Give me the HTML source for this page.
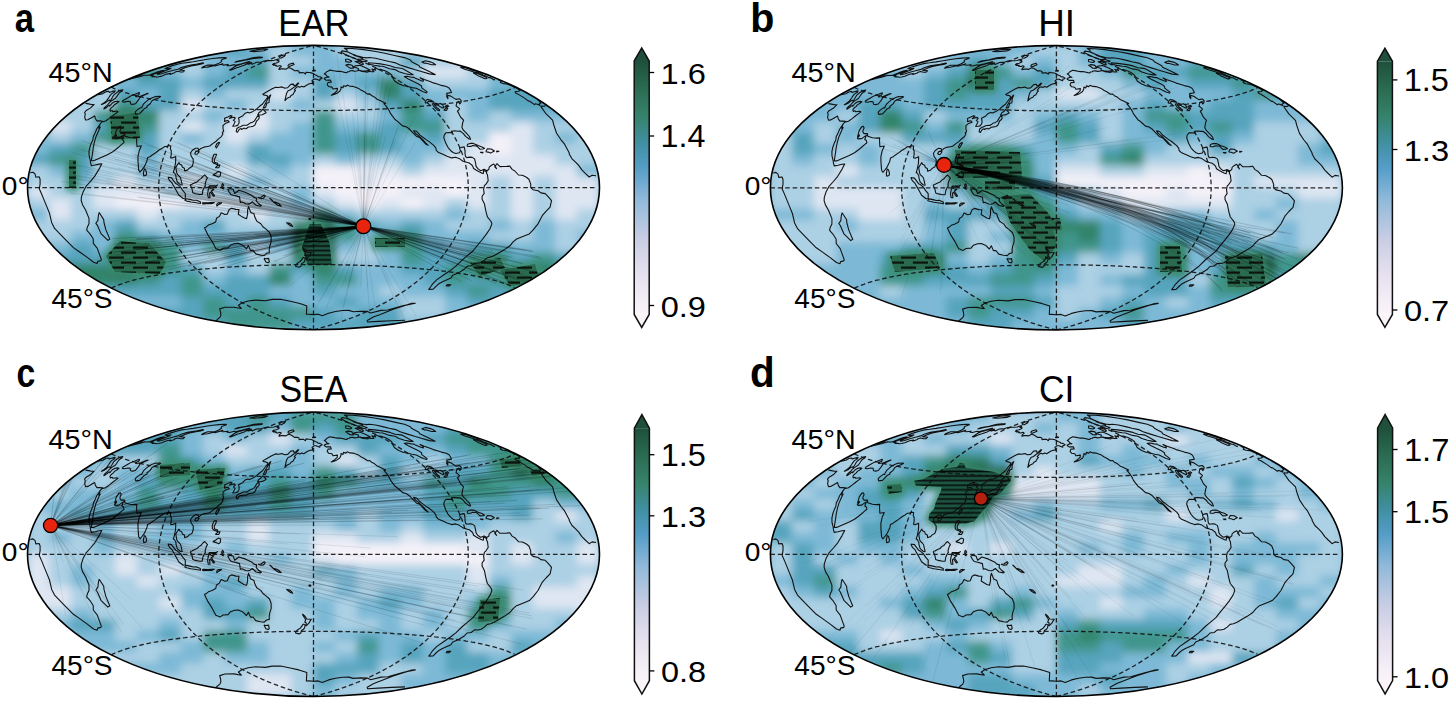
<!DOCTYPE html><html><head><meta charset="utf-8"><style>html,body{margin:0;padding:0;background:#fff;width:1450px;height:701px;overflow:hidden}svg{display:block}text{font-family:"Liberation Sans",sans-serif}</style></head><body>
<svg width="1450" height="701" viewBox="0 0 1450 701">
<defs><filter id="bl" x="-5%" y="-5%" width="110%" height="110%"><feGaussianBlur stdDeviation="4"/></filter><linearGradient id="cbg" x1="0" y1="0" x2="0" y2="1"><stop offset="0.000" stop-color="#1e503c"/><stop offset="0.110" stop-color="#2b6c52"/><stop offset="0.220" stop-color="#36836c"/><stop offset="0.320" stop-color="#408fa0"/><stop offset="0.420" stop-color="#549dc8"/><stop offset="0.550" stop-color="#92bada"/><stop offset="0.700" stop-color="#c8cde4"/><stop offset="0.850" stop-color="#e8e2f0"/><stop offset="1.000" stop-color="#faf4f9"/></linearGradient><clipPath id="clipa"><ellipse cx="313.5" cy="187.6" rx="286.0" ry="142.2"/></clipPath><clipPath id="clipb"><ellipse cx="1056.4" cy="187.8" rx="286.0" ry="142.2"/></clipPath><clipPath id="clipc"><ellipse cx="313.5" cy="554.3" rx="286.0" ry="142.2"/></clipPath><clipPath id="clipd"><ellipse cx="1056.4" cy="554.3" rx="286.0" ry="142.2"/></clipPath><pattern id="stp" width="24" height="10" patternUnits="userSpaceOnUse"><rect width="24" height="10" fill="#2a6a50"/><rect x="1" y="1.5" width="15" height="2.2" fill="#08140f"/><rect x="13" y="6.5" width="15" height="2.2" fill="#08140f"/><rect x="-11" y="6.5" width="15" height="2.2" fill="#08140f"/></pattern><pattern id="stp2" width="8" height="4.6" patternUnits="userSpaceOnUse"><rect width="8" height="4.6" fill="#1f5541"/><rect y="1.4" width="8" height="1.7" fill="#06100c"/></pattern><filter id="bl3" x="-20%" y="-20%" width="140%" height="140%"><feGaussianBlur stdDeviation="3"/></filter><filter id="bl1" x="-10%" y="-10%" width="120%" height="120%"><feGaussianBlur stdDeviation="0.7"/></filter></defs>
<g clip-path="url(#clipa)">
<rect x="27.5" y="45.4" width="572.0" height="284.4" fill="#7db9d6"/>
<g filter="url(#bl)"><rect x="27" y="44.9" width="23" height="11.9" fill="#7db9d6"/><rect x="49" y="44.9" width="23" height="11.9" fill="#7db9d6"/><rect x="71" y="44.9" width="23" height="11.9" fill="#7db9d6"/><rect x="93" y="44.9" width="23" height="11.9" fill="#7db9d6"/><rect x="115" y="44.9" width="23" height="11.9" fill="#7db9d6"/><rect x="137" y="44.9" width="23" height="11.9" fill="#7db9d6"/><rect x="159" y="44.9" width="23" height="11.9" fill="#7db9d6"/><rect x="181" y="44.9" width="23" height="11.9" fill="#7db9d6"/><rect x="203" y="44.9" width="23" height="11.9" fill="#7db9d6"/><rect x="225" y="44.9" width="23" height="11.9" fill="#56a4be"/><rect x="247" y="44.9" width="23" height="11.9" fill="#7db9d6"/><rect x="269" y="44.9" width="23" height="11.9" fill="#acd0e4"/><rect x="291" y="44.9" width="23" height="11.9" fill="#7db9d6"/><rect x="313" y="44.9" width="23" height="11.9" fill="#7db9d6"/><rect x="335" y="44.9" width="23" height="11.9" fill="#acd0e4"/><rect x="357" y="44.9" width="23" height="11.9" fill="#acd0e4"/><rect x="379" y="44.9" width="23" height="11.9" fill="#acd0e4"/><rect x="401" y="44.9" width="23" height="11.9" fill="#acd0e4"/><rect x="423" y="44.9" width="23" height="11.9" fill="#acd0e4"/><rect x="445" y="44.9" width="23" height="11.9" fill="#acd0e4"/><rect x="467" y="44.9" width="23" height="11.9" fill="#acd0e4"/><rect x="489" y="44.9" width="23" height="11.9" fill="#acd0e4"/><rect x="511" y="44.9" width="23" height="11.9" fill="#acd0e4"/><rect x="533" y="44.9" width="23" height="11.9" fill="#acd0e4"/><rect x="555" y="44.9" width="23" height="11.9" fill="#acd0e4"/><rect x="577" y="44.9" width="23" height="11.9" fill="#acd0e4"/><rect x="27" y="55.8" width="23" height="11.9" fill="#7db9d6"/><rect x="49" y="55.8" width="23" height="11.9" fill="#7db9d6"/><rect x="71" y="55.8" width="23" height="11.9" fill="#7db9d6"/><rect x="93" y="55.8" width="23" height="11.9" fill="#7db9d6"/><rect x="115" y="55.8" width="23" height="11.9" fill="#7db9d6"/><rect x="137" y="55.8" width="23" height="11.9" fill="#7db9d6"/><rect x="159" y="55.8" width="23" height="11.9" fill="#56a4be"/><rect x="181" y="55.8" width="23" height="11.9" fill="#acd0e4"/><rect x="203" y="55.8" width="23" height="11.9" fill="#7db9d6"/><rect x="225" y="55.8" width="23" height="11.9" fill="#7db9d6"/><rect x="247" y="55.8" width="23" height="11.9" fill="#56a4be"/><rect x="269" y="55.8" width="23" height="11.9" fill="#acd0e4"/><rect x="291" y="55.8" width="23" height="11.9" fill="#acd0e4"/><rect x="313" y="55.8" width="23" height="11.9" fill="#7db9d6"/><rect x="335" y="55.8" width="23" height="11.9" fill="#7db9d6"/><rect x="357" y="55.8" width="23" height="11.9" fill="#acd0e4"/><rect x="379" y="55.8" width="23" height="11.9" fill="#acd0e4"/><rect x="401" y="55.8" width="23" height="11.9" fill="#56a4be"/><rect x="423" y="55.8" width="23" height="11.9" fill="#acd0e4"/><rect x="445" y="55.8" width="23" height="11.9" fill="#acd0e4"/><rect x="467" y="55.8" width="23" height="11.9" fill="#acd0e4"/><rect x="489" y="55.8" width="23" height="11.9" fill="#acd0e4"/><rect x="511" y="55.8" width="23" height="11.9" fill="#acd0e4"/><rect x="533" y="55.8" width="23" height="11.9" fill="#acd0e4"/><rect x="555" y="55.8" width="23" height="11.9" fill="#acd0e4"/><rect x="577" y="55.8" width="23" height="11.9" fill="#acd0e4"/><rect x="27" y="66.8" width="23" height="11.9" fill="#56a4be"/><rect x="49" y="66.8" width="23" height="11.9" fill="#56a4be"/><rect x="71" y="66.8" width="23" height="11.9" fill="#56a4be"/><rect x="93" y="66.8" width="23" height="11.9" fill="#56a4be"/><rect x="115" y="66.8" width="23" height="11.9" fill="#56a4be"/><rect x="137" y="66.8" width="23" height="11.9" fill="#40968c"/><rect x="159" y="66.8" width="23" height="11.9" fill="#7db9d6"/><rect x="181" y="66.8" width="23" height="11.9" fill="#acd0e4"/><rect x="203" y="66.8" width="23" height="11.9" fill="#7db9d6"/><rect x="225" y="66.8" width="23" height="11.9" fill="#56a4be"/><rect x="247" y="66.8" width="23" height="11.9" fill="#40968c"/><rect x="269" y="66.8" width="23" height="11.9" fill="#acd0e4"/><rect x="291" y="66.8" width="23" height="11.9" fill="#7db9d6"/><rect x="313" y="66.8" width="23" height="11.9" fill="#7db9d6"/><rect x="335" y="66.8" width="23" height="11.9" fill="#7db9d6"/><rect x="357" y="66.8" width="23" height="11.9" fill="#7db9d6"/><rect x="379" y="66.8" width="23" height="11.9" fill="#7db9d6"/><rect x="401" y="66.8" width="23" height="11.9" fill="#acd0e4"/><rect x="423" y="66.8" width="23" height="11.9" fill="#dee6f2"/><rect x="445" y="66.8" width="23" height="11.9" fill="#dee6f2"/><rect x="467" y="66.8" width="23" height="11.9" fill="#acd0e4"/><rect x="489" y="66.8" width="23" height="11.9" fill="#56a4be"/><rect x="511" y="66.8" width="23" height="11.9" fill="#7db9d6"/><rect x="533" y="66.8" width="23" height="11.9" fill="#7db9d6"/><rect x="555" y="66.8" width="23" height="11.9" fill="#7db9d6"/><rect x="577" y="66.8" width="23" height="11.9" fill="#7db9d6"/><rect x="27" y="77.7" width="23" height="11.9" fill="#7db9d6"/><rect x="49" y="77.7" width="23" height="11.9" fill="#7db9d6"/><rect x="71" y="77.7" width="23" height="11.9" fill="#7db9d6"/><rect x="93" y="77.7" width="23" height="11.9" fill="#7db9d6"/><rect x="115" y="77.7" width="23" height="11.9" fill="#7db9d6"/><rect x="137" y="77.7" width="23" height="11.9" fill="#56a4be"/><rect x="159" y="77.7" width="23" height="11.9" fill="#56a4be"/><rect x="181" y="77.7" width="23" height="11.9" fill="#7db9d6"/><rect x="203" y="77.7" width="23" height="11.9" fill="#56a4be"/><rect x="225" y="77.7" width="23" height="11.9" fill="#56a4be"/><rect x="247" y="77.7" width="23" height="11.9" fill="#56a4be"/><rect x="269" y="77.7" width="23" height="11.9" fill="#acd0e4"/><rect x="291" y="77.7" width="23" height="11.9" fill="#acd0e4"/><rect x="313" y="77.7" width="23" height="11.9" fill="#56a4be"/><rect x="335" y="77.7" width="23" height="11.9" fill="#7db9d6"/><rect x="357" y="77.7" width="23" height="11.9" fill="#56a4be"/><rect x="379" y="77.7" width="23" height="11.9" fill="#32846a"/><rect x="401" y="77.7" width="23" height="11.9" fill="#56a4be"/><rect x="423" y="77.7" width="23" height="11.9" fill="#acd0e4"/><rect x="445" y="77.7" width="23" height="11.9" fill="#acd0e4"/><rect x="467" y="77.7" width="23" height="11.9" fill="#acd0e4"/><rect x="489" y="77.7" width="23" height="11.9" fill="#7db9d6"/><rect x="511" y="77.7" width="23" height="11.9" fill="#56a4be"/><rect x="533" y="77.7" width="23" height="11.9" fill="#56a4be"/><rect x="555" y="77.7" width="23" height="11.9" fill="#56a4be"/><rect x="577" y="77.7" width="23" height="11.9" fill="#56a4be"/><rect x="27" y="88.7" width="23" height="11.9" fill="#7db9d6"/><rect x="49" y="88.7" width="23" height="11.9" fill="#7db9d6"/><rect x="71" y="88.7" width="23" height="11.9" fill="#7db9d6"/><rect x="93" y="88.7" width="23" height="11.9" fill="#acd0e4"/><rect x="115" y="88.7" width="23" height="11.9" fill="#56a4be"/><rect x="137" y="88.7" width="23" height="11.9" fill="#7db9d6"/><rect x="159" y="88.7" width="23" height="11.9" fill="#56a4be"/><rect x="181" y="88.7" width="23" height="11.9" fill="#acd0e4"/><rect x="203" y="88.7" width="23" height="11.9" fill="#7db9d6"/><rect x="225" y="88.7" width="23" height="11.9" fill="#acd0e4"/><rect x="247" y="88.7" width="23" height="11.9" fill="#acd0e4"/><rect x="269" y="88.7" width="23" height="11.9" fill="#dee6f2"/><rect x="291" y="88.7" width="23" height="11.9" fill="#acd0e4"/><rect x="313" y="88.7" width="23" height="11.9" fill="#56a4be"/><rect x="335" y="88.7" width="23" height="11.9" fill="#acd0e4"/><rect x="357" y="88.7" width="23" height="11.9" fill="#7db9d6"/><rect x="379" y="88.7" width="23" height="11.9" fill="#32846a"/><rect x="401" y="88.7" width="23" height="11.9" fill="#56a4be"/><rect x="423" y="88.7" width="23" height="11.9" fill="#7db9d6"/><rect x="445" y="88.7" width="23" height="11.9" fill="#7db9d6"/><rect x="467" y="88.7" width="23" height="11.9" fill="#7db9d6"/><rect x="489" y="88.7" width="23" height="11.9" fill="#56a4be"/><rect x="511" y="88.7" width="23" height="11.9" fill="#56a4be"/><rect x="533" y="88.7" width="23" height="11.9" fill="#56a4be"/><rect x="555" y="88.7" width="23" height="11.9" fill="#56a4be"/><rect x="577" y="88.7" width="23" height="11.9" fill="#56a4be"/><rect x="27" y="99.6" width="23" height="11.9" fill="#7db9d6"/><rect x="49" y="99.6" width="23" height="11.9" fill="#7db9d6"/><rect x="71" y="99.6" width="23" height="11.9" fill="#acd0e4"/><rect x="93" y="99.6" width="23" height="11.9" fill="#acd0e4"/><rect x="115" y="99.6" width="23" height="11.9" fill="#40968c"/><rect x="137" y="99.6" width="23" height="11.9" fill="#56a4be"/><rect x="159" y="99.6" width="23" height="11.9" fill="#56a4be"/><rect x="181" y="99.6" width="23" height="11.9" fill="#dee6f2"/><rect x="203" y="99.6" width="23" height="11.9" fill="#acd0e4"/><rect x="225" y="99.6" width="23" height="11.9" fill="#7db9d6"/><rect x="247" y="99.6" width="23" height="11.9" fill="#acd0e4"/><rect x="269" y="99.6" width="23" height="11.9" fill="#acd0e4"/><rect x="291" y="99.6" width="23" height="11.9" fill="#7db9d6"/><rect x="313" y="99.6" width="23" height="11.9" fill="#acd0e4"/><rect x="335" y="99.6" width="23" height="11.9" fill="#dee6f2"/><rect x="357" y="99.6" width="23" height="11.9" fill="#acd0e4"/><rect x="379" y="99.6" width="23" height="11.9" fill="#56a4be"/><rect x="401" y="99.6" width="23" height="11.9" fill="#32846a"/><rect x="423" y="99.6" width="23" height="11.9" fill="#7db9d6"/><rect x="445" y="99.6" width="23" height="11.9" fill="#acd0e4"/><rect x="467" y="99.6" width="23" height="11.9" fill="#7db9d6"/><rect x="489" y="99.6" width="23" height="11.9" fill="#56a4be"/><rect x="511" y="99.6" width="23" height="11.9" fill="#56a4be"/><rect x="533" y="99.6" width="23" height="11.9" fill="#56a4be"/><rect x="555" y="99.6" width="23" height="11.9" fill="#7db9d6"/><rect x="577" y="99.6" width="23" height="11.9" fill="#7db9d6"/><rect x="27" y="110.5" width="23" height="11.9" fill="#acd0e4"/><rect x="49" y="110.5" width="23" height="11.9" fill="#acd0e4"/><rect x="71" y="110.5" width="23" height="11.9" fill="#acd0e4"/><rect x="93" y="110.5" width="23" height="11.9" fill="#40968c"/><rect x="115" y="110.5" width="23" height="11.9" fill="#26644b"/><rect x="137" y="110.5" width="23" height="11.9" fill="#32846a"/><rect x="159" y="110.5" width="23" height="11.9" fill="#acd0e4"/><rect x="181" y="110.5" width="23" height="11.9" fill="#acd0e4"/><rect x="203" y="110.5" width="23" height="11.9" fill="#7db9d6"/><rect x="225" y="110.5" width="23" height="11.9" fill="#acd0e4"/><rect x="247" y="110.5" width="23" height="11.9" fill="#dee6f2"/><rect x="269" y="110.5" width="23" height="11.9" fill="#acd0e4"/><rect x="291" y="110.5" width="23" height="11.9" fill="#acd0e4"/><rect x="313" y="110.5" width="23" height="11.9" fill="#40968c"/><rect x="335" y="110.5" width="23" height="11.9" fill="#acd0e4"/><rect x="357" y="110.5" width="23" height="11.9" fill="#acd0e4"/><rect x="379" y="110.5" width="23" height="11.9" fill="#7db9d6"/><rect x="401" y="110.5" width="23" height="11.9" fill="#40968c"/><rect x="423" y="110.5" width="23" height="11.9" fill="#56a4be"/><rect x="445" y="110.5" width="23" height="11.9" fill="#acd0e4"/><rect x="467" y="110.5" width="23" height="11.9" fill="#7db9d6"/><rect x="489" y="110.5" width="23" height="11.9" fill="#acd0e4"/><rect x="511" y="110.5" width="23" height="11.9" fill="#7db9d6"/><rect x="533" y="110.5" width="23" height="11.9" fill="#7db9d6"/><rect x="555" y="110.5" width="23" height="11.9" fill="#7db9d6"/><rect x="577" y="110.5" width="23" height="11.9" fill="#7db9d6"/><rect x="27" y="121.5" width="23" height="11.9" fill="#7db9d6"/><rect x="49" y="121.5" width="23" height="11.9" fill="#dee6f2"/><rect x="71" y="121.5" width="23" height="11.9" fill="#acd0e4"/><rect x="93" y="121.5" width="23" height="11.9" fill="#56a4be"/><rect x="115" y="121.5" width="23" height="11.9" fill="#26644b"/><rect x="137" y="121.5" width="23" height="11.9" fill="#40968c"/><rect x="159" y="121.5" width="23" height="11.9" fill="#acd0e4"/><rect x="181" y="121.5" width="23" height="11.9" fill="#dee6f2"/><rect x="203" y="121.5" width="23" height="11.9" fill="#acd0e4"/><rect x="225" y="121.5" width="23" height="11.9" fill="#dee6f2"/><rect x="247" y="121.5" width="23" height="11.9" fill="#dee6f2"/><rect x="269" y="121.5" width="23" height="11.9" fill="#acd0e4"/><rect x="291" y="121.5" width="23" height="11.9" fill="#7db9d6"/><rect x="313" y="121.5" width="23" height="11.9" fill="#40968c"/><rect x="335" y="121.5" width="23" height="11.9" fill="#7db9d6"/><rect x="357" y="121.5" width="23" height="11.9" fill="#7db9d6"/><rect x="379" y="121.5" width="23" height="11.9" fill="#56a4be"/><rect x="401" y="121.5" width="23" height="11.9" fill="#40968c"/><rect x="423" y="121.5" width="23" height="11.9" fill="#40968c"/><rect x="445" y="121.5" width="23" height="11.9" fill="#acd0e4"/><rect x="467" y="121.5" width="23" height="11.9" fill="#acd0e4"/><rect x="489" y="121.5" width="23" height="11.9" fill="#acd0e4"/><rect x="511" y="121.5" width="23" height="11.9" fill="#dee6f2"/><rect x="533" y="121.5" width="23" height="11.9" fill="#acd0e4"/><rect x="555" y="121.5" width="23" height="11.9" fill="#acd0e4"/><rect x="577" y="121.5" width="23" height="11.9" fill="#7db9d6"/><rect x="27" y="132.4" width="23" height="11.9" fill="#7db9d6"/><rect x="49" y="132.4" width="23" height="11.9" fill="#acd0e4"/><rect x="71" y="132.4" width="23" height="11.9" fill="#7db9d6"/><rect x="93" y="132.4" width="23" height="11.9" fill="#40968c"/><rect x="115" y="132.4" width="23" height="11.9" fill="#40968c"/><rect x="137" y="132.4" width="23" height="11.9" fill="#56a4be"/><rect x="159" y="132.4" width="23" height="11.9" fill="#acd0e4"/><rect x="181" y="132.4" width="23" height="11.9" fill="#7db9d6"/><rect x="203" y="132.4" width="23" height="11.9" fill="#acd0e4"/><rect x="225" y="132.4" width="23" height="11.9" fill="#dee6f2"/><rect x="247" y="132.4" width="23" height="11.9" fill="#acd0e4"/><rect x="269" y="132.4" width="23" height="11.9" fill="#7db9d6"/><rect x="291" y="132.4" width="23" height="11.9" fill="#7db9d6"/><rect x="313" y="132.4" width="23" height="11.9" fill="#40968c"/><rect x="335" y="132.4" width="23" height="11.9" fill="#56a4be"/><rect x="357" y="132.4" width="23" height="11.9" fill="#40968c"/><rect x="379" y="132.4" width="23" height="11.9" fill="#56a4be"/><rect x="401" y="132.4" width="23" height="11.9" fill="#7db9d6"/><rect x="423" y="132.4" width="23" height="11.9" fill="#56a4be"/><rect x="445" y="132.4" width="23" height="11.9" fill="#acd0e4"/><rect x="467" y="132.4" width="23" height="11.9" fill="#acd0e4"/><rect x="489" y="132.4" width="23" height="11.9" fill="#f4f1f8"/><rect x="511" y="132.4" width="23" height="11.9" fill="#dee6f2"/><rect x="533" y="132.4" width="23" height="11.9" fill="#acd0e4"/><rect x="555" y="132.4" width="23" height="11.9" fill="#7db9d6"/><rect x="577" y="132.4" width="23" height="11.9" fill="#acd0e4"/><rect x="27" y="143.3" width="23" height="11.9" fill="#7db9d6"/><rect x="49" y="143.3" width="23" height="11.9" fill="#56a4be"/><rect x="71" y="143.3" width="23" height="11.9" fill="#40968c"/><rect x="93" y="143.3" width="23" height="11.9" fill="#acd0e4"/><rect x="115" y="143.3" width="23" height="11.9" fill="#acd0e4"/><rect x="137" y="143.3" width="23" height="11.9" fill="#56a4be"/><rect x="159" y="143.3" width="23" height="11.9" fill="#acd0e4"/><rect x="181" y="143.3" width="23" height="11.9" fill="#acd0e4"/><rect x="203" y="143.3" width="23" height="11.9" fill="#acd0e4"/><rect x="225" y="143.3" width="23" height="11.9" fill="#acd0e4"/><rect x="247" y="143.3" width="23" height="11.9" fill="#56a4be"/><rect x="269" y="143.3" width="23" height="11.9" fill="#7db9d6"/><rect x="291" y="143.3" width="23" height="11.9" fill="#7db9d6"/><rect x="313" y="143.3" width="23" height="11.9" fill="#40968c"/><rect x="335" y="143.3" width="23" height="11.9" fill="#56a4be"/><rect x="357" y="143.3" width="23" height="11.9" fill="#40968c"/><rect x="379" y="143.3" width="23" height="11.9" fill="#56a4be"/><rect x="401" y="143.3" width="23" height="11.9" fill="#7db9d6"/><rect x="423" y="143.3" width="23" height="11.9" fill="#7db9d6"/><rect x="445" y="143.3" width="23" height="11.9" fill="#acd0e4"/><rect x="467" y="143.3" width="23" height="11.9" fill="#dee6f2"/><rect x="489" y="143.3" width="23" height="11.9" fill="#f4f1f8"/><rect x="511" y="143.3" width="23" height="11.9" fill="#dee6f2"/><rect x="533" y="143.3" width="23" height="11.9" fill="#acd0e4"/><rect x="555" y="143.3" width="23" height="11.9" fill="#acd0e4"/><rect x="577" y="143.3" width="23" height="11.9" fill="#acd0e4"/><rect x="27" y="154.3" width="23" height="11.9" fill="#56a4be"/><rect x="49" y="154.3" width="23" height="11.9" fill="#40968c"/><rect x="71" y="154.3" width="23" height="11.9" fill="#56a4be"/><rect x="93" y="154.3" width="23" height="11.9" fill="#acd0e4"/><rect x="115" y="154.3" width="23" height="11.9" fill="#acd0e4"/><rect x="137" y="154.3" width="23" height="11.9" fill="#7db9d6"/><rect x="159" y="154.3" width="23" height="11.9" fill="#acd0e4"/><rect x="181" y="154.3" width="23" height="11.9" fill="#acd0e4"/><rect x="203" y="154.3" width="23" height="11.9" fill="#acd0e4"/><rect x="225" y="154.3" width="23" height="11.9" fill="#acd0e4"/><rect x="247" y="154.3" width="23" height="11.9" fill="#56a4be"/><rect x="269" y="154.3" width="23" height="11.9" fill="#56a4be"/><rect x="291" y="154.3" width="23" height="11.9" fill="#7db9d6"/><rect x="313" y="154.3" width="23" height="11.9" fill="#acd0e4"/><rect x="335" y="154.3" width="23" height="11.9" fill="#7db9d6"/><rect x="357" y="154.3" width="23" height="11.9" fill="#acd0e4"/><rect x="379" y="154.3" width="23" height="11.9" fill="#acd0e4"/><rect x="401" y="154.3" width="23" height="11.9" fill="#7db9d6"/><rect x="423" y="154.3" width="23" height="11.9" fill="#acd0e4"/><rect x="445" y="154.3" width="23" height="11.9" fill="#dee6f2"/><rect x="467" y="154.3" width="23" height="11.9" fill="#dee6f2"/><rect x="489" y="154.3" width="23" height="11.9" fill="#dee6f2"/><rect x="511" y="154.3" width="23" height="11.9" fill="#dee6f2"/><rect x="533" y="154.3" width="23" height="11.9" fill="#dee6f2"/><rect x="555" y="154.3" width="23" height="11.9" fill="#acd0e4"/><rect x="577" y="154.3" width="23" height="11.9" fill="#acd0e4"/><rect x="27" y="165.2" width="23" height="11.9" fill="#acd0e4"/><rect x="49" y="165.2" width="23" height="11.9" fill="#7db9d6"/><rect x="71" y="165.2" width="23" height="11.9" fill="#56a4be"/><rect x="93" y="165.2" width="23" height="11.9" fill="#acd0e4"/><rect x="115" y="165.2" width="23" height="11.9" fill="#acd0e4"/><rect x="137" y="165.2" width="23" height="11.9" fill="#7db9d6"/><rect x="159" y="165.2" width="23" height="11.9" fill="#acd0e4"/><rect x="181" y="165.2" width="23" height="11.9" fill="#acd0e4"/><rect x="203" y="165.2" width="23" height="11.9" fill="#acd0e4"/><rect x="225" y="165.2" width="23" height="11.9" fill="#dee6f2"/><rect x="247" y="165.2" width="23" height="11.9" fill="#acd0e4"/><rect x="269" y="165.2" width="23" height="11.9" fill="#7db9d6"/><rect x="291" y="165.2" width="23" height="11.9" fill="#acd0e4"/><rect x="313" y="165.2" width="23" height="11.9" fill="#f4f1f8"/><rect x="335" y="165.2" width="23" height="11.9" fill="#f4f1f8"/><rect x="357" y="165.2" width="23" height="11.9" fill="#dee6f2"/><rect x="379" y="165.2" width="23" height="11.9" fill="#dee6f2"/><rect x="401" y="165.2" width="23" height="11.9" fill="#acd0e4"/><rect x="423" y="165.2" width="23" height="11.9" fill="#dee6f2"/><rect x="445" y="165.2" width="23" height="11.9" fill="#dee6f2"/><rect x="467" y="165.2" width="23" height="11.9" fill="#dee6f2"/><rect x="489" y="165.2" width="23" height="11.9" fill="#dee6f2"/><rect x="511" y="165.2" width="23" height="11.9" fill="#dee6f2"/><rect x="533" y="165.2" width="23" height="11.9" fill="#dee6f2"/><rect x="555" y="165.2" width="23" height="11.9" fill="#dee6f2"/><rect x="577" y="165.2" width="23" height="11.9" fill="#7db9d6"/><rect x="27" y="176.2" width="23" height="11.9" fill="#acd0e4"/><rect x="49" y="176.2" width="23" height="11.9" fill="#acd0e4"/><rect x="71" y="176.2" width="23" height="11.9" fill="#7db9d6"/><rect x="93" y="176.2" width="23" height="11.9" fill="#acd0e4"/><rect x="115" y="176.2" width="23" height="11.9" fill="#dee6f2"/><rect x="137" y="176.2" width="23" height="11.9" fill="#acd0e4"/><rect x="159" y="176.2" width="23" height="11.9" fill="#acd0e4"/><rect x="181" y="176.2" width="23" height="11.9" fill="#dee6f2"/><rect x="203" y="176.2" width="23" height="11.9" fill="#acd0e4"/><rect x="225" y="176.2" width="23" height="11.9" fill="#acd0e4"/><rect x="247" y="176.2" width="23" height="11.9" fill="#7db9d6"/><rect x="269" y="176.2" width="23" height="11.9" fill="#acd0e4"/><rect x="291" y="176.2" width="23" height="11.9" fill="#acd0e4"/><rect x="313" y="176.2" width="23" height="11.9" fill="#f4f1f8"/><rect x="335" y="176.2" width="23" height="11.9" fill="#f4f1f8"/><rect x="357" y="176.2" width="23" height="11.9" fill="#dee6f2"/><rect x="379" y="176.2" width="23" height="11.9" fill="#f4f1f8"/><rect x="401" y="176.2" width="23" height="11.9" fill="#f4f1f8"/><rect x="423" y="176.2" width="23" height="11.9" fill="#f4f1f8"/><rect x="445" y="176.2" width="23" height="11.9" fill="#f4f1f8"/><rect x="467" y="176.2" width="23" height="11.9" fill="#dee6f2"/><rect x="489" y="176.2" width="23" height="11.9" fill="#acd0e4"/><rect x="511" y="176.2" width="23" height="11.9" fill="#dee6f2"/><rect x="533" y="176.2" width="23" height="11.9" fill="#acd0e4"/><rect x="555" y="176.2" width="23" height="11.9" fill="#dee6f2"/><rect x="577" y="176.2" width="23" height="11.9" fill="#dee6f2"/><rect x="27" y="187.1" width="23" height="11.9" fill="#dee6f2"/><rect x="49" y="187.1" width="23" height="11.9" fill="#acd0e4"/><rect x="71" y="187.1" width="23" height="11.9" fill="#acd0e4"/><rect x="93" y="187.1" width="23" height="11.9" fill="#dee6f2"/><rect x="115" y="187.1" width="23" height="11.9" fill="#dee6f2"/><rect x="137" y="187.1" width="23" height="11.9" fill="#dee6f2"/><rect x="159" y="187.1" width="23" height="11.9" fill="#acd0e4"/><rect x="181" y="187.1" width="23" height="11.9" fill="#acd0e4"/><rect x="203" y="187.1" width="23" height="11.9" fill="#acd0e4"/><rect x="225" y="187.1" width="23" height="11.9" fill="#7db9d6"/><rect x="247" y="187.1" width="23" height="11.9" fill="#acd0e4"/><rect x="269" y="187.1" width="23" height="11.9" fill="#acd0e4"/><rect x="291" y="187.1" width="23" height="11.9" fill="#7db9d6"/><rect x="313" y="187.1" width="23" height="11.9" fill="#dee6f2"/><rect x="335" y="187.1" width="23" height="11.9" fill="#f4f1f8"/><rect x="357" y="187.1" width="23" height="11.9" fill="#f4f1f8"/><rect x="379" y="187.1" width="23" height="11.9" fill="#f4f1f8"/><rect x="401" y="187.1" width="23" height="11.9" fill="#dee6f2"/><rect x="423" y="187.1" width="23" height="11.9" fill="#dee6f2"/><rect x="445" y="187.1" width="23" height="11.9" fill="#f4f1f8"/><rect x="467" y="187.1" width="23" height="11.9" fill="#dee6f2"/><rect x="489" y="187.1" width="23" height="11.9" fill="#acd0e4"/><rect x="511" y="187.1" width="23" height="11.9" fill="#dee6f2"/><rect x="533" y="187.1" width="23" height="11.9" fill="#acd0e4"/><rect x="555" y="187.1" width="23" height="11.9" fill="#dee6f2"/><rect x="577" y="187.1" width="23" height="11.9" fill="#dee6f2"/><rect x="27" y="198" width="23" height="11.9" fill="#acd0e4"/><rect x="49" y="198" width="23" height="11.9" fill="#dee6f2"/><rect x="71" y="198" width="23" height="11.9" fill="#acd0e4"/><rect x="93" y="198" width="23" height="11.9" fill="#dee6f2"/><rect x="115" y="198" width="23" height="11.9" fill="#f4f1f8"/><rect x="137" y="198" width="23" height="11.9" fill="#f4f1f8"/><rect x="159" y="198" width="23" height="11.9" fill="#f4f1f8"/><rect x="181" y="198" width="23" height="11.9" fill="#dee6f2"/><rect x="203" y="198" width="23" height="11.9" fill="#dee6f2"/><rect x="225" y="198" width="23" height="11.9" fill="#dee6f2"/><rect x="247" y="198" width="23" height="11.9" fill="#acd0e4"/><rect x="269" y="198" width="23" height="11.9" fill="#acd0e4"/><rect x="291" y="198" width="23" height="11.9" fill="#7db9d6"/><rect x="313" y="198" width="23" height="11.9" fill="#acd0e4"/><rect x="335" y="198" width="23" height="11.9" fill="#dee6f2"/><rect x="357" y="198" width="23" height="11.9" fill="#f4f1f8"/><rect x="379" y="198" width="23" height="11.9" fill="#dee6f2"/><rect x="401" y="198" width="23" height="11.9" fill="#f4f1f8"/><rect x="423" y="198" width="23" height="11.9" fill="#dee6f2"/><rect x="445" y="198" width="23" height="11.9" fill="#acd0e4"/><rect x="467" y="198" width="23" height="11.9" fill="#dee6f2"/><rect x="489" y="198" width="23" height="11.9" fill="#acd0e4"/><rect x="511" y="198" width="23" height="11.9" fill="#dee6f2"/><rect x="533" y="198" width="23" height="11.9" fill="#acd0e4"/><rect x="555" y="198" width="23" height="11.9" fill="#dee6f2"/><rect x="577" y="198" width="23" height="11.9" fill="#dee6f2"/><rect x="27" y="209" width="23" height="11.9" fill="#7db9d6"/><rect x="49" y="209" width="23" height="11.9" fill="#dee6f2"/><rect x="71" y="209" width="23" height="11.9" fill="#acd0e4"/><rect x="93" y="209" width="23" height="11.9" fill="#acd0e4"/><rect x="115" y="209" width="23" height="11.9" fill="#acd0e4"/><rect x="137" y="209" width="23" height="11.9" fill="#dee6f2"/><rect x="159" y="209" width="23" height="11.9" fill="#acd0e4"/><rect x="181" y="209" width="23" height="11.9" fill="#acd0e4"/><rect x="203" y="209" width="23" height="11.9" fill="#acd0e4"/><rect x="225" y="209" width="23" height="11.9" fill="#acd0e4"/><rect x="247" y="209" width="23" height="11.9" fill="#dee6f2"/><rect x="269" y="209" width="23" height="11.9" fill="#acd0e4"/><rect x="291" y="209" width="23" height="11.9" fill="#acd0e4"/><rect x="313" y="209" width="23" height="11.9" fill="#40968c"/><rect x="335" y="209" width="23" height="11.9" fill="#7db9d6"/><rect x="357" y="209" width="23" height="11.9" fill="#acd0e4"/><rect x="379" y="209" width="23" height="11.9" fill="#acd0e4"/><rect x="401" y="209" width="23" height="11.9" fill="#acd0e4"/><rect x="423" y="209" width="23" height="11.9" fill="#acd0e4"/><rect x="445" y="209" width="23" height="11.9" fill="#7db9d6"/><rect x="467" y="209" width="23" height="11.9" fill="#acd0e4"/><rect x="489" y="209" width="23" height="11.9" fill="#acd0e4"/><rect x="511" y="209" width="23" height="11.9" fill="#dee6f2"/><rect x="533" y="209" width="23" height="11.9" fill="#acd0e4"/><rect x="555" y="209" width="23" height="11.9" fill="#dee6f2"/><rect x="577" y="209" width="23" height="11.9" fill="#acd0e4"/><rect x="27" y="219.9" width="23" height="11.9" fill="#acd0e4"/><rect x="49" y="219.9" width="23" height="11.9" fill="#acd0e4"/><rect x="71" y="219.9" width="23" height="11.9" fill="#acd0e4"/><rect x="93" y="219.9" width="23" height="11.9" fill="#7db9d6"/><rect x="115" y="219.9" width="23" height="11.9" fill="#56a4be"/><rect x="137" y="219.9" width="23" height="11.9" fill="#acd0e4"/><rect x="159" y="219.9" width="23" height="11.9" fill="#acd0e4"/><rect x="181" y="219.9" width="23" height="11.9" fill="#7db9d6"/><rect x="203" y="219.9" width="23" height="11.9" fill="#56a4be"/><rect x="225" y="219.9" width="23" height="11.9" fill="#acd0e4"/><rect x="247" y="219.9" width="23" height="11.9" fill="#acd0e4"/><rect x="269" y="219.9" width="23" height="11.9" fill="#acd0e4"/><rect x="291" y="219.9" width="23" height="11.9" fill="#32846a"/><rect x="313" y="219.9" width="23" height="11.9" fill="#26644b"/><rect x="335" y="219.9" width="23" height="11.9" fill="#40968c"/><rect x="357" y="219.9" width="23" height="11.9" fill="#56a4be"/><rect x="379" y="219.9" width="23" height="11.9" fill="#7db9d6"/><rect x="401" y="219.9" width="23" height="11.9" fill="#56a4be"/><rect x="423" y="219.9" width="23" height="11.9" fill="#7db9d6"/><rect x="445" y="219.9" width="23" height="11.9" fill="#acd0e4"/><rect x="467" y="219.9" width="23" height="11.9" fill="#acd0e4"/><rect x="489" y="219.9" width="23" height="11.9" fill="#7db9d6"/><rect x="511" y="219.9" width="23" height="11.9" fill="#acd0e4"/><rect x="533" y="219.9" width="23" height="11.9" fill="#7db9d6"/><rect x="555" y="219.9" width="23" height="11.9" fill="#acd0e4"/><rect x="577" y="219.9" width="23" height="11.9" fill="#acd0e4"/><rect x="27" y="230.9" width="23" height="11.9" fill="#acd0e4"/><rect x="49" y="230.9" width="23" height="11.9" fill="#acd0e4"/><rect x="71" y="230.9" width="23" height="11.9" fill="#7db9d6"/><rect x="93" y="230.9" width="23" height="11.9" fill="#7db9d6"/><rect x="115" y="230.9" width="23" height="11.9" fill="#40968c"/><rect x="137" y="230.9" width="23" height="11.9" fill="#56a4be"/><rect x="159" y="230.9" width="23" height="11.9" fill="#7db9d6"/><rect x="181" y="230.9" width="23" height="11.9" fill="#7db9d6"/><rect x="203" y="230.9" width="23" height="11.9" fill="#7db9d6"/><rect x="225" y="230.9" width="23" height="11.9" fill="#7db9d6"/><rect x="247" y="230.9" width="23" height="11.9" fill="#7db9d6"/><rect x="269" y="230.9" width="23" height="11.9" fill="#56a4be"/><rect x="291" y="230.9" width="23" height="11.9" fill="#26644b"/><rect x="313" y="230.9" width="23" height="11.9" fill="#184230"/><rect x="335" y="230.9" width="23" height="11.9" fill="#40968c"/><rect x="357" y="230.9" width="23" height="11.9" fill="#7db9d6"/><rect x="379" y="230.9" width="23" height="11.9" fill="#40968c"/><rect x="401" y="230.9" width="23" height="11.9" fill="#40968c"/><rect x="423" y="230.9" width="23" height="11.9" fill="#7db9d6"/><rect x="445" y="230.9" width="23" height="11.9" fill="#7db9d6"/><rect x="467" y="230.9" width="23" height="11.9" fill="#7db9d6"/><rect x="489" y="230.9" width="23" height="11.9" fill="#acd0e4"/><rect x="511" y="230.9" width="23" height="11.9" fill="#acd0e4"/><rect x="533" y="230.9" width="23" height="11.9" fill="#7db9d6"/><rect x="555" y="230.9" width="23" height="11.9" fill="#acd0e4"/><rect x="577" y="230.9" width="23" height="11.9" fill="#7db9d6"/><rect x="27" y="241.8" width="23" height="11.9" fill="#7db9d6"/><rect x="49" y="241.8" width="23" height="11.9" fill="#7db9d6"/><rect x="71" y="241.8" width="23" height="11.9" fill="#56a4be"/><rect x="93" y="241.8" width="23" height="11.9" fill="#7db9d6"/><rect x="115" y="241.8" width="23" height="11.9" fill="#26644b"/><rect x="137" y="241.8" width="23" height="11.9" fill="#26644b"/><rect x="159" y="241.8" width="23" height="11.9" fill="#40968c"/><rect x="181" y="241.8" width="23" height="11.9" fill="#7db9d6"/><rect x="203" y="241.8" width="23" height="11.9" fill="#40968c"/><rect x="225" y="241.8" width="23" height="11.9" fill="#56a4be"/><rect x="247" y="241.8" width="23" height="11.9" fill="#acd0e4"/><rect x="269" y="241.8" width="23" height="11.9" fill="#7db9d6"/><rect x="291" y="241.8" width="23" height="11.9" fill="#26644b"/><rect x="313" y="241.8" width="23" height="11.9" fill="#184230"/><rect x="335" y="241.8" width="23" height="11.9" fill="#7db9d6"/><rect x="357" y="241.8" width="23" height="11.9" fill="#acd0e4"/><rect x="379" y="241.8" width="23" height="11.9" fill="#7db9d6"/><rect x="401" y="241.8" width="23" height="11.9" fill="#40968c"/><rect x="423" y="241.8" width="23" height="11.9" fill="#56a4be"/><rect x="445" y="241.8" width="23" height="11.9" fill="#7db9d6"/><rect x="467" y="241.8" width="23" height="11.9" fill="#56a4be"/><rect x="489" y="241.8" width="23" height="11.9" fill="#56a4be"/><rect x="511" y="241.8" width="23" height="11.9" fill="#7db9d6"/><rect x="533" y="241.8" width="23" height="11.9" fill="#7db9d6"/><rect x="555" y="241.8" width="23" height="11.9" fill="#acd0e4"/><rect x="577" y="241.8" width="23" height="11.9" fill="#acd0e4"/><rect x="27" y="252.7" width="23" height="11.9" fill="#56a4be"/><rect x="49" y="252.7" width="23" height="11.9" fill="#56a4be"/><rect x="71" y="252.7" width="23" height="11.9" fill="#56a4be"/><rect x="93" y="252.7" width="23" height="11.9" fill="#56a4be"/><rect x="115" y="252.7" width="23" height="11.9" fill="#32846a"/><rect x="137" y="252.7" width="23" height="11.9" fill="#26644b"/><rect x="159" y="252.7" width="23" height="11.9" fill="#40968c"/><rect x="181" y="252.7" width="23" height="11.9" fill="#acd0e4"/><rect x="203" y="252.7" width="23" height="11.9" fill="#acd0e4"/><rect x="225" y="252.7" width="23" height="11.9" fill="#56a4be"/><rect x="247" y="252.7" width="23" height="11.9" fill="#acd0e4"/><rect x="269" y="252.7" width="23" height="11.9" fill="#acd0e4"/><rect x="291" y="252.7" width="23" height="11.9" fill="#32846a"/><rect x="313" y="252.7" width="23" height="11.9" fill="#26644b"/><rect x="335" y="252.7" width="23" height="11.9" fill="#acd0e4"/><rect x="357" y="252.7" width="23" height="11.9" fill="#acd0e4"/><rect x="379" y="252.7" width="23" height="11.9" fill="#7db9d6"/><rect x="401" y="252.7" width="23" height="11.9" fill="#40968c"/><rect x="423" y="252.7" width="23" height="11.9" fill="#56a4be"/><rect x="445" y="252.7" width="23" height="11.9" fill="#56a4be"/><rect x="467" y="252.7" width="23" height="11.9" fill="#40968c"/><rect x="489" y="252.7" width="23" height="11.9" fill="#40968c"/><rect x="511" y="252.7" width="23" height="11.9" fill="#56a4be"/><rect x="533" y="252.7" width="23" height="11.9" fill="#40968c"/><rect x="555" y="252.7" width="23" height="11.9" fill="#56a4be"/><rect x="577" y="252.7" width="23" height="11.9" fill="#7db9d6"/><rect x="27" y="263.7" width="23" height="11.9" fill="#32846a"/><rect x="49" y="263.7" width="23" height="11.9" fill="#32846a"/><rect x="71" y="263.7" width="23" height="11.9" fill="#32846a"/><rect x="93" y="263.7" width="23" height="11.9" fill="#32846a"/><rect x="115" y="263.7" width="23" height="11.9" fill="#26644b"/><rect x="137" y="263.7" width="23" height="11.9" fill="#26644b"/><rect x="159" y="263.7" width="23" height="11.9" fill="#40968c"/><rect x="181" y="263.7" width="23" height="11.9" fill="#56a4be"/><rect x="203" y="263.7" width="23" height="11.9" fill="#acd0e4"/><rect x="225" y="263.7" width="23" height="11.9" fill="#7db9d6"/><rect x="247" y="263.7" width="23" height="11.9" fill="#acd0e4"/><rect x="269" y="263.7" width="23" height="11.9" fill="#40968c"/><rect x="291" y="263.7" width="23" height="11.9" fill="#56a4be"/><rect x="313" y="263.7" width="23" height="11.9" fill="#32846a"/><rect x="335" y="263.7" width="23" height="11.9" fill="#56a4be"/><rect x="357" y="263.7" width="23" height="11.9" fill="#7db9d6"/><rect x="379" y="263.7" width="23" height="11.9" fill="#7db9d6"/><rect x="401" y="263.7" width="23" height="11.9" fill="#56a4be"/><rect x="423" y="263.7" width="23" height="11.9" fill="#56a4be"/><rect x="445" y="263.7" width="23" height="11.9" fill="#40968c"/><rect x="467" y="263.7" width="23" height="11.9" fill="#40968c"/><rect x="489" y="263.7" width="23" height="11.9" fill="#56a4be"/><rect x="511" y="263.7" width="23" height="11.9" fill="#40968c"/><rect x="533" y="263.7" width="23" height="11.9" fill="#32846a"/><rect x="555" y="263.7" width="23" height="11.9" fill="#40968c"/><rect x="577" y="263.7" width="23" height="11.9" fill="#40968c"/><rect x="27" y="274.6" width="23" height="11.9" fill="#32846a"/><rect x="49" y="274.6" width="23" height="11.9" fill="#32846a"/><rect x="71" y="274.6" width="23" height="11.9" fill="#32846a"/><rect x="93" y="274.6" width="23" height="11.9" fill="#32846a"/><rect x="115" y="274.6" width="23" height="11.9" fill="#32846a"/><rect x="137" y="274.6" width="23" height="11.9" fill="#40968c"/><rect x="159" y="274.6" width="23" height="11.9" fill="#56a4be"/><rect x="181" y="274.6" width="23" height="11.9" fill="#40968c"/><rect x="203" y="274.6" width="23" height="11.9" fill="#7db9d6"/><rect x="225" y="274.6" width="23" height="11.9" fill="#56a4be"/><rect x="247" y="274.6" width="23" height="11.9" fill="#56a4be"/><rect x="269" y="274.6" width="23" height="11.9" fill="#32846a"/><rect x="291" y="274.6" width="23" height="11.9" fill="#7db9d6"/><rect x="313" y="274.6" width="23" height="11.9" fill="#40968c"/><rect x="335" y="274.6" width="23" height="11.9" fill="#40968c"/><rect x="357" y="274.6" width="23" height="11.9" fill="#7db9d6"/><rect x="379" y="274.6" width="23" height="11.9" fill="#7db9d6"/><rect x="401" y="274.6" width="23" height="11.9" fill="#7db9d6"/><rect x="423" y="274.6" width="23" height="11.9" fill="#56a4be"/><rect x="445" y="274.6" width="23" height="11.9" fill="#40968c"/><rect x="467" y="274.6" width="23" height="11.9" fill="#56a4be"/><rect x="489" y="274.6" width="23" height="11.9" fill="#40968c"/><rect x="511" y="274.6" width="23" height="11.9" fill="#32846a"/><rect x="533" y="274.6" width="23" height="11.9" fill="#40968c"/><rect x="555" y="274.6" width="23" height="11.9" fill="#40968c"/><rect x="577" y="274.6" width="23" height="11.9" fill="#40968c"/><rect x="27" y="285.5" width="23" height="11.9" fill="#56a4be"/><rect x="49" y="285.5" width="23" height="11.9" fill="#56a4be"/><rect x="71" y="285.5" width="23" height="11.9" fill="#56a4be"/><rect x="93" y="285.5" width="23" height="11.9" fill="#56a4be"/><rect x="115" y="285.5" width="23" height="11.9" fill="#56a4be"/><rect x="137" y="285.5" width="23" height="11.9" fill="#56a4be"/><rect x="159" y="285.5" width="23" height="11.9" fill="#56a4be"/><rect x="181" y="285.5" width="23" height="11.9" fill="#40968c"/><rect x="203" y="285.5" width="23" height="11.9" fill="#56a4be"/><rect x="225" y="285.5" width="23" height="11.9" fill="#56a4be"/><rect x="247" y="285.5" width="23" height="11.9" fill="#56a4be"/><rect x="269" y="285.5" width="23" height="11.9" fill="#7db9d6"/><rect x="291" y="285.5" width="23" height="11.9" fill="#7db9d6"/><rect x="313" y="285.5" width="23" height="11.9" fill="#56a4be"/><rect x="335" y="285.5" width="23" height="11.9" fill="#7db9d6"/><rect x="357" y="285.5" width="23" height="11.9" fill="#7db9d6"/><rect x="379" y="285.5" width="23" height="11.9" fill="#acd0e4"/><rect x="401" y="285.5" width="23" height="11.9" fill="#7db9d6"/><rect x="423" y="285.5" width="23" height="11.9" fill="#7db9d6"/><rect x="445" y="285.5" width="23" height="11.9" fill="#56a4be"/><rect x="467" y="285.5" width="23" height="11.9" fill="#40968c"/><rect x="489" y="285.5" width="23" height="11.9" fill="#56a4be"/><rect x="511" y="285.5" width="23" height="11.9" fill="#56a4be"/><rect x="533" y="285.5" width="23" height="11.9" fill="#56a4be"/><rect x="555" y="285.5" width="23" height="11.9" fill="#56a4be"/><rect x="577" y="285.5" width="23" height="11.9" fill="#56a4be"/><rect x="27" y="296.5" width="23" height="11.9" fill="#7db9d6"/><rect x="49" y="296.5" width="23" height="11.9" fill="#7db9d6"/><rect x="71" y="296.5" width="23" height="11.9" fill="#7db9d6"/><rect x="93" y="296.5" width="23" height="11.9" fill="#7db9d6"/><rect x="115" y="296.5" width="23" height="11.9" fill="#7db9d6"/><rect x="137" y="296.5" width="23" height="11.9" fill="#7db9d6"/><rect x="159" y="296.5" width="23" height="11.9" fill="#7db9d6"/><rect x="181" y="296.5" width="23" height="11.9" fill="#56a4be"/><rect x="203" y="296.5" width="23" height="11.9" fill="#40968c"/><rect x="225" y="296.5" width="23" height="11.9" fill="#56a4be"/><rect x="247" y="296.5" width="23" height="11.9" fill="#40968c"/><rect x="269" y="296.5" width="23" height="11.9" fill="#56a4be"/><rect x="291" y="296.5" width="23" height="11.9" fill="#7db9d6"/><rect x="313" y="296.5" width="23" height="11.9" fill="#7db9d6"/><rect x="335" y="296.5" width="23" height="11.9" fill="#56a4be"/><rect x="357" y="296.5" width="23" height="11.9" fill="#7db9d6"/><rect x="379" y="296.5" width="23" height="11.9" fill="#7db9d6"/><rect x="401" y="296.5" width="23" height="11.9" fill="#acd0e4"/><rect x="423" y="296.5" width="23" height="11.9" fill="#acd0e4"/><rect x="445" y="296.5" width="23" height="11.9" fill="#7db9d6"/><rect x="467" y="296.5" width="23" height="11.9" fill="#56a4be"/><rect x="489" y="296.5" width="23" height="11.9" fill="#56a4be"/><rect x="511" y="296.5" width="23" height="11.9" fill="#56a4be"/><rect x="533" y="296.5" width="23" height="11.9" fill="#56a4be"/><rect x="555" y="296.5" width="23" height="11.9" fill="#56a4be"/><rect x="577" y="296.5" width="23" height="11.9" fill="#56a4be"/><rect x="27" y="307.4" width="23" height="11.9" fill="#56a4be"/><rect x="49" y="307.4" width="23" height="11.9" fill="#56a4be"/><rect x="71" y="307.4" width="23" height="11.9" fill="#56a4be"/><rect x="93" y="307.4" width="23" height="11.9" fill="#56a4be"/><rect x="115" y="307.4" width="23" height="11.9" fill="#56a4be"/><rect x="137" y="307.4" width="23" height="11.9" fill="#56a4be"/><rect x="159" y="307.4" width="23" height="11.9" fill="#56a4be"/><rect x="181" y="307.4" width="23" height="11.9" fill="#56a4be"/><rect x="203" y="307.4" width="23" height="11.9" fill="#40968c"/><rect x="225" y="307.4" width="23" height="11.9" fill="#40968c"/><rect x="247" y="307.4" width="23" height="11.9" fill="#40968c"/><rect x="269" y="307.4" width="23" height="11.9" fill="#40968c"/><rect x="291" y="307.4" width="23" height="11.9" fill="#40968c"/><rect x="313" y="307.4" width="23" height="11.9" fill="#56a4be"/><rect x="335" y="307.4" width="23" height="11.9" fill="#7db9d6"/><rect x="357" y="307.4" width="23" height="11.9" fill="#56a4be"/><rect x="379" y="307.4" width="23" height="11.9" fill="#56a4be"/><rect x="401" y="307.4" width="23" height="11.9" fill="#acd0e4"/><rect x="423" y="307.4" width="23" height="11.9" fill="#acd0e4"/><rect x="445" y="307.4" width="23" height="11.9" fill="#7db9d6"/><rect x="467" y="307.4" width="23" height="11.9" fill="#7db9d6"/><rect x="489" y="307.4" width="23" height="11.9" fill="#7db9d6"/><rect x="511" y="307.4" width="23" height="11.9" fill="#7db9d6"/><rect x="533" y="307.4" width="23" height="11.9" fill="#7db9d6"/><rect x="555" y="307.4" width="23" height="11.9" fill="#7db9d6"/><rect x="577" y="307.4" width="23" height="11.9" fill="#7db9d6"/><rect x="27" y="318.4" width="23" height="11.9" fill="#56a4be"/><rect x="49" y="318.4" width="23" height="11.9" fill="#56a4be"/><rect x="71" y="318.4" width="23" height="11.9" fill="#56a4be"/><rect x="93" y="318.4" width="23" height="11.9" fill="#56a4be"/><rect x="115" y="318.4" width="23" height="11.9" fill="#56a4be"/><rect x="137" y="318.4" width="23" height="11.9" fill="#56a4be"/><rect x="159" y="318.4" width="23" height="11.9" fill="#56a4be"/><rect x="181" y="318.4" width="23" height="11.9" fill="#56a4be"/><rect x="203" y="318.4" width="23" height="11.9" fill="#56a4be"/><rect x="225" y="318.4" width="23" height="11.9" fill="#40968c"/><rect x="247" y="318.4" width="23" height="11.9" fill="#40968c"/><rect x="269" y="318.4" width="23" height="11.9" fill="#40968c"/><rect x="291" y="318.4" width="23" height="11.9" fill="#56a4be"/><rect x="313" y="318.4" width="23" height="11.9" fill="#56a4be"/><rect x="335" y="318.4" width="23" height="11.9" fill="#56a4be"/><rect x="357" y="318.4" width="23" height="11.9" fill="#56a4be"/><rect x="379" y="318.4" width="23" height="11.9" fill="#56a4be"/><rect x="401" y="318.4" width="23" height="11.9" fill="#7db9d6"/><rect x="423" y="318.4" width="23" height="11.9" fill="#7db9d6"/><rect x="445" y="318.4" width="23" height="11.9" fill="#7db9d6"/><rect x="467" y="318.4" width="23" height="11.9" fill="#7db9d6"/><rect x="489" y="318.4" width="23" height="11.9" fill="#7db9d6"/><rect x="511" y="318.4" width="23" height="11.9" fill="#7db9d6"/><rect x="533" y="318.4" width="23" height="11.9" fill="#7db9d6"/><rect x="555" y="318.4" width="23" height="11.9" fill="#7db9d6"/><rect x="577" y="318.4" width="23" height="11.9" fill="#7db9d6"/></g>
<g filter="url(#bl3)" opacity="0.9"><path d="M309.7,224.0 L320.8,224.0 L329.6,242.7 L331.8,264.8 L307.5,264.8 L302.0,247.0 Z" fill="#3d8e72" stroke="#3d8e72" stroke-width="7" stroke-linejoin="round"/><path d="M120.0,241.0 L150.0,244.0 L166.0,262.0 L160.0,274.0 L115.0,272.0 L106.0,256.0 Z" fill="#3d8e72" stroke="#3d8e72" stroke-width="7" stroke-linejoin="round"/><path d="M110.0,116.0 L138.0,113.0 L140.0,138.0 L112.0,140.0 Z" fill="#3d8e72" stroke="#3d8e72" stroke-width="7" stroke-linejoin="round"/><path d="M69.0,160.0 L76.0,160.0 L76.0,188.0 L69.0,188.0 Z" fill="#3d8e72" stroke="#3d8e72" stroke-width="7" stroke-linejoin="round"/><path d="M375.0,238.0 L405.0,238.0 L405.0,247.0 L375.0,247.0 Z" fill="#3d8e72" stroke="#3d8e72" stroke-width="7" stroke-linejoin="round"/><path d="M470.0,263.0 L500.0,258.0 L505.0,268.0 L480.0,276.0 Z" fill="#3d8e72" stroke="#3d8e72" stroke-width="7" stroke-linejoin="round"/><path d="M500.0,270.0 L535.0,264.0 L540.0,282.0 L510.0,286.0 Z" fill="#3d8e72" stroke="#3d8e72" stroke-width="7" stroke-linejoin="round"/></g><g filter="url(#bl1)"><path d="M309.7,224.0 L320.8,224.0 L329.6,242.7 L331.8,264.8 L307.5,264.8 L302.0,247.0 Z" fill="url(#stp2)"/><path d="M120.0,241.0 L150.0,244.0 L166.0,262.0 L160.0,274.0 L115.0,272.0 L106.0,256.0 Z" fill="url(#stp)"/><path d="M110.0,116.0 L138.0,113.0 L140.0,138.0 L112.0,140.0 Z" fill="url(#stp)"/><path d="M69.0,160.0 L76.0,160.0 L76.0,188.0 L69.0,188.0 Z" fill="url(#stp)"/><path d="M375.0,238.0 L405.0,238.0 L405.0,247.0 L375.0,247.0 Z" fill="url(#stp)"/><path d="M470.0,263.0 L500.0,258.0 L505.0,268.0 L480.0,276.0 Z" fill="url(#stp)"/><path d="M500.0,270.0 L535.0,264.0 L540.0,282.0 L510.0,286.0 Z" fill="url(#stp)"/></g>
<path d="M111.3,288.2 L111.3,288.2 L112.5,287.5 L113.8,286.9 L115.2,286.3 L116.6,285.8 L118,285.2 L119.4,284.6 L120.9,284.1 L122.4,283.5 L124,283 L125.5,282.5 L127.2,282 L128.8,281.5 L130.5,281 L132.2,280.5 L133.9,280 L135.7,279.6 L137.4,279.1 L139.3,278.7 L141.1,278.3 L143,277.8 L144.9,277.4 L146.8,277 L148.7,276.6 L150.7,276.2 L152.7,275.8 L154.7,275.5 L156.7,275.1 L158.8,274.7 L160.9,274.4 L163,274 L165.1,273.7 L167.2,273.4 L169.4,273 L171.6,272.7 L173.8,272.4 L176,272.1 L178.2,271.8 L180.5,271.5 L182.8,271.2 L185,271 L187.4,270.7 L189.7,270.4 L192,270.2 L194.4,269.9 L196.7,269.7 L199.1,269.5 L201.5,269.2 L203.9,269 L206.4,268.8 L208.8,268.6 L211.3,268.4 L213.7,268.2 L216.2,268 L218.7,267.8 L221.2,267.6 L223.7,267.4 L226.2,267.3 L228.8,267.1 L231.3,266.9 L233.9,266.8 L236.4,266.6 L239,266.5 L241.6,266.4 L244.2,266.2 L246.8,266.1 L249.4,266 L252,265.9 L254.6,265.7 L257.3,265.6 L259.9,265.5 L262.5,265.4 L265.2,265.4 L267.8,265.3 L270.5,265.2 L273.2,265.1 L275.8,265 L278.5,265 L281.2,264.9 L283.9,264.9 L286.5,264.8 L289.2,264.8 L291.9,264.7 L294.6,264.7 L297.3,264.6 L300,264.6 L302.7,264.6 L305.4,264.6 L308.1,264.6 L310.8,264.6 L313.5,264.6 L316.2,264.6 L318.9,264.6 L321.6,264.6 L324.3,264.6 L327,264.6 L329.7,264.6 L332.4,264.7 L335.1,264.7 L337.8,264.8 L340.5,264.8 L343.1,264.9 L345.8,264.9 L348.5,265 L351.2,265 L353.8,265.1 L356.5,265.2 L359.2,265.3 L361.8,265.4 L364.5,265.4 L367.1,265.5 L369.7,265.6 L372.4,265.7 L375,265.9 L377.6,266 L380.2,266.1 L382.8,266.2 L385.4,266.4 L388,266.5 L390.6,266.6 L393.1,266.8 L395.7,266.9 L398.2,267.1 L400.8,267.3 L403.3,267.4 L405.8,267.6 L408.3,267.8 L410.8,268 L413.3,268.2 L415.7,268.4 L418.2,268.6 L420.6,268.8 L423.1,269 L425.5,269.2 L427.9,269.5 L430.3,269.7 L432.6,269.9 L435,270.2 L437.3,270.4 L439.6,270.7 L442,271 L444.2,271.2 L446.5,271.5 L448.8,271.8 L451,272.1 L453.2,272.4 L455.4,272.7 L457.6,273 L459.8,273.4 L461.9,273.7 L464,274 L466.1,274.4 L468.2,274.7 L470.3,275.1 L472.3,275.5 L474.3,275.8 L476.3,276.2 L478.3,276.6 L480.2,277 L482.1,277.4 L484,277.8 L485.9,278.3 L487.7,278.7 L489.6,279.1 L491.3,279.6 L493.1,280 L494.8,280.5 L496.5,281 L498.2,281.5 L499.8,282 L501.5,282.5 L503,283 L504.6,283.5 L506.1,284.1 L507.6,284.6 L509,285.2 L510.4,285.8 L511.8,286.3 L513.2,286.9 L514.5,287.5 M27.5,187.6 L27.5,187.6 L30,187.6 L32.5,187.6 L35.1,187.6 L37.7,187.6 L40.2,187.6 L42.9,187.6 L45.5,187.6 L48.1,187.6 L50.8,187.6 L53.5,187.6 L56.2,187.6 L59,187.6 L61.7,187.6 L64.5,187.6 L67.3,187.6 L70.1,187.6 L72.9,187.6 L75.8,187.6 L78.6,187.6 L81.5,187.6 L84.4,187.6 L87.3,187.6 L90.3,187.6 L93.2,187.6 L96.2,187.6 L99.2,187.6 L102.2,187.6 L105.2,187.6 L108.2,187.6 L111.3,187.6 L114.3,187.6 L117.4,187.6 L120.5,187.6 L123.6,187.6 L126.7,187.6 L129.9,187.6 L133,187.6 L136.2,187.6 L139.4,187.6 L142.6,187.6 L145.8,187.6 L149,187.6 L152.2,187.6 L155.5,187.6 L158.7,187.6 L162,187.6 L165.3,187.6 L168.6,187.6 L171.9,187.6 L175.2,187.6 L178.5,187.6 L181.8,187.6 L185.2,187.6 L188.5,187.6 L191.9,187.6 L195.2,187.6 L198.6,187.6 L202,187.6 L205.4,187.6 L208.8,187.6 L212.2,187.6 L215.7,187.6 L219.1,187.6 L222.5,187.6 L226,187.6 L229.4,187.6 L232.9,187.6 L236.3,187.6 L239.8,187.6 L243.3,187.6 L246.7,187.6 L250.2,187.6 L253.7,187.6 L257.2,187.6 L260.7,187.6 L264.2,187.6 L267.7,187.6 L271.2,187.6 L274.7,187.6 L278.3,187.6 L281.8,187.6 L285.3,187.6 L288.8,187.6 L292.3,187.6 L295.9,187.6 L299.4,187.6 L302.9,187.6 L306.4,187.6 L310,187.6 L313.5,187.6 L317,187.6 L320.6,187.6 L324.1,187.6 L327.6,187.6 L331.1,187.6 L334.7,187.6 L338.2,187.6 L341.7,187.6 L345.2,187.6 L348.8,187.6 L352.3,187.6 L355.8,187.6 L359.3,187.6 L362.8,187.6 L366.3,187.6 L369.8,187.6 L373.3,187.6 L376.8,187.6 L380.3,187.6 L383.7,187.6 L387.2,187.6 L390.7,187.6 L394.1,187.6 L397.6,187.6 L401,187.6 L404.5,187.6 L407.9,187.6 L411.4,187.6 L414.8,187.6 L418.2,187.6 L421.6,187.6 L425,187.6 L428.4,187.6 L431.8,187.6 L435.1,187.6 L438.5,187.6 L441.8,187.6 L445.2,187.6 L448.5,187.6 L451.8,187.6 L455.1,187.6 L458.4,187.6 L461.7,187.6 L465,187.6 L468.3,187.6 L471.5,187.6 L474.8,187.6 L478,187.6 L481.2,187.6 L484.4,187.6 L487.6,187.6 L490.8,187.6 L494,187.6 L497.1,187.6 L500.3,187.6 L503.4,187.6 L506.5,187.6 L509.6,187.6 L512.7,187.6 L515.7,187.6 L518.8,187.6 L521.8,187.6 L524.8,187.6 L527.8,187.6 L530.8,187.6 L533.8,187.6 L536.7,187.6 L539.7,187.6 L542.6,187.6 L545.5,187.6 L548.4,187.6 L551.2,187.6 L554.1,187.6 L556.9,187.6 L559.7,187.6 L562.5,187.6 L565.3,187.6 L568,187.6 L570.8,187.6 L573.5,187.6 L576.2,187.6 L578.9,187.6 L581.5,187.6 L584.1,187.6 L586.8,187.6 L589.3,187.6 L591.9,187.6 L594.5,187.6 L597,187.6 M111.3,87 L111.3,87 L112.5,87.7 L113.8,88.3 L115.2,88.9 L116.6,89.4 L118,90 L119.4,90.6 L120.9,91.1 L122.4,91.7 L124,92.2 L125.5,92.7 L127.2,93.2 L128.8,93.7 L130.5,94.2 L132.2,94.7 L133.9,95.2 L135.7,95.6 L137.4,96.1 L139.3,96.5 L141.1,96.9 L143,97.4 L144.9,97.8 L146.8,98.2 L148.7,98.6 L150.7,99 L152.7,99.4 L154.7,99.7 L156.7,100.1 L158.8,100.5 L160.9,100.8 L163,101.2 L165.1,101.5 L167.2,101.8 L169.4,102.2 L171.6,102.5 L173.8,102.8 L176,103.1 L178.2,103.4 L180.5,103.7 L182.8,104 L185,104.2 L187.4,104.5 L189.7,104.8 L192,105 L194.4,105.3 L196.7,105.5 L199.1,105.7 L201.5,106 L203.9,106.2 L206.4,106.4 L208.8,106.6 L211.3,106.8 L213.7,107 L216.2,107.2 L218.7,107.4 L221.2,107.6 L223.7,107.8 L226.2,107.9 L228.8,108.1 L231.3,108.3 L233.9,108.4 L236.4,108.6 L239,108.7 L241.6,108.8 L244.2,109 L246.8,109.1 L249.4,109.2 L252,109.3 L254.6,109.5 L257.3,109.6 L259.9,109.7 L262.5,109.8 L265.2,109.8 L267.8,109.9 L270.5,110 L273.2,110.1 L275.8,110.2 L278.5,110.2 L281.2,110.3 L283.9,110.3 L286.5,110.4 L289.2,110.4 L291.9,110.5 L294.6,110.5 L297.3,110.6 L300,110.6 L302.7,110.6 L305.4,110.6 L308.1,110.6 L310.8,110.6 L313.5,110.6 L316.2,110.6 L318.9,110.6 L321.6,110.6 L324.3,110.6 L327,110.6 L329.7,110.6 L332.4,110.5 L335.1,110.5 L337.8,110.4 L340.5,110.4 L343.1,110.3 L345.8,110.3 L348.5,110.2 L351.2,110.2 L353.8,110.1 L356.5,110 L359.2,109.9 L361.8,109.8 L364.5,109.8 L367.1,109.7 L369.7,109.6 L372.4,109.5 L375,109.3 L377.6,109.2 L380.2,109.1 L382.8,109 L385.4,108.8 L388,108.7 L390.6,108.6 L393.1,108.4 L395.7,108.3 L398.2,108.1 L400.8,107.9 L403.3,107.8 L405.8,107.6 L408.3,107.4 L410.8,107.2 L413.3,107 L415.7,106.8 L418.2,106.6 L420.6,106.4 L423.1,106.2 L425.5,106 L427.9,105.7 L430.3,105.5 L432.6,105.3 L435,105 L437.3,104.8 L439.6,104.5 L442,104.2 L444.2,104 L446.5,103.7 L448.8,103.4 L451,103.1 L453.2,102.8 L455.4,102.5 L457.6,102.2 L459.8,101.8 L461.9,101.5 L464,101.2 L466.1,100.8 L468.2,100.5 L470.3,100.1 L472.3,99.7 L474.3,99.4 L476.3,99 L478.3,98.6 L480.2,98.2 L482.1,97.8 L484,97.4 L485.9,96.9 L487.7,96.5 L489.6,96.1 L491.3,95.6 L493.1,95.2 L494.8,94.7 L496.5,94.2 L498.2,93.7 L499.8,93.2 L501.5,92.7 L503,92.2 L504.6,91.7 L506.1,91.1 L507.6,90.6 L509,90 L510.4,89.4 L511.8,88.9 L513.2,88.3 L514.5,87.7 M313.5,329.8 L306.5,328 L299.7,326.1 L293.1,324.1 L286.6,322 L280.4,319.8 L274.2,317.5 L268.3,315.1 L262.5,312.6 L256.9,310.1 L251.4,307.5 L246.1,304.8 L241,302.1 L236,299.3 L231.2,296.4 L226.6,293.5 L222.1,290.5 L217.8,287.4 L213.6,284.3 L209.6,281.1 L205.7,277.9 L202,274.7 L198.5,271.4 L195.1,268 L191.8,264.6 L188.7,261.2 L185.8,257.8 L183,254.3 L180.4,250.7 L177.9,247.2 L175.6,243.6 L173.4,240 L171.4,236.3 L169.5,232.7 L167.8,229 L166.2,225.3 L164.8,221.6 L163.5,217.8 L162.4,214.1 L161.4,210.3 L160.6,206.6 L159.9,202.8 L159.4,199 L159,195.2 L158.8,191.4 L158.7,187.6 L158.8,183.8 L159,180 L159.4,176.2 L159.9,172.4 L160.6,168.6 L161.4,164.9 L162.4,161.1 L163.5,157.4 L164.8,153.6 L166.2,149.9 L167.8,146.2 L169.5,142.5 L171.4,138.9 L173.4,135.2 L175.6,131.6 L177.9,128 L180.4,124.5 L183,120.9 L185.8,117.4 L188.7,114 L191.8,110.6 L195.1,107.2 L198.5,103.8 L202,100.5 L205.7,97.3 L209.6,94.1 L213.6,90.9 L217.8,87.8 L222.1,84.7 L226.6,81.7 L231.2,78.8 L236,75.9 L241,73.1 L246.1,70.4 L251.4,67.7 L256.9,65.1 L262.5,62.6 L268.3,60.1 L274.2,57.7 L280.4,55.4 L286.6,53.2 L293.1,51.1 L299.7,49.1 L306.5,47.2 L313.5,45.4 M313.5,329.8 L313.5,327.3 L313.5,324.8 L313.5,322.2 L313.5,319.5 L313.5,316.9 L313.5,314.2 L313.5,311.4 L313.5,308.6 L313.5,305.8 L313.5,302.9 L313.5,300.1 L313.5,297.1 L313.5,294.2 L313.5,291.2 L313.5,288.2 L313.5,285.1 L313.5,282 L313.5,278.9 L313.5,275.8 L313.5,272.6 L313.5,269.4 L313.5,266.2 L313.5,262.9 L313.5,259.7 L313.5,256.4 L313.5,253.1 L313.5,249.7 L313.5,246.4 L313.5,243 L313.5,239.6 L313.5,236.3 L313.5,232.8 L313.5,229.4 L313.5,226 L313.5,222.5 L313.5,219.1 L313.5,215.6 L313.5,212.1 L313.5,208.6 L313.5,205.1 L313.5,201.6 L313.5,198.1 L313.5,194.6 L313.5,191.1 L313.5,187.6 L313.5,184.1 L313.5,180.6 L313.5,177.1 L313.5,173.6 L313.5,170.1 L313.5,166.6 L313.5,163.1 L313.5,159.6 L313.5,156.1 L313.5,152.7 L313.5,149.2 L313.5,145.8 L313.5,142.4 L313.5,138.9 L313.5,135.6 L313.5,132.2 L313.5,128.8 L313.5,125.5 L313.5,122.1 L313.5,118.8 L313.5,115.5 L313.5,112.3 L313.5,109 L313.5,105.8 L313.5,102.6 L313.5,99.4 L313.5,96.3 L313.5,93.2 L313.5,90.1 L313.5,87 L313.5,84 L313.5,81 L313.5,78.1 L313.5,75.1 L313.5,72.3 L313.5,69.4 L313.5,66.6 L313.5,63.8 L313.5,61 L313.5,58.3 L313.5,55.7 L313.5,53 L313.5,50.4 L313.5,47.9 L313.5,45.4 M313.5,329.8 L320.5,328 L327.3,326.1 L333.9,324.1 L340.4,322 L346.6,319.8 L352.8,317.5 L358.7,315.1 L364.5,312.6 L370.1,310.1 L375.6,307.5 L380.9,304.8 L386,302.1 L391,299.3 L395.8,296.4 L400.4,293.5 L404.9,290.5 L409.2,287.4 L413.4,284.3 L417.4,281.1 L421.3,277.9 L425,274.7 L428.5,271.4 L431.9,268 L435.2,264.6 L438.3,261.2 L441.2,257.8 L444,254.3 L446.6,250.7 L449.1,247.2 L451.4,243.6 L453.6,240 L455.6,236.3 L457.5,232.7 L459.2,229 L460.8,225.3 L462.2,221.6 L463.5,217.8 L464.6,214.1 L465.6,210.3 L466.4,206.6 L467.1,202.8 L467.6,199 L468,195.2 L468.2,191.4 L468.3,187.6 L468.2,183.8 L468,180 L467.6,176.2 L467.1,172.4 L466.4,168.6 L465.6,164.9 L464.6,161.1 L463.5,157.4 L462.2,153.6 L460.8,149.9 L459.2,146.2 L457.5,142.5 L455.6,138.9 L453.6,135.2 L451.4,131.6 L449.1,128 L446.6,124.5 L444,120.9 L441.2,117.4 L438.3,114 L435.2,110.6 L431.9,107.2 L428.5,103.8 L425,100.5 L421.3,97.3 L417.4,94.1 L413.4,90.9 L409.2,87.8 L404.9,84.7 L400.4,81.7 L395.8,78.8 L391,75.9 L386,73.1 L380.9,70.4 L375.6,67.7 L370.1,65.1 L364.5,62.6 L358.7,60.1 L352.8,57.7 L346.6,55.4 L340.4,53.2 L333.9,51.1 L327.3,49.1 L320.5,47.2 L313.5,45.4" fill="none" stroke="#111" stroke-opacity="0.9" stroke-width="1.3" stroke-dasharray="4.6,2.8"/>
<path d="M540.6,106.1 L545.9,113.7 L552.6,120.1 L553.8,125 L556.6,133.2 L561,139.8 L564.6,144.2 L569.3,153.1 L569.2,153.9 L572,158.8 L575.6,162.1 L578.7,165.4 L581.9,169.9 L585.3,173.3 L589.2,177 L592.1,175.2 L596,175.8 M30.3,172.8 L33,172.2 L35.1,174 L35.8,177.2 L39.1,176.8 L40.1,179.3 L40.1,184 L39.3,188.8 L41.9,194.7 L43.8,199.4 L46.7,206.4 L49.5,213.3 L51.7,222.7 L54.6,228.4 L64,238.1 L73.4,247.6 L79.3,251.7 L87.3,257.4 L93.6,262.3 L97.1,263.5 L97.7,261.4 L100.9,260.7 L101.3,259.4 L99.3,253.9 L97.3,248.4 L93.3,243.3 L93.2,238.8 L89.8,233.6 L86.7,230.2 L87.3,227.2 L89,223.8 L89,218.4 L85.6,210 L82.5,204.7 L81.2,200.5 L81.4,197.2 L83.1,191.9 L85.9,186.5 L90.5,181.3 L94.8,176.1 L99.2,168.9 L101.8,163.8 L99.1,164.1 L95.1,165 L91.3,165.7 L90.5,162.7 L90.2,160.1 L89.1,155.7 L89,151.4 L89.9,147.1 L91.4,142.9 L92.9,139.7 L93.4,136.4 L95.4,132.2 L96.7,129 L100.1,124 L102.5,121.2 L99.7,120.9 L97,120.9 L95.4,118.7 L94.7,115.9 L87.8,119.7 L85.6,120 L84.7,117.2 L85.3,114 L84.6,112.5 L86.2,110.5 L90.3,108.1 L94,104.5 L91.5,104.5 L88.6,103.9 L85.5,103.4 M545.5,105.3 L544.4,106.3 L540.6,106.1 M99.2,212.5 L103.7,219.6 L104,222.7 L105.9,229.9 L109.8,239.1 L107.9,240.4 L101,233.6 L97.4,225.3 L95.9,223.3 L97.9,220.4 L98.4,215.7 L99.2,212.5 M100.1,124 L98.8,128.2 L100.3,127.3 L99.7,128.3 L97.8,132.5 L96,136.7 L94.4,142.1 L93.3,147.4 L92.6,152.8 L91.9,157 L91.4,160.8 L93.6,160.7 L98.8,158.5 L102.3,157 L106.3,155.3 L111.6,152.6 L115.7,149.5 L118.4,147.3 L121.7,144.4 L124,142.6 L123.5,140.3 L121.9,139.3 L122.9,136.3 L123.8,135 L121.8,136.2 L118.8,138.4 L115.1,138.7 L114.5,138 L116.4,135.7 L116.5,134.7 L114.7,136.2 L115.5,133.5 L116.3,130.4 L118.7,126.7 L120.5,126.2 L121.2,127.8 L119.8,131.2 L121,133.4 L124.6,133.4 L124.8,136.1 L129.6,137.5 L133.8,137.9 L136.8,137.7 L136.6,140.5 L136.8,143.5 L137,146.5 L141.4,145.8 L139.3,150.5 L138,156.4 L138,161.3 L138.3,165.2 L138.7,170.1 L140,172.1 L141.5,170.3 L143.7,167.7 L145.4,164.4 L146.9,161 L147.6,157.7 L150.4,156.5 L152.2,155 L155.7,152.7 L159.1,150 L162.2,148.2 L164.5,146.6 L166.1,146.5 L168.8,145.7 L170.8,145.8 L170.3,148.8 L171.3,151 L171.2,154.8 L170.6,157.6 L172.1,158 L175.7,156.6 L175.7,159.6 L175.5,163.3 L174.9,166.1 L174.4,168.9 L173.3,172.3 L174.5,173 L175.9,175.5 L176.1,177.9 L177.3,182 L180.5,184.8 L182.2,185 L181.2,180.5 L180.6,177.8 L179.4,176.3 L177.6,174.7 L176.7,172.7 L176.3,170.3 L175.8,167.4 L177.6,164.3 L179,162.5 L179.5,164 L181.7,165 L182.4,167.2 L184.4,168.2 L184.7,170.9 L187.4,170.1 L189.3,168.2 L192.1,166.5 L193.3,162.8 L193.2,159.1 L191.2,156.3 L190.5,153 L192.4,150.3 L195.4,148.2 L198.2,148.3 L198.6,150.5 L200.9,148.4 L204.6,146.9 L206.3,146.8 L209.7,146 L213,143.4 L216.2,141.2 L218.2,139.1 L221.4,136.6 L222.9,134 L222.3,132.5 L223.7,131.4 L223,128.7 L223,125.5 L225.7,123.2 L229.2,122 L227.8,120.5 L224.5,121.4 L224.8,119.5 L224.5,118.3 L227.8,116.9 L230.7,115.5 L232.1,116 L229.4,118.5 L230.6,118 L234.4,117.2 L235.3,118.1 L233.4,120.4 L235.1,121.4 L234.1,123.9 L232.8,126.3 L235.4,126 L237.6,125.4 L239.1,122.7 L239,119.8 L238.5,118.1 L240.5,117 L242.9,115.7 L245.2,113.2 L247.8,112.2 L249.5,112.9 L253,111.4 L257,108.7 L259.5,106.3 L262.6,104 L264.9,100.8 L267.5,97.7 L267.5,96.1 L265.7,95.2 L264,95.1 L262.8,94.2 L266.5,92 L271.7,89.1 L275.5,87.2 L278.4,87.5 L281.9,86.9 L284.4,88.1 L287.7,87.7 L290.8,84.4 L293.6,84.1 L293.9,85.6 L295.7,85.3 L297.8,83.1 L298.8,83 L296.9,85.4 L293.4,87.6 L290.6,89.8 L288.1,90.8 L286.5,93.6 L285.4,98.3 L284.9,100.7 L287.2,98.3 L290,97.1 L291,95.6 L293,94.5 L294.2,92.2 L295.5,90.7 L294.3,89.9 L296.6,87.2 L298.3,86.6 L299.7,87.2 L301.9,86.2 L303.8,87 L306.1,85.5 L308.2,84.3 L311.1,83.3 L312.7,83.6 L312.6,82.1 L312,80.7 L313.1,79.8 L313.9,79.1 L316.1,79 L317.9,79.8 L319.8,80.6 L320,78.9 L321.7,78.6 L322.1,78 L320.1,76.7 L318,76.6 L317.6,75.9 L315.1,74.7 L313.5,73.8 L312,73.1 L309.8,72.5 L307.6,72.4 L306.1,72.2 L305.4,74.1 L303.8,72.7 L301.6,72.5 L299.2,72.9 L299,71.3 L297.3,70.5 L294.4,70.7 L293,69.5 L291.1,68.4 L288.5,67.5 L285.9,69.2 L283.8,68.9 L281.3,68.9 L278.9,69.5 L279.5,68 L281.2,66.6 L280.8,65.8 L279.4,65.7 L277.9,66.3 L275.8,65.9 L276.2,65.2 L274.7,64.9 L273.3,65.2 L274.3,64.3 L272.5,64.4 L273.6,63.6 L276.2,63 L277.9,62.4 L279.1,61.5 L278.9,60.7 L277.1,60.7 L279,59.1 L276.9,59.4 L274.2,60.3 L271.3,60.6 L269.3,60.5 L266.8,60.7 L264,61.1 L260.8,62.2 L258.6,62.2 L256.5,62.3 L252.2,64.2 L251.8,63.5 L248.1,64.3 L251.7,62.5 L246.6,63.9 L244.2,65.2 L239,67.1 L237.2,67.5 L230.6,70.3 L229.5,70 L232,68.6 L234.1,67 L236.8,65.6 L240.3,64.4 L246.1,62.8 L249.9,61.7 L249.2,61.5 L241.5,63.7 L235.2,65.2 L234.4,64.6 L229.5,65.8 L227.1,65.6 L228.2,64.5 L223.3,65.1 L221.6,64.5 L222.8,63.7 L214.9,66 L213.9,65.6 L207.3,67.1 L204.8,67.3 L201.7,68 L203,66.8 L207.8,65.1 L210.8,65 L214.6,65.1 L218.3,63.6 L221.6,61.6 L221.1,60.8 L221.7,59.8 L226.5,58.1 L226.3,57.7 L223.8,57.6 L218.9,57.9 L212.8,58.5 L207.5,59.3 L200.3,60.5 L193.2,61.7 L186.8,62.6 L181.7,63.2 L176.4,64.5 L170.1,66.4 L165,68.4 L166.5,68.9 L171,68.2 L169.8,69 L162.2,72 L157.4,73.9 L157.7,74.5 L161.7,73.8 L167,72 L173.5,70.3 L177.9,69.2 L181.2,67.6 L187.3,65.7 L192.2,64.9 L197.1,64.1 L202.9,62.8 L203.6,63.2 L200.7,64.3 L195.9,65.1 L191,65.9 L185,67.8 L179.6,70.1 L182,70.2 L184.6,70.7 L183.2,71.9 L180.6,72 L177.7,71.3 L175.2,72.1 L173.8,73 L170,74.4 L170.5,73.4 L166.7,74.1 L161.9,76.1 L158.7,76.8 L156.4,77.1 L154.6,76.5 L152.1,76.7 L153,75.5 L150.7,75.7 L152.1,74.7 L160.1,71.9 L164.3,70.2 L161.2,70.7 L157,72 L155.3,72.8 L149.1,75.2 L146.7,75.3 L144.5,75.2 L138.6,77 L135.2,77.7 L131.3,78.8 L127.9,79.5 M497.8,79.5 L501.4,81.2 L500.3,82.5 L503.1,83.6 L506.5,83.9 L511.4,85.7 L516.4,88.1 L520.1,90.4 L518.2,91.3 L515,91.7 L516.1,93.4 L518,94.1 L524.2,97.9 L528.2,100.9 L529.7,101.2 L534.5,104.6 L535.2,103.8 L537.3,104.2 L540.2,105.6 M540.1,105.4 L539.1,103.9 L540.9,103 L537.9,99.8 M98.2,94.6 L102.9,93.6 L106.4,91.6 L108.8,91.3 L109.2,92.4 L112.2,91.4 L115.1,90.7 L114.5,92 L111.5,93.9 L109.9,95.9 L108.7,97.8 L107,100.1 L107,100.6 L104.1,102.8 L101.4,104.4 L101.8,104.5 L105.1,103.1 L107.8,100.9 L109.7,100.1 L110,101 L110.7,100.1 L112.3,97.6 L113.6,95.2 L117,92.3 L120.3,90.3 L122.9,89.8 L121.9,90.9 L118.9,93.3 L117.4,95.6 L115.5,98.3 L111.8,100.7 L109.4,102.7 L107.6,104.8 L104.2,107.8 L103.9,109 L106.9,107.2 L109.3,105.2 L109.7,106.1 L112,103.3 L114.9,101.5 L117.4,101.2 L119,101.6 L116.8,103.3 L114.5,104.7 L113.1,106.4 L111,108.1 L109.9,109.8 L110.4,111.2 L112.2,110.6 L112.8,111.6 L116.9,111 L118,111.7 L116,113.2 L112.8,115.6 L109.2,118.4 L105.6,121 L102.9,121.7 L102.5,121.2 M122.3,100.9 L128.3,97.4 L131.1,95.7 L136.2,93.8 L139.3,92.6 L139.4,93.4 L138.4,95.1 L137,95.2 L135.6,96.8 L137.8,96.6 L140.3,96.3 L146.1,93.9 L148.1,93.4 L143.9,95.2 L140.1,97.2 L138.5,99.9 L135.4,103.8 L132.7,104.4 L130.6,104 L130.2,101.6 L128.1,101.3 L124.3,102.1 L122.4,101.7 L122.3,100.9 M148.4,99.7 L151.7,97.9 L155.5,96.4 L156.7,96.6 L159.2,96.3 L160.7,96.5 L158.7,97.9 L154.7,99.3 L152,100.8 L150.2,103.7 L146.9,106.3 L147.1,107.2 L144.1,108.7 L143.2,110 L139.6,113.7 L135.8,114.2 L135.3,112.9 L135.5,111.6 L137.3,109.9 L140.5,107.7 L141.9,107.7 L142.3,106.2 L143.4,104.2 L145.2,102.4 L148.4,99.7 M494.6,80.2 L494.2,78.9 M134.6,77.3 L141,75 L143.4,73.3 M479.4,72 L474.4,70.7 L470.6,69.6 L466.1,68 L461.5,67 L460.7,67.6 L464.8,69.3 L469.9,70.8 L475.4,72.5 L477.1,72.3 L482.1,74.3 L482.7,75.1 L486.4,76.3 L488.6,77.6 L490.2,77.5 L494.6,80.2 M485.8,77 L479.6,74.6 L475.8,73 L473.4,73 L475.7,74.2 L478.7,76.1 L485.1,78.7 L487,78.5 L485.8,77 M431.7,64.8 L425.6,63 L424.4,63.3 L421.8,62 L424.1,61.4 L425.2,60.7 L430.5,61.9 L432.7,62.8 L435.6,64.8 L431.7,64.8 M144.4,168.7 L145.6,169.7 L146.6,173.1 L146.1,175.3 L143.8,176 L143.4,173.1 L144.4,168.7 M219,142.2 L219.6,142.7 L216.4,148 L215.5,146.5 L217,143.5 L219,142.2 M198,150.9 L199.1,151.6 L197.5,154 L195.8,154.3 L194.8,153.3 L195.9,151.4 L198,150.9 M236.1,131.8 L237.5,132.2 L239.3,129.3 L241.2,128.5 L241.6,129.4 L244.3,128.1 L244.9,128.6 L246.1,128.7 L248.4,127 L250.9,126.7 L253,126.3 L254.9,125.1 L255.8,123 L256.7,120.8 L258.5,119.3 L259.2,118 L259,115.8 L257.2,116.6 L256.1,118.2 L254.5,120.9 L252.5,122.2 L250,123.1 L248.8,124.1 L246.9,125.2 L243.2,125.3 L240.4,126.7 L239.2,127 L236.9,128.5 L236.1,131.8 M257.4,115.4 L259.2,115 L262.3,114.7 L266.1,112.7 L265.2,111.5 L262.8,109.1 L260.9,111.4 L259,112.5 L257.4,115.4 M263.2,108.1 L265.6,107.4 L266.8,103.3 L269,102.6 L269.3,98.6 L270.8,94.9 L269.2,96.2 L267.3,100.1 L264.6,104.9 L263.2,108.1 M214,154.2 L216.6,154.2 L215.7,156.9 L214.2,159.6 L214.6,162.3 L217.7,163.3 L217.4,165 L215.9,164.1 L213.6,163.2 L212.3,161.7 L212.3,158.7 L214,154.2 M212.8,174.9 L215.5,173.5 L218.3,171.4 L220.7,172.3 L220.2,175.9 L218.6,177.1 L216.1,175.9 L212.8,174.9 M215.3,167.7 L218.7,167.8 L220,165.1 L218.3,165.1 L215.3,167.7 M190.2,184.8 L191.9,188.5 L192.8,192.7 L195.4,193.7 L199.7,194.5 L202.2,194.4 L202.9,190.3 L204.6,186.7 L205.4,186 L205.1,184 L206.5,179.4 L207.5,178 L204.7,174.8 L202.9,176.3 L201.1,178.6 L198.9,179.9 L197.1,181.9 L194.2,183 L191.9,184.3 L190.2,184.8 M167.9,177.3 L171.5,177.9 L175.7,183.5 L177.7,184.6 L180.2,186.7 L182.7,190.4 L185.3,193.5 L185.3,198.3 L183.2,198.5 L178.7,195 L175.7,189.5 L173.5,185.7 L172,182.9 L169.6,180.7 L167.9,177.3 M184.5,200.2 L186.5,198.7 L190,199.4 L193.4,200.3 L196.7,200.2 L200.3,201.7 L200.5,203.5 L196.2,202.8 L191.1,202 L186.8,201.1 L184.5,200.2 M208.3,197.6 L210,197.6 L209.6,193 L210.6,192.1 L213.4,196.3 L214.5,195.7 L211.4,191 L213.9,189.2 L210.9,188.5 L208.8,186.7 L209.7,185.8 L216.5,185.8 L217.4,184.9 L215.7,186.7 L209.7,187.1 L208.3,189.4 L207.6,194 L208.3,197.6 M216.6,204.4 L218.2,202.9 L221.6,202.9 L218.4,204.7 L216.8,206 L216.6,204.4 M202.1,203.1 L203.8,202.7 L208,202.9 L211.4,202.6 L214.4,202.6 L211.5,203.7 L206.4,203.8 L203.1,204 L202.1,203.1 M221.7,184.9 L222.6,183.6 L223.7,185.4 L222.5,186.7 L223.4,189 L222.2,188.5 L221.7,184.9 M227.7,189.4 L230.3,188.5 L233.2,189.4 L234.7,193.5 L238.9,190.3 L245.1,192.2 L252.1,195.6 L253.9,197.4 L256.6,198.2 L256.2,200.9 L258.6,203.5 L261.3,205.6 L260.5,206.2 L256.1,205.3 L252.4,201.8 L250,203.6 L248.3,204.1 L245.7,203.8 L242.1,202 L240.4,202.6 L239.5,196.9 L234.8,195.5 L231.3,194.8 L229.5,192.6 L227.7,189.4 M260.9,197.3 L264.3,195 L265.2,196.1 L263.5,198.2 L260.9,198.6 L258.3,197.5 L260.9,197.3 M269.6,198.2 L271.4,199.6 L273.3,201.7 L276.8,202.6 L279.5,204.3 L281.3,206.1 L277.8,205.2 L274.2,202.6 L269.6,198.2 M204.4,227.6 L207.8,234.7 L212.3,241.7 L215.8,248.6 L220.3,250.2 L223.1,248.3 L228.1,247.9 L230.6,245 L234.6,243.6 L238.4,243.3 L243,245.4 L246.5,248.8 L248.4,245.6 L250.5,250.4 L253,250.3 L255.8,253.9 L260.6,255.1 L264.3,255.4 L266.5,253.3 L269.3,252.7 L269.2,249.4 L269.8,246 L271.2,241.7 L271.1,236.6 L269.5,232.3 L265.7,228.9 L262.9,226.8 L260.8,223.7 L256.7,221.1 L254.7,216.8 L254,213.8 L250.8,212.4 L248.5,206.6 L247.6,210.2 L247.6,214.2 L246.6,218.6 L243.9,217.8 L241.1,216.1 L238.3,214.3 L239,209.5 L236,209.4 L231.5,208.2 L229.2,209.5 L227.3,214.1 L224.9,214.5 L221.2,212.8 L219.4,216.4 L216.5,218.3 L215.7,221.9 L212.1,223.8 L208.4,225.1 L205.9,227.2 L204.4,227.6 M263.9,258.4 L266.2,258.8 L268.6,258.4 L269.3,261.9 L268.2,262.8 L265.9,262 L263.9,258.4 M302.4,247.3 L305.2,249.8 L306.8,252.3 L311.3,252.6 L309.9,254.7 L308.9,256.4 L306.4,258.9 L306,258.4 L306.3,256.2 L304.8,255.6 L305.7,253.1 L302.9,248.6 L302.4,247.3 M303.1,257.2 L305.3,258.5 L304.5,261.3 L303.5,262.6 L301.5,263.8 L300.9,266.2 L299,267.2 L295.5,266.3 L296,264.7 L297.8,263 L300.3,261.4 L302.2,258.9 L303.1,257.2 M290,223.4 L291.8,225.2 L292.7,226.5 L291,226 L288.4,224.3 L286.6,222.9 L290,223.4 M309.2,218.2 L310.9,218.7 L310.1,219.6 L308.9,219.1 L309.2,218.2 M323.9,78.6 L326.1,80.2 L330.5,80.1 L331.3,82.3 L328,82.4 L327.2,84.7 L328.6,86.5 L331.9,87.1 L333,89 L337.5,88.4 L337.2,90.6 L334.7,93 L331.3,95.2 L334,94.5 L337,93.2 L339.7,91.3 L340.9,88.9 L341,86.9 L343,87.7 L343.5,85.7 L345.9,86.4 L347.2,85.1 L349.9,86.2 L353.1,86.4 L356.4,87.5 L358.6,88.4 L360.9,90.1 L364.3,91.8 L367.5,94.1 L369.8,93.9 L371.5,95.5 L374.3,96.9 L377.1,99.2 L380.6,100.7 L383.6,102.2 L385.7,103.4 L383.9,103.5 L386.9,107.1 L389.5,111.2 L390.6,113.7 L392.5,116.2 L395,119.5 L397.3,121.1 L399.2,122.8 L402.6,125.9 L406.1,126.8 L408.8,128.5 L412.8,132.7 L416.3,136.2 L420,137.8 L425.6,143.9 L428.2,145.3 L426.2,143.5 L423.4,140.4 L419.3,136.4 L415.3,133.2 L413.6,130.7 L416.7,131.3 L420,135.1 L423.5,137.7 L425.8,139.4 L429.1,141.6 L433.8,145.4 L435.9,148.1 L436.2,150.3 L438.7,152.6 L443.4,154.6 L447.1,156.2 L451.7,157.9 L455.5,157.2 L459,158.4 L463,161.2 L467.4,162.5 L469.1,162.9 L472.1,165.3 L472.9,166.6 L473.6,168.5 L476.4,170.3 L479.1,171.8 L481.7,173.1 L483.3,173.5 L483.6,170.6 L486.2,171.5 L487,170.7 L484.1,169.2 L481.9,170.2 L480.4,170.6 L477.6,168.4 L476,166.1 L475.7,163.6 L474.6,158.9 L472.2,157.4 L469.8,157.1 L466.8,157.6 L465.5,156.3 L465,153.5 L465,150.7 L464.2,146.9 L462,147.2 L459.6,148.1 L460.4,150.9 L459.5,152.8 L455.8,153.5 L453.1,152.5 L450.8,150.7 L448.1,147.6 L445.7,143.1 L443.8,137.6 L444.3,134.8 L446.1,132.7 L449,132.5 L452.3,133 L451.9,131.2 L454.6,130.8 L457.8,131.2 L460,131 L463.4,133.6 L465.6,136.4 L469.1,139 L470.6,139.3 L469.4,136.5 L466.6,133.4 L463.4,130.2 L461.9,127.5 L462.3,125.1 L462.8,122.2 L463.6,120.2 L460.9,117.5 L459.9,115.7 L458.5,112.9 L457.4,111.1 L458.8,110 L459.5,108.7 L457.7,107.1 L456.1,106 L456.4,104.3 L457,102.7 L458.6,101.4 L459.8,103.9 L460.9,102.7 L461.3,100.6 L459.5,98.8 L455.9,99.4 L450.8,96.1 L447.6,95.2 L447.9,98.6 L446.7,96.8 L446.9,95.2 L446.7,93.4 L451.5,92.5 L450.4,90 L449.1,88.1 L446.3,86.5 L441.4,85.4 L437.3,84.1 L433.3,82.9 L430.1,81.5 L424.2,79.6 L420.1,77.8 L423.1,79.8 L423.4,81.2 L420.9,80.6 L415.4,78.3 L414.1,77.4 L411.1,77.2 L407.4,76.3 L404.2,76.5 L408.3,79 L413.4,81.6 L418,83.7 L421.5,86 L421.8,87.9 L427.1,91.9 L426.7,92.9 L423.2,91.7 L416.2,88.3 L411.8,87.6 L407.1,86.3 L403.7,85.8 L398.7,83.8 L394.3,80.8 L393.3,78.8 L391.8,76.7 L392,75.4 L391,74.5 L388.8,72.7 L385.6,71 L380.5,69.3 L379.6,69.7 L375.2,68.1 L374.8,68.7 L375.7,70.3 L371.9,69.1 L374,71.8 L371.5,71.7 L368.1,71.2 L368,72.2 L364.1,71.8 L362,71.4 L358.7,70.2 L356.7,71 L354.6,71.2 L352.4,70.6 L350.3,70.8 L349.3,71.6 L347.5,71.8 L346.9,72.7 L344.7,72.4 L342.3,71.8 L340,71.4 L337.4,71.4 L335,71 L333.3,70.7 L329.8,70.1 L328.4,70.9 L326.6,71.8 L325.9,72.8 L324.3,73.7 L326.2,75 L327.1,76.3 L329,77.1 L326.5,77.2 L325.4,77.8 L323.9,78.6 M356.8,55.8 L350.9,53.4 L346.8,51.4 L347.2,50 L344.3,48.3 L352.2,48.5 L361.9,49.4 L375.8,51.5 L384.8,53.2 L395.6,55.7 L404.4,57.6 L409.9,59.7 L411.9,61.9 L418.9,65.5 L419.7,67.1 L427.7,70.8 L435.2,74.6 L429.3,73.9 L421.3,71.5 L415.3,69.8 L407.5,67.4 L400.2,65 L395.7,62.9 L389.1,61.5 L383.7,60.2 L375.5,58.3 L369.4,57.5 L366.6,57.9 L362.8,57.3 L356.8,55.8 M402.8,68.7 L406.8,71 L413.2,74.7 L410.2,74.7 L404.6,73.5 L398.9,71.7 L395,69.6 L389.6,68.7 L382.7,66.3 L379.3,66.1 L374.2,65.2 L368.4,64 L368.4,62.7 L374.8,63.2 L380.4,63.9 L385.4,64.7 L390,65.7 L395.1,67.5 L400.9,68.2 L402.8,68.7 M370.5,70.2 L367.9,70.5 L365.4,71 L361.3,70.7 L358.1,70.1 L358.4,68.4 L353,66.7 L355.3,65.9 L357.6,65.6 L359.8,65.3 L365.2,67.6 L370.5,70.2 M363.1,58.2 L362.2,59 L357.6,59.4 L352.8,57.7 L347.2,55.3 L341,52.2 L342,50.9 L346.5,51.6 L352.3,54.1 L354.5,55.5 L363.1,58.2 M353.7,68.2 L350,68.1 L345.8,65.1 L348.3,64.4 L352.1,65.2 L353.7,68.2 M367.6,61 L364,61.8 L357.9,60.3 L358.1,59.3 L361.5,59 L367.6,61 M363.7,64.4 L362.1,64.7 L355.2,61.6 L357.5,61.2 L362.5,62.9 L363.7,64.4 M352.1,61.2 L349.9,62.3 L345.8,61.6 L345.5,59.3 L348.3,59.3 L352.1,61.2 M467,146.2 L467.6,144.3 L470.2,143.4 L473.3,143.4 L478.2,145.6 L481.9,146.9 L484.5,148.2 L482.9,149 L479.9,149.2 L476.9,146.1 L472.8,145.5 L470.9,146.4 L467.9,146.5 L467,146.2 M485.7,151.8 L487.4,148.8 L491.2,149 L494.4,151 L492.6,151.9 L490.8,153.1 L488.1,152.1 L485.7,151.8 M480,152.3 L483.1,152.3 L482.6,153 L480,152.3 M496.4,151.1 L499,151.3 L496.9,152 L496.4,151.1 M487,170.7 L488.9,169.3 L489.2,167.1 L491.1,165.5 L493.8,164 L495.1,166 L494.9,167 L496.6,168.7 L495.2,166.2 L496.9,163.7 L500,166.6 L503.8,166.5 L506.8,166.4 L509.8,166.1 L512.1,169.4 L514.8,171 L518.5,175 L522.4,175.3 L526.4,177.3 L528.9,179.3 L530.7,183.9 L530.8,187.6 L533,189.7 L538.1,190.8 L540.9,192.9 L545.2,193.6 L547.2,195.6 L549.7,198.4 L551.5,200.6 L550.1,207.1 L546,211.3 L542.4,215.4 L538,223.8 L533.2,229.9 L529.3,233.9 L525.3,235.6 L521.6,237 L516.6,239 L513.1,241.9 L509.9,245.8 L504.7,249.4 L498.7,252.9 L494.2,255.5 L490.5,257.1 L487.2,257.7 L484.3,260.4 L481.1,262.5 L477.8,263.3 L474.5,263.2 L471.2,265.8 L467.1,266.3 L464.6,269 L458.2,273.1 L452.7,275.3 L450.9,278.1 L442.5,281.8 L438.5,284.1 L436.5,285.8 L433.2,289.2 L428.8,289.4 L430.7,286.8 L432.5,284.1 L436.6,279.9 L443.6,275 L450.8,270.1 L456.1,265.9 L462.4,259.8 L465.5,257.2 L473,251 L477.3,245.5 L481.9,240 L486.2,234.4 L490,228.7 L491.9,223.9 L491.1,221.5 L487.4,216.8 L486.3,212.9 L485.6,209.9 L484.5,204.1 L482.1,199.2 L482.1,196.3 L484.2,193.4 L483.6,189.5 L484.4,185.7 L486,184.1 L488.2,180.8 L487.5,175 L486.4,173 L487,170.7 M447.2,284.6 L450.8,284.7 L448.8,286 L446.3,285.9 L447.2,284.6 M313.5,314.6 L318.2,314.2 L322.2,315.7 L328.6,313.2 L335.5,311.5 L342.5,310.5 L348.9,310.4 L353.2,311.7 L360.8,311.2 L367.3,311.4 L370.7,313 L381,310.4 L387.8,310 L403.6,305.6 L415.3,303.2 L411.8,303.4 L404.2,305.7 L393.2,309.3 L380.3,314.4 L373.8,316.8 L367.2,320.5 L367.5,322 L378.3,321.4 L391.6,320.7 L405,320.2 M215.7,321.2 L217.5,319.3 L219.9,317.4 L220.9,315.1 L220.6,312.3 L219.7,308.9 L225,307.3 L233.9,307.2 L241.4,308.5 L238.4,305.3 L242.3,302.8 L248.2,301 L255.7,300.1 L265.2,300.7 L272.2,299.4 L280.6,299.3 L290.2,301.3 L298.8,303.2 L302.9,304.5 L306.8,305.9 L306.6,310.1 L306.4,314.3 L308.8,314.2 L313.5,314.6 M425,102.9 L427.5,102.8 L428.2,101.1 L432.9,101.9 L434,102.3 L431,100.2 L427.4,99.3 L426.1,100.4 L425,102.9 M437.9,110.3 L439.4,110.7 L439.6,109.8 L436.1,106.8 L434.1,103.6 L432.4,103.8 L433.5,106.1 L437.9,110.3 M434.9,103.1 L438.5,104.1 L440.4,103.5 L442.9,105.1 L443.9,107.8 L442.7,107.9 L439.7,106.4 L434.9,103.1 M443.7,110.3 L445.4,108.6 L447.2,107.8 L447.7,108.3 L446.5,110.4 L443.7,110.3 M445.3,107.1 L448.8,106.3 L447.5,105.1 L445,106.4 L445.3,107.1 M237.1,61.2 L246.1,59.5 L254,57.5 L259.4,57 L262.5,57.2 L261.8,57.7 L253.5,58.5 L242.4,60.6 L234.9,62.2 L237.1,61.2 M257.3,49.6 L249.8,51.3 L254,51.6 L263.9,50.7 L267.7,49.3 L263.6,48.9 L257.3,49.6 M279.3,57 L279.4,57.8 L281.2,58.1 L284.5,56.2 L285.5,54.7 L281.3,55.6 L279.3,57 M287.7,65.7 L289.4,66.5 L294.1,64.6 L293.2,63.1 L289.1,64.3 L287.7,65.7 M312.1,70.8 L314.9,70.1 L315.6,70.8 L313.5,71.1 L312.1,70.8" fill="none" stroke="#111" stroke-width="1.1" stroke-linejoin="round"/>
<path d="M363.4,226.2 L194.4,192.3 M363.4,226.2 L162.5,153.7 M363.4,226.2 L106.3,182.8 M363.4,226.2 L172.9,141.0 M363.4,226.2 L83.3,193.7 M363.4,226.2 L76.5,179.3 M363.4,226.2 L106.2,178.7 M363.4,226.2 L180.7,174.9 M363.4,226.2 L114.8,159.3 M363.4,226.2 L147.0,177.7 M363.4,226.2 L117.3,168.0 M363.4,226.2 L135.1,155.5 M363.4,226.2 L85.2,174.1 M363.4,226.2 L74.0,175.9 M363.4,226.2 L172.3,189.7 M363.4,226.2 L95.3,164.9 M363.4,226.2 L189.3,161.0 M363.4,226.2 L198.8,152.0 M363.4,226.2 L177.7,142.5 M363.4,226.2 L153.5,188.3 M363.4,226.2 L136.7,178.0 M363.4,226.2 L187.9,199.8 M363.4,226.2 L85.1,171.4 M363.4,226.2 L65.6,162.7 M363.4,226.2 L80.3,149.6 M363.4,226.2 L147.5,145.1 M363.4,226.2 L81.6,140.6 M363.4,226.2 L173.9,154.6 M363.4,226.2 L70.1,177.3 M363.4,226.2 L160.5,177.8 M363.4,226.2 L136.6,172.1 M363.4,226.2 L160.7,158.6 M363.4,226.2 L178.0,181.6 M363.4,226.2 L180.1,193.4 M363.4,226.2 L177.5,171.1 M363.4,226.2 L133.1,184.0 M363.4,226.2 L141.1,141.7 M363.4,226.2 L188.4,151.9 M363.4,226.2 L127.8,167.1 M363.4,226.2 L73.1,174.7 M363.4,226.2 L142.6,188.8 M363.4,226.2 L145.7,158.4 M363.4,226.2 L139.1,197.6 M363.4,226.2 L149.1,190.6 M363.4,226.2 L61.6,181.4 M363.4,226.2 L89.6,149.8 M363.4,226.2 L106.4,150.7 M363.4,226.2 L72.0,152.7 M363.4,226.2 L92.3,155.0 M363.4,226.2 L171.8,145.0 M363.4,226.2 L88.0,143.3 M363.4,226.2 L130.9,153.7 M363.4,226.2 L134.3,154.3 M363.4,226.2 L87.5,169.3 M363.4,226.2 L70.0,193.1 M363.4,226.2 L138.8,163.7 M363.4,226.2 L137.0,196.8 M363.4,226.2 L129.2,163.6 M363.4,226.2 L90.4,162.8 M363.4,226.2 L168.3,176.8" stroke="#000" stroke-opacity="0.16" stroke-width="0.6" fill="none"/><path d="M363.4,226.2 L180.3,190.4 M363.4,226.2 L164.7,166.0 M363.4,226.2 L235.4,191.2 M363.4,226.2 L200.5,150.5 M363.4,226.2 L211.7,169.2 M363.4,226.2 L153.2,165.7 M363.4,226.2 L247.0,151.7 M363.4,226.2 L169.6,157.5 M363.4,226.2 L237.8,163.8 M363.4,226.2 L225.3,180.4 M363.4,226.2 L151.3,169.7 M363.4,226.2 L163.1,186.0 M363.4,226.2 L203.8,166.6 M363.4,226.2 L239.4,187.0 M363.4,226.2 L157.5,154.3 M363.4,226.2 L185.5,164.1 M363.4,226.2 L198.5,169.2 M363.4,226.2 L257.0,180.2 M363.4,226.2 L255.8,177.8 M363.4,226.2 L175.7,175.5 M363.4,226.2 L167.6,176.3 M363.4,226.2 L165.7,191.9 M363.4,226.2 L183.4,190.2 M363.4,226.2 L174.2,159.4 M363.4,226.2 L177.1,187.1" stroke="#000" stroke-opacity="0.16" stroke-width="0.6" fill="none"/><path d="M363.4,226.2 L209.0,263.3 M363.4,226.2 L178.1,243.0 M363.4,226.2 L137.1,239.1 M363.4,226.2 L221.5,242.4 M363.4,226.2 L195.3,238.0 M363.4,226.2 L142.7,258.5 M363.4,226.2 L130.3,240.4 M363.4,226.2 L217.3,247.8 M363.4,226.2 L108.8,261.9 M363.4,226.2 L228.7,256.5 M363.4,226.2 L112.3,252.2 M363.4,226.2 L182.3,246.3 M363.4,226.2 L158.9,263.2 M363.4,226.2 L188.2,266.3 M363.4,226.2 L223.9,255.6 M363.4,226.2 L227.7,242.0 M363.4,226.2 L171.1,261.0 M363.4,226.2 L221.3,254.0 M363.4,226.2 L161.3,268.3 M363.4,226.2 L165.4,240.0 M363.4,226.2 L163.1,247.2 M363.4,226.2 L188.0,265.8 M363.4,226.2 L113.7,248.8 M363.4,226.2 L217.8,265.5 M363.4,226.2 L203.6,251.2 M363.4,226.2 L224.4,266.8 M363.4,226.2 L207.9,256.5 M363.4,226.2 L186.2,242.5 M363.4,226.2 L112.3,238.5 M363.4,226.2 L114.6,255.3 M363.4,226.2 L223.3,257.6 M363.4,226.2 L204.1,263.7 M363.4,226.2 L223.2,247.4 M363.4,226.2 L168.6,269.4 M363.4,226.2 L148.3,261.7 M363.4,226.2 L158.3,243.2 M363.4,226.2 L132.8,250.2 M363.4,226.2 L111.5,268.0 M363.4,226.2 L151.3,246.2 M363.4,226.2 L205.6,238.2 M363.4,226.2 L201.0,253.3 M363.4,226.2 L119.0,251.5 M363.4,226.2 L228.3,239.3 M363.4,226.2 L142.7,244.1 M363.4,226.2 L180.2,244.8 M363.4,226.2 L211.5,250.4 M363.4,226.2 L223.9,242.1 M363.4,226.2 L136.0,238.9 M363.4,226.2 L113.4,244.2 M363.4,226.2 L179.7,256.7" stroke="#000" stroke-opacity="0.22" stroke-width="0.7" fill="none"/><path d="M363.4,226.2 L282.2,236.0 M363.4,226.2 L273.9,261.5 M363.4,226.2 L255.9,236.0 M363.4,226.2 L247.1,260.8 M363.4,226.2 L276.4,244.8 M363.4,226.2 L267.2,230.7 M363.4,226.2 L249.6,251.8 M363.4,226.2 L251.4,245.5 M363.4,226.2 L293.8,234.2 M363.4,226.2 L265.7,253.9 M363.4,226.2 L283.4,256.1 M363.4,226.2 L294.2,247.6 M363.4,226.2 L249.7,245.3 M363.4,226.2 L295.3,234.7 M363.4,226.2 L254.1,234.7" stroke="#000" stroke-opacity="0.25" stroke-width="0.7" fill="none"/><path d="M363.4,226.2 L534.7,251.6 M363.4,226.2 L472.9,270.5 M363.4,226.2 L522.0,263.6 M363.4,226.2 L523.6,274.2 M363.4,226.2 L493.2,250.7 M363.4,226.2 L518.7,270.9 M363.4,226.2 L541.5,274.0 M363.4,226.2 L465.3,255.2 M363.4,226.2 L486.2,274.9 M363.4,226.2 L486.3,256.7 M363.4,226.2 L475.9,258.0 M363.4,226.2 L502.3,274.2 M363.4,226.2 L532.1,251.7 M363.4,226.2 L506.9,284.0 M363.4,226.2 L493.6,252.6 M363.4,226.2 L515.6,278.5 M363.4,226.2 L463.4,251.1 M363.4,226.2 L486.1,261.5 M363.4,226.2 L469.8,251.1 M363.4,226.2 L495.8,283.4 M363.4,226.2 L508.1,258.2 M363.4,226.2 L541.5,258.5 M363.4,226.2 L472.0,252.6 M363.4,226.2 L462.0,281.9 M363.4,226.2 L505.3,284.3 M363.4,226.2 L506.0,250.6 M363.4,226.2 L491.5,260.7 M363.4,226.2 L473.5,251.0 M363.4,226.2 L518.6,280.2 M363.4,226.2 L539.4,256.8 M363.4,226.2 L512.4,257.4 M363.4,226.2 L531.7,281.8 M363.4,226.2 L461.0,255.0 M363.4,226.2 L533.9,284.3 M363.4,226.2 L532.1,250.4 M363.4,226.2 L511.0,276.5 M363.4,226.2 L508.5,268.1 M363.4,226.2 L525.8,250.2 M363.4,226.2 L508.4,284.0 M363.4,226.2 L506.7,261.3 M363.4,226.2 L471.5,280.9 M363.4,226.2 L517.0,283.4 M363.4,226.2 L542.0,273.6 M363.4,226.2 L532.6,278.2 M363.4,226.2 L523.2,263.4" stroke="#000" stroke-opacity="0.2" stroke-width="0.7" fill="none"/><path d="M363.4,226.2 L397.7,128.3 M363.4,226.2 L356.6,128.7 M363.4,226.2 L390.3,88.0 M363.4,226.2 L373.4,141.8 M363.4,226.2 L336.7,54.4 M363.4,226.2 L379.9,60.7 M363.4,226.2 L415.5,142.0 M363.4,226.2 L365.7,85.1 M363.4,226.2 L396.1,138.3 M363.4,226.2 L393.8,139.4 M363.4,226.2 L364.2,96.7 M363.4,226.2 L398.7,124.2 M363.4,226.2 L368.3,85.3 M363.4,226.2 L414.7,116.7 M363.4,226.2 L383.2,75.2 M363.4,226.2 L366.5,58.6 M363.4,226.2 L354.5,59.0 M363.4,226.2 L352.5,112.4 M363.4,226.2 L385.8,135.0 M363.4,226.2 L386.5,84.1 M363.4,226.2 L364.8,133.0 M363.4,226.2 L332.0,66.3" stroke="#000" stroke-opacity="0.12" stroke-width="0.6" fill="none"/><path d="M363.4,226.2 L347.9,287.3 M363.4,226.2 L341.7,287.9 M363.4,226.2 L370.3,323.3 M363.4,226.2 L340.9,318.6 M363.4,226.2 L290.2,285.4 M363.4,226.2 L309.0,319.2 M363.4,226.2 L325.9,308.6 M363.4,226.2 L402.5,308.2 M363.4,226.2 L342.8,307.4 M363.4,226.2 L375.6,309.7 M363.4,226.2 L360.6,286.8 M363.4,226.2 L416.2,316.3 M363.4,226.2 L404.3,319.4 M363.4,226.2 L318.6,302.2 M363.4,226.2 L367.7,288.8 M363.4,226.2 L396.4,304.5" stroke="#000" stroke-opacity="0.12" stroke-width="0.6" fill="none"/>
<circle cx="363.4" cy="226.2" r="7.4" fill="#e8240e" stroke="#000" stroke-width="1.3"/>
</g>
<ellipse cx="313.5" cy="187.6" rx="286.0" ry="142.2" fill="none" stroke="#000" stroke-width="1.6"/>
<g clip-path="url(#clipb)">
<rect x="770.4" y="45.6" width="572.0" height="284.4" fill="#7db9d6"/>
<g filter="url(#bl)"><rect x="769.9" y="45.1" width="23" height="11.9" fill="#7db9d6"/><rect x="791.9" y="45.1" width="23" height="11.9" fill="#7db9d6"/><rect x="813.9" y="45.1" width="23" height="11.9" fill="#7db9d6"/><rect x="835.9" y="45.1" width="23" height="11.9" fill="#7db9d6"/><rect x="857.9" y="45.1" width="23" height="11.9" fill="#7db9d6"/><rect x="879.9" y="45.1" width="23" height="11.9" fill="#7db9d6"/><rect x="901.9" y="45.1" width="23" height="11.9" fill="#7db9d6"/><rect x="923.9" y="45.1" width="23" height="11.9" fill="#7db9d6"/><rect x="945.9" y="45.1" width="23" height="11.9" fill="#7db9d6"/><rect x="967.9" y="45.1" width="23" height="11.9" fill="#7db9d6"/><rect x="989.9" y="45.1" width="23" height="11.9" fill="#7db9d6"/><rect x="1011.9" y="45.1" width="23" height="11.9" fill="#7db9d6"/><rect x="1033.9" y="45.1" width="23" height="11.9" fill="#acd0e4"/><rect x="1055.9" y="45.1" width="23" height="11.9" fill="#acd0e4"/><rect x="1077.9" y="45.1" width="23" height="11.9" fill="#7db9d6"/><rect x="1099.9" y="45.1" width="23" height="11.9" fill="#56a4be"/><rect x="1121.9" y="45.1" width="23" height="11.9" fill="#56a4be"/><rect x="1143.9" y="45.1" width="23" height="11.9" fill="#7db9d6"/><rect x="1165.9" y="45.1" width="23" height="11.9" fill="#7db9d6"/><rect x="1187.9" y="45.1" width="23" height="11.9" fill="#7db9d6"/><rect x="1209.9" y="45.1" width="23" height="11.9" fill="#7db9d6"/><rect x="1231.9" y="45.1" width="23" height="11.9" fill="#7db9d6"/><rect x="1253.9" y="45.1" width="23" height="11.9" fill="#7db9d6"/><rect x="1275.9" y="45.1" width="23" height="11.9" fill="#7db9d6"/><rect x="1297.9" y="45.1" width="23" height="11.9" fill="#7db9d6"/><rect x="1319.9" y="45.1" width="23" height="11.9" fill="#7db9d6"/><rect x="769.9" y="56" width="23" height="11.9" fill="#7db9d6"/><rect x="791.9" y="56" width="23" height="11.9" fill="#7db9d6"/><rect x="813.9" y="56" width="23" height="11.9" fill="#7db9d6"/><rect x="835.9" y="56" width="23" height="11.9" fill="#7db9d6"/><rect x="857.9" y="56" width="23" height="11.9" fill="#7db9d6"/><rect x="879.9" y="56" width="23" height="11.9" fill="#7db9d6"/><rect x="901.9" y="56" width="23" height="11.9" fill="#7db9d6"/><rect x="923.9" y="56" width="23" height="11.9" fill="#acd0e4"/><rect x="945.9" y="56" width="23" height="11.9" fill="#7db9d6"/><rect x="967.9" y="56" width="23" height="11.9" fill="#56a4be"/><rect x="989.9" y="56" width="23" height="11.9" fill="#7db9d6"/><rect x="1011.9" y="56" width="23" height="11.9" fill="#acd0e4"/><rect x="1033.9" y="56" width="23" height="11.9" fill="#7db9d6"/><rect x="1055.9" y="56" width="23" height="11.9" fill="#acd0e4"/><rect x="1077.9" y="56" width="23" height="11.9" fill="#7db9d6"/><rect x="1099.9" y="56" width="23" height="11.9" fill="#56a4be"/><rect x="1121.9" y="56" width="23" height="11.9" fill="#56a4be"/><rect x="1143.9" y="56" width="23" height="11.9" fill="#7db9d6"/><rect x="1165.9" y="56" width="23" height="11.9" fill="#7db9d6"/><rect x="1187.9" y="56" width="23" height="11.9" fill="#56a4be"/><rect x="1209.9" y="56" width="23" height="11.9" fill="#56a4be"/><rect x="1231.9" y="56" width="23" height="11.9" fill="#56a4be"/><rect x="1253.9" y="56" width="23" height="11.9" fill="#56a4be"/><rect x="1275.9" y="56" width="23" height="11.9" fill="#56a4be"/><rect x="1297.9" y="56" width="23" height="11.9" fill="#56a4be"/><rect x="1319.9" y="56" width="23" height="11.9" fill="#56a4be"/><rect x="769.9" y="67" width="23" height="11.9" fill="#7db9d6"/><rect x="791.9" y="67" width="23" height="11.9" fill="#7db9d6"/><rect x="813.9" y="67" width="23" height="11.9" fill="#7db9d6"/><rect x="835.9" y="67" width="23" height="11.9" fill="#7db9d6"/><rect x="857.9" y="67" width="23" height="11.9" fill="#7db9d6"/><rect x="879.9" y="67" width="23" height="11.9" fill="#7db9d6"/><rect x="901.9" y="67" width="23" height="11.9" fill="#acd0e4"/><rect x="923.9" y="67" width="23" height="11.9" fill="#7db9d6"/><rect x="945.9" y="67" width="23" height="11.9" fill="#56a4be"/><rect x="967.9" y="67" width="23" height="11.9" fill="#32846a"/><rect x="989.9" y="67" width="23" height="11.9" fill="#40968c"/><rect x="1011.9" y="67" width="23" height="11.9" fill="#7db9d6"/><rect x="1033.9" y="67" width="23" height="11.9" fill="#56a4be"/><rect x="1055.9" y="67" width="23" height="11.9" fill="#acd0e4"/><rect x="1077.9" y="67" width="23" height="11.9" fill="#acd0e4"/><rect x="1099.9" y="67" width="23" height="11.9" fill="#7db9d6"/><rect x="1121.9" y="67" width="23" height="11.9" fill="#40968c"/><rect x="1143.9" y="67" width="23" height="11.9" fill="#56a4be"/><rect x="1165.9" y="67" width="23" height="11.9" fill="#56a4be"/><rect x="1187.9" y="67" width="23" height="11.9" fill="#40968c"/><rect x="1209.9" y="67" width="23" height="11.9" fill="#40968c"/><rect x="1231.9" y="67" width="23" height="11.9" fill="#56a4be"/><rect x="1253.9" y="67" width="23" height="11.9" fill="#56a4be"/><rect x="1275.9" y="67" width="23" height="11.9" fill="#56a4be"/><rect x="1297.9" y="67" width="23" height="11.9" fill="#56a4be"/><rect x="1319.9" y="67" width="23" height="11.9" fill="#56a4be"/><rect x="769.9" y="77.9" width="23" height="11.9" fill="#7db9d6"/><rect x="791.9" y="77.9" width="23" height="11.9" fill="#7db9d6"/><rect x="813.9" y="77.9" width="23" height="11.9" fill="#7db9d6"/><rect x="835.9" y="77.9" width="23" height="11.9" fill="#7db9d6"/><rect x="857.9" y="77.9" width="23" height="11.9" fill="#7db9d6"/><rect x="879.9" y="77.9" width="23" height="11.9" fill="#7db9d6"/><rect x="901.9" y="77.9" width="23" height="11.9" fill="#7db9d6"/><rect x="923.9" y="77.9" width="23" height="11.9" fill="#56a4be"/><rect x="945.9" y="77.9" width="23" height="11.9" fill="#40968c"/><rect x="967.9" y="77.9" width="23" height="11.9" fill="#26644b"/><rect x="989.9" y="77.9" width="23" height="11.9" fill="#56a4be"/><rect x="1011.9" y="77.9" width="23" height="11.9" fill="#40968c"/><rect x="1033.9" y="77.9" width="23" height="11.9" fill="#56a4be"/><rect x="1055.9" y="77.9" width="23" height="11.9" fill="#acd0e4"/><rect x="1077.9" y="77.9" width="23" height="11.9" fill="#acd0e4"/><rect x="1099.9" y="77.9" width="23" height="11.9" fill="#acd0e4"/><rect x="1121.9" y="77.9" width="23" height="11.9" fill="#7db9d6"/><rect x="1143.9" y="77.9" width="23" height="11.9" fill="#56a4be"/><rect x="1165.9" y="77.9" width="23" height="11.9" fill="#7db9d6"/><rect x="1187.9" y="77.9" width="23" height="11.9" fill="#56a4be"/><rect x="1209.9" y="77.9" width="23" height="11.9" fill="#56a4be"/><rect x="1231.9" y="77.9" width="23" height="11.9" fill="#40968c"/><rect x="1253.9" y="77.9" width="23" height="11.9" fill="#7db9d6"/><rect x="1275.9" y="77.9" width="23" height="11.9" fill="#7db9d6"/><rect x="1297.9" y="77.9" width="23" height="11.9" fill="#7db9d6"/><rect x="1319.9" y="77.9" width="23" height="11.9" fill="#7db9d6"/><rect x="769.9" y="88.9" width="23" height="11.9" fill="#7db9d6"/><rect x="791.9" y="88.9" width="23" height="11.9" fill="#7db9d6"/><rect x="813.9" y="88.9" width="23" height="11.9" fill="#7db9d6"/><rect x="835.9" y="88.9" width="23" height="11.9" fill="#7db9d6"/><rect x="857.9" y="88.9" width="23" height="11.9" fill="#7db9d6"/><rect x="879.9" y="88.9" width="23" height="11.9" fill="#7db9d6"/><rect x="901.9" y="88.9" width="23" height="11.9" fill="#7db9d6"/><rect x="923.9" y="88.9" width="23" height="11.9" fill="#56a4be"/><rect x="945.9" y="88.9" width="23" height="11.9" fill="#40968c"/><rect x="967.9" y="88.9" width="23" height="11.9" fill="#56a4be"/><rect x="989.9" y="88.9" width="23" height="11.9" fill="#56a4be"/><rect x="1011.9" y="88.9" width="23" height="11.9" fill="#7db9d6"/><rect x="1033.9" y="88.9" width="23" height="11.9" fill="#acd0e4"/><rect x="1055.9" y="88.9" width="23" height="11.9" fill="#dee6f2"/><rect x="1077.9" y="88.9" width="23" height="11.9" fill="#dee6f2"/><rect x="1099.9" y="88.9" width="23" height="11.9" fill="#acd0e4"/><rect x="1121.9" y="88.9" width="23" height="11.9" fill="#acd0e4"/><rect x="1143.9" y="88.9" width="23" height="11.9" fill="#7db9d6"/><rect x="1165.9" y="88.9" width="23" height="11.9" fill="#7db9d6"/><rect x="1187.9" y="88.9" width="23" height="11.9" fill="#7db9d6"/><rect x="1209.9" y="88.9" width="23" height="11.9" fill="#7db9d6"/><rect x="1231.9" y="88.9" width="23" height="11.9" fill="#56a4be"/><rect x="1253.9" y="88.9" width="23" height="11.9" fill="#40968c"/><rect x="1275.9" y="88.9" width="23" height="11.9" fill="#56a4be"/><rect x="1297.9" y="88.9" width="23" height="11.9" fill="#56a4be"/><rect x="1319.9" y="88.9" width="23" height="11.9" fill="#56a4be"/><rect x="769.9" y="99.8" width="23" height="11.9" fill="#7db9d6"/><rect x="791.9" y="99.8" width="23" height="11.9" fill="#7db9d6"/><rect x="813.9" y="99.8" width="23" height="11.9" fill="#7db9d6"/><rect x="835.9" y="99.8" width="23" height="11.9" fill="#7db9d6"/><rect x="857.9" y="99.8" width="23" height="11.9" fill="#56a4be"/><rect x="879.9" y="99.8" width="23" height="11.9" fill="#56a4be"/><rect x="901.9" y="99.8" width="23" height="11.9" fill="#7db9d6"/><rect x="923.9" y="99.8" width="23" height="11.9" fill="#56a4be"/><rect x="945.9" y="99.8" width="23" height="11.9" fill="#56a4be"/><rect x="967.9" y="99.8" width="23" height="11.9" fill="#56a4be"/><rect x="989.9" y="99.8" width="23" height="11.9" fill="#56a4be"/><rect x="1011.9" y="99.8" width="23" height="11.9" fill="#acd0e4"/><rect x="1033.9" y="99.8" width="23" height="11.9" fill="#acd0e4"/><rect x="1055.9" y="99.8" width="23" height="11.9" fill="#acd0e4"/><rect x="1077.9" y="99.8" width="23" height="11.9" fill="#acd0e4"/><rect x="1099.9" y="99.8" width="23" height="11.9" fill="#acd0e4"/><rect x="1121.9" y="99.8" width="23" height="11.9" fill="#7db9d6"/><rect x="1143.9" y="99.8" width="23" height="11.9" fill="#56a4be"/><rect x="1165.9" y="99.8" width="23" height="11.9" fill="#7db9d6"/><rect x="1187.9" y="99.8" width="23" height="11.9" fill="#7db9d6"/><rect x="1209.9" y="99.8" width="23" height="11.9" fill="#56a4be"/><rect x="1231.9" y="99.8" width="23" height="11.9" fill="#56a4be"/><rect x="1253.9" y="99.8" width="23" height="11.9" fill="#7db9d6"/><rect x="1275.9" y="99.8" width="23" height="11.9" fill="#7db9d6"/><rect x="1297.9" y="99.8" width="23" height="11.9" fill="#7db9d6"/><rect x="1319.9" y="99.8" width="23" height="11.9" fill="#7db9d6"/><rect x="769.9" y="110.7" width="23" height="11.9" fill="#7db9d6"/><rect x="791.9" y="110.7" width="23" height="11.9" fill="#7db9d6"/><rect x="813.9" y="110.7" width="23" height="11.9" fill="#7db9d6"/><rect x="835.9" y="110.7" width="23" height="11.9" fill="#acd0e4"/><rect x="857.9" y="110.7" width="23" height="11.9" fill="#56a4be"/><rect x="879.9" y="110.7" width="23" height="11.9" fill="#32846a"/><rect x="901.9" y="110.7" width="23" height="11.9" fill="#56a4be"/><rect x="923.9" y="110.7" width="23" height="11.9" fill="#acd0e4"/><rect x="945.9" y="110.7" width="23" height="11.9" fill="#7db9d6"/><rect x="967.9" y="110.7" width="23" height="11.9" fill="#7db9d6"/><rect x="989.9" y="110.7" width="23" height="11.9" fill="#7db9d6"/><rect x="1011.9" y="110.7" width="23" height="11.9" fill="#acd0e4"/><rect x="1033.9" y="110.7" width="23" height="11.9" fill="#7db9d6"/><rect x="1055.9" y="110.7" width="23" height="11.9" fill="#56a4be"/><rect x="1077.9" y="110.7" width="23" height="11.9" fill="#7db9d6"/><rect x="1099.9" y="110.7" width="23" height="11.9" fill="#acd0e4"/><rect x="1121.9" y="110.7" width="23" height="11.9" fill="#7db9d6"/><rect x="1143.9" y="110.7" width="23" height="11.9" fill="#40968c"/><rect x="1165.9" y="110.7" width="23" height="11.9" fill="#40968c"/><rect x="1187.9" y="110.7" width="23" height="11.9" fill="#56a4be"/><rect x="1209.9" y="110.7" width="23" height="11.9" fill="#56a4be"/><rect x="1231.9" y="110.7" width="23" height="11.9" fill="#56a4be"/><rect x="1253.9" y="110.7" width="23" height="11.9" fill="#7db9d6"/><rect x="1275.9" y="110.7" width="23" height="11.9" fill="#7db9d6"/><rect x="1297.9" y="110.7" width="23" height="11.9" fill="#7db9d6"/><rect x="1319.9" y="110.7" width="23" height="11.9" fill="#7db9d6"/><rect x="769.9" y="121.7" width="23" height="11.9" fill="#7db9d6"/><rect x="791.9" y="121.7" width="23" height="11.9" fill="#7db9d6"/><rect x="813.9" y="121.7" width="23" height="11.9" fill="#acd0e4"/><rect x="835.9" y="121.7" width="23" height="11.9" fill="#7db9d6"/><rect x="857.9" y="121.7" width="23" height="11.9" fill="#56a4be"/><rect x="879.9" y="121.7" width="23" height="11.9" fill="#32846a"/><rect x="901.9" y="121.7" width="23" height="11.9" fill="#40968c"/><rect x="923.9" y="121.7" width="23" height="11.9" fill="#7db9d6"/><rect x="945.9" y="121.7" width="23" height="11.9" fill="#40968c"/><rect x="967.9" y="121.7" width="23" height="11.9" fill="#acd0e4"/><rect x="989.9" y="121.7" width="23" height="11.9" fill="#acd0e4"/><rect x="1011.9" y="121.7" width="23" height="11.9" fill="#acd0e4"/><rect x="1033.9" y="121.7" width="23" height="11.9" fill="#56a4be"/><rect x="1055.9" y="121.7" width="23" height="11.9" fill="#40968c"/><rect x="1077.9" y="121.7" width="23" height="11.9" fill="#56a4be"/><rect x="1099.9" y="121.7" width="23" height="11.9" fill="#acd0e4"/><rect x="1121.9" y="121.7" width="23" height="11.9" fill="#7db9d6"/><rect x="1143.9" y="121.7" width="23" height="11.9" fill="#56a4be"/><rect x="1165.9" y="121.7" width="23" height="11.9" fill="#40968c"/><rect x="1187.9" y="121.7" width="23" height="11.9" fill="#56a4be"/><rect x="1209.9" y="121.7" width="23" height="11.9" fill="#40968c"/><rect x="1231.9" y="121.7" width="23" height="11.9" fill="#56a4be"/><rect x="1253.9" y="121.7" width="23" height="11.9" fill="#acd0e4"/><rect x="1275.9" y="121.7" width="23" height="11.9" fill="#acd0e4"/><rect x="1297.9" y="121.7" width="23" height="11.9" fill="#acd0e4"/><rect x="1319.9" y="121.7" width="23" height="11.9" fill="#7db9d6"/><rect x="769.9" y="132.6" width="23" height="11.9" fill="#acd0e4"/><rect x="791.9" y="132.6" width="23" height="11.9" fill="#56a4be"/><rect x="813.9" y="132.6" width="23" height="11.9" fill="#acd0e4"/><rect x="835.9" y="132.6" width="23" height="11.9" fill="#7db9d6"/><rect x="857.9" y="132.6" width="23" height="11.9" fill="#acd0e4"/><rect x="879.9" y="132.6" width="23" height="11.9" fill="#acd0e4"/><rect x="901.9" y="132.6" width="23" height="11.9" fill="#56a4be"/><rect x="923.9" y="132.6" width="23" height="11.9" fill="#56a4be"/><rect x="945.9" y="132.6" width="23" height="11.9" fill="#56a4be"/><rect x="967.9" y="132.6" width="23" height="11.9" fill="#acd0e4"/><rect x="989.9" y="132.6" width="23" height="11.9" fill="#acd0e4"/><rect x="1011.9" y="132.6" width="23" height="11.9" fill="#acd0e4"/><rect x="1033.9" y="132.6" width="23" height="11.9" fill="#7db9d6"/><rect x="1055.9" y="132.6" width="23" height="11.9" fill="#40968c"/><rect x="1077.9" y="132.6" width="23" height="11.9" fill="#56a4be"/><rect x="1099.9" y="132.6" width="23" height="11.9" fill="#acd0e4"/><rect x="1121.9" y="132.6" width="23" height="11.9" fill="#7db9d6"/><rect x="1143.9" y="132.6" width="23" height="11.9" fill="#7db9d6"/><rect x="1165.9" y="132.6" width="23" height="11.9" fill="#56a4be"/><rect x="1187.9" y="132.6" width="23" height="11.9" fill="#7db9d6"/><rect x="1209.9" y="132.6" width="23" height="11.9" fill="#56a4be"/><rect x="1231.9" y="132.6" width="23" height="11.9" fill="#7db9d6"/><rect x="1253.9" y="132.6" width="23" height="11.9" fill="#acd0e4"/><rect x="1275.9" y="132.6" width="23" height="11.9" fill="#acd0e4"/><rect x="1297.9" y="132.6" width="23" height="11.9" fill="#acd0e4"/><rect x="1319.9" y="132.6" width="23" height="11.9" fill="#7db9d6"/><rect x="769.9" y="143.5" width="23" height="11.9" fill="#acd0e4"/><rect x="791.9" y="143.5" width="23" height="11.9" fill="#56a4be"/><rect x="813.9" y="143.5" width="23" height="11.9" fill="#7db9d6"/><rect x="835.9" y="143.5" width="23" height="11.9" fill="#acd0e4"/><rect x="857.9" y="143.5" width="23" height="11.9" fill="#7db9d6"/><rect x="879.9" y="143.5" width="23" height="11.9" fill="#acd0e4"/><rect x="901.9" y="143.5" width="23" height="11.9" fill="#acd0e4"/><rect x="923.9" y="143.5" width="23" height="11.9" fill="#acd0e4"/><rect x="945.9" y="143.5" width="23" height="11.9" fill="#7db9d6"/><rect x="967.9" y="143.5" width="23" height="11.9" fill="#40968c"/><rect x="989.9" y="143.5" width="23" height="11.9" fill="#40968c"/><rect x="1011.9" y="143.5" width="23" height="11.9" fill="#56a4be"/><rect x="1033.9" y="143.5" width="23" height="11.9" fill="#7db9d6"/><rect x="1055.9" y="143.5" width="23" height="11.9" fill="#7db9d6"/><rect x="1077.9" y="143.5" width="23" height="11.9" fill="#acd0e4"/><rect x="1099.9" y="143.5" width="23" height="11.9" fill="#56a4be"/><rect x="1121.9" y="143.5" width="23" height="11.9" fill="#40968c"/><rect x="1143.9" y="143.5" width="23" height="11.9" fill="#7db9d6"/><rect x="1165.9" y="143.5" width="23" height="11.9" fill="#acd0e4"/><rect x="1187.9" y="143.5" width="23" height="11.9" fill="#acd0e4"/><rect x="1209.9" y="143.5" width="23" height="11.9" fill="#56a4be"/><rect x="1231.9" y="143.5" width="23" height="11.9" fill="#acd0e4"/><rect x="1253.9" y="143.5" width="23" height="11.9" fill="#acd0e4"/><rect x="1275.9" y="143.5" width="23" height="11.9" fill="#acd0e4"/><rect x="1297.9" y="143.5" width="23" height="11.9" fill="#7db9d6"/><rect x="1319.9" y="143.5" width="23" height="11.9" fill="#56a4be"/><rect x="769.9" y="154.5" width="23" height="11.9" fill="#acd0e4"/><rect x="791.9" y="154.5" width="23" height="11.9" fill="#7db9d6"/><rect x="813.9" y="154.5" width="23" height="11.9" fill="#acd0e4"/><rect x="835.9" y="154.5" width="23" height="11.9" fill="#acd0e4"/><rect x="857.9" y="154.5" width="23" height="11.9" fill="#7db9d6"/><rect x="879.9" y="154.5" width="23" height="11.9" fill="#acd0e4"/><rect x="901.9" y="154.5" width="23" height="11.9" fill="#acd0e4"/><rect x="923.9" y="154.5" width="23" height="11.9" fill="#7db9d6"/><rect x="945.9" y="154.5" width="23" height="11.9" fill="#32846a"/><rect x="967.9" y="154.5" width="23" height="11.9" fill="#26644b"/><rect x="989.9" y="154.5" width="23" height="11.9" fill="#26644b"/><rect x="1011.9" y="154.5" width="23" height="11.9" fill="#40968c"/><rect x="1033.9" y="154.5" width="23" height="11.9" fill="#7db9d6"/><rect x="1055.9" y="154.5" width="23" height="11.9" fill="#acd0e4"/><rect x="1077.9" y="154.5" width="23" height="11.9" fill="#acd0e4"/><rect x="1099.9" y="154.5" width="23" height="11.9" fill="#40968c"/><rect x="1121.9" y="154.5" width="23" height="11.9" fill="#32846a"/><rect x="1143.9" y="154.5" width="23" height="11.9" fill="#acd0e4"/><rect x="1165.9" y="154.5" width="23" height="11.9" fill="#acd0e4"/><rect x="1187.9" y="154.5" width="23" height="11.9" fill="#acd0e4"/><rect x="1209.9" y="154.5" width="23" height="11.9" fill="#acd0e4"/><rect x="1231.9" y="154.5" width="23" height="11.9" fill="#acd0e4"/><rect x="1253.9" y="154.5" width="23" height="11.9" fill="#acd0e4"/><rect x="1275.9" y="154.5" width="23" height="11.9" fill="#acd0e4"/><rect x="1297.9" y="154.5" width="23" height="11.9" fill="#7db9d6"/><rect x="1319.9" y="154.5" width="23" height="11.9" fill="#7db9d6"/><rect x="769.9" y="165.4" width="23" height="11.9" fill="#acd0e4"/><rect x="791.9" y="165.4" width="23" height="11.9" fill="#acd0e4"/><rect x="813.9" y="165.4" width="23" height="11.9" fill="#acd0e4"/><rect x="835.9" y="165.4" width="23" height="11.9" fill="#dee6f2"/><rect x="857.9" y="165.4" width="23" height="11.9" fill="#acd0e4"/><rect x="879.9" y="165.4" width="23" height="11.9" fill="#acd0e4"/><rect x="901.9" y="165.4" width="23" height="11.9" fill="#acd0e4"/><rect x="923.9" y="165.4" width="23" height="11.9" fill="#acd0e4"/><rect x="945.9" y="165.4" width="23" height="11.9" fill="#32846a"/><rect x="967.9" y="165.4" width="23" height="11.9" fill="#26644b"/><rect x="989.9" y="165.4" width="23" height="11.9" fill="#26644b"/><rect x="1011.9" y="165.4" width="23" height="11.9" fill="#32846a"/><rect x="1033.9" y="165.4" width="23" height="11.9" fill="#7db9d6"/><rect x="1055.9" y="165.4" width="23" height="11.9" fill="#dee6f2"/><rect x="1077.9" y="165.4" width="23" height="11.9" fill="#dee6f2"/><rect x="1099.9" y="165.4" width="23" height="11.9" fill="#acd0e4"/><rect x="1121.9" y="165.4" width="23" height="11.9" fill="#acd0e4"/><rect x="1143.9" y="165.4" width="23" height="11.9" fill="#dee6f2"/><rect x="1165.9" y="165.4" width="23" height="11.9" fill="#dee6f2"/><rect x="1187.9" y="165.4" width="23" height="11.9" fill="#f4f1f8"/><rect x="1209.9" y="165.4" width="23" height="11.9" fill="#dee6f2"/><rect x="1231.9" y="165.4" width="23" height="11.9" fill="#acd0e4"/><rect x="1253.9" y="165.4" width="23" height="11.9" fill="#acd0e4"/><rect x="1275.9" y="165.4" width="23" height="11.9" fill="#acd0e4"/><rect x="1297.9" y="165.4" width="23" height="11.9" fill="#acd0e4"/><rect x="1319.9" y="165.4" width="23" height="11.9" fill="#acd0e4"/><rect x="769.9" y="176.4" width="23" height="11.9" fill="#acd0e4"/><rect x="791.9" y="176.4" width="23" height="11.9" fill="#acd0e4"/><rect x="813.9" y="176.4" width="23" height="11.9" fill="#dee6f2"/><rect x="835.9" y="176.4" width="23" height="11.9" fill="#acd0e4"/><rect x="857.9" y="176.4" width="23" height="11.9" fill="#acd0e4"/><rect x="879.9" y="176.4" width="23" height="11.9" fill="#acd0e4"/><rect x="901.9" y="176.4" width="23" height="11.9" fill="#acd0e4"/><rect x="923.9" y="176.4" width="23" height="11.9" fill="#acd0e4"/><rect x="945.9" y="176.4" width="23" height="11.9" fill="#32846a"/><rect x="967.9" y="176.4" width="23" height="11.9" fill="#32846a"/><rect x="989.9" y="176.4" width="23" height="11.9" fill="#40968c"/><rect x="1011.9" y="176.4" width="23" height="11.9" fill="#40968c"/><rect x="1033.9" y="176.4" width="23" height="11.9" fill="#56a4be"/><rect x="1055.9" y="176.4" width="23" height="11.9" fill="#f4f1f8"/><rect x="1077.9" y="176.4" width="23" height="11.9" fill="#f4f1f8"/><rect x="1099.9" y="176.4" width="23" height="11.9" fill="#f4f1f8"/><rect x="1121.9" y="176.4" width="23" height="11.9" fill="#f4f1f8"/><rect x="1143.9" y="176.4" width="23" height="11.9" fill="#f4f1f8"/><rect x="1165.9" y="176.4" width="23" height="11.9" fill="#f4f1f8"/><rect x="1187.9" y="176.4" width="23" height="11.9" fill="#f4f1f8"/><rect x="1209.9" y="176.4" width="23" height="11.9" fill="#f4f1f8"/><rect x="1231.9" y="176.4" width="23" height="11.9" fill="#acd0e4"/><rect x="1253.9" y="176.4" width="23" height="11.9" fill="#dee6f2"/><rect x="1275.9" y="176.4" width="23" height="11.9" fill="#dee6f2"/><rect x="1297.9" y="176.4" width="23" height="11.9" fill="#dee6f2"/><rect x="1319.9" y="176.4" width="23" height="11.9" fill="#dee6f2"/><rect x="769.9" y="187.3" width="23" height="11.9" fill="#acd0e4"/><rect x="791.9" y="187.3" width="23" height="11.9" fill="#acd0e4"/><rect x="813.9" y="187.3" width="23" height="11.9" fill="#dee6f2"/><rect x="835.9" y="187.3" width="23" height="11.9" fill="#dee6f2"/><rect x="857.9" y="187.3" width="23" height="11.9" fill="#dee6f2"/><rect x="879.9" y="187.3" width="23" height="11.9" fill="#dee6f2"/><rect x="901.9" y="187.3" width="23" height="11.9" fill="#acd0e4"/><rect x="923.9" y="187.3" width="23" height="11.9" fill="#acd0e4"/><rect x="945.9" y="187.3" width="23" height="11.9" fill="#7db9d6"/><rect x="967.9" y="187.3" width="23" height="11.9" fill="#32846a"/><rect x="989.9" y="187.3" width="23" height="11.9" fill="#32846a"/><rect x="1011.9" y="187.3" width="23" height="11.9" fill="#40968c"/><rect x="1033.9" y="187.3" width="23" height="11.9" fill="#56a4be"/><rect x="1055.9" y="187.3" width="23" height="11.9" fill="#7db9d6"/><rect x="1077.9" y="187.3" width="23" height="11.9" fill="#acd0e4"/><rect x="1099.9" y="187.3" width="23" height="11.9" fill="#dee6f2"/><rect x="1121.9" y="187.3" width="23" height="11.9" fill="#f4f1f8"/><rect x="1143.9" y="187.3" width="23" height="11.9" fill="#f4f1f8"/><rect x="1165.9" y="187.3" width="23" height="11.9" fill="#dee6f2"/><rect x="1187.9" y="187.3" width="23" height="11.9" fill="#f4f1f8"/><rect x="1209.9" y="187.3" width="23" height="11.9" fill="#f4f1f8"/><rect x="1231.9" y="187.3" width="23" height="11.9" fill="#acd0e4"/><rect x="1253.9" y="187.3" width="23" height="11.9" fill="#acd0e4"/><rect x="1275.9" y="187.3" width="23" height="11.9" fill="#acd0e4"/><rect x="1297.9" y="187.3" width="23" height="11.9" fill="#dee6f2"/><rect x="1319.9" y="187.3" width="23" height="11.9" fill="#dee6f2"/><rect x="769.9" y="198.2" width="23" height="11.9" fill="#acd0e4"/><rect x="791.9" y="198.2" width="23" height="11.9" fill="#acd0e4"/><rect x="813.9" y="198.2" width="23" height="11.9" fill="#dee6f2"/><rect x="835.9" y="198.2" width="23" height="11.9" fill="#dee6f2"/><rect x="857.9" y="198.2" width="23" height="11.9" fill="#dee6f2"/><rect x="879.9" y="198.2" width="23" height="11.9" fill="#dee6f2"/><rect x="901.9" y="198.2" width="23" height="11.9" fill="#acd0e4"/><rect x="923.9" y="198.2" width="23" height="11.9" fill="#7db9d6"/><rect x="945.9" y="198.2" width="23" height="11.9" fill="#acd0e4"/><rect x="967.9" y="198.2" width="23" height="11.9" fill="#7db9d6"/><rect x="989.9" y="198.2" width="23" height="11.9" fill="#40968c"/><rect x="1011.9" y="198.2" width="23" height="11.9" fill="#32846a"/><rect x="1033.9" y="198.2" width="23" height="11.9" fill="#40968c"/><rect x="1055.9" y="198.2" width="23" height="11.9" fill="#7db9d6"/><rect x="1077.9" y="198.2" width="23" height="11.9" fill="#acd0e4"/><rect x="1099.9" y="198.2" width="23" height="11.9" fill="#acd0e4"/><rect x="1121.9" y="198.2" width="23" height="11.9" fill="#dee6f2"/><rect x="1143.9" y="198.2" width="23" height="11.9" fill="#dee6f2"/><rect x="1165.9" y="198.2" width="23" height="11.9" fill="#dee6f2"/><rect x="1187.9" y="198.2" width="23" height="11.9" fill="#dee6f2"/><rect x="1209.9" y="198.2" width="23" height="11.9" fill="#dee6f2"/><rect x="1231.9" y="198.2" width="23" height="11.9" fill="#acd0e4"/><rect x="1253.9" y="198.2" width="23" height="11.9" fill="#acd0e4"/><rect x="1275.9" y="198.2" width="23" height="11.9" fill="#7db9d6"/><rect x="1297.9" y="198.2" width="23" height="11.9" fill="#acd0e4"/><rect x="1319.9" y="198.2" width="23" height="11.9" fill="#acd0e4"/><rect x="769.9" y="209.2" width="23" height="11.9" fill="#7db9d6"/><rect x="791.9" y="209.2" width="23" height="11.9" fill="#7db9d6"/><rect x="813.9" y="209.2" width="23" height="11.9" fill="#acd0e4"/><rect x="835.9" y="209.2" width="23" height="11.9" fill="#acd0e4"/><rect x="857.9" y="209.2" width="23" height="11.9" fill="#dee6f2"/><rect x="879.9" y="209.2" width="23" height="11.9" fill="#dee6f2"/><rect x="901.9" y="209.2" width="23" height="11.9" fill="#acd0e4"/><rect x="923.9" y="209.2" width="23" height="11.9" fill="#56a4be"/><rect x="945.9" y="209.2" width="23" height="11.9" fill="#56a4be"/><rect x="967.9" y="209.2" width="23" height="11.9" fill="#56a4be"/><rect x="989.9" y="209.2" width="23" height="11.9" fill="#56a4be"/><rect x="1011.9" y="209.2" width="23" height="11.9" fill="#32846a"/><rect x="1033.9" y="209.2" width="23" height="11.9" fill="#32846a"/><rect x="1055.9" y="209.2" width="23" height="11.9" fill="#56a4be"/><rect x="1077.9" y="209.2" width="23" height="11.9" fill="#7db9d6"/><rect x="1099.9" y="209.2" width="23" height="11.9" fill="#7db9d6"/><rect x="1121.9" y="209.2" width="23" height="11.9" fill="#acd0e4"/><rect x="1143.9" y="209.2" width="23" height="11.9" fill="#acd0e4"/><rect x="1165.9" y="209.2" width="23" height="11.9" fill="#7db9d6"/><rect x="1187.9" y="209.2" width="23" height="11.9" fill="#7db9d6"/><rect x="1209.9" y="209.2" width="23" height="11.9" fill="#acd0e4"/><rect x="1231.9" y="209.2" width="23" height="11.9" fill="#acd0e4"/><rect x="1253.9" y="209.2" width="23" height="11.9" fill="#7db9d6"/><rect x="1275.9" y="209.2" width="23" height="11.9" fill="#acd0e4"/><rect x="1297.9" y="209.2" width="23" height="11.9" fill="#acd0e4"/><rect x="1319.9" y="209.2" width="23" height="11.9" fill="#acd0e4"/><rect x="769.9" y="220.1" width="23" height="11.9" fill="#acd0e4"/><rect x="791.9" y="220.1" width="23" height="11.9" fill="#acd0e4"/><rect x="813.9" y="220.1" width="23" height="11.9" fill="#acd0e4"/><rect x="835.9" y="220.1" width="23" height="11.9" fill="#7db9d6"/><rect x="857.9" y="220.1" width="23" height="11.9" fill="#acd0e4"/><rect x="879.9" y="220.1" width="23" height="11.9" fill="#acd0e4"/><rect x="901.9" y="220.1" width="23" height="11.9" fill="#acd0e4"/><rect x="923.9" y="220.1" width="23" height="11.9" fill="#7db9d6"/><rect x="945.9" y="220.1" width="23" height="11.9" fill="#56a4be"/><rect x="967.9" y="220.1" width="23" height="11.9" fill="#acd0e4"/><rect x="989.9" y="220.1" width="23" height="11.9" fill="#acd0e4"/><rect x="1011.9" y="220.1" width="23" height="11.9" fill="#32846a"/><rect x="1033.9" y="220.1" width="23" height="11.9" fill="#32846a"/><rect x="1055.9" y="220.1" width="23" height="11.9" fill="#32846a"/><rect x="1077.9" y="220.1" width="23" height="11.9" fill="#32846a"/><rect x="1099.9" y="220.1" width="23" height="11.9" fill="#56a4be"/><rect x="1121.9" y="220.1" width="23" height="11.9" fill="#7db9d6"/><rect x="1143.9" y="220.1" width="23" height="11.9" fill="#7db9d6"/><rect x="1165.9" y="220.1" width="23" height="11.9" fill="#56a4be"/><rect x="1187.9" y="220.1" width="23" height="11.9" fill="#56a4be"/><rect x="1209.9" y="220.1" width="23" height="11.9" fill="#7db9d6"/><rect x="1231.9" y="220.1" width="23" height="11.9" fill="#acd0e4"/><rect x="1253.9" y="220.1" width="23" height="11.9" fill="#acd0e4"/><rect x="1275.9" y="220.1" width="23" height="11.9" fill="#7db9d6"/><rect x="1297.9" y="220.1" width="23" height="11.9" fill="#acd0e4"/><rect x="1319.9" y="220.1" width="23" height="11.9" fill="#acd0e4"/><rect x="769.9" y="231.1" width="23" height="11.9" fill="#acd0e4"/><rect x="791.9" y="231.1" width="23" height="11.9" fill="#acd0e4"/><rect x="813.9" y="231.1" width="23" height="11.9" fill="#acd0e4"/><rect x="835.9" y="231.1" width="23" height="11.9" fill="#acd0e4"/><rect x="857.9" y="231.1" width="23" height="11.9" fill="#acd0e4"/><rect x="879.9" y="231.1" width="23" height="11.9" fill="#acd0e4"/><rect x="901.9" y="231.1" width="23" height="11.9" fill="#acd0e4"/><rect x="923.9" y="231.1" width="23" height="11.9" fill="#7db9d6"/><rect x="945.9" y="231.1" width="23" height="11.9" fill="#56a4be"/><rect x="967.9" y="231.1" width="23" height="11.9" fill="#acd0e4"/><rect x="989.9" y="231.1" width="23" height="11.9" fill="#7db9d6"/><rect x="1011.9" y="231.1" width="23" height="11.9" fill="#40968c"/><rect x="1033.9" y="231.1" width="23" height="11.9" fill="#26644b"/><rect x="1055.9" y="231.1" width="23" height="11.9" fill="#40968c"/><rect x="1077.9" y="231.1" width="23" height="11.9" fill="#32846a"/><rect x="1099.9" y="231.1" width="23" height="11.9" fill="#56a4be"/><rect x="1121.9" y="231.1" width="23" height="11.9" fill="#7db9d6"/><rect x="1143.9" y="231.1" width="23" height="11.9" fill="#56a4be"/><rect x="1165.9" y="231.1" width="23" height="11.9" fill="#56a4be"/><rect x="1187.9" y="231.1" width="23" height="11.9" fill="#56a4be"/><rect x="1209.9" y="231.1" width="23" height="11.9" fill="#56a4be"/><rect x="1231.9" y="231.1" width="23" height="11.9" fill="#7db9d6"/><rect x="1253.9" y="231.1" width="23" height="11.9" fill="#acd0e4"/><rect x="1275.9" y="231.1" width="23" height="11.9" fill="#7db9d6"/><rect x="1297.9" y="231.1" width="23" height="11.9" fill="#acd0e4"/><rect x="1319.9" y="231.1" width="23" height="11.9" fill="#acd0e4"/><rect x="769.9" y="242" width="23" height="11.9" fill="#acd0e4"/><rect x="791.9" y="242" width="23" height="11.9" fill="#acd0e4"/><rect x="813.9" y="242" width="23" height="11.9" fill="#acd0e4"/><rect x="835.9" y="242" width="23" height="11.9" fill="#7db9d6"/><rect x="857.9" y="242" width="23" height="11.9" fill="#7db9d6"/><rect x="879.9" y="242" width="23" height="11.9" fill="#7db9d6"/><rect x="901.9" y="242" width="23" height="11.9" fill="#56a4be"/><rect x="923.9" y="242" width="23" height="11.9" fill="#56a4be"/><rect x="945.9" y="242" width="23" height="11.9" fill="#40968c"/><rect x="967.9" y="242" width="23" height="11.9" fill="#acd0e4"/><rect x="989.9" y="242" width="23" height="11.9" fill="#acd0e4"/><rect x="1011.9" y="242" width="23" height="11.9" fill="#40968c"/><rect x="1033.9" y="242" width="23" height="11.9" fill="#32846a"/><rect x="1055.9" y="242" width="23" height="11.9" fill="#40968c"/><rect x="1077.9" y="242" width="23" height="11.9" fill="#40968c"/><rect x="1099.9" y="242" width="23" height="11.9" fill="#56a4be"/><rect x="1121.9" y="242" width="23" height="11.9" fill="#7db9d6"/><rect x="1143.9" y="242" width="23" height="11.9" fill="#56a4be"/><rect x="1165.9" y="242" width="23" height="11.9" fill="#32846a"/><rect x="1187.9" y="242" width="23" height="11.9" fill="#7db9d6"/><rect x="1209.9" y="242" width="23" height="11.9" fill="#56a4be"/><rect x="1231.9" y="242" width="23" height="11.9" fill="#56a4be"/><rect x="1253.9" y="242" width="23" height="11.9" fill="#56a4be"/><rect x="1275.9" y="242" width="23" height="11.9" fill="#7db9d6"/><rect x="1297.9" y="242" width="23" height="11.9" fill="#acd0e4"/><rect x="1319.9" y="242" width="23" height="11.9" fill="#acd0e4"/><rect x="769.9" y="252.9" width="23" height="11.9" fill="#acd0e4"/><rect x="791.9" y="252.9" width="23" height="11.9" fill="#acd0e4"/><rect x="813.9" y="252.9" width="23" height="11.9" fill="#acd0e4"/><rect x="835.9" y="252.9" width="23" height="11.9" fill="#7db9d6"/><rect x="857.9" y="252.9" width="23" height="11.9" fill="#7db9d6"/><rect x="879.9" y="252.9" width="23" height="11.9" fill="#56a4be"/><rect x="901.9" y="252.9" width="23" height="11.9" fill="#32846a"/><rect x="923.9" y="252.9" width="23" height="11.9" fill="#32846a"/><rect x="945.9" y="252.9" width="23" height="11.9" fill="#7db9d6"/><rect x="967.9" y="252.9" width="23" height="11.9" fill="#acd0e4"/><rect x="989.9" y="252.9" width="23" height="11.9" fill="#7db9d6"/><rect x="1011.9" y="252.9" width="23" height="11.9" fill="#40968c"/><rect x="1033.9" y="252.9" width="23" height="11.9" fill="#32846a"/><rect x="1055.9" y="252.9" width="23" height="11.9" fill="#56a4be"/><rect x="1077.9" y="252.9" width="23" height="11.9" fill="#acd0e4"/><rect x="1099.9" y="252.9" width="23" height="11.9" fill="#7db9d6"/><rect x="1121.9" y="252.9" width="23" height="11.9" fill="#acd0e4"/><rect x="1143.9" y="252.9" width="23" height="11.9" fill="#56a4be"/><rect x="1165.9" y="252.9" width="23" height="11.9" fill="#32846a"/><rect x="1187.9" y="252.9" width="23" height="11.9" fill="#7db9d6"/><rect x="1209.9" y="252.9" width="23" height="11.9" fill="#7db9d6"/><rect x="1231.9" y="252.9" width="23" height="11.9" fill="#32846a"/><rect x="1253.9" y="252.9" width="23" height="11.9" fill="#26644b"/><rect x="1275.9" y="252.9" width="23" height="11.9" fill="#40968c"/><rect x="1297.9" y="252.9" width="23" height="11.9" fill="#32846a"/><rect x="1319.9" y="252.9" width="23" height="11.9" fill="#56a4be"/><rect x="769.9" y="263.9" width="23" height="11.9" fill="#7db9d6"/><rect x="791.9" y="263.9" width="23" height="11.9" fill="#7db9d6"/><rect x="813.9" y="263.9" width="23" height="11.9" fill="#7db9d6"/><rect x="835.9" y="263.9" width="23" height="11.9" fill="#7db9d6"/><rect x="857.9" y="263.9" width="23" height="11.9" fill="#7db9d6"/><rect x="879.9" y="263.9" width="23" height="11.9" fill="#40968c"/><rect x="901.9" y="263.9" width="23" height="11.9" fill="#40968c"/><rect x="923.9" y="263.9" width="23" height="11.9" fill="#40968c"/><rect x="945.9" y="263.9" width="23" height="11.9" fill="#56a4be"/><rect x="967.9" y="263.9" width="23" height="11.9" fill="#7db9d6"/><rect x="989.9" y="263.9" width="23" height="11.9" fill="#56a4be"/><rect x="1011.9" y="263.9" width="23" height="11.9" fill="#40968c"/><rect x="1033.9" y="263.9" width="23" height="11.9" fill="#40968c"/><rect x="1055.9" y="263.9" width="23" height="11.9" fill="#7db9d6"/><rect x="1077.9" y="263.9" width="23" height="11.9" fill="#acd0e4"/><rect x="1099.9" y="263.9" width="23" height="11.9" fill="#acd0e4"/><rect x="1121.9" y="263.9" width="23" height="11.9" fill="#acd0e4"/><rect x="1143.9" y="263.9" width="23" height="11.9" fill="#56a4be"/><rect x="1165.9" y="263.9" width="23" height="11.9" fill="#32846a"/><rect x="1187.9" y="263.9" width="23" height="11.9" fill="#7db9d6"/><rect x="1209.9" y="263.9" width="23" height="11.9" fill="#56a4be"/><rect x="1231.9" y="263.9" width="23" height="11.9" fill="#26644b"/><rect x="1253.9" y="263.9" width="23" height="11.9" fill="#26644b"/><rect x="1275.9" y="263.9" width="23" height="11.9" fill="#40968c"/><rect x="1297.9" y="263.9" width="23" height="11.9" fill="#56a4be"/><rect x="1319.9" y="263.9" width="23" height="11.9" fill="#56a4be"/><rect x="769.9" y="274.8" width="23" height="11.9" fill="#7db9d6"/><rect x="791.9" y="274.8" width="23" height="11.9" fill="#7db9d6"/><rect x="813.9" y="274.8" width="23" height="11.9" fill="#7db9d6"/><rect x="835.9" y="274.8" width="23" height="11.9" fill="#7db9d6"/><rect x="857.9" y="274.8" width="23" height="11.9" fill="#7db9d6"/><rect x="879.9" y="274.8" width="23" height="11.9" fill="#40968c"/><rect x="901.9" y="274.8" width="23" height="11.9" fill="#40968c"/><rect x="923.9" y="274.8" width="23" height="11.9" fill="#56a4be"/><rect x="945.9" y="274.8" width="23" height="11.9" fill="#56a4be"/><rect x="967.9" y="274.8" width="23" height="11.9" fill="#56a4be"/><rect x="989.9" y="274.8" width="23" height="11.9" fill="#40968c"/><rect x="1011.9" y="274.8" width="23" height="11.9" fill="#40968c"/><rect x="1033.9" y="274.8" width="23" height="11.9" fill="#56a4be"/><rect x="1055.9" y="274.8" width="23" height="11.9" fill="#7db9d6"/><rect x="1077.9" y="274.8" width="23" height="11.9" fill="#acd0e4"/><rect x="1099.9" y="274.8" width="23" height="11.9" fill="#7db9d6"/><rect x="1121.9" y="274.8" width="23" height="11.9" fill="#56a4be"/><rect x="1143.9" y="274.8" width="23" height="11.9" fill="#56a4be"/><rect x="1165.9" y="274.8" width="23" height="11.9" fill="#56a4be"/><rect x="1187.9" y="274.8" width="23" height="11.9" fill="#acd0e4"/><rect x="1209.9" y="274.8" width="23" height="11.9" fill="#40968c"/><rect x="1231.9" y="274.8" width="23" height="11.9" fill="#26644b"/><rect x="1253.9" y="274.8" width="23" height="11.9" fill="#32846a"/><rect x="1275.9" y="274.8" width="23" height="11.9" fill="#56a4be"/><rect x="1297.9" y="274.8" width="23" height="11.9" fill="#56a4be"/><rect x="1319.9" y="274.8" width="23" height="11.9" fill="#56a4be"/><rect x="769.9" y="285.7" width="23" height="11.9" fill="#7db9d6"/><rect x="791.9" y="285.7" width="23" height="11.9" fill="#7db9d6"/><rect x="813.9" y="285.7" width="23" height="11.9" fill="#7db9d6"/><rect x="835.9" y="285.7" width="23" height="11.9" fill="#7db9d6"/><rect x="857.9" y="285.7" width="23" height="11.9" fill="#7db9d6"/><rect x="879.9" y="285.7" width="23" height="11.9" fill="#acd0e4"/><rect x="901.9" y="285.7" width="23" height="11.9" fill="#7db9d6"/><rect x="923.9" y="285.7" width="23" height="11.9" fill="#7db9d6"/><rect x="945.9" y="285.7" width="23" height="11.9" fill="#7db9d6"/><rect x="967.9" y="285.7" width="23" height="11.9" fill="#7db9d6"/><rect x="989.9" y="285.7" width="23" height="11.9" fill="#56a4be"/><rect x="1011.9" y="285.7" width="23" height="11.9" fill="#56a4be"/><rect x="1033.9" y="285.7" width="23" height="11.9" fill="#7db9d6"/><rect x="1055.9" y="285.7" width="23" height="11.9" fill="#acd0e4"/><rect x="1077.9" y="285.7" width="23" height="11.9" fill="#acd0e4"/><rect x="1099.9" y="285.7" width="23" height="11.9" fill="#acd0e4"/><rect x="1121.9" y="285.7" width="23" height="11.9" fill="#7db9d6"/><rect x="1143.9" y="285.7" width="23" height="11.9" fill="#56a4be"/><rect x="1165.9" y="285.7" width="23" height="11.9" fill="#56a4be"/><rect x="1187.9" y="285.7" width="23" height="11.9" fill="#7db9d6"/><rect x="1209.9" y="285.7" width="23" height="11.9" fill="#40968c"/><rect x="1231.9" y="285.7" width="23" height="11.9" fill="#40968c"/><rect x="1253.9" y="285.7" width="23" height="11.9" fill="#56a4be"/><rect x="1275.9" y="285.7" width="23" height="11.9" fill="#56a4be"/><rect x="1297.9" y="285.7" width="23" height="11.9" fill="#56a4be"/><rect x="1319.9" y="285.7" width="23" height="11.9" fill="#56a4be"/><rect x="769.9" y="296.7" width="23" height="11.9" fill="#7db9d6"/><rect x="791.9" y="296.7" width="23" height="11.9" fill="#7db9d6"/><rect x="813.9" y="296.7" width="23" height="11.9" fill="#7db9d6"/><rect x="835.9" y="296.7" width="23" height="11.9" fill="#7db9d6"/><rect x="857.9" y="296.7" width="23" height="11.9" fill="#7db9d6"/><rect x="879.9" y="296.7" width="23" height="11.9" fill="#7db9d6"/><rect x="901.9" y="296.7" width="23" height="11.9" fill="#7db9d6"/><rect x="923.9" y="296.7" width="23" height="11.9" fill="#7db9d6"/><rect x="945.9" y="296.7" width="23" height="11.9" fill="#56a4be"/><rect x="967.9" y="296.7" width="23" height="11.9" fill="#40968c"/><rect x="989.9" y="296.7" width="23" height="11.9" fill="#40968c"/><rect x="1011.9" y="296.7" width="23" height="11.9" fill="#40968c"/><rect x="1033.9" y="296.7" width="23" height="11.9" fill="#56a4be"/><rect x="1055.9" y="296.7" width="23" height="11.9" fill="#acd0e4"/><rect x="1077.9" y="296.7" width="23" height="11.9" fill="#acd0e4"/><rect x="1099.9" y="296.7" width="23" height="11.9" fill="#7db9d6"/><rect x="1121.9" y="296.7" width="23" height="11.9" fill="#56a4be"/><rect x="1143.9" y="296.7" width="23" height="11.9" fill="#7db9d6"/><rect x="1165.9" y="296.7" width="23" height="11.9" fill="#acd0e4"/><rect x="1187.9" y="296.7" width="23" height="11.9" fill="#7db9d6"/><rect x="1209.9" y="296.7" width="23" height="11.9" fill="#56a4be"/><rect x="1231.9" y="296.7" width="23" height="11.9" fill="#56a4be"/><rect x="1253.9" y="296.7" width="23" height="11.9" fill="#56a4be"/><rect x="1275.9" y="296.7" width="23" height="11.9" fill="#56a4be"/><rect x="1297.9" y="296.7" width="23" height="11.9" fill="#56a4be"/><rect x="1319.9" y="296.7" width="23" height="11.9" fill="#56a4be"/><rect x="769.9" y="307.6" width="23" height="11.9" fill="#7db9d6"/><rect x="791.9" y="307.6" width="23" height="11.9" fill="#7db9d6"/><rect x="813.9" y="307.6" width="23" height="11.9" fill="#7db9d6"/><rect x="835.9" y="307.6" width="23" height="11.9" fill="#7db9d6"/><rect x="857.9" y="307.6" width="23" height="11.9" fill="#7db9d6"/><rect x="879.9" y="307.6" width="23" height="11.9" fill="#7db9d6"/><rect x="901.9" y="307.6" width="23" height="11.9" fill="#7db9d6"/><rect x="923.9" y="307.6" width="23" height="11.9" fill="#7db9d6"/><rect x="945.9" y="307.6" width="23" height="11.9" fill="#56a4be"/><rect x="967.9" y="307.6" width="23" height="11.9" fill="#40968c"/><rect x="989.9" y="307.6" width="23" height="11.9" fill="#56a4be"/><rect x="1011.9" y="307.6" width="23" height="11.9" fill="#56a4be"/><rect x="1033.9" y="307.6" width="23" height="11.9" fill="#7db9d6"/><rect x="1055.9" y="307.6" width="23" height="11.9" fill="#acd0e4"/><rect x="1077.9" y="307.6" width="23" height="11.9" fill="#7db9d6"/><rect x="1099.9" y="307.6" width="23" height="11.9" fill="#56a4be"/><rect x="1121.9" y="307.6" width="23" height="11.9" fill="#40968c"/><rect x="1143.9" y="307.6" width="23" height="11.9" fill="#7db9d6"/><rect x="1165.9" y="307.6" width="23" height="11.9" fill="#7db9d6"/><rect x="1187.9" y="307.6" width="23" height="11.9" fill="#7db9d6"/><rect x="1209.9" y="307.6" width="23" height="11.9" fill="#7db9d6"/><rect x="1231.9" y="307.6" width="23" height="11.9" fill="#7db9d6"/><rect x="1253.9" y="307.6" width="23" height="11.9" fill="#7db9d6"/><rect x="1275.9" y="307.6" width="23" height="11.9" fill="#7db9d6"/><rect x="1297.9" y="307.6" width="23" height="11.9" fill="#7db9d6"/><rect x="1319.9" y="307.6" width="23" height="11.9" fill="#7db9d6"/><rect x="769.9" y="318.6" width="23" height="11.9" fill="#7db9d6"/><rect x="791.9" y="318.6" width="23" height="11.9" fill="#7db9d6"/><rect x="813.9" y="318.6" width="23" height="11.9" fill="#7db9d6"/><rect x="835.9" y="318.6" width="23" height="11.9" fill="#7db9d6"/><rect x="857.9" y="318.6" width="23" height="11.9" fill="#7db9d6"/><rect x="879.9" y="318.6" width="23" height="11.9" fill="#7db9d6"/><rect x="901.9" y="318.6" width="23" height="11.9" fill="#7db9d6"/><rect x="923.9" y="318.6" width="23" height="11.9" fill="#7db9d6"/><rect x="945.9" y="318.6" width="23" height="11.9" fill="#7db9d6"/><rect x="967.9" y="318.6" width="23" height="11.9" fill="#56a4be"/><rect x="989.9" y="318.6" width="23" height="11.9" fill="#56a4be"/><rect x="1011.9" y="318.6" width="23" height="11.9" fill="#7db9d6"/><rect x="1033.9" y="318.6" width="23" height="11.9" fill="#7db9d6"/><rect x="1055.9" y="318.6" width="23" height="11.9" fill="#7db9d6"/><rect x="1077.9" y="318.6" width="23" height="11.9" fill="#7db9d6"/><rect x="1099.9" y="318.6" width="23" height="11.9" fill="#7db9d6"/><rect x="1121.9" y="318.6" width="23" height="11.9" fill="#56a4be"/><rect x="1143.9" y="318.6" width="23" height="11.9" fill="#7db9d6"/><rect x="1165.9" y="318.6" width="23" height="11.9" fill="#7db9d6"/><rect x="1187.9" y="318.6" width="23" height="11.9" fill="#7db9d6"/><rect x="1209.9" y="318.6" width="23" height="11.9" fill="#7db9d6"/><rect x="1231.9" y="318.6" width="23" height="11.9" fill="#7db9d6"/><rect x="1253.9" y="318.6" width="23" height="11.9" fill="#7db9d6"/><rect x="1275.9" y="318.6" width="23" height="11.9" fill="#7db9d6"/><rect x="1297.9" y="318.6" width="23" height="11.9" fill="#7db9d6"/><rect x="1319.9" y="318.6" width="23" height="11.9" fill="#7db9d6"/></g>
<g filter="url(#bl3)" opacity="0.9"><path d="M955.0,150.0 L1020.0,152.0 L1022.0,177.0 L958.0,178.0 Z" fill="#3d8e72" stroke="#3d8e72" stroke-width="7" stroke-linejoin="round"/><path d="M985.0,181.0 L1015.0,181.0 L1015.0,190.0 L985.0,190.0 Z" fill="#3d8e72" stroke="#3d8e72" stroke-width="7" stroke-linejoin="round"/><path d="M1225.0,256.0 L1262.0,254.0 L1266.0,286.0 L1228.0,287.0 Z" fill="#3d8e72" stroke="#3d8e72" stroke-width="7" stroke-linejoin="round"/><path d="M1160.0,246.0 L1180.0,246.0 L1182.0,272.0 L1160.0,272.0 Z" fill="#3d8e72" stroke="#3d8e72" stroke-width="7" stroke-linejoin="round"/><path d="M975.0,70.0 L994.0,70.0 L994.0,90.0 L975.0,90.0 Z" fill="#3d8e72" stroke="#3d8e72" stroke-width="7" stroke-linejoin="round"/><path d="M1025.0,218.0 L1060.0,218.0 L1062.0,230.0 L1027.0,232.0 Z" fill="#3d8e72" stroke="#3d8e72" stroke-width="7" stroke-linejoin="round"/><path d="M1002.0,196.0 L1030.0,194.0 L1050.0,215.0 L1057.0,245.0 L1045.0,262.0 L1030.0,250.0 L1010.0,222.0 Z" fill="#3d8e72" stroke="#3d8e72" stroke-width="7" stroke-linejoin="round"/><path d="M890.0,256.0 L934.0,253.0 L940.0,268.0 L895.0,272.0 Z" fill="#3d8e72" stroke="#3d8e72" stroke-width="7" stroke-linejoin="round"/></g><g filter="url(#bl1)"><path d="M955.0,150.0 L1020.0,152.0 L1022.0,177.0 L958.0,178.0 Z" fill="url(#stp)"/><path d="M985.0,181.0 L1015.0,181.0 L1015.0,190.0 L985.0,190.0 Z" fill="url(#stp)"/><path d="M1225.0,256.0 L1262.0,254.0 L1266.0,286.0 L1228.0,287.0 Z" fill="url(#stp)"/><path d="M1160.0,246.0 L1180.0,246.0 L1182.0,272.0 L1160.0,272.0 Z" fill="url(#stp)"/><path d="M975.0,70.0 L994.0,70.0 L994.0,90.0 L975.0,90.0 Z" fill="url(#stp)"/><path d="M1025.0,218.0 L1060.0,218.0 L1062.0,230.0 L1027.0,232.0 Z" fill="url(#stp)"/><path d="M1002.0,196.0 L1030.0,194.0 L1050.0,215.0 L1057.0,245.0 L1045.0,262.0 L1030.0,250.0 L1010.0,222.0 Z" fill="url(#stp)"/><path d="M890.0,256.0 L934.0,253.0 L940.0,268.0 L895.0,272.0 Z" fill="url(#stp)"/></g>
<path d="M854.2,288.4 L854.2,288.4 L855.4,287.7 L856.7,287.1 L858.1,286.5 L859.5,286 L860.9,285.4 L862.3,284.8 L863.8,284.3 L865.3,283.7 L866.9,283.2 L868.4,282.7 L870.1,282.2 L871.7,281.7 L873.4,281.2 L875.1,280.7 L876.8,280.2 L878.6,279.8 L880.3,279.3 L882.2,278.9 L884,278.5 L885.9,278 L887.8,277.6 L889.7,277.2 L891.6,276.8 L893.6,276.4 L895.6,276 L897.6,275.7 L899.6,275.3 L901.7,274.9 L903.8,274.6 L905.9,274.2 L908,273.9 L910.1,273.6 L912.3,273.2 L914.5,272.9 L916.7,272.6 L918.9,272.3 L921.1,272 L923.4,271.7 L925.7,271.4 L927.9,271.2 L930.3,270.9 L932.6,270.6 L934.9,270.4 L937.3,270.1 L939.6,269.9 L942,269.7 L944.4,269.4 L946.8,269.2 L949.3,269 L951.7,268.8 L954.2,268.6 L956.6,268.4 L959.1,268.2 L961.6,268 L964.1,267.8 L966.6,267.6 L969.1,267.5 L971.7,267.3 L974.2,267.1 L976.8,267 L979.3,266.8 L981.9,266.7 L984.5,266.6 L987.1,266.4 L989.7,266.3 L992.3,266.2 L994.9,266.1 L997.5,265.9 L1000.2,265.8 L1002.8,265.7 L1005.4,265.6 L1008.1,265.6 L1010.7,265.5 L1013.4,265.4 L1016.1,265.3 L1018.7,265.2 L1021.4,265.2 L1024.1,265.1 L1026.8,265.1 L1029.4,265 L1032.1,265 L1034.8,264.9 L1037.5,264.9 L1040.2,264.8 L1042.9,264.8 L1045.6,264.8 L1048.3,264.8 L1051,264.8 L1053.7,264.8 L1056.4,264.8 L1059.1,264.8 L1061.8,264.8 L1064.5,264.8 L1067.2,264.8 L1069.9,264.8 L1072.6,264.8 L1075.3,264.9 L1078,264.9 L1080.7,265 L1083.4,265 L1086,265.1 L1088.7,265.1 L1091.4,265.2 L1094.1,265.2 L1096.7,265.3 L1099.4,265.4 L1102.1,265.5 L1104.7,265.6 L1107.4,265.6 L1110,265.7 L1112.6,265.8 L1115.3,265.9 L1117.9,266.1 L1120.5,266.2 L1123.1,266.3 L1125.7,266.4 L1128.3,266.6 L1130.9,266.7 L1133.5,266.8 L1136,267 L1138.6,267.1 L1141.1,267.3 L1143.7,267.5 L1146.2,267.6 L1148.7,267.8 L1151.2,268 L1153.7,268.2 L1156.2,268.4 L1158.6,268.6 L1161.1,268.8 L1163.5,269 L1166,269.2 L1168.4,269.4 L1170.8,269.7 L1173.2,269.9 L1175.5,270.1 L1177.9,270.4 L1180.2,270.6 L1182.5,270.9 L1184.9,271.2 L1187.1,271.4 L1189.4,271.7 L1191.7,272 L1193.9,272.3 L1196.1,272.6 L1198.3,272.9 L1200.5,273.2 L1202.7,273.6 L1204.8,273.9 L1206.9,274.2 L1209,274.6 L1211.1,274.9 L1213.2,275.3 L1215.2,275.7 L1217.2,276 L1219.2,276.4 L1221.2,276.8 L1223.1,277.2 L1225,277.6 L1226.9,278 L1228.8,278.5 L1230.6,278.9 L1232.5,279.3 L1234.2,279.8 L1236,280.2 L1237.7,280.7 L1239.4,281.2 L1241.1,281.7 L1242.7,282.2 L1244.4,282.7 L1245.9,283.2 L1247.5,283.7 L1249,284.3 L1250.5,284.8 L1251.9,285.4 L1253.3,286 L1254.7,286.5 L1256.1,287.1 L1257.4,287.7 M770.4,187.8 L770.4,187.8 L772.9,187.8 L775.4,187.8 L778,187.8 L780.6,187.8 L783.1,187.8 L785.8,187.8 L788.4,187.8 L791,187.8 L793.7,187.8 L796.4,187.8 L799.1,187.8 L801.9,187.8 L804.6,187.8 L807.4,187.8 L810.2,187.8 L813,187.8 L815.8,187.8 L818.7,187.8 L821.5,187.8 L824.4,187.8 L827.3,187.8 L830.2,187.8 L833.2,187.8 L836.1,187.8 L839.1,187.8 L842.1,187.8 L845.1,187.8 L848.1,187.8 L851.1,187.8 L854.2,187.8 L857.2,187.8 L860.3,187.8 L863.4,187.8 L866.5,187.8 L869.6,187.8 L872.8,187.8 L875.9,187.8 L879.1,187.8 L882.3,187.8 L885.5,187.8 L888.7,187.8 L891.9,187.8 L895.1,187.8 L898.4,187.8 L901.6,187.8 L904.9,187.8 L908.2,187.8 L911.5,187.8 L914.8,187.8 L918.1,187.8 L921.4,187.8 L924.7,187.8 L928.1,187.8 L931.4,187.8 L934.8,187.8 L938.1,187.8 L941.5,187.8 L944.9,187.8 L948.3,187.8 L951.7,187.8 L955.1,187.8 L958.6,187.8 L962,187.8 L965.4,187.8 L968.9,187.8 L972.3,187.8 L975.8,187.8 L979.2,187.8 L982.7,187.8 L986.2,187.8 L989.6,187.8 L993.1,187.8 L996.6,187.8 L1000.1,187.8 L1003.6,187.8 L1007.1,187.8 L1010.6,187.8 L1014.1,187.8 L1017.6,187.8 L1021.2,187.8 L1024.7,187.8 L1028.2,187.8 L1031.7,187.8 L1035.2,187.8 L1038.8,187.8 L1042.3,187.8 L1045.8,187.8 L1049.3,187.8 L1052.9,187.8 L1056.4,187.8 L1059.9,187.8 L1063.5,187.8 L1067,187.8 L1070.5,187.8 L1074,187.8 L1077.6,187.8 L1081.1,187.8 L1084.6,187.8 L1088.1,187.8 L1091.7,187.8 L1095.2,187.8 L1098.7,187.8 L1102.2,187.8 L1105.7,187.8 L1109.2,187.8 L1112.7,187.8 L1116.2,187.8 L1119.7,187.8 L1123.2,187.8 L1126.6,187.8 L1130.1,187.8 L1133.6,187.8 L1137,187.8 L1140.5,187.8 L1143.9,187.8 L1147.4,187.8 L1150.8,187.8 L1154.3,187.8 L1157.7,187.8 L1161.1,187.8 L1164.5,187.8 L1167.9,187.8 L1171.3,187.8 L1174.7,187.8 L1178,187.8 L1181.4,187.8 L1184.7,187.8 L1188.1,187.8 L1191.4,187.8 L1194.7,187.8 L1198,187.8 L1201.3,187.8 L1204.6,187.8 L1207.9,187.8 L1211.2,187.8 L1214.4,187.8 L1217.7,187.8 L1220.9,187.8 L1224.1,187.8 L1227.3,187.8 L1230.5,187.8 L1233.7,187.8 L1236.9,187.8 L1240,187.8 L1243.2,187.8 L1246.3,187.8 L1249.4,187.8 L1252.5,187.8 L1255.6,187.8 L1258.6,187.8 L1261.7,187.8 L1264.7,187.8 L1267.7,187.8 L1270.7,187.8 L1273.7,187.8 L1276.7,187.8 L1279.6,187.8 L1282.6,187.8 L1285.5,187.8 L1288.4,187.8 L1291.3,187.8 L1294.1,187.8 L1297,187.8 L1299.8,187.8 L1302.6,187.8 L1305.4,187.8 L1308.2,187.8 L1310.9,187.8 L1313.7,187.8 L1316.4,187.8 L1319.1,187.8 L1321.8,187.8 L1324.4,187.8 L1327,187.8 L1329.7,187.8 L1332.2,187.8 L1334.8,187.8 L1337.4,187.8 L1339.9,187.8 M854.2,87.2 L854.2,87.2 L855.4,87.9 L856.7,88.5 L858.1,89.1 L859.5,89.6 L860.9,90.2 L862.3,90.8 L863.8,91.3 L865.3,91.9 L866.9,92.4 L868.4,92.9 L870.1,93.4 L871.7,93.9 L873.4,94.4 L875.1,94.9 L876.8,95.4 L878.6,95.8 L880.3,96.3 L882.2,96.7 L884,97.1 L885.9,97.6 L887.8,98 L889.7,98.4 L891.6,98.8 L893.6,99.2 L895.6,99.6 L897.6,99.9 L899.6,100.3 L901.7,100.7 L903.8,101 L905.9,101.4 L908,101.7 L910.1,102 L912.3,102.4 L914.5,102.7 L916.7,103 L918.9,103.3 L921.1,103.6 L923.4,103.9 L925.7,104.2 L927.9,104.4 L930.3,104.7 L932.6,105 L934.9,105.2 L937.3,105.5 L939.6,105.7 L942,105.9 L944.4,106.2 L946.8,106.4 L949.3,106.6 L951.7,106.8 L954.2,107 L956.6,107.2 L959.1,107.4 L961.6,107.6 L964.1,107.8 L966.6,108 L969.1,108.1 L971.7,108.3 L974.2,108.5 L976.8,108.6 L979.3,108.8 L981.9,108.9 L984.5,109 L987.1,109.2 L989.7,109.3 L992.3,109.4 L994.9,109.5 L997.5,109.7 L1000.2,109.8 L1002.8,109.9 L1005.4,110 L1008.1,110 L1010.7,110.1 L1013.4,110.2 L1016.1,110.3 L1018.7,110.4 L1021.4,110.4 L1024.1,110.5 L1026.8,110.5 L1029.4,110.6 L1032.1,110.6 L1034.8,110.7 L1037.5,110.7 L1040.2,110.8 L1042.9,110.8 L1045.6,110.8 L1048.3,110.8 L1051,110.8 L1053.7,110.8 L1056.4,110.8 L1059.1,110.8 L1061.8,110.8 L1064.5,110.8 L1067.2,110.8 L1069.9,110.8 L1072.6,110.8 L1075.3,110.7 L1078,110.7 L1080.7,110.6 L1083.4,110.6 L1086,110.5 L1088.7,110.5 L1091.4,110.4 L1094.1,110.4 L1096.7,110.3 L1099.4,110.2 L1102.1,110.1 L1104.7,110 L1107.4,110 L1110,109.9 L1112.6,109.8 L1115.3,109.7 L1117.9,109.5 L1120.5,109.4 L1123.1,109.3 L1125.7,109.2 L1128.3,109 L1130.9,108.9 L1133.5,108.8 L1136,108.6 L1138.6,108.5 L1141.1,108.3 L1143.7,108.1 L1146.2,108 L1148.7,107.8 L1151.2,107.6 L1153.7,107.4 L1156.2,107.2 L1158.6,107 L1161.1,106.8 L1163.5,106.6 L1166,106.4 L1168.4,106.2 L1170.8,105.9 L1173.2,105.7 L1175.5,105.5 L1177.9,105.2 L1180.2,105 L1182.5,104.7 L1184.9,104.4 L1187.1,104.2 L1189.4,103.9 L1191.7,103.6 L1193.9,103.3 L1196.1,103 L1198.3,102.7 L1200.5,102.4 L1202.7,102 L1204.8,101.7 L1206.9,101.4 L1209,101 L1211.1,100.7 L1213.2,100.3 L1215.2,99.9 L1217.2,99.6 L1219.2,99.2 L1221.2,98.8 L1223.1,98.4 L1225,98 L1226.9,97.6 L1228.8,97.1 L1230.6,96.7 L1232.5,96.3 L1234.2,95.8 L1236,95.4 L1237.7,94.9 L1239.4,94.4 L1241.1,93.9 L1242.7,93.4 L1244.4,92.9 L1245.9,92.4 L1247.5,91.9 L1249,91.3 L1250.5,90.8 L1251.9,90.2 L1253.3,89.6 L1254.7,89.1 L1256.1,88.5 L1257.4,87.9 M1056.4,330 L1049.4,328.2 L1042.6,326.3 L1036,324.3 L1029.5,322.2 L1023.3,320 L1017.1,317.7 L1011.2,315.3 L1005.4,312.8 L999.8,310.3 L994.3,307.7 L989,305 L983.9,302.3 L978.9,299.5 L974.1,296.6 L969.5,293.7 L965,290.7 L960.7,287.6 L956.5,284.5 L952.5,281.3 L948.6,278.1 L944.9,274.9 L941.4,271.6 L938,268.2 L934.7,264.8 L931.6,261.4 L928.7,258 L925.9,254.5 L923.3,250.9 L920.8,247.4 L918.5,243.8 L916.3,240.2 L914.3,236.5 L912.4,232.9 L910.7,229.2 L909.1,225.5 L907.7,221.8 L906.4,218 L905.3,214.3 L904.3,210.5 L903.5,206.8 L902.8,203 L902.3,199.2 L901.9,195.4 L901.7,191.6 L901.6,187.8 L901.7,184 L901.9,180.2 L902.3,176.4 L902.8,172.6 L903.5,168.8 L904.3,165.1 L905.3,161.3 L906.4,157.6 L907.7,153.8 L909.1,150.1 L910.7,146.4 L912.4,142.7 L914.3,139.1 L916.3,135.4 L918.5,131.8 L920.8,128.2 L923.3,124.7 L925.9,121.1 L928.7,117.6 L931.6,114.2 L934.7,110.8 L938,107.4 L941.4,104 L944.9,100.7 L948.6,97.5 L952.5,94.3 L956.5,91.1 L960.7,88 L965,84.9 L969.5,81.9 L974.1,79 L978.9,76.1 L983.9,73.3 L989,70.6 L994.3,67.9 L999.8,65.3 L1005.4,62.8 L1011.2,60.3 L1017.1,57.9 L1023.3,55.6 L1029.5,53.4 L1036,51.3 L1042.6,49.3 L1049.4,47.4 L1056.4,45.6 M1056.4,330 L1056.4,327.5 L1056.4,325 L1056.4,322.4 L1056.4,319.7 L1056.4,317.1 L1056.4,314.4 L1056.4,311.6 L1056.4,308.8 L1056.4,306 L1056.4,303.1 L1056.4,300.3 L1056.4,297.3 L1056.4,294.4 L1056.4,291.4 L1056.4,288.4 L1056.4,285.3 L1056.4,282.2 L1056.4,279.1 L1056.4,276 L1056.4,272.8 L1056.4,269.6 L1056.4,266.4 L1056.4,263.1 L1056.4,259.9 L1056.4,256.6 L1056.4,253.3 L1056.4,249.9 L1056.4,246.6 L1056.4,243.2 L1056.4,239.8 L1056.4,236.5 L1056.4,233 L1056.4,229.6 L1056.4,226.2 L1056.4,222.7 L1056.4,219.3 L1056.4,215.8 L1056.4,212.3 L1056.4,208.8 L1056.4,205.3 L1056.4,201.8 L1056.4,198.3 L1056.4,194.8 L1056.4,191.3 L1056.4,187.8 L1056.4,184.3 L1056.4,180.8 L1056.4,177.3 L1056.4,173.8 L1056.4,170.3 L1056.4,166.8 L1056.4,163.3 L1056.4,159.8 L1056.4,156.3 L1056.4,152.9 L1056.4,149.4 L1056.4,146 L1056.4,142.6 L1056.4,139.1 L1056.4,135.8 L1056.4,132.4 L1056.4,129 L1056.4,125.7 L1056.4,122.3 L1056.4,119 L1056.4,115.7 L1056.4,112.5 L1056.4,109.2 L1056.4,106 L1056.4,102.8 L1056.4,99.6 L1056.4,96.5 L1056.4,93.4 L1056.4,90.3 L1056.4,87.2 L1056.4,84.2 L1056.4,81.2 L1056.4,78.3 L1056.4,75.3 L1056.4,72.5 L1056.4,69.6 L1056.4,66.8 L1056.4,64 L1056.4,61.2 L1056.4,58.5 L1056.4,55.9 L1056.4,53.2 L1056.4,50.6 L1056.4,48.1 L1056.4,45.6 M1056.4,330 L1063.4,328.2 L1070.2,326.3 L1076.8,324.3 L1083.3,322.2 L1089.5,320 L1095.7,317.7 L1101.6,315.3 L1107.4,312.8 L1113,310.3 L1118.5,307.7 L1123.8,305 L1128.9,302.3 L1133.9,299.5 L1138.7,296.6 L1143.3,293.7 L1147.8,290.7 L1152.1,287.6 L1156.3,284.5 L1160.3,281.3 L1164.2,278.1 L1167.9,274.9 L1171.4,271.6 L1174.8,268.2 L1178.1,264.8 L1181.2,261.4 L1184.1,258 L1186.9,254.5 L1189.5,250.9 L1192,247.4 L1194.3,243.8 L1196.5,240.2 L1198.5,236.5 L1200.4,232.9 L1202.1,229.2 L1203.7,225.5 L1205.1,221.8 L1206.4,218 L1207.5,214.3 L1208.5,210.5 L1209.3,206.8 L1210,203 L1210.5,199.2 L1210.9,195.4 L1211.1,191.6 L1211.2,187.8 L1211.1,184 L1210.9,180.2 L1210.5,176.4 L1210,172.6 L1209.3,168.8 L1208.5,165.1 L1207.5,161.3 L1206.4,157.6 L1205.1,153.8 L1203.7,150.1 L1202.1,146.4 L1200.4,142.7 L1198.5,139.1 L1196.5,135.4 L1194.3,131.8 L1192,128.2 L1189.5,124.7 L1186.9,121.1 L1184.1,117.6 L1181.2,114.2 L1178.1,110.8 L1174.8,107.4 L1171.4,104 L1167.9,100.7 L1164.2,97.5 L1160.3,94.3 L1156.3,91.1 L1152.1,88 L1147.8,84.9 L1143.3,81.9 L1138.7,79 L1133.9,76.1 L1128.9,73.3 L1123.8,70.6 L1118.5,67.9 L1113,65.3 L1107.4,62.8 L1101.6,60.3 L1095.7,57.9 L1089.5,55.6 L1083.3,53.4 L1076.8,51.3 L1070.2,49.3 L1063.4,47.4 L1056.4,45.6" fill="none" stroke="#111" stroke-opacity="0.9" stroke-width="1.3" stroke-dasharray="4.6,2.8"/>
<path d="M1283.5,106.3 L1288.8,113.9 L1295.5,120.3 L1296.7,125.2 L1299.5,133.4 L1303.9,140 L1307.5,144.4 L1312.2,153.3 L1312.1,154.1 L1314.9,159 L1318.5,162.3 L1321.6,165.6 L1324.8,170.1 L1328.2,173.5 L1332.1,177.2 L1335,175.4 L1338.9,176 M773.2,173 L775.9,172.4 L778,174.2 L778.7,177.4 L782,177 L783,179.5 L783,184.2 L782.2,189 L784.8,194.9 L786.7,199.6 L789.6,206.6 L792.4,213.5 L794.6,222.9 L797.5,228.6 L806.9,238.3 L816.3,247.8 L822.2,251.9 L830.2,257.6 L836.5,262.5 L840,263.7 L840.6,261.6 L843.8,260.9 L844.2,259.6 L842.2,254.1 L840.2,248.6 L836.2,243.5 L836.1,239 L832.7,233.8 L829.6,230.4 L830.2,227.4 L831.9,224 L831.9,218.6 L828.5,210.2 L825.4,204.9 L824.1,200.7 L824.3,197.4 L826,192.1 L828.8,186.7 L833.4,181.5 L837.7,176.3 L842.1,169.1 L844.7,164 L842,164.3 L838,165.2 L834.2,165.9 L833.4,162.9 L833.1,160.3 L832,155.9 L831.9,151.6 L832.8,147.3 L834.3,143.1 L835.8,139.9 L836.3,136.6 L838.3,132.4 L839.6,129.2 L843,124.2 L845.4,121.4 L842.6,121.1 L839.9,121.1 L838.3,118.9 L837.6,116.1 L830.7,119.9 L828.5,120.2 L827.6,117.4 L828.2,114.2 L827.5,112.7 L829.1,110.7 L833.2,108.3 L836.9,104.7 L834.4,104.7 L831.5,104.1 L828.4,103.6 M1288.4,105.5 L1287.3,106.5 L1283.5,106.3 M842.1,212.7 L846.6,219.8 L846.9,222.9 L848.8,230.1 L852.7,239.3 L850.8,240.6 L843.9,233.8 L840.3,225.5 L838.8,223.5 L840.8,220.6 L841.3,215.9 L842.1,212.7 M843,124.2 L841.7,128.4 L843.2,127.5 L842.6,128.5 L840.7,132.7 L838.9,136.9 L837.3,142.3 L836.2,147.6 L835.5,153 L834.8,157.2 L834.3,161 L836.5,160.9 L841.7,158.7 L845.2,157.2 L849.2,155.5 L854.5,152.8 L858.6,149.7 L861.3,147.5 L864.6,144.6 L866.9,142.8 L866.4,140.5 L864.8,139.5 L865.8,136.5 L866.7,135.2 L864.7,136.4 L861.7,138.6 L858,138.9 L857.4,138.2 L859.3,135.9 L859.4,134.9 L857.6,136.4 L858.4,133.7 L859.2,130.6 L861.6,126.9 L863.4,126.4 L864.1,128 L862.7,131.4 L863.9,133.6 L867.5,133.6 L867.7,136.3 L872.5,137.7 L876.7,138.1 L879.7,137.9 L879.5,140.7 L879.7,143.7 L879.9,146.7 L884.3,146 L882.2,150.7 L880.9,156.6 L880.9,161.5 L881.2,165.4 L881.6,170.3 L882.9,172.3 L884.4,170.5 L886.6,167.9 L888.3,164.6 L889.8,161.2 L890.5,157.9 L893.3,156.7 L895.1,155.2 L898.6,152.9 L902,150.2 L905.1,148.4 L907.4,146.8 L909,146.7 L911.7,145.9 L913.7,146 L913.2,149 L914.2,151.2 L914.1,155 L913.5,157.8 L915,158.2 L918.6,156.8 L918.6,159.8 L918.4,163.5 L917.8,166.3 L917.3,169.1 L916.2,172.5 L917.4,173.2 L918.8,175.7 L919,178.1 L920.2,182.2 L923.4,185 L925.1,185.2 L924.1,180.7 L923.5,178 L922.3,176.5 L920.5,174.9 L919.6,172.9 L919.2,170.5 L918.7,167.6 L920.5,164.5 L921.9,162.7 L922.4,164.2 L924.6,165.2 L925.3,167.4 L927.3,168.4 L927.6,171.1 L930.3,170.3 L932.2,168.4 L935,166.7 L936.2,163 L936.1,159.3 L934.1,156.5 L933.4,153.2 L935.3,150.5 L938.3,148.4 L941.1,148.5 L941.5,150.7 L943.8,148.6 L947.5,147.1 L949.2,147 L952.6,146.2 L955.9,143.6 L959.1,141.4 L961.1,139.3 L964.3,136.8 L965.8,134.2 L965.2,132.7 L966.6,131.6 L965.9,128.9 L965.9,125.7 L968.6,123.4 L972.1,122.2 L970.7,120.7 L967.4,121.6 L967.7,119.7 L967.4,118.5 L970.7,117.1 L973.6,115.7 L975,116.2 L972.3,118.7 L973.5,118.2 L977.3,117.4 L978.2,118.3 L976.3,120.6 L978,121.6 L977,124.1 L975.7,126.5 L978.3,126.2 L980.5,125.6 L982,122.9 L981.9,120 L981.4,118.3 L983.4,117.2 L985.8,115.9 L988.1,113.4 L990.7,112.4 L992.4,113.1 L995.9,111.6 L999.9,108.9 L1002.4,106.5 L1005.5,104.2 L1007.8,101 L1010.4,97.9 L1010.4,96.3 L1008.6,95.4 L1006.9,95.3 L1005.7,94.4 L1009.4,92.2 L1014.6,89.3 L1018.4,87.4 L1021.3,87.7 L1024.8,87.1 L1027.3,88.3 L1030.6,87.9 L1033.7,84.6 L1036.5,84.3 L1036.8,85.8 L1038.6,85.5 L1040.7,83.3 L1041.7,83.2 L1039.8,85.6 L1036.3,87.8 L1033.5,90 L1031,91 L1029.4,93.8 L1028.3,98.5 L1027.8,100.9 L1030.1,98.5 L1032.9,97.3 L1033.9,95.8 L1035.9,94.7 L1037.1,92.4 L1038.4,90.9 L1037.2,90.1 L1039.5,87.4 L1041.2,86.8 L1042.6,87.4 L1044.8,86.4 L1046.7,87.2 L1049,85.7 L1051.1,84.5 L1054,83.5 L1055.6,83.8 L1055.5,82.3 L1054.9,80.9 L1056,80 L1056.8,79.3 L1059,79.2 L1060.8,80 L1062.7,80.8 L1062.9,79.1 L1064.6,78.8 L1065,78.2 L1063,76.9 L1060.9,76.8 L1060.5,76.1 L1058,74.9 L1056.4,74 L1054.9,73.3 L1052.7,72.7 L1050.5,72.6 L1049,72.4 L1048.3,74.3 L1046.7,72.9 L1044.5,72.7 L1042.1,73.1 L1041.9,71.5 L1040.2,70.7 L1037.3,70.9 L1035.9,69.7 L1034,68.6 L1031.4,67.7 L1028.8,69.4 L1026.7,69.1 L1024.2,69.1 L1021.8,69.7 L1022.4,68.2 L1024.1,66.8 L1023.7,66 L1022.3,65.9 L1020.8,66.5 L1018.7,66.1 L1019.1,65.4 L1017.6,65.1 L1016.2,65.4 L1017.2,64.5 L1015.4,64.6 L1016.5,63.8 L1019.1,63.2 L1020.8,62.6 L1022,61.7 L1021.8,60.9 L1020,60.9 L1021.9,59.3 L1019.8,59.6 L1017.1,60.5 L1014.2,60.8 L1012.2,60.7 L1009.7,60.9 L1006.9,61.3 L1003.7,62.4 L1001.5,62.4 L999.4,62.5 L995.1,64.4 L994.7,63.7 L991,64.5 L994.6,62.7 L989.5,64.1 L987.1,65.4 L981.9,67.3 L980.1,67.7 L973.5,70.5 L972.4,70.2 L974.9,68.8 L977,67.2 L979.7,65.8 L983.2,64.6 L989,63 L992.8,61.9 L992.1,61.7 L984.4,63.9 L978.1,65.4 L977.3,64.8 L972.4,66 L970,65.8 L971.1,64.7 L966.2,65.3 L964.5,64.7 L965.7,63.9 L957.8,66.2 L956.8,65.8 L950.2,67.3 L947.7,67.5 L944.6,68.2 L945.9,67 L950.7,65.3 L953.7,65.2 L957.5,65.3 L961.2,63.8 L964.5,61.8 L964,61 L964.6,60 L969.4,58.3 L969.2,57.9 L966.7,57.8 L961.8,58.1 L955.7,58.7 L950.4,59.5 L943.2,60.7 L936.1,61.9 L929.7,62.8 L924.6,63.4 L919.3,64.7 L913,66.6 L907.9,68.6 L909.4,69.1 L913.9,68.4 L912.7,69.2 L905.1,72.2 L900.3,74.1 L900.6,74.7 L904.6,74 L909.9,72.2 L916.4,70.5 L920.8,69.4 L924.1,67.8 L930.2,65.9 L935.1,65.1 L940,64.3 L945.8,63 L946.5,63.4 L943.6,64.5 L938.8,65.3 L933.9,66.1 L927.9,68 L922.5,70.3 L924.9,70.4 L927.5,70.9 L926.1,72.1 L923.5,72.2 L920.6,71.5 L918.1,72.3 L916.7,73.2 L912.9,74.6 L913.4,73.6 L909.6,74.3 L904.8,76.3 L901.6,77 L899.3,77.3 L897.5,76.7 L895,76.9 L895.9,75.7 L893.6,75.9 L895,74.9 L903,72.1 L907.2,70.4 L904.1,70.9 L899.9,72.2 L898.2,73 L892,75.4 L889.6,75.5 L887.4,75.4 L881.5,77.2 L878.1,77.9 L874.2,79 L870.8,79.7 M1240.7,79.7 L1244.3,81.4 L1243.2,82.7 L1246,83.8 L1249.4,84.1 L1254.3,85.9 L1259.3,88.3 L1263,90.6 L1261.1,91.5 L1257.9,91.9 L1259,93.6 L1260.9,94.3 L1267.1,98.1 L1271.1,101.1 L1272.6,101.4 L1277.4,104.8 L1278.1,104 L1280.2,104.4 L1283.1,105.8 M1283,105.6 L1282,104.1 L1283.8,103.2 L1280.8,100 M841.1,94.8 L845.8,93.8 L849.3,91.8 L851.7,91.5 L852.1,92.6 L855.1,91.6 L858,90.9 L857.4,92.2 L854.4,94.1 L852.8,96.1 L851.6,98 L849.9,100.3 L849.9,100.8 L847,103 L844.3,104.6 L844.7,104.7 L848,103.3 L850.7,101.1 L852.6,100.3 L852.9,101.2 L853.6,100.3 L855.2,97.8 L856.5,95.4 L859.9,92.5 L863.2,90.5 L865.8,90 L864.8,91.1 L861.8,93.5 L860.3,95.8 L858.4,98.5 L854.7,100.9 L852.3,102.9 L850.5,105 L847.1,108 L846.8,109.2 L849.8,107.4 L852.2,105.4 L852.6,106.3 L854.9,103.5 L857.8,101.7 L860.3,101.4 L861.9,101.8 L859.7,103.5 L857.4,104.9 L856,106.6 L853.9,108.3 L852.8,110 L853.3,111.4 L855.1,110.8 L855.7,111.8 L859.8,111.2 L860.9,111.9 L858.9,113.4 L855.7,115.8 L852.1,118.6 L848.5,121.2 L845.8,121.9 L845.4,121.4 M865.2,101.1 L871.2,97.6 L874,95.9 L879.1,94 L882.2,92.8 L882.3,93.6 L881.3,95.3 L879.9,95.4 L878.5,97 L880.7,96.8 L883.2,96.5 L889,94.1 L891,93.6 L886.8,95.4 L883,97.4 L881.4,100.1 L878.3,104 L875.6,104.6 L873.5,104.2 L873.1,101.8 L871,101.5 L867.2,102.3 L865.3,101.9 L865.2,101.1 M891.3,99.9 L894.6,98.1 L898.4,96.6 L899.6,96.8 L902.1,96.5 L903.6,96.7 L901.6,98.1 L897.6,99.5 L894.9,101 L893.1,103.9 L889.8,106.5 L890,107.4 L887,108.9 L886.1,110.2 L882.5,113.9 L878.7,114.4 L878.2,113.1 L878.4,111.8 L880.2,110.1 L883.4,107.9 L884.8,107.9 L885.2,106.4 L886.3,104.4 L888.1,102.6 L891.3,99.9 M1237.5,80.4 L1237.1,79.1 M877.5,77.5 L883.9,75.2 L886.3,73.5 M1222.3,72.2 L1217.3,70.9 L1213.5,69.8 L1209,68.2 L1204.4,67.2 L1203.6,67.8 L1207.7,69.5 L1212.8,71 L1218.3,72.7 L1220,72.5 L1225,74.5 L1225.6,75.3 L1229.3,76.5 L1231.5,77.8 L1233.1,77.7 L1237.5,80.4 M1228.7,77.2 L1222.5,74.8 L1218.7,73.2 L1216.3,73.2 L1218.6,74.4 L1221.6,76.3 L1228,78.9 L1229.9,78.7 L1228.7,77.2 M1174.6,65 L1168.5,63.2 L1167.3,63.5 L1164.7,62.2 L1167,61.6 L1168.1,60.9 L1173.4,62.1 L1175.6,63 L1178.5,65 L1174.6,65 M887.3,168.9 L888.5,169.9 L889.5,173.3 L889,175.5 L886.7,176.2 L886.3,173.3 L887.3,168.9 M961.9,142.4 L962.5,142.9 L959.3,148.2 L958.4,146.7 L959.9,143.7 L961.9,142.4 M940.9,151.1 L942,151.8 L940.4,154.2 L938.7,154.5 L937.7,153.5 L938.8,151.6 L940.9,151.1 M979,132 L980.4,132.4 L982.2,129.5 L984.1,128.7 L984.5,129.6 L987.2,128.3 L987.8,128.8 L989,128.9 L991.3,127.2 L993.8,126.9 L995.9,126.5 L997.8,125.3 L998.7,123.2 L999.6,121 L1001.4,119.5 L1002.1,118.2 L1001.9,116 L1000.1,116.8 L999,118.4 L997.4,121.1 L995.4,122.4 L992.9,123.3 L991.7,124.3 L989.8,125.4 L986.1,125.5 L983.3,126.9 L982.1,127.2 L979.8,128.7 L979,132 M1000.3,115.6 L1002.1,115.2 L1005.2,114.9 L1009,112.9 L1008.1,111.7 L1005.7,109.3 L1003.8,111.6 L1001.9,112.7 L1000.3,115.6 M1006.1,108.3 L1008.5,107.6 L1009.7,103.5 L1011.9,102.8 L1012.2,98.8 L1013.7,95.1 L1012.1,96.4 L1010.2,100.3 L1007.5,105.1 L1006.1,108.3 M956.9,154.4 L959.5,154.4 L958.6,157.1 L957.1,159.8 L957.5,162.5 L960.6,163.5 L960.3,165.2 L958.8,164.3 L956.5,163.4 L955.2,161.9 L955.2,158.9 L956.9,154.4 M955.7,175.1 L958.4,173.7 L961.2,171.6 L963.6,172.5 L963.1,176.1 L961.5,177.3 L959,176.1 L955.7,175.1 M958.2,167.9 L961.6,168 L962.9,165.3 L961.2,165.3 L958.2,167.9 M933.1,185 L934.8,188.7 L935.7,192.9 L938.3,193.9 L942.6,194.7 L945.1,194.6 L945.8,190.5 L947.5,186.9 L948.3,186.2 L948,184.2 L949.4,179.6 L950.4,178.2 L947.6,175 L945.8,176.5 L944,178.8 L941.8,180.1 L940,182.1 L937.1,183.2 L934.8,184.5 L933.1,185 M910.8,177.5 L914.4,178.1 L918.6,183.7 L920.6,184.8 L923.1,186.9 L925.6,190.6 L928.2,193.7 L928.2,198.5 L926.1,198.7 L921.6,195.2 L918.6,189.7 L916.4,185.9 L914.9,183.1 L912.5,180.9 L910.8,177.5 M927.4,200.4 L929.4,198.9 L932.9,199.6 L936.3,200.5 L939.6,200.4 L943.2,201.9 L943.4,203.7 L939.1,203 L934,202.2 L929.7,201.3 L927.4,200.4 M951.2,197.8 L952.9,197.8 L952.5,193.2 L953.5,192.3 L956.3,196.5 L957.4,195.9 L954.3,191.2 L956.8,189.4 L953.8,188.7 L951.7,186.9 L952.6,186 L959.4,186 L960.3,185.1 L958.6,186.9 L952.6,187.3 L951.2,189.6 L950.5,194.2 L951.2,197.8 M959.5,204.6 L961.1,203.1 L964.5,203.1 L961.3,204.9 L959.7,206.2 L959.5,204.6 M945,203.3 L946.7,202.9 L950.9,203.1 L954.3,202.8 L957.3,202.8 L954.4,203.9 L949.3,204 L946,204.2 L945,203.3 M964.6,185.1 L965.5,183.8 L966.6,185.6 L965.4,186.9 L966.3,189.2 L965.1,188.7 L964.6,185.1 M970.6,189.6 L973.2,188.7 L976.1,189.6 L977.6,193.7 L981.8,190.5 L988,192.4 L995,195.8 L996.8,197.6 L999.5,198.4 L999.1,201.1 L1001.5,203.7 L1004.2,205.8 L1003.4,206.4 L999,205.5 L995.3,202 L992.9,203.8 L991.2,204.3 L988.6,204 L985,202.2 L983.3,202.8 L982.4,197.1 L977.7,195.7 L974.2,195 L972.4,192.8 L970.6,189.6 M1003.8,197.5 L1007.2,195.2 L1008.1,196.3 L1006.4,198.4 L1003.8,198.8 L1001.2,197.7 L1003.8,197.5 M1012.5,198.4 L1014.3,199.8 L1016.2,201.9 L1019.7,202.8 L1022.4,204.5 L1024.2,206.3 L1020.7,205.4 L1017.1,202.8 L1012.5,198.4 M947.3,227.8 L950.7,234.9 L955.2,241.9 L958.7,248.8 L963.2,250.4 L966,248.5 L971,248.1 L973.5,245.2 L977.5,243.8 L981.3,243.5 L985.9,245.6 L989.4,249 L991.3,245.8 L993.4,250.6 L995.9,250.5 L998.7,254.1 L1003.5,255.3 L1007.2,255.6 L1009.4,253.5 L1012.2,252.9 L1012.1,249.6 L1012.7,246.2 L1014.1,241.9 L1014,236.8 L1012.4,232.5 L1008.6,229.1 L1005.8,227 L1003.7,223.9 L999.6,221.3 L997.6,217 L996.9,214 L993.7,212.6 L991.4,206.8 L990.5,210.4 L990.5,214.4 L989.5,218.8 L986.8,218 L984,216.3 L981.2,214.5 L981.9,209.7 L978.9,209.6 L974.4,208.4 L972.1,209.7 L970.2,214.3 L967.8,214.7 L964.1,213 L962.3,216.6 L959.4,218.5 L958.6,222.1 L955,224 L951.3,225.3 L948.8,227.4 L947.3,227.8 M1006.8,258.6 L1009.1,259 L1011.5,258.6 L1012.2,262.1 L1011.1,263 L1008.8,262.2 L1006.8,258.6 M1045.3,247.5 L1048.1,250 L1049.7,252.5 L1054.2,252.8 L1052.8,254.9 L1051.8,256.6 L1049.3,259.1 L1048.9,258.6 L1049.2,256.4 L1047.7,255.8 L1048.6,253.3 L1045.8,248.8 L1045.3,247.5 M1046,257.4 L1048.2,258.7 L1047.4,261.5 L1046.4,262.8 L1044.4,264 L1043.8,266.4 L1041.9,267.4 L1038.4,266.5 L1038.9,264.9 L1040.7,263.2 L1043.2,261.6 L1045.1,259.1 L1046,257.4 M1032.9,223.6 L1034.7,225.4 L1035.6,226.7 L1033.9,226.2 L1031.3,224.5 L1029.5,223.1 L1032.9,223.6 M1052.1,218.4 L1053.8,218.9 L1053,219.8 L1051.8,219.3 L1052.1,218.4 M1066.8,78.8 L1069,80.4 L1073.4,80.3 L1074.2,82.5 L1070.9,82.6 L1070.1,84.9 L1071.5,86.7 L1074.8,87.3 L1075.9,89.2 L1080.4,88.6 L1080.1,90.8 L1077.6,93.2 L1074.2,95.4 L1076.9,94.7 L1079.9,93.4 L1082.6,91.5 L1083.8,89.1 L1083.9,87.1 L1085.9,87.9 L1086.4,85.9 L1088.8,86.6 L1090.1,85.3 L1092.8,86.4 L1096,86.6 L1099.3,87.7 L1101.5,88.6 L1103.8,90.3 L1107.2,92 L1110.4,94.3 L1112.7,94.1 L1114.4,95.7 L1117.2,97.1 L1120,99.4 L1123.5,100.9 L1126.5,102.4 L1128.6,103.6 L1126.8,103.7 L1129.8,107.3 L1132.4,111.4 L1133.5,113.9 L1135.4,116.4 L1137.9,119.7 L1140.2,121.3 L1142.1,123 L1145.5,126.1 L1149,127 L1151.7,128.7 L1155.7,132.9 L1159.2,136.4 L1162.9,138 L1168.5,144.1 L1171.1,145.5 L1169.1,143.7 L1166.3,140.6 L1162.2,136.6 L1158.2,133.4 L1156.5,130.9 L1159.6,131.5 L1162.9,135.3 L1166.4,137.9 L1168.7,139.6 L1172,141.8 L1176.7,145.6 L1178.8,148.3 L1179.1,150.5 L1181.6,152.8 L1186.3,154.8 L1190,156.4 L1194.6,158.1 L1198.4,157.4 L1201.9,158.6 L1205.9,161.4 L1210.3,162.7 L1212,163.1 L1215,165.5 L1215.8,166.8 L1216.5,168.7 L1219.3,170.5 L1222,172 L1224.6,173.3 L1226.2,173.7 L1226.5,170.8 L1229.1,171.7 L1229.9,170.9 L1227,169.4 L1224.8,170.4 L1223.3,170.8 L1220.5,168.6 L1218.9,166.3 L1218.6,163.8 L1217.5,159.1 L1215.1,157.6 L1212.7,157.3 L1209.7,157.8 L1208.4,156.5 L1207.9,153.7 L1207.9,150.9 L1207.1,147.1 L1204.9,147.4 L1202.5,148.3 L1203.3,151.1 L1202.4,153 L1198.7,153.7 L1196,152.7 L1193.7,150.9 L1191,147.8 L1188.6,143.3 L1186.7,137.8 L1187.2,135 L1189,132.9 L1191.9,132.7 L1195.2,133.2 L1194.8,131.4 L1197.5,131 L1200.7,131.4 L1202.9,131.2 L1206.3,133.8 L1208.5,136.6 L1212,139.2 L1213.5,139.5 L1212.3,136.7 L1209.5,133.6 L1206.3,130.4 L1204.8,127.7 L1205.2,125.3 L1205.7,122.4 L1206.5,120.4 L1203.8,117.7 L1202.8,115.9 L1201.4,113.1 L1200.3,111.3 L1201.7,110.2 L1202.4,108.9 L1200.6,107.3 L1199,106.2 L1199.3,104.5 L1199.9,102.9 L1201.5,101.6 L1202.7,104.1 L1203.8,102.9 L1204.2,100.8 L1202.4,99 L1198.8,99.6 L1193.7,96.3 L1190.5,95.4 L1190.8,98.8 L1189.6,97 L1189.8,95.4 L1189.6,93.6 L1194.4,92.7 L1193.3,90.2 L1192,88.3 L1189.2,86.7 L1184.3,85.6 L1180.2,84.3 L1176.2,83.1 L1173,81.7 L1167.1,79.8 L1163,78 L1166,80 L1166.3,81.4 L1163.8,80.8 L1158.3,78.5 L1157,77.6 L1154,77.4 L1150.3,76.5 L1147.1,76.7 L1151.2,79.2 L1156.3,81.8 L1160.9,83.9 L1164.4,86.2 L1164.7,88.1 L1170,92.1 L1169.6,93.1 L1166.1,91.9 L1159.1,88.5 L1154.7,87.8 L1150,86.5 L1146.6,86 L1141.6,84 L1137.2,81 L1136.2,79 L1134.7,76.9 L1134.9,75.6 L1133.9,74.7 L1131.7,72.9 L1128.5,71.2 L1123.4,69.5 L1122.5,69.9 L1118.1,68.3 L1117.7,68.9 L1118.6,70.5 L1114.8,69.3 L1116.9,72 L1114.4,71.9 L1111,71.4 L1110.9,72.4 L1107,72 L1104.9,71.6 L1101.6,70.4 L1099.6,71.2 L1097.5,71.4 L1095.3,70.8 L1093.2,71 L1092.2,71.8 L1090.4,72 L1089.8,72.9 L1087.6,72.6 L1085.2,72 L1082.9,71.6 L1080.3,71.6 L1077.9,71.2 L1076.2,70.9 L1072.7,70.3 L1071.3,71.1 L1069.5,72 L1068.8,73 L1067.2,73.9 L1069.1,75.2 L1070,76.5 L1071.9,77.3 L1069.4,77.4 L1068.3,78 L1066.8,78.8 M1099.7,56 L1093.8,53.6 L1089.7,51.6 L1090.1,50.2 L1087.2,48.5 L1095.1,48.7 L1104.8,49.6 L1118.7,51.7 L1127.7,53.4 L1138.5,55.9 L1147.3,57.8 L1152.8,59.9 L1154.8,62.1 L1161.8,65.7 L1162.6,67.3 L1170.6,71 L1178.1,74.8 L1172.2,74.1 L1164.2,71.7 L1158.2,70 L1150.4,67.6 L1143.1,65.2 L1138.6,63.1 L1132,61.7 L1126.6,60.4 L1118.4,58.5 L1112.3,57.7 L1109.5,58.1 L1105.7,57.5 L1099.7,56 M1145.7,68.9 L1149.7,71.2 L1156.1,74.9 L1153.1,74.9 L1147.5,73.7 L1141.8,71.9 L1137.9,69.8 L1132.5,68.9 L1125.6,66.5 L1122.2,66.3 L1117.1,65.4 L1111.3,64.2 L1111.3,62.9 L1117.7,63.4 L1123.3,64.1 L1128.3,64.9 L1132.9,65.9 L1138,67.7 L1143.8,68.4 L1145.7,68.9 M1113.4,70.4 L1110.8,70.7 L1108.3,71.2 L1104.2,70.9 L1101,70.3 L1101.3,68.6 L1095.9,66.9 L1098.2,66.1 L1100.5,65.8 L1102.7,65.5 L1108.1,67.8 L1113.4,70.4 M1106,58.4 L1105.1,59.2 L1100.5,59.6 L1095.7,57.9 L1090.1,55.5 L1083.9,52.4 L1084.9,51.1 L1089.4,51.8 L1095.2,54.3 L1097.4,55.7 L1106,58.4 M1096.6,68.4 L1092.9,68.3 L1088.7,65.3 L1091.2,64.6 L1095,65.4 L1096.6,68.4 M1110.5,61.2 L1106.9,62 L1100.8,60.5 L1101,59.5 L1104.4,59.2 L1110.5,61.2 M1106.6,64.6 L1105,64.9 L1098.1,61.8 L1100.4,61.4 L1105.4,63.1 L1106.6,64.6 M1095,61.4 L1092.8,62.5 L1088.7,61.8 L1088.4,59.5 L1091.2,59.5 L1095,61.4 M1209.9,146.4 L1210.5,144.5 L1213.1,143.6 L1216.2,143.6 L1221.1,145.8 L1224.8,147.1 L1227.4,148.4 L1225.8,149.2 L1222.8,149.4 L1219.8,146.3 L1215.7,145.7 L1213.8,146.6 L1210.8,146.7 L1209.9,146.4 M1228.6,152 L1230.3,149 L1234.1,149.2 L1237.3,151.2 L1235.5,152.1 L1233.7,153.3 L1231,152.3 L1228.6,152 M1222.9,152.5 L1226,152.5 L1225.5,153.2 L1222.9,152.5 M1239.3,151.3 L1241.9,151.5 L1239.8,152.2 L1239.3,151.3 M1229.9,170.9 L1231.8,169.5 L1232.1,167.3 L1234,165.7 L1236.7,164.2 L1238,166.2 L1237.8,167.2 L1239.5,168.9 L1238.1,166.4 L1239.8,163.9 L1242.9,166.8 L1246.7,166.7 L1249.7,166.6 L1252.7,166.3 L1255,169.6 L1257.7,171.2 L1261.4,175.2 L1265.3,175.5 L1269.3,177.5 L1271.8,179.5 L1273.6,184.1 L1273.7,187.8 L1275.9,189.9 L1281,191 L1283.8,193.1 L1288.1,193.8 L1290.1,195.8 L1292.6,198.6 L1294.4,200.8 L1293,207.3 L1288.9,211.5 L1285.3,215.6 L1280.9,224 L1276.1,230.1 L1272.2,234.1 L1268.2,235.8 L1264.5,237.2 L1259.5,239.2 L1256,242.1 L1252.8,246 L1247.6,249.6 L1241.6,253.1 L1237.1,255.7 L1233.4,257.3 L1230.1,257.9 L1227.2,260.6 L1224,262.7 L1220.7,263.5 L1217.4,263.4 L1214.1,266 L1210,266.5 L1207.5,269.2 L1201.1,273.3 L1195.6,275.5 L1193.8,278.3 L1185.4,282 L1181.4,284.3 L1179.4,286 L1176.1,289.4 L1171.7,289.6 L1173.6,287 L1175.4,284.3 L1179.5,280.1 L1186.5,275.2 L1193.7,270.3 L1199,266.1 L1205.3,260 L1208.4,257.4 L1215.9,251.2 L1220.2,245.7 L1224.8,240.2 L1229.1,234.6 L1232.9,228.9 L1234.8,224.1 L1234,221.7 L1230.3,217 L1229.2,213.1 L1228.5,210.1 L1227.4,204.3 L1225,199.4 L1225,196.5 L1227.1,193.6 L1226.5,189.7 L1227.3,185.9 L1228.9,184.3 L1231.1,181 L1230.4,175.2 L1229.3,173.2 L1229.9,170.9 M1190.1,284.8 L1193.7,284.9 L1191.7,286.2 L1189.2,286.1 L1190.1,284.8 M1056.4,314.8 L1061.1,314.4 L1065.1,315.9 L1071.5,313.4 L1078.4,311.7 L1085.4,310.7 L1091.8,310.6 L1096.1,311.9 L1103.7,311.4 L1110.2,311.6 L1113.6,313.2 L1123.9,310.6 L1130.7,310.2 L1146.5,305.8 L1158.2,303.4 L1154.7,303.6 L1147.1,305.9 L1136.1,309.5 L1123.2,314.6 L1116.7,317 L1110.1,320.7 L1110.4,322.2 L1121.2,321.6 L1134.5,320.9 L1147.9,320.4 M958.6,321.4 L960.4,319.5 L962.8,317.6 L963.8,315.3 L963.5,312.5 L962.6,309.1 L967.9,307.5 L976.8,307.4 L984.3,308.7 L981.3,305.5 L985.2,303 L991.1,301.2 L998.6,300.3 L1008.1,300.9 L1015.1,299.6 L1023.5,299.5 L1033.1,301.5 L1041.7,303.4 L1045.8,304.7 L1049.7,306.1 L1049.5,310.3 L1049.3,314.5 L1051.7,314.4 L1056.4,314.8 M1167.9,103.1 L1170.4,103 L1171.1,101.3 L1175.8,102.1 L1176.9,102.5 L1173.9,100.4 L1170.3,99.5 L1169,100.6 L1167.9,103.1 M1180.8,110.5 L1182.3,110.9 L1182.5,110 L1179,107 L1177,103.8 L1175.3,104 L1176.4,106.3 L1180.8,110.5 M1177.8,103.3 L1181.4,104.3 L1183.3,103.7 L1185.8,105.3 L1186.8,108 L1185.6,108.1 L1182.6,106.6 L1177.8,103.3 M1186.6,110.5 L1188.3,108.8 L1190.1,108 L1190.6,108.5 L1189.4,110.6 L1186.6,110.5 M1188.2,107.3 L1191.7,106.5 L1190.4,105.3 L1187.9,106.6 L1188.2,107.3 M980,61.4 L989,59.7 L996.9,57.7 L1002.3,57.2 L1005.4,57.4 L1004.7,57.9 L996.4,58.7 L985.3,60.8 L977.8,62.4 L980,61.4 M1000.2,49.8 L992.7,51.5 L996.9,51.8 L1006.8,50.9 L1010.6,49.5 L1006.5,49.1 L1000.2,49.8 M1022.2,57.2 L1022.3,58 L1024.1,58.3 L1027.4,56.4 L1028.4,54.9 L1024.2,55.8 L1022.2,57.2 M1030.6,65.9 L1032.3,66.7 L1037,64.8 L1036.1,63.3 L1032,64.5 L1030.6,65.9 M1055,71 L1057.8,70.3 L1058.5,71 L1056.4,71.3 L1055,71" fill="none" stroke="#111" stroke-width="1.1" stroke-linejoin="round"/>
<path d="M944.0,164.9 Q1158.7,215.6 1288.4,252.9 M944.0,164.9 Q1145.0,193.6 1234.7,278.1 M944.0,164.9 Q1139.4,207.5 1238.1,277.1 M944.0,164.9 Q1147.9,199.8 1238.4,242.1 M944.0,164.9 Q1162.6,195.4 1248.7,284.9 M944.0,164.9 Q1163.8,211.9 1298.8,268.7 M944.0,164.9 Q1162.9,217.0 1254.9,247.1 M944.0,164.9 Q1159.7,210.4 1264.4,239.0 M944.0,164.9 Q1164.3,209.6 1288.6,290.6 M944.0,164.9 Q1150.1,210.3 1242.3,263.9 M944.0,164.9 Q1150.5,205.5 1264.5,281.6 M944.0,164.9 Q1162.9,208.6 1296.5,279.5 M944.0,164.9 Q1143.7,196.4 1216.8,257.1 M944.0,164.9 Q1149.4,210.9 1217.1,238.6 M944.0,164.9 Q1152.5,189.4 1287.4,290.1 M944.0,164.9 Q1161.0,198.0 1223.2,235.4 M944.0,164.9 Q1152.5,212.8 1273.7,259.1 M944.0,164.9 Q1154.0,199.0 1267.4,236.5 M944.0,164.9 Q1142.3,214.8 1297.8,248.1 M944.0,164.9 Q1158.9,214.7 1244.3,237.0 M944.0,164.9 Q1161.0,198.5 1251.8,242.0 M944.0,164.9 Q1161.4,195.6 1228.3,234.6 M944.0,164.9 Q1156.0,216.9 1216.4,253.8 M944.0,164.9 Q1143.1,213.1 1225.1,269.1 M944.0,164.9 Q1160.1,204.0 1251.3,273.0 M944.0,164.9 Q1140.0,208.4 1249.7,232.6 M944.0,164.9 Q1136.5,209.9 1277.3,266.7 M944.0,164.9 Q1157.5,207.6 1285.7,283.4 M944.0,164.9 Q1140.7,207.0 1238.2,253.7 M944.0,164.9 Q1142.0,196.4 1237.2,280.6 M944.0,164.9 Q1158.3,212.1 1213.1,248.8 M944.0,164.9 Q1155.6,204.7 1292.1,234.1 M944.0,164.9 Q1155.5,197.8 1238.2,288.4 M944.0,164.9 Q1149.1,202.4 1283.9,258.6 M944.0,164.9 Q1159.6,197.5 1250.1,233.5 M944.0,164.9 Q1152.0,191.0 1247.8,242.6 M944.0,164.9 Q1161.4,208.1 1207.8,244.6 M944.0,164.9 Q1148.5,209.6 1273.6,237.5 M944.0,164.9 Q1137.3,199.6 1275.7,259.0 M944.0,164.9 Q1153.4,198.9 1295.1,285.4 M944.0,164.9 Q1148.9,212.9 1262.2,266.5 M944.0,164.9 Q1157.0,208.6 1258.5,237.8 M944.0,164.9 Q1164.3,207.1 1214.7,263.5 M944.0,164.9 Q1147.7,216.6 1269.0,260.7 M944.0,164.9 Q1137.8,203.4 1231.7,259.8 M944.0,164.9 Q1164.3,196.4 1268.0,273.5 M944.0,164.9 Q1145.0,214.6 1224.8,253.5 M944.0,164.9 Q1165.0,200.4 1224.8,260.3 M944.0,164.9 Q1144.7,198.0 1248.6,257.1 M944.0,164.9 Q1137.0,211.6 1284.5,232.9 M944.0,164.9 Q1149.4,202.2 1273.8,257.5 M944.0,164.9 Q1145.7,205.6 1229.4,258.0 M944.0,164.9 Q1136.2,216.7 1237.0,267.3 M944.0,164.9 Q1146.3,192.6 1206.2,260.3 M944.0,164.9 Q1140.6,198.2 1297.5,258.9 M944.0,164.9 Q1165.0,216.0 1223.0,264.7 M944.0,164.9 Q1151.9,210.4 1226.9,274.6 M944.0,164.9 Q1138.6,214.4 1219.9,234.7 M944.0,164.9 Q1148.9,190.7 1210.1,234.5 M944.0,164.9 Q1140.4,210.3 1221.6,289.2 M944.0,164.9 Q1148.3,194.9 1285.2,259.3 M944.0,164.9 Q1152.1,203.9 1236.1,264.0 M944.0,164.9 Q1148.8,199.6 1239.5,285.2 M944.0,164.9 Q1153.1,209.8 1250.2,282.5 M944.0,164.9 Q1156.7,191.7 1283.5,253.3 M944.0,164.9 Q1146.7,193.7 1251.0,259.7 M944.0,164.9 Q1146.8,192.3 1281.2,252.6 M944.0,164.9 Q1140.5,199.9 1287.2,284.0 M944.0,164.9 Q1159.9,206.2 1232.0,243.3 M944.0,164.9 Q1145.0,210.9 1291.4,273.3 M944.0,164.9 Q1150.5,191.2 1215.1,267.3 M944.0,164.9 Q1138.7,191.3 1232.3,263.2 M944.0,164.9 Q1152.6,216.9 1263.5,290.6 M944.0,164.9 Q1139.9,201.8 1251.1,238.2 M944.0,164.9 Q1164.3,205.5 1288.0,280.8 M944.0,164.9 Q1140.0,204.1 1276.7,265.0 M944.0,164.9 Q1159.6,195.2 1231.4,280.7 M944.0,164.9 Q1135.6,194.4 1217.6,249.4 M944.0,164.9 Q1148.0,213.7 1295.9,287.4 M944.0,164.9 Q1152.1,206.2 1223.1,292.0" stroke="#000" stroke-opacity="0.18" stroke-width="0.8" fill="none"/><path d="M944.0,164.9 L1019.5,190.5 M944.0,164.9 L1037.9,237.2 M944.0,164.9 L1049.3,248.2 M944.0,164.9 L1064.8,191.9 M944.0,164.9 L1047.7,196.7 M944.0,164.9 L1059.3,229.8 M944.0,164.9 L1000.5,219.9 M944.0,164.9 L1058.9,256.3 M944.0,164.9 L1064.6,228.5 M944.0,164.9 L1048.0,241.1 M944.0,164.9 L1034.5,247.7 M944.0,164.9 L1011.5,207.3 M944.0,164.9 L1043.2,245.9 M944.0,164.9 L1068.5,194.9 M944.0,164.9 L1069.8,213.0 M944.0,164.9 L1025.7,242.6 M944.0,164.9 L1069.4,205.4 M944.0,164.9 L1027.5,257.5 M944.0,164.9 L1059.3,221.1 M944.0,164.9 L1018.7,250.2 M944.0,164.9 L1014.0,217.6 M944.0,164.9 L1000.9,206.4 M944.0,164.9 L1031.4,227.8 M944.0,164.9 L1053.8,236.3 M944.0,164.9 L1016.0,219.7 M944.0,164.9 L1017.0,200.1 M944.0,164.9 L1011.3,261.8 M944.0,164.9 L1055.9,253.6 M944.0,164.9 L1050.4,209.9 M944.0,164.9 L1052.1,230.4" stroke="#000" stroke-opacity="0.16" stroke-width="0.6" fill="none"/><path d="M944.0,164.9 L1015.2,167.4 M944.0,164.9 L1004.8,153.8 M944.0,164.9 L1020.4,171.2 M944.0,164.9 L999.7,157.8 M944.0,164.9 L1006.4,162.4 M944.0,164.9 L975.5,173.0 M944.0,164.9 L1009.0,174.2 M944.0,164.9 L1029.6,162.0 M944.0,164.9 L1001.9,152.4 M944.0,164.9 L1006.2,174.7 M944.0,164.9 L989.4,150.6 M944.0,164.9 L1009.9,161.7 M944.0,164.9 L973.2,172.5 M944.0,164.9 L988.6,165.2 M944.0,164.9 L1002.0,163.6 M944.0,164.9 L1007.4,158.7 M944.0,164.9 L976.0,164.0 M944.0,164.9 L1016.5,159.8 M944.0,164.9 L973.2,157.8 M944.0,164.9 L984.6,154.3 M944.0,164.9 L992.8,167.3 M944.0,164.9 L1029.6,152.7 M944.0,164.9 L978.5,154.7 M944.0,164.9 L986.3,175.7 M944.0,164.9 L971.4,165.4" stroke="#000" stroke-opacity="0.2" stroke-width="0.6" fill="none"/><path d="M944.0,164.9 L1108.2,127.4 M944.0,164.9 L1129.1,140.0 M944.0,164.9 L1177.5,133.4 M944.0,164.9 L1164.9,68.8 M944.0,164.9 L1057.5,137.8 M944.0,164.9 L1069.8,65.2 M944.0,164.9 L1138.2,107.3 M944.0,164.9 L1067.1,94.4 M944.0,164.9 L1105.6,96.8 M944.0,164.9 L1097.5,70.6 M944.0,164.9 L1144.5,86.6 M944.0,164.9 L1177.6,138.7 M944.0,164.9 L1045.7,121.6 M944.0,164.9 L1158.3,83.6 M944.0,164.9 L1132.4,83.5 M944.0,164.9 L1177.8,86.9 M944.0,164.9 L1143.1,80.5 M944.0,164.9 L1177.8,77.7" stroke="#000" stroke-opacity="0.1" stroke-width="0.5" fill="none"/><path d="M944.0,164.9 L993.9,216.6 M944.0,164.9 L929.1,269.9 M944.0,164.9 L927.7,278.5 M944.0,164.9 L900.9,299.1 M944.0,164.9 L941.9,289.0 M944.0,164.9 L900.7,240.9 M944.0,164.9 L940.3,294.4 M944.0,164.9 L999.2,239.8 M944.0,164.9 L927.5,234.8 M944.0,164.9 L889.2,213.9 M944.0,164.9 L971.4,210.8 M944.0,164.9 L979.1,242.4 M944.0,164.9 L902.7,231.0 M944.0,164.9 L895.1,263.5" stroke="#000" stroke-opacity="0.1" stroke-width="0.5" fill="none"/><path d="M944.0,164.9 L893.1,144.4 M944.0,164.9 L902.6,144.9 M944.0,164.9 L884.5,149.4 M944.0,164.9 L889.7,136.9 M944.0,164.9 L927.4,159.4 M944.0,164.9 L907.2,138.6 M944.0,164.9 L906.3,146.1 M944.0,164.9 L928.3,131.5 M944.0,164.9 L880.3,142.4 M944.0,164.9 L897.1,140.0" stroke="#000" stroke-opacity="0.15" stroke-width="0.6" fill="none"/>
<circle cx="944.0" cy="164.9" r="7.4" fill="#e8240e" stroke="#000" stroke-width="1.3"/>
</g>
<ellipse cx="1056.4" cy="187.8" rx="286.0" ry="142.2" fill="none" stroke="#000" stroke-width="1.6"/>
<g clip-path="url(#clipc)">
<rect x="27.5" y="412.1" width="572.0" height="284.4" fill="#7db9d6"/>
<g filter="url(#bl)"><rect x="27" y="411.6" width="23" height="11.9" fill="#56a4be"/><rect x="49" y="411.6" width="23" height="11.9" fill="#56a4be"/><rect x="71" y="411.6" width="23" height="11.9" fill="#56a4be"/><rect x="93" y="411.6" width="23" height="11.9" fill="#56a4be"/><rect x="115" y="411.6" width="23" height="11.9" fill="#56a4be"/><rect x="137" y="411.6" width="23" height="11.9" fill="#56a4be"/><rect x="159" y="411.6" width="23" height="11.9" fill="#56a4be"/><rect x="181" y="411.6" width="23" height="11.9" fill="#56a4be"/><rect x="203" y="411.6" width="23" height="11.9" fill="#56a4be"/><rect x="225" y="411.6" width="23" height="11.9" fill="#56a4be"/><rect x="247" y="411.6" width="23" height="11.9" fill="#40968c"/><rect x="269" y="411.6" width="23" height="11.9" fill="#56a4be"/><rect x="291" y="411.6" width="23" height="11.9" fill="#40968c"/><rect x="313" y="411.6" width="23" height="11.9" fill="#40968c"/><rect x="335" y="411.6" width="23" height="11.9" fill="#40968c"/><rect x="357" y="411.6" width="23" height="11.9" fill="#7db9d6"/><rect x="379" y="411.6" width="23" height="11.9" fill="#7db9d6"/><rect x="401" y="411.6" width="23" height="11.9" fill="#7db9d6"/><rect x="423" y="411.6" width="23" height="11.9" fill="#7db9d6"/><rect x="445" y="411.6" width="23" height="11.9" fill="#7db9d6"/><rect x="467" y="411.6" width="23" height="11.9" fill="#7db9d6"/><rect x="489" y="411.6" width="23" height="11.9" fill="#7db9d6"/><rect x="511" y="411.6" width="23" height="11.9" fill="#7db9d6"/><rect x="533" y="411.6" width="23" height="11.9" fill="#7db9d6"/><rect x="555" y="411.6" width="23" height="11.9" fill="#7db9d6"/><rect x="577" y="411.6" width="23" height="11.9" fill="#7db9d6"/><rect x="27" y="422.5" width="23" height="11.9" fill="#56a4be"/><rect x="49" y="422.5" width="23" height="11.9" fill="#56a4be"/><rect x="71" y="422.5" width="23" height="11.9" fill="#56a4be"/><rect x="93" y="422.5" width="23" height="11.9" fill="#56a4be"/><rect x="115" y="422.5" width="23" height="11.9" fill="#56a4be"/><rect x="137" y="422.5" width="23" height="11.9" fill="#56a4be"/><rect x="159" y="422.5" width="23" height="11.9" fill="#56a4be"/><rect x="181" y="422.5" width="23" height="11.9" fill="#7db9d6"/><rect x="203" y="422.5" width="23" height="11.9" fill="#7db9d6"/><rect x="225" y="422.5" width="23" height="11.9" fill="#56a4be"/><rect x="247" y="422.5" width="23" height="11.9" fill="#56a4be"/><rect x="269" y="422.5" width="23" height="11.9" fill="#7db9d6"/><rect x="291" y="422.5" width="23" height="11.9" fill="#40968c"/><rect x="313" y="422.5" width="23" height="11.9" fill="#56a4be"/><rect x="335" y="422.5" width="23" height="11.9" fill="#40968c"/><rect x="357" y="422.5" width="23" height="11.9" fill="#7db9d6"/><rect x="379" y="422.5" width="23" height="11.9" fill="#7db9d6"/><rect x="401" y="422.5" width="23" height="11.9" fill="#7db9d6"/><rect x="423" y="422.5" width="23" height="11.9" fill="#7db9d6"/><rect x="445" y="422.5" width="23" height="11.9" fill="#56a4be"/><rect x="467" y="422.5" width="23" height="11.9" fill="#56a4be"/><rect x="489" y="422.5" width="23" height="11.9" fill="#56a4be"/><rect x="511" y="422.5" width="23" height="11.9" fill="#56a4be"/><rect x="533" y="422.5" width="23" height="11.9" fill="#56a4be"/><rect x="555" y="422.5" width="23" height="11.9" fill="#56a4be"/><rect x="577" y="422.5" width="23" height="11.9" fill="#56a4be"/><rect x="27" y="433.5" width="23" height="11.9" fill="#56a4be"/><rect x="49" y="433.5" width="23" height="11.9" fill="#56a4be"/><rect x="71" y="433.5" width="23" height="11.9" fill="#56a4be"/><rect x="93" y="433.5" width="23" height="11.9" fill="#56a4be"/><rect x="115" y="433.5" width="23" height="11.9" fill="#56a4be"/><rect x="137" y="433.5" width="23" height="11.9" fill="#56a4be"/><rect x="159" y="433.5" width="23" height="11.9" fill="#56a4be"/><rect x="181" y="433.5" width="23" height="11.9" fill="#7db9d6"/><rect x="203" y="433.5" width="23" height="11.9" fill="#acd0e4"/><rect x="225" y="433.5" width="23" height="11.9" fill="#7db9d6"/><rect x="247" y="433.5" width="23" height="11.9" fill="#acd0e4"/><rect x="269" y="433.5" width="23" height="11.9" fill="#dee6f2"/><rect x="291" y="433.5" width="23" height="11.9" fill="#acd0e4"/><rect x="313" y="433.5" width="23" height="11.9" fill="#7db9d6"/><rect x="335" y="433.5" width="23" height="11.9" fill="#56a4be"/><rect x="357" y="433.5" width="23" height="11.9" fill="#56a4be"/><rect x="379" y="433.5" width="23" height="11.9" fill="#56a4be"/><rect x="401" y="433.5" width="23" height="11.9" fill="#7db9d6"/><rect x="423" y="433.5" width="23" height="11.9" fill="#56a4be"/><rect x="445" y="433.5" width="23" height="11.9" fill="#40968c"/><rect x="467" y="433.5" width="23" height="11.9" fill="#40968c"/><rect x="489" y="433.5" width="23" height="11.9" fill="#40968c"/><rect x="511" y="433.5" width="23" height="11.9" fill="#40968c"/><rect x="533" y="433.5" width="23" height="11.9" fill="#40968c"/><rect x="555" y="433.5" width="23" height="11.9" fill="#40968c"/><rect x="577" y="433.5" width="23" height="11.9" fill="#40968c"/><rect x="27" y="444.4" width="23" height="11.9" fill="#56a4be"/><rect x="49" y="444.4" width="23" height="11.9" fill="#56a4be"/><rect x="71" y="444.4" width="23" height="11.9" fill="#56a4be"/><rect x="93" y="444.4" width="23" height="11.9" fill="#56a4be"/><rect x="115" y="444.4" width="23" height="11.9" fill="#56a4be"/><rect x="137" y="444.4" width="23" height="11.9" fill="#56a4be"/><rect x="159" y="444.4" width="23" height="11.9" fill="#40968c"/><rect x="181" y="444.4" width="23" height="11.9" fill="#7db9d6"/><rect x="203" y="444.4" width="23" height="11.9" fill="#acd0e4"/><rect x="225" y="444.4" width="23" height="11.9" fill="#dee6f2"/><rect x="247" y="444.4" width="23" height="11.9" fill="#acd0e4"/><rect x="269" y="444.4" width="23" height="11.9" fill="#acd0e4"/><rect x="291" y="444.4" width="23" height="11.9" fill="#7db9d6"/><rect x="313" y="444.4" width="23" height="11.9" fill="#acd0e4"/><rect x="335" y="444.4" width="23" height="11.9" fill="#acd0e4"/><rect x="357" y="444.4" width="23" height="11.9" fill="#56a4be"/><rect x="379" y="444.4" width="23" height="11.9" fill="#7db9d6"/><rect x="401" y="444.4" width="23" height="11.9" fill="#7db9d6"/><rect x="423" y="444.4" width="23" height="11.9" fill="#7db9d6"/><rect x="445" y="444.4" width="23" height="11.9" fill="#56a4be"/><rect x="467" y="444.4" width="23" height="11.9" fill="#40968c"/><rect x="489" y="444.4" width="23" height="11.9" fill="#40968c"/><rect x="511" y="444.4" width="23" height="11.9" fill="#32846a"/><rect x="533" y="444.4" width="23" height="11.9" fill="#32846a"/><rect x="555" y="444.4" width="23" height="11.9" fill="#32846a"/><rect x="577" y="444.4" width="23" height="11.9" fill="#32846a"/><rect x="27" y="455.4" width="23" height="11.9" fill="#7db9d6"/><rect x="49" y="455.4" width="23" height="11.9" fill="#7db9d6"/><rect x="71" y="455.4" width="23" height="11.9" fill="#7db9d6"/><rect x="93" y="455.4" width="23" height="11.9" fill="#7db9d6"/><rect x="115" y="455.4" width="23" height="11.9" fill="#acd0e4"/><rect x="137" y="455.4" width="23" height="11.9" fill="#acd0e4"/><rect x="159" y="455.4" width="23" height="11.9" fill="#40968c"/><rect x="181" y="455.4" width="23" height="11.9" fill="#56a4be"/><rect x="203" y="455.4" width="23" height="11.9" fill="#7db9d6"/><rect x="225" y="455.4" width="23" height="11.9" fill="#acd0e4"/><rect x="247" y="455.4" width="23" height="11.9" fill="#acd0e4"/><rect x="269" y="455.4" width="23" height="11.9" fill="#7db9d6"/><rect x="291" y="455.4" width="23" height="11.9" fill="#7db9d6"/><rect x="313" y="455.4" width="23" height="11.9" fill="#acd0e4"/><rect x="335" y="455.4" width="23" height="11.9" fill="#dee6f2"/><rect x="357" y="455.4" width="23" height="11.9" fill="#acd0e4"/><rect x="379" y="455.4" width="23" height="11.9" fill="#56a4be"/><rect x="401" y="455.4" width="23" height="11.9" fill="#7db9d6"/><rect x="423" y="455.4" width="23" height="11.9" fill="#acd0e4"/><rect x="445" y="455.4" width="23" height="11.9" fill="#7db9d6"/><rect x="467" y="455.4" width="23" height="11.9" fill="#7db9d6"/><rect x="489" y="455.4" width="23" height="11.9" fill="#40968c"/><rect x="511" y="455.4" width="23" height="11.9" fill="#32846a"/><rect x="533" y="455.4" width="23" height="11.9" fill="#40968c"/><rect x="555" y="455.4" width="23" height="11.9" fill="#40968c"/><rect x="577" y="455.4" width="23" height="11.9" fill="#40968c"/><rect x="27" y="466.3" width="23" height="11.9" fill="#7db9d6"/><rect x="49" y="466.3" width="23" height="11.9" fill="#7db9d6"/><rect x="71" y="466.3" width="23" height="11.9" fill="#7db9d6"/><rect x="93" y="466.3" width="23" height="11.9" fill="#acd0e4"/><rect x="115" y="466.3" width="23" height="11.9" fill="#7db9d6"/><rect x="137" y="466.3" width="23" height="11.9" fill="#7db9d6"/><rect x="159" y="466.3" width="23" height="11.9" fill="#40968c"/><rect x="181" y="466.3" width="23" height="11.9" fill="#32846a"/><rect x="203" y="466.3" width="23" height="11.9" fill="#56a4be"/><rect x="225" y="466.3" width="23" height="11.9" fill="#7db9d6"/><rect x="247" y="466.3" width="23" height="11.9" fill="#56a4be"/><rect x="269" y="466.3" width="23" height="11.9" fill="#56a4be"/><rect x="291" y="466.3" width="23" height="11.9" fill="#7db9d6"/><rect x="313" y="466.3" width="23" height="11.9" fill="#40968c"/><rect x="335" y="466.3" width="23" height="11.9" fill="#56a4be"/><rect x="357" y="466.3" width="23" height="11.9" fill="#acd0e4"/><rect x="379" y="466.3" width="23" height="11.9" fill="#56a4be"/><rect x="401" y="466.3" width="23" height="11.9" fill="#acd0e4"/><rect x="423" y="466.3" width="23" height="11.9" fill="#7db9d6"/><rect x="445" y="466.3" width="23" height="11.9" fill="#56a4be"/><rect x="467" y="466.3" width="23" height="11.9" fill="#56a4be"/><rect x="489" y="466.3" width="23" height="11.9" fill="#40968c"/><rect x="511" y="466.3" width="23" height="11.9" fill="#26644b"/><rect x="533" y="466.3" width="23" height="11.9" fill="#32846a"/><rect x="555" y="466.3" width="23" height="11.9" fill="#40968c"/><rect x="577" y="466.3" width="23" height="11.9" fill="#40968c"/><rect x="27" y="477.2" width="23" height="11.9" fill="#7db9d6"/><rect x="49" y="477.2" width="23" height="11.9" fill="#7db9d6"/><rect x="71" y="477.2" width="23" height="11.9" fill="#acd0e4"/><rect x="93" y="477.2" width="23" height="11.9" fill="#acd0e4"/><rect x="115" y="477.2" width="23" height="11.9" fill="#7db9d6"/><rect x="137" y="477.2" width="23" height="11.9" fill="#56a4be"/><rect x="159" y="477.2" width="23" height="11.9" fill="#32846a"/><rect x="181" y="477.2" width="23" height="11.9" fill="#40968c"/><rect x="203" y="477.2" width="23" height="11.9" fill="#26644b"/><rect x="225" y="477.2" width="23" height="11.9" fill="#56a4be"/><rect x="247" y="477.2" width="23" height="11.9" fill="#56a4be"/><rect x="269" y="477.2" width="23" height="11.9" fill="#40968c"/><rect x="291" y="477.2" width="23" height="11.9" fill="#56a4be"/><rect x="313" y="477.2" width="23" height="11.9" fill="#32846a"/><rect x="335" y="477.2" width="23" height="11.9" fill="#40968c"/><rect x="357" y="477.2" width="23" height="11.9" fill="#56a4be"/><rect x="379" y="477.2" width="23" height="11.9" fill="#56a4be"/><rect x="401" y="477.2" width="23" height="11.9" fill="#7db9d6"/><rect x="423" y="477.2" width="23" height="11.9" fill="#40968c"/><rect x="445" y="477.2" width="23" height="11.9" fill="#56a4be"/><rect x="467" y="477.2" width="23" height="11.9" fill="#32846a"/><rect x="489" y="477.2" width="23" height="11.9" fill="#40968c"/><rect x="511" y="477.2" width="23" height="11.9" fill="#40968c"/><rect x="533" y="477.2" width="23" height="11.9" fill="#32846a"/><rect x="555" y="477.2" width="23" height="11.9" fill="#40968c"/><rect x="577" y="477.2" width="23" height="11.9" fill="#56a4be"/><rect x="27" y="488.2" width="23" height="11.9" fill="#acd0e4"/><rect x="49" y="488.2" width="23" height="11.9" fill="#acd0e4"/><rect x="71" y="488.2" width="23" height="11.9" fill="#7db9d6"/><rect x="93" y="488.2" width="23" height="11.9" fill="#7db9d6"/><rect x="115" y="488.2" width="23" height="11.9" fill="#7db9d6"/><rect x="137" y="488.2" width="23" height="11.9" fill="#40968c"/><rect x="159" y="488.2" width="23" height="11.9" fill="#7db9d6"/><rect x="181" y="488.2" width="23" height="11.9" fill="#56a4be"/><rect x="203" y="488.2" width="23" height="11.9" fill="#32846a"/><rect x="225" y="488.2" width="23" height="11.9" fill="#56a4be"/><rect x="247" y="488.2" width="23" height="11.9" fill="#56a4be"/><rect x="269" y="488.2" width="23" height="11.9" fill="#32846a"/><rect x="291" y="488.2" width="23" height="11.9" fill="#56a4be"/><rect x="313" y="488.2" width="23" height="11.9" fill="#40968c"/><rect x="335" y="488.2" width="23" height="11.9" fill="#7db9d6"/><rect x="357" y="488.2" width="23" height="11.9" fill="#7db9d6"/><rect x="379" y="488.2" width="23" height="11.9" fill="#7db9d6"/><rect x="401" y="488.2" width="23" height="11.9" fill="#7db9d6"/><rect x="423" y="488.2" width="23" height="11.9" fill="#56a4be"/><rect x="445" y="488.2" width="23" height="11.9" fill="#40968c"/><rect x="467" y="488.2" width="23" height="11.9" fill="#40968c"/><rect x="489" y="488.2" width="23" height="11.9" fill="#40968c"/><rect x="511" y="488.2" width="23" height="11.9" fill="#56a4be"/><rect x="533" y="488.2" width="23" height="11.9" fill="#56a4be"/><rect x="555" y="488.2" width="23" height="11.9" fill="#40968c"/><rect x="577" y="488.2" width="23" height="11.9" fill="#40968c"/><rect x="27" y="499.1" width="23" height="11.9" fill="#7db9d6"/><rect x="49" y="499.1" width="23" height="11.9" fill="#7db9d6"/><rect x="71" y="499.1" width="23" height="11.9" fill="#7db9d6"/><rect x="93" y="499.1" width="23" height="11.9" fill="#7db9d6"/><rect x="115" y="499.1" width="23" height="11.9" fill="#56a4be"/><rect x="137" y="499.1" width="23" height="11.9" fill="#40968c"/><rect x="159" y="499.1" width="23" height="11.9" fill="#56a4be"/><rect x="181" y="499.1" width="23" height="11.9" fill="#56a4be"/><rect x="203" y="499.1" width="23" height="11.9" fill="#32846a"/><rect x="225" y="499.1" width="23" height="11.9" fill="#56a4be"/><rect x="247" y="499.1" width="23" height="11.9" fill="#56a4be"/><rect x="269" y="499.1" width="23" height="11.9" fill="#40968c"/><rect x="291" y="499.1" width="23" height="11.9" fill="#56a4be"/><rect x="313" y="499.1" width="23" height="11.9" fill="#7db9d6"/><rect x="335" y="499.1" width="23" height="11.9" fill="#7db9d6"/><rect x="357" y="499.1" width="23" height="11.9" fill="#7db9d6"/><rect x="379" y="499.1" width="23" height="11.9" fill="#7db9d6"/><rect x="401" y="499.1" width="23" height="11.9" fill="#7db9d6"/><rect x="423" y="499.1" width="23" height="11.9" fill="#56a4be"/><rect x="445" y="499.1" width="23" height="11.9" fill="#40968c"/><rect x="467" y="499.1" width="23" height="11.9" fill="#56a4be"/><rect x="489" y="499.1" width="23" height="11.9" fill="#56a4be"/><rect x="511" y="499.1" width="23" height="11.9" fill="#56a4be"/><rect x="533" y="499.1" width="23" height="11.9" fill="#acd0e4"/><rect x="555" y="499.1" width="23" height="11.9" fill="#7db9d6"/><rect x="577" y="499.1" width="23" height="11.9" fill="#7db9d6"/><rect x="27" y="510" width="23" height="11.9" fill="#acd0e4"/><rect x="49" y="510" width="23" height="11.9" fill="#7db9d6"/><rect x="71" y="510" width="23" height="11.9" fill="#56a4be"/><rect x="93" y="510" width="23" height="11.9" fill="#56a4be"/><rect x="115" y="510" width="23" height="11.9" fill="#56a4be"/><rect x="137" y="510" width="23" height="11.9" fill="#56a4be"/><rect x="159" y="510" width="23" height="11.9" fill="#56a4be"/><rect x="181" y="510" width="23" height="11.9" fill="#56a4be"/><rect x="203" y="510" width="23" height="11.9" fill="#56a4be"/><rect x="225" y="510" width="23" height="11.9" fill="#56a4be"/><rect x="247" y="510" width="23" height="11.9" fill="#56a4be"/><rect x="269" y="510" width="23" height="11.9" fill="#56a4be"/><rect x="291" y="510" width="23" height="11.9" fill="#56a4be"/><rect x="313" y="510" width="23" height="11.9" fill="#7db9d6"/><rect x="335" y="510" width="23" height="11.9" fill="#7db9d6"/><rect x="357" y="510" width="23" height="11.9" fill="#acd0e4"/><rect x="379" y="510" width="23" height="11.9" fill="#7db9d6"/><rect x="401" y="510" width="23" height="11.9" fill="#7db9d6"/><rect x="423" y="510" width="23" height="11.9" fill="#56a4be"/><rect x="445" y="510" width="23" height="11.9" fill="#56a4be"/><rect x="467" y="510" width="23" height="11.9" fill="#7db9d6"/><rect x="489" y="510" width="23" height="11.9" fill="#7db9d6"/><rect x="511" y="510" width="23" height="11.9" fill="#56a4be"/><rect x="533" y="510" width="23" height="11.9" fill="#acd0e4"/><rect x="555" y="510" width="23" height="11.9" fill="#dee6f2"/><rect x="577" y="510" width="23" height="11.9" fill="#acd0e4"/><rect x="27" y="521" width="23" height="11.9" fill="#acd0e4"/><rect x="49" y="521" width="23" height="11.9" fill="#acd0e4"/><rect x="71" y="521" width="23" height="11.9" fill="#acd0e4"/><rect x="93" y="521" width="23" height="11.9" fill="#7db9d6"/><rect x="115" y="521" width="23" height="11.9" fill="#acd0e4"/><rect x="137" y="521" width="23" height="11.9" fill="#acd0e4"/><rect x="159" y="521" width="23" height="11.9" fill="#7db9d6"/><rect x="181" y="521" width="23" height="11.9" fill="#7db9d6"/><rect x="203" y="521" width="23" height="11.9" fill="#acd0e4"/><rect x="225" y="521" width="23" height="11.9" fill="#acd0e4"/><rect x="247" y="521" width="23" height="11.9" fill="#dee6f2"/><rect x="269" y="521" width="23" height="11.9" fill="#acd0e4"/><rect x="291" y="521" width="23" height="11.9" fill="#acd0e4"/><rect x="313" y="521" width="23" height="11.9" fill="#acd0e4"/><rect x="335" y="521" width="23" height="11.9" fill="#7db9d6"/><rect x="357" y="521" width="23" height="11.9" fill="#acd0e4"/><rect x="379" y="521" width="23" height="11.9" fill="#7db9d6"/><rect x="401" y="521" width="23" height="11.9" fill="#acd0e4"/><rect x="423" y="521" width="23" height="11.9" fill="#7db9d6"/><rect x="445" y="521" width="23" height="11.9" fill="#7db9d6"/><rect x="467" y="521" width="23" height="11.9" fill="#7db9d6"/><rect x="489" y="521" width="23" height="11.9" fill="#acd0e4"/><rect x="511" y="521" width="23" height="11.9" fill="#acd0e4"/><rect x="533" y="521" width="23" height="11.9" fill="#acd0e4"/><rect x="555" y="521" width="23" height="11.9" fill="#acd0e4"/><rect x="577" y="521" width="23" height="11.9" fill="#acd0e4"/><rect x="27" y="531.9" width="23" height="11.9" fill="#acd0e4"/><rect x="49" y="531.9" width="23" height="11.9" fill="#7db9d6"/><rect x="71" y="531.9" width="23" height="11.9" fill="#acd0e4"/><rect x="93" y="531.9" width="23" height="11.9" fill="#7db9d6"/><rect x="115" y="531.9" width="23" height="11.9" fill="#acd0e4"/><rect x="137" y="531.9" width="23" height="11.9" fill="#7db9d6"/><rect x="159" y="531.9" width="23" height="11.9" fill="#7db9d6"/><rect x="181" y="531.9" width="23" height="11.9" fill="#7db9d6"/><rect x="203" y="531.9" width="23" height="11.9" fill="#acd0e4"/><rect x="225" y="531.9" width="23" height="11.9" fill="#acd0e4"/><rect x="247" y="531.9" width="23" height="11.9" fill="#dee6f2"/><rect x="269" y="531.9" width="23" height="11.9" fill="#acd0e4"/><rect x="291" y="531.9" width="23" height="11.9" fill="#acd0e4"/><rect x="313" y="531.9" width="23" height="11.9" fill="#dee6f2"/><rect x="335" y="531.9" width="23" height="11.9" fill="#dee6f2"/><rect x="357" y="531.9" width="23" height="11.9" fill="#acd0e4"/><rect x="379" y="531.9" width="23" height="11.9" fill="#acd0e4"/><rect x="401" y="531.9" width="23" height="11.9" fill="#dee6f2"/><rect x="423" y="531.9" width="23" height="11.9" fill="#acd0e4"/><rect x="445" y="531.9" width="23" height="11.9" fill="#acd0e4"/><rect x="467" y="531.9" width="23" height="11.9" fill="#dee6f2"/><rect x="489" y="531.9" width="23" height="11.9" fill="#acd0e4"/><rect x="511" y="531.9" width="23" height="11.9" fill="#acd0e4"/><rect x="533" y="531.9" width="23" height="11.9" fill="#acd0e4"/><rect x="555" y="531.9" width="23" height="11.9" fill="#7db9d6"/><rect x="577" y="531.9" width="23" height="11.9" fill="#acd0e4"/><rect x="27" y="542.9" width="23" height="11.9" fill="#acd0e4"/><rect x="49" y="542.9" width="23" height="11.9" fill="#acd0e4"/><rect x="71" y="542.9" width="23" height="11.9" fill="#acd0e4"/><rect x="93" y="542.9" width="23" height="11.9" fill="#7db9d6"/><rect x="115" y="542.9" width="23" height="11.9" fill="#acd0e4"/><rect x="137" y="542.9" width="23" height="11.9" fill="#acd0e4"/><rect x="159" y="542.9" width="23" height="11.9" fill="#7db9d6"/><rect x="181" y="542.9" width="23" height="11.9" fill="#acd0e4"/><rect x="203" y="542.9" width="23" height="11.9" fill="#acd0e4"/><rect x="225" y="542.9" width="23" height="11.9" fill="#7db9d6"/><rect x="247" y="542.9" width="23" height="11.9" fill="#acd0e4"/><rect x="269" y="542.9" width="23" height="11.9" fill="#acd0e4"/><rect x="291" y="542.9" width="23" height="11.9" fill="#acd0e4"/><rect x="313" y="542.9" width="23" height="11.9" fill="#f4f1f8"/><rect x="335" y="542.9" width="23" height="11.9" fill="#f4f1f8"/><rect x="357" y="542.9" width="23" height="11.9" fill="#f4f1f8"/><rect x="379" y="542.9" width="23" height="11.9" fill="#f4f1f8"/><rect x="401" y="542.9" width="23" height="11.9" fill="#f4f1f8"/><rect x="423" y="542.9" width="23" height="11.9" fill="#f4f1f8"/><rect x="445" y="542.9" width="23" height="11.9" fill="#f4f1f8"/><rect x="467" y="542.9" width="23" height="11.9" fill="#dee6f2"/><rect x="489" y="542.9" width="23" height="11.9" fill="#acd0e4"/><rect x="511" y="542.9" width="23" height="11.9" fill="#dee6f2"/><rect x="533" y="542.9" width="23" height="11.9" fill="#acd0e4"/><rect x="555" y="542.9" width="23" height="11.9" fill="#acd0e4"/><rect x="577" y="542.9" width="23" height="11.9" fill="#dee6f2"/><rect x="27" y="553.8" width="23" height="11.9" fill="#dee6f2"/><rect x="49" y="553.8" width="23" height="11.9" fill="#acd0e4"/><rect x="71" y="553.8" width="23" height="11.9" fill="#acd0e4"/><rect x="93" y="553.8" width="23" height="11.9" fill="#acd0e4"/><rect x="115" y="553.8" width="23" height="11.9" fill="#dee6f2"/><rect x="137" y="553.8" width="23" height="11.9" fill="#acd0e4"/><rect x="159" y="553.8" width="23" height="11.9" fill="#acd0e4"/><rect x="181" y="553.8" width="23" height="11.9" fill="#acd0e4"/><rect x="203" y="553.8" width="23" height="11.9" fill="#acd0e4"/><rect x="225" y="553.8" width="23" height="11.9" fill="#acd0e4"/><rect x="247" y="553.8" width="23" height="11.9" fill="#acd0e4"/><rect x="269" y="553.8" width="23" height="11.9" fill="#7db9d6"/><rect x="291" y="553.8" width="23" height="11.9" fill="#acd0e4"/><rect x="313" y="553.8" width="23" height="11.9" fill="#dee6f2"/><rect x="335" y="553.8" width="23" height="11.9" fill="#f4f1f8"/><rect x="357" y="553.8" width="23" height="11.9" fill="#f4f1f8"/><rect x="379" y="553.8" width="23" height="11.9" fill="#f4f1f8"/><rect x="401" y="553.8" width="23" height="11.9" fill="#f4f1f8"/><rect x="423" y="553.8" width="23" height="11.9" fill="#f4f1f8"/><rect x="445" y="553.8" width="23" height="11.9" fill="#f4f1f8"/><rect x="467" y="553.8" width="23" height="11.9" fill="#f4f1f8"/><rect x="489" y="553.8" width="23" height="11.9" fill="#acd0e4"/><rect x="511" y="553.8" width="23" height="11.9" fill="#dee6f2"/><rect x="533" y="553.8" width="23" height="11.9" fill="#acd0e4"/><rect x="555" y="553.8" width="23" height="11.9" fill="#acd0e4"/><rect x="577" y="553.8" width="23" height="11.9" fill="#dee6f2"/><rect x="27" y="564.7" width="23" height="11.9" fill="#dee6f2"/><rect x="49" y="564.7" width="23" height="11.9" fill="#acd0e4"/><rect x="71" y="564.7" width="23" height="11.9" fill="#7db9d6"/><rect x="93" y="564.7" width="23" height="11.9" fill="#acd0e4"/><rect x="115" y="564.7" width="23" height="11.9" fill="#dee6f2"/><rect x="137" y="564.7" width="23" height="11.9" fill="#acd0e4"/><rect x="159" y="564.7" width="23" height="11.9" fill="#dee6f2"/><rect x="181" y="564.7" width="23" height="11.9" fill="#acd0e4"/><rect x="203" y="564.7" width="23" height="11.9" fill="#7db9d6"/><rect x="225" y="564.7" width="23" height="11.9" fill="#acd0e4"/><rect x="247" y="564.7" width="23" height="11.9" fill="#acd0e4"/><rect x="269" y="564.7" width="23" height="11.9" fill="#acd0e4"/><rect x="291" y="564.7" width="23" height="11.9" fill="#acd0e4"/><rect x="313" y="564.7" width="23" height="11.9" fill="#56a4be"/><rect x="335" y="564.7" width="23" height="11.9" fill="#7db9d6"/><rect x="357" y="564.7" width="23" height="11.9" fill="#acd0e4"/><rect x="379" y="564.7" width="23" height="11.9" fill="#acd0e4"/><rect x="401" y="564.7" width="23" height="11.9" fill="#acd0e4"/><rect x="423" y="564.7" width="23" height="11.9" fill="#acd0e4"/><rect x="445" y="564.7" width="23" height="11.9" fill="#acd0e4"/><rect x="467" y="564.7" width="23" height="11.9" fill="#dee6f2"/><rect x="489" y="564.7" width="23" height="11.9" fill="#acd0e4"/><rect x="511" y="564.7" width="23" height="11.9" fill="#acd0e4"/><rect x="533" y="564.7" width="23" height="11.9" fill="#acd0e4"/><rect x="555" y="564.7" width="23" height="11.9" fill="#acd0e4"/><rect x="577" y="564.7" width="23" height="11.9" fill="#acd0e4"/><rect x="27" y="575.7" width="23" height="11.9" fill="#dee6f2"/><rect x="49" y="575.7" width="23" height="11.9" fill="#acd0e4"/><rect x="71" y="575.7" width="23" height="11.9" fill="#7db9d6"/><rect x="93" y="575.7" width="23" height="11.9" fill="#acd0e4"/><rect x="115" y="575.7" width="23" height="11.9" fill="#acd0e4"/><rect x="137" y="575.7" width="23" height="11.9" fill="#dee6f2"/><rect x="159" y="575.7" width="23" height="11.9" fill="#acd0e4"/><rect x="181" y="575.7" width="23" height="11.9" fill="#acd0e4"/><rect x="203" y="575.7" width="23" height="11.9" fill="#7db9d6"/><rect x="225" y="575.7" width="23" height="11.9" fill="#56a4be"/><rect x="247" y="575.7" width="23" height="11.9" fill="#acd0e4"/><rect x="269" y="575.7" width="23" height="11.9" fill="#acd0e4"/><rect x="291" y="575.7" width="23" height="11.9" fill="#acd0e4"/><rect x="313" y="575.7" width="23" height="11.9" fill="#acd0e4"/><rect x="335" y="575.7" width="23" height="11.9" fill="#7db9d6"/><rect x="357" y="575.7" width="23" height="11.9" fill="#acd0e4"/><rect x="379" y="575.7" width="23" height="11.9" fill="#acd0e4"/><rect x="401" y="575.7" width="23" height="11.9" fill="#acd0e4"/><rect x="423" y="575.7" width="23" height="11.9" fill="#acd0e4"/><rect x="445" y="575.7" width="23" height="11.9" fill="#acd0e4"/><rect x="467" y="575.7" width="23" height="11.9" fill="#dee6f2"/><rect x="489" y="575.7" width="23" height="11.9" fill="#7db9d6"/><rect x="511" y="575.7" width="23" height="11.9" fill="#acd0e4"/><rect x="533" y="575.7" width="23" height="11.9" fill="#acd0e4"/><rect x="555" y="575.7" width="23" height="11.9" fill="#acd0e4"/><rect x="577" y="575.7" width="23" height="11.9" fill="#dee6f2"/><rect x="27" y="586.6" width="23" height="11.9" fill="#dee6f2"/><rect x="49" y="586.6" width="23" height="11.9" fill="#dee6f2"/><rect x="71" y="586.6" width="23" height="11.9" fill="#acd0e4"/><rect x="93" y="586.6" width="23" height="11.9" fill="#acd0e4"/><rect x="115" y="586.6" width="23" height="11.9" fill="#acd0e4"/><rect x="137" y="586.6" width="23" height="11.9" fill="#acd0e4"/><rect x="159" y="586.6" width="23" height="11.9" fill="#acd0e4"/><rect x="181" y="586.6" width="23" height="11.9" fill="#7db9d6"/><rect x="203" y="586.6" width="23" height="11.9" fill="#7db9d6"/><rect x="225" y="586.6" width="23" height="11.9" fill="#7db9d6"/><rect x="247" y="586.6" width="23" height="11.9" fill="#acd0e4"/><rect x="269" y="586.6" width="23" height="11.9" fill="#acd0e4"/><rect x="291" y="586.6" width="23" height="11.9" fill="#7db9d6"/><rect x="313" y="586.6" width="23" height="11.9" fill="#acd0e4"/><rect x="335" y="586.6" width="23" height="11.9" fill="#7db9d6"/><rect x="357" y="586.6" width="23" height="11.9" fill="#acd0e4"/><rect x="379" y="586.6" width="23" height="11.9" fill="#7db9d6"/><rect x="401" y="586.6" width="23" height="11.9" fill="#7db9d6"/><rect x="423" y="586.6" width="23" height="11.9" fill="#acd0e4"/><rect x="445" y="586.6" width="23" height="11.9" fill="#acd0e4"/><rect x="467" y="586.6" width="23" height="11.9" fill="#acd0e4"/><rect x="489" y="586.6" width="23" height="11.9" fill="#40968c"/><rect x="511" y="586.6" width="23" height="11.9" fill="#acd0e4"/><rect x="533" y="586.6" width="23" height="11.9" fill="#dee6f2"/><rect x="555" y="586.6" width="23" height="11.9" fill="#dee6f2"/><rect x="577" y="586.6" width="23" height="11.9" fill="#dee6f2"/><rect x="27" y="597.6" width="23" height="11.9" fill="#dee6f2"/><rect x="49" y="597.6" width="23" height="11.9" fill="#dee6f2"/><rect x="71" y="597.6" width="23" height="11.9" fill="#acd0e4"/><rect x="93" y="597.6" width="23" height="11.9" fill="#acd0e4"/><rect x="115" y="597.6" width="23" height="11.9" fill="#acd0e4"/><rect x="137" y="597.6" width="23" height="11.9" fill="#acd0e4"/><rect x="159" y="597.6" width="23" height="11.9" fill="#dee6f2"/><rect x="181" y="597.6" width="23" height="11.9" fill="#7db9d6"/><rect x="203" y="597.6" width="23" height="11.9" fill="#56a4be"/><rect x="225" y="597.6" width="23" height="11.9" fill="#7db9d6"/><rect x="247" y="597.6" width="23" height="11.9" fill="#56a4be"/><rect x="269" y="597.6" width="23" height="11.9" fill="#acd0e4"/><rect x="291" y="597.6" width="23" height="11.9" fill="#7db9d6"/><rect x="313" y="597.6" width="23" height="11.9" fill="#7db9d6"/><rect x="335" y="597.6" width="23" height="11.9" fill="#acd0e4"/><rect x="357" y="597.6" width="23" height="11.9" fill="#7db9d6"/><rect x="379" y="597.6" width="23" height="11.9" fill="#56a4be"/><rect x="401" y="597.6" width="23" height="11.9" fill="#7db9d6"/><rect x="423" y="597.6" width="23" height="11.9" fill="#acd0e4"/><rect x="445" y="597.6" width="23" height="11.9" fill="#acd0e4"/><rect x="467" y="597.6" width="23" height="11.9" fill="#7db9d6"/><rect x="489" y="597.6" width="23" height="11.9" fill="#32846a"/><rect x="511" y="597.6" width="23" height="11.9" fill="#acd0e4"/><rect x="533" y="597.6" width="23" height="11.9" fill="#dee6f2"/><rect x="555" y="597.6" width="23" height="11.9" fill="#dee6f2"/><rect x="577" y="597.6" width="23" height="11.9" fill="#dee6f2"/><rect x="27" y="608.5" width="23" height="11.9" fill="#acd0e4"/><rect x="49" y="608.5" width="23" height="11.9" fill="#acd0e4"/><rect x="71" y="608.5" width="23" height="11.9" fill="#7db9d6"/><rect x="93" y="608.5" width="23" height="11.9" fill="#acd0e4"/><rect x="115" y="608.5" width="23" height="11.9" fill="#acd0e4"/><rect x="137" y="608.5" width="23" height="11.9" fill="#acd0e4"/><rect x="159" y="608.5" width="23" height="11.9" fill="#acd0e4"/><rect x="181" y="608.5" width="23" height="11.9" fill="#acd0e4"/><rect x="203" y="608.5" width="23" height="11.9" fill="#56a4be"/><rect x="225" y="608.5" width="23" height="11.9" fill="#56a4be"/><rect x="247" y="608.5" width="23" height="11.9" fill="#40968c"/><rect x="269" y="608.5" width="23" height="11.9" fill="#acd0e4"/><rect x="291" y="608.5" width="23" height="11.9" fill="#acd0e4"/><rect x="313" y="608.5" width="23" height="11.9" fill="#7db9d6"/><rect x="335" y="608.5" width="23" height="11.9" fill="#acd0e4"/><rect x="357" y="608.5" width="23" height="11.9" fill="#7db9d6"/><rect x="379" y="608.5" width="23" height="11.9" fill="#7db9d6"/><rect x="401" y="608.5" width="23" height="11.9" fill="#acd0e4"/><rect x="423" y="608.5" width="23" height="11.9" fill="#7db9d6"/><rect x="445" y="608.5" width="23" height="11.9" fill="#acd0e4"/><rect x="467" y="608.5" width="23" height="11.9" fill="#40968c"/><rect x="489" y="608.5" width="23" height="11.9" fill="#40968c"/><rect x="511" y="608.5" width="23" height="11.9" fill="#acd0e4"/><rect x="533" y="608.5" width="23" height="11.9" fill="#acd0e4"/><rect x="555" y="608.5" width="23" height="11.9" fill="#acd0e4"/><rect x="577" y="608.5" width="23" height="11.9" fill="#dee6f2"/><rect x="27" y="619.4" width="23" height="11.9" fill="#7db9d6"/><rect x="49" y="619.4" width="23" height="11.9" fill="#7db9d6"/><rect x="71" y="619.4" width="23" height="11.9" fill="#56a4be"/><rect x="93" y="619.4" width="23" height="11.9" fill="#56a4be"/><rect x="115" y="619.4" width="23" height="11.9" fill="#acd0e4"/><rect x="137" y="619.4" width="23" height="11.9" fill="#acd0e4"/><rect x="159" y="619.4" width="23" height="11.9" fill="#7db9d6"/><rect x="181" y="619.4" width="23" height="11.9" fill="#acd0e4"/><rect x="203" y="619.4" width="23" height="11.9" fill="#acd0e4"/><rect x="225" y="619.4" width="23" height="11.9" fill="#7db9d6"/><rect x="247" y="619.4" width="23" height="11.9" fill="#acd0e4"/><rect x="269" y="619.4" width="23" height="11.9" fill="#acd0e4"/><rect x="291" y="619.4" width="23" height="11.9" fill="#acd0e4"/><rect x="313" y="619.4" width="23" height="11.9" fill="#7db9d6"/><rect x="335" y="619.4" width="23" height="11.9" fill="#acd0e4"/><rect x="357" y="619.4" width="23" height="11.9" fill="#acd0e4"/><rect x="379" y="619.4" width="23" height="11.9" fill="#7db9d6"/><rect x="401" y="619.4" width="23" height="11.9" fill="#acd0e4"/><rect x="423" y="619.4" width="23" height="11.9" fill="#7db9d6"/><rect x="445" y="619.4" width="23" height="11.9" fill="#acd0e4"/><rect x="467" y="619.4" width="23" height="11.9" fill="#40968c"/><rect x="489" y="619.4" width="23" height="11.9" fill="#7db9d6"/><rect x="511" y="619.4" width="23" height="11.9" fill="#acd0e4"/><rect x="533" y="619.4" width="23" height="11.9" fill="#acd0e4"/><rect x="555" y="619.4" width="23" height="11.9" fill="#7db9d6"/><rect x="577" y="619.4" width="23" height="11.9" fill="#acd0e4"/><rect x="27" y="630.4" width="23" height="11.9" fill="#7db9d6"/><rect x="49" y="630.4" width="23" height="11.9" fill="#7db9d6"/><rect x="71" y="630.4" width="23" height="11.9" fill="#7db9d6"/><rect x="93" y="630.4" width="23" height="11.9" fill="#7db9d6"/><rect x="115" y="630.4" width="23" height="11.9" fill="#acd0e4"/><rect x="137" y="630.4" width="23" height="11.9" fill="#7db9d6"/><rect x="159" y="630.4" width="23" height="11.9" fill="#56a4be"/><rect x="181" y="630.4" width="23" height="11.9" fill="#acd0e4"/><rect x="203" y="630.4" width="23" height="11.9" fill="#40968c"/><rect x="225" y="630.4" width="23" height="11.9" fill="#40968c"/><rect x="247" y="630.4" width="23" height="11.9" fill="#acd0e4"/><rect x="269" y="630.4" width="23" height="11.9" fill="#acd0e4"/><rect x="291" y="630.4" width="23" height="11.9" fill="#acd0e4"/><rect x="313" y="630.4" width="23" height="11.9" fill="#acd0e4"/><rect x="335" y="630.4" width="23" height="11.9" fill="#7db9d6"/><rect x="357" y="630.4" width="23" height="11.9" fill="#56a4be"/><rect x="379" y="630.4" width="23" height="11.9" fill="#7db9d6"/><rect x="401" y="630.4" width="23" height="11.9" fill="#7db9d6"/><rect x="423" y="630.4" width="23" height="11.9" fill="#acd0e4"/><rect x="445" y="630.4" width="23" height="11.9" fill="#7db9d6"/><rect x="467" y="630.4" width="23" height="11.9" fill="#7db9d6"/><rect x="489" y="630.4" width="23" height="11.9" fill="#acd0e4"/><rect x="511" y="630.4" width="23" height="11.9" fill="#7db9d6"/><rect x="533" y="630.4" width="23" height="11.9" fill="#7db9d6"/><rect x="555" y="630.4" width="23" height="11.9" fill="#acd0e4"/><rect x="577" y="630.4" width="23" height="11.9" fill="#acd0e4"/><rect x="27" y="641.3" width="23" height="11.9" fill="#7db9d6"/><rect x="49" y="641.3" width="23" height="11.9" fill="#7db9d6"/><rect x="71" y="641.3" width="23" height="11.9" fill="#7db9d6"/><rect x="93" y="641.3" width="23" height="11.9" fill="#7db9d6"/><rect x="115" y="641.3" width="23" height="11.9" fill="#7db9d6"/><rect x="137" y="641.3" width="23" height="11.9" fill="#acd0e4"/><rect x="159" y="641.3" width="23" height="11.9" fill="#acd0e4"/><rect x="181" y="641.3" width="23" height="11.9" fill="#7db9d6"/><rect x="203" y="641.3" width="23" height="11.9" fill="#40968c"/><rect x="225" y="641.3" width="23" height="11.9" fill="#40968c"/><rect x="247" y="641.3" width="23" height="11.9" fill="#7db9d6"/><rect x="269" y="641.3" width="23" height="11.9" fill="#acd0e4"/><rect x="291" y="641.3" width="23" height="11.9" fill="#acd0e4"/><rect x="313" y="641.3" width="23" height="11.9" fill="#7db9d6"/><rect x="335" y="641.3" width="23" height="11.9" fill="#acd0e4"/><rect x="357" y="641.3" width="23" height="11.9" fill="#40968c"/><rect x="379" y="641.3" width="23" height="11.9" fill="#7db9d6"/><rect x="401" y="641.3" width="23" height="11.9" fill="#56a4be"/><rect x="423" y="641.3" width="23" height="11.9" fill="#7db9d6"/><rect x="445" y="641.3" width="23" height="11.9" fill="#56a4be"/><rect x="467" y="641.3" width="23" height="11.9" fill="#acd0e4"/><rect x="489" y="641.3" width="23" height="11.9" fill="#acd0e4"/><rect x="511" y="641.3" width="23" height="11.9" fill="#56a4be"/><rect x="533" y="641.3" width="23" height="11.9" fill="#7db9d6"/><rect x="555" y="641.3" width="23" height="11.9" fill="#7db9d6"/><rect x="577" y="641.3" width="23" height="11.9" fill="#7db9d6"/><rect x="27" y="652.2" width="23" height="11.9" fill="#acd0e4"/><rect x="49" y="652.2" width="23" height="11.9" fill="#acd0e4"/><rect x="71" y="652.2" width="23" height="11.9" fill="#acd0e4"/><rect x="93" y="652.2" width="23" height="11.9" fill="#acd0e4"/><rect x="115" y="652.2" width="23" height="11.9" fill="#acd0e4"/><rect x="137" y="652.2" width="23" height="11.9" fill="#acd0e4"/><rect x="159" y="652.2" width="23" height="11.9" fill="#7db9d6"/><rect x="181" y="652.2" width="23" height="11.9" fill="#7db9d6"/><rect x="203" y="652.2" width="23" height="11.9" fill="#acd0e4"/><rect x="225" y="652.2" width="23" height="11.9" fill="#7db9d6"/><rect x="247" y="652.2" width="23" height="11.9" fill="#7db9d6"/><rect x="269" y="652.2" width="23" height="11.9" fill="#acd0e4"/><rect x="291" y="652.2" width="23" height="11.9" fill="#acd0e4"/><rect x="313" y="652.2" width="23" height="11.9" fill="#acd0e4"/><rect x="335" y="652.2" width="23" height="11.9" fill="#7db9d6"/><rect x="357" y="652.2" width="23" height="11.9" fill="#56a4be"/><rect x="379" y="652.2" width="23" height="11.9" fill="#7db9d6"/><rect x="401" y="652.2" width="23" height="11.9" fill="#56a4be"/><rect x="423" y="652.2" width="23" height="11.9" fill="#7db9d6"/><rect x="445" y="652.2" width="23" height="11.9" fill="#56a4be"/><rect x="467" y="652.2" width="23" height="11.9" fill="#56a4be"/><rect x="489" y="652.2" width="23" height="11.9" fill="#7db9d6"/><rect x="511" y="652.2" width="23" height="11.9" fill="#7db9d6"/><rect x="533" y="652.2" width="23" height="11.9" fill="#7db9d6"/><rect x="555" y="652.2" width="23" height="11.9" fill="#7db9d6"/><rect x="577" y="652.2" width="23" height="11.9" fill="#7db9d6"/><rect x="27" y="663.2" width="23" height="11.9" fill="#7db9d6"/><rect x="49" y="663.2" width="23" height="11.9" fill="#7db9d6"/><rect x="71" y="663.2" width="23" height="11.9" fill="#7db9d6"/><rect x="93" y="663.2" width="23" height="11.9" fill="#7db9d6"/><rect x="115" y="663.2" width="23" height="11.9" fill="#7db9d6"/><rect x="137" y="663.2" width="23" height="11.9" fill="#7db9d6"/><rect x="159" y="663.2" width="23" height="11.9" fill="#7db9d6"/><rect x="181" y="663.2" width="23" height="11.9" fill="#acd0e4"/><rect x="203" y="663.2" width="23" height="11.9" fill="#acd0e4"/><rect x="225" y="663.2" width="23" height="11.9" fill="#acd0e4"/><rect x="247" y="663.2" width="23" height="11.9" fill="#acd0e4"/><rect x="269" y="663.2" width="23" height="11.9" fill="#acd0e4"/><rect x="291" y="663.2" width="23" height="11.9" fill="#acd0e4"/><rect x="313" y="663.2" width="23" height="11.9" fill="#56a4be"/><rect x="335" y="663.2" width="23" height="11.9" fill="#56a4be"/><rect x="357" y="663.2" width="23" height="11.9" fill="#56a4be"/><rect x="379" y="663.2" width="23" height="11.9" fill="#acd0e4"/><rect x="401" y="663.2" width="23" height="11.9" fill="#acd0e4"/><rect x="423" y="663.2" width="23" height="11.9" fill="#7db9d6"/><rect x="445" y="663.2" width="23" height="11.9" fill="#56a4be"/><rect x="467" y="663.2" width="23" height="11.9" fill="#56a4be"/><rect x="489" y="663.2" width="23" height="11.9" fill="#7db9d6"/><rect x="511" y="663.2" width="23" height="11.9" fill="#7db9d6"/><rect x="533" y="663.2" width="23" height="11.9" fill="#7db9d6"/><rect x="555" y="663.2" width="23" height="11.9" fill="#7db9d6"/><rect x="577" y="663.2" width="23" height="11.9" fill="#7db9d6"/><rect x="27" y="674.1" width="23" height="11.9" fill="#acd0e4"/><rect x="49" y="674.1" width="23" height="11.9" fill="#acd0e4"/><rect x="71" y="674.1" width="23" height="11.9" fill="#acd0e4"/><rect x="93" y="674.1" width="23" height="11.9" fill="#acd0e4"/><rect x="115" y="674.1" width="23" height="11.9" fill="#acd0e4"/><rect x="137" y="674.1" width="23" height="11.9" fill="#acd0e4"/><rect x="159" y="674.1" width="23" height="11.9" fill="#acd0e4"/><rect x="181" y="674.1" width="23" height="11.9" fill="#acd0e4"/><rect x="203" y="674.1" width="23" height="11.9" fill="#acd0e4"/><rect x="225" y="674.1" width="23" height="11.9" fill="#acd0e4"/><rect x="247" y="674.1" width="23" height="11.9" fill="#dee6f2"/><rect x="269" y="674.1" width="23" height="11.9" fill="#dee6f2"/><rect x="291" y="674.1" width="23" height="11.9" fill="#acd0e4"/><rect x="313" y="674.1" width="23" height="11.9" fill="#56a4be"/><rect x="335" y="674.1" width="23" height="11.9" fill="#7db9d6"/><rect x="357" y="674.1" width="23" height="11.9" fill="#acd0e4"/><rect x="379" y="674.1" width="23" height="11.9" fill="#acd0e4"/><rect x="401" y="674.1" width="23" height="11.9" fill="#7db9d6"/><rect x="423" y="674.1" width="23" height="11.9" fill="#7db9d6"/><rect x="445" y="674.1" width="23" height="11.9" fill="#7db9d6"/><rect x="467" y="674.1" width="23" height="11.9" fill="#7db9d6"/><rect x="489" y="674.1" width="23" height="11.9" fill="#7db9d6"/><rect x="511" y="674.1" width="23" height="11.9" fill="#7db9d6"/><rect x="533" y="674.1" width="23" height="11.9" fill="#7db9d6"/><rect x="555" y="674.1" width="23" height="11.9" fill="#7db9d6"/><rect x="577" y="674.1" width="23" height="11.9" fill="#7db9d6"/><rect x="27" y="685.1" width="23" height="11.9" fill="#acd0e4"/><rect x="49" y="685.1" width="23" height="11.9" fill="#acd0e4"/><rect x="71" y="685.1" width="23" height="11.9" fill="#acd0e4"/><rect x="93" y="685.1" width="23" height="11.9" fill="#acd0e4"/><rect x="115" y="685.1" width="23" height="11.9" fill="#acd0e4"/><rect x="137" y="685.1" width="23" height="11.9" fill="#acd0e4"/><rect x="159" y="685.1" width="23" height="11.9" fill="#acd0e4"/><rect x="181" y="685.1" width="23" height="11.9" fill="#acd0e4"/><rect x="203" y="685.1" width="23" height="11.9" fill="#acd0e4"/><rect x="225" y="685.1" width="23" height="11.9" fill="#acd0e4"/><rect x="247" y="685.1" width="23" height="11.9" fill="#dee6f2"/><rect x="269" y="685.1" width="23" height="11.9" fill="#dee6f2"/><rect x="291" y="685.1" width="23" height="11.9" fill="#acd0e4"/><rect x="313" y="685.1" width="23" height="11.9" fill="#7db9d6"/><rect x="335" y="685.1" width="23" height="11.9" fill="#acd0e4"/><rect x="357" y="685.1" width="23" height="11.9" fill="#acd0e4"/><rect x="379" y="685.1" width="23" height="11.9" fill="#acd0e4"/><rect x="401" y="685.1" width="23" height="11.9" fill="#7db9d6"/><rect x="423" y="685.1" width="23" height="11.9" fill="#7db9d6"/><rect x="445" y="685.1" width="23" height="11.9" fill="#7db9d6"/><rect x="467" y="685.1" width="23" height="11.9" fill="#7db9d6"/><rect x="489" y="685.1" width="23" height="11.9" fill="#7db9d6"/><rect x="511" y="685.1" width="23" height="11.9" fill="#7db9d6"/><rect x="533" y="685.1" width="23" height="11.9" fill="#7db9d6"/><rect x="555" y="685.1" width="23" height="11.9" fill="#7db9d6"/><rect x="577" y="685.1" width="23" height="11.9" fill="#7db9d6"/></g>
<g filter="url(#bl3)" opacity="0.9"><path d="M160.0,465.0 L190.0,463.0 L190.0,475.0 L160.0,477.0 Z" fill="#3d8e72" stroke="#3d8e72" stroke-width="7" stroke-linejoin="round"/><path d="M195.0,470.0 L225.0,468.0 L222.0,485.0 L200.0,490.0 Z" fill="#3d8e72" stroke="#3d8e72" stroke-width="7" stroke-linejoin="round"/><path d="M500.0,460.0 L520.0,458.0 L522.0,466.0 L502.0,468.0 Z" fill="#3d8e72" stroke="#3d8e72" stroke-width="7" stroke-linejoin="round"/><path d="M530.0,470.0 L560.0,465.0 L562.0,472.0 L532.0,476.0 Z" fill="#3d8e72" stroke="#3d8e72" stroke-width="7" stroke-linejoin="round"/><path d="M480.0,600.0 L500.0,598.0 L498.0,620.0 L478.0,622.0 Z" fill="#3d8e72" stroke="#3d8e72" stroke-width="7" stroke-linejoin="round"/></g><g filter="url(#bl1)"><path d="M160.0,465.0 L190.0,463.0 L190.0,475.0 L160.0,477.0 Z" fill="url(#stp)"/><path d="M195.0,470.0 L225.0,468.0 L222.0,485.0 L200.0,490.0 Z" fill="url(#stp)"/><path d="M500.0,460.0 L520.0,458.0 L522.0,466.0 L502.0,468.0 Z" fill="url(#stp)"/><path d="M530.0,470.0 L560.0,465.0 L562.0,472.0 L532.0,476.0 Z" fill="url(#stp)"/><path d="M480.0,600.0 L500.0,598.0 L498.0,620.0 L478.0,622.0 Z" fill="url(#stp)"/></g>
<path d="M111.3,654.9 L111.3,654.9 L112.5,654.2 L113.8,653.6 L115.2,653 L116.6,652.5 L118,651.9 L119.4,651.3 L120.9,650.8 L122.4,650.2 L124,649.7 L125.5,649.2 L127.2,648.7 L128.8,648.2 L130.5,647.7 L132.2,647.2 L133.9,646.7 L135.7,646.3 L137.4,645.8 L139.3,645.4 L141.1,645 L143,644.5 L144.9,644.1 L146.8,643.7 L148.7,643.3 L150.7,642.9 L152.7,642.5 L154.7,642.2 L156.7,641.8 L158.8,641.4 L160.9,641.1 L163,640.7 L165.1,640.4 L167.2,640.1 L169.4,639.7 L171.6,639.4 L173.8,639.1 L176,638.8 L178.2,638.5 L180.5,638.2 L182.8,637.9 L185,637.7 L187.4,637.4 L189.7,637.1 L192,636.9 L194.4,636.6 L196.7,636.4 L199.1,636.2 L201.5,635.9 L203.9,635.7 L206.4,635.5 L208.8,635.3 L211.3,635.1 L213.7,634.9 L216.2,634.7 L218.7,634.5 L221.2,634.3 L223.7,634.1 L226.2,634 L228.8,633.8 L231.3,633.6 L233.9,633.5 L236.4,633.3 L239,633.2 L241.6,633.1 L244.2,632.9 L246.8,632.8 L249.4,632.7 L252,632.6 L254.6,632.4 L257.3,632.3 L259.9,632.2 L262.5,632.1 L265.2,632.1 L267.8,632 L270.5,631.9 L273.2,631.8 L275.8,631.7 L278.5,631.7 L281.2,631.6 L283.9,631.6 L286.5,631.5 L289.2,631.5 L291.9,631.4 L294.6,631.4 L297.3,631.3 L300,631.3 L302.7,631.3 L305.4,631.3 L308.1,631.3 L310.8,631.3 L313.5,631.3 L316.2,631.3 L318.9,631.3 L321.6,631.3 L324.3,631.3 L327,631.3 L329.7,631.3 L332.4,631.4 L335.1,631.4 L337.8,631.5 L340.5,631.5 L343.1,631.6 L345.8,631.6 L348.5,631.7 L351.2,631.7 L353.8,631.8 L356.5,631.9 L359.2,632 L361.8,632.1 L364.5,632.1 L367.1,632.2 L369.7,632.3 L372.4,632.4 L375,632.6 L377.6,632.7 L380.2,632.8 L382.8,632.9 L385.4,633.1 L388,633.2 L390.6,633.3 L393.1,633.5 L395.7,633.6 L398.2,633.8 L400.8,634 L403.3,634.1 L405.8,634.3 L408.3,634.5 L410.8,634.7 L413.3,634.9 L415.7,635.1 L418.2,635.3 L420.6,635.5 L423.1,635.7 L425.5,635.9 L427.9,636.2 L430.3,636.4 L432.6,636.6 L435,636.9 L437.3,637.1 L439.6,637.4 L442,637.7 L444.2,637.9 L446.5,638.2 L448.8,638.5 L451,638.8 L453.2,639.1 L455.4,639.4 L457.6,639.7 L459.8,640.1 L461.9,640.4 L464,640.7 L466.1,641.1 L468.2,641.4 L470.3,641.8 L472.3,642.2 L474.3,642.5 L476.3,642.9 L478.3,643.3 L480.2,643.7 L482.1,644.1 L484,644.5 L485.9,645 L487.7,645.4 L489.6,645.8 L491.3,646.3 L493.1,646.7 L494.8,647.2 L496.5,647.7 L498.2,648.2 L499.8,648.7 L501.5,649.2 L503,649.7 L504.6,650.2 L506.1,650.8 L507.6,651.3 L509,651.9 L510.4,652.5 L511.8,653 L513.2,653.6 L514.5,654.2 M27.5,554.3 L27.5,554.3 L30,554.3 L32.5,554.3 L35.1,554.3 L37.7,554.3 L40.2,554.3 L42.9,554.3 L45.5,554.3 L48.1,554.3 L50.8,554.3 L53.5,554.3 L56.2,554.3 L59,554.3 L61.7,554.3 L64.5,554.3 L67.3,554.3 L70.1,554.3 L72.9,554.3 L75.8,554.3 L78.6,554.3 L81.5,554.3 L84.4,554.3 L87.3,554.3 L90.3,554.3 L93.2,554.3 L96.2,554.3 L99.2,554.3 L102.2,554.3 L105.2,554.3 L108.2,554.3 L111.3,554.3 L114.3,554.3 L117.4,554.3 L120.5,554.3 L123.6,554.3 L126.7,554.3 L129.9,554.3 L133,554.3 L136.2,554.3 L139.4,554.3 L142.6,554.3 L145.8,554.3 L149,554.3 L152.2,554.3 L155.5,554.3 L158.7,554.3 L162,554.3 L165.3,554.3 L168.6,554.3 L171.9,554.3 L175.2,554.3 L178.5,554.3 L181.8,554.3 L185.2,554.3 L188.5,554.3 L191.9,554.3 L195.2,554.3 L198.6,554.3 L202,554.3 L205.4,554.3 L208.8,554.3 L212.2,554.3 L215.7,554.3 L219.1,554.3 L222.5,554.3 L226,554.3 L229.4,554.3 L232.9,554.3 L236.3,554.3 L239.8,554.3 L243.3,554.3 L246.7,554.3 L250.2,554.3 L253.7,554.3 L257.2,554.3 L260.7,554.3 L264.2,554.3 L267.7,554.3 L271.2,554.3 L274.7,554.3 L278.3,554.3 L281.8,554.3 L285.3,554.3 L288.8,554.3 L292.3,554.3 L295.9,554.3 L299.4,554.3 L302.9,554.3 L306.4,554.3 L310,554.3 L313.5,554.3 L317,554.3 L320.6,554.3 L324.1,554.3 L327.6,554.3 L331.1,554.3 L334.7,554.3 L338.2,554.3 L341.7,554.3 L345.2,554.3 L348.8,554.3 L352.3,554.3 L355.8,554.3 L359.3,554.3 L362.8,554.3 L366.3,554.3 L369.8,554.3 L373.3,554.3 L376.8,554.3 L380.3,554.3 L383.7,554.3 L387.2,554.3 L390.7,554.3 L394.1,554.3 L397.6,554.3 L401,554.3 L404.5,554.3 L407.9,554.3 L411.4,554.3 L414.8,554.3 L418.2,554.3 L421.6,554.3 L425,554.3 L428.4,554.3 L431.8,554.3 L435.1,554.3 L438.5,554.3 L441.8,554.3 L445.2,554.3 L448.5,554.3 L451.8,554.3 L455.1,554.3 L458.4,554.3 L461.7,554.3 L465,554.3 L468.3,554.3 L471.5,554.3 L474.8,554.3 L478,554.3 L481.2,554.3 L484.4,554.3 L487.6,554.3 L490.8,554.3 L494,554.3 L497.1,554.3 L500.3,554.3 L503.4,554.3 L506.5,554.3 L509.6,554.3 L512.7,554.3 L515.7,554.3 L518.8,554.3 L521.8,554.3 L524.8,554.3 L527.8,554.3 L530.8,554.3 L533.8,554.3 L536.7,554.3 L539.7,554.3 L542.6,554.3 L545.5,554.3 L548.4,554.3 L551.2,554.3 L554.1,554.3 L556.9,554.3 L559.7,554.3 L562.5,554.3 L565.3,554.3 L568,554.3 L570.8,554.3 L573.5,554.3 L576.2,554.3 L578.9,554.3 L581.5,554.3 L584.1,554.3 L586.8,554.3 L589.3,554.3 L591.9,554.3 L594.5,554.3 L597,554.3 M111.3,453.7 L111.3,453.7 L112.5,454.4 L113.8,455 L115.2,455.6 L116.6,456.1 L118,456.7 L119.4,457.3 L120.9,457.8 L122.4,458.4 L124,458.9 L125.5,459.4 L127.2,459.9 L128.8,460.4 L130.5,460.9 L132.2,461.4 L133.9,461.9 L135.7,462.3 L137.4,462.8 L139.3,463.2 L141.1,463.6 L143,464.1 L144.9,464.5 L146.8,464.9 L148.7,465.3 L150.7,465.7 L152.7,466.1 L154.7,466.4 L156.7,466.8 L158.8,467.2 L160.9,467.5 L163,467.9 L165.1,468.2 L167.2,468.5 L169.4,468.9 L171.6,469.2 L173.8,469.5 L176,469.8 L178.2,470.1 L180.5,470.4 L182.8,470.7 L185,470.9 L187.4,471.2 L189.7,471.5 L192,471.7 L194.4,472 L196.7,472.2 L199.1,472.4 L201.5,472.7 L203.9,472.9 L206.4,473.1 L208.8,473.3 L211.3,473.5 L213.7,473.7 L216.2,473.9 L218.7,474.1 L221.2,474.3 L223.7,474.5 L226.2,474.6 L228.8,474.8 L231.3,475 L233.9,475.1 L236.4,475.3 L239,475.4 L241.6,475.5 L244.2,475.7 L246.8,475.8 L249.4,475.9 L252,476 L254.6,476.2 L257.3,476.3 L259.9,476.4 L262.5,476.5 L265.2,476.5 L267.8,476.6 L270.5,476.7 L273.2,476.8 L275.8,476.9 L278.5,476.9 L281.2,477 L283.9,477 L286.5,477.1 L289.2,477.1 L291.9,477.2 L294.6,477.2 L297.3,477.3 L300,477.3 L302.7,477.3 L305.4,477.3 L308.1,477.3 L310.8,477.3 L313.5,477.3 L316.2,477.3 L318.9,477.3 L321.6,477.3 L324.3,477.3 L327,477.3 L329.7,477.3 L332.4,477.2 L335.1,477.2 L337.8,477.1 L340.5,477.1 L343.1,477 L345.8,477 L348.5,476.9 L351.2,476.9 L353.8,476.8 L356.5,476.7 L359.2,476.6 L361.8,476.5 L364.5,476.5 L367.1,476.4 L369.7,476.3 L372.4,476.2 L375,476 L377.6,475.9 L380.2,475.8 L382.8,475.7 L385.4,475.5 L388,475.4 L390.6,475.3 L393.1,475.1 L395.7,475 L398.2,474.8 L400.8,474.6 L403.3,474.5 L405.8,474.3 L408.3,474.1 L410.8,473.9 L413.3,473.7 L415.7,473.5 L418.2,473.3 L420.6,473.1 L423.1,472.9 L425.5,472.7 L427.9,472.4 L430.3,472.2 L432.6,472 L435,471.7 L437.3,471.5 L439.6,471.2 L442,470.9 L444.2,470.7 L446.5,470.4 L448.8,470.1 L451,469.8 L453.2,469.5 L455.4,469.2 L457.6,468.9 L459.8,468.5 L461.9,468.2 L464,467.9 L466.1,467.5 L468.2,467.2 L470.3,466.8 L472.3,466.4 L474.3,466.1 L476.3,465.7 L478.3,465.3 L480.2,464.9 L482.1,464.5 L484,464.1 L485.9,463.6 L487.7,463.2 L489.6,462.8 L491.3,462.3 L493.1,461.9 L494.8,461.4 L496.5,460.9 L498.2,460.4 L499.8,459.9 L501.5,459.4 L503,458.9 L504.6,458.4 L506.1,457.8 L507.6,457.3 L509,456.7 L510.4,456.1 L511.8,455.6 L513.2,455 L514.5,454.4 M313.5,696.5 L306.5,694.7 L299.7,692.8 L293.1,690.8 L286.6,688.7 L280.4,686.5 L274.2,684.2 L268.3,681.8 L262.5,679.3 L256.9,676.8 L251.4,674.2 L246.1,671.5 L241,668.8 L236,666 L231.2,663.1 L226.6,660.2 L222.1,657.2 L217.8,654.1 L213.6,651 L209.6,647.8 L205.7,644.6 L202,641.4 L198.5,638.1 L195.1,634.7 L191.8,631.3 L188.7,627.9 L185.8,624.5 L183,621 L180.4,617.4 L177.9,613.9 L175.6,610.3 L173.4,606.7 L171.4,603 L169.5,599.4 L167.8,595.7 L166.2,592 L164.8,588.3 L163.5,584.5 L162.4,580.8 L161.4,577 L160.6,573.3 L159.9,569.5 L159.4,565.7 L159,561.9 L158.8,558.1 L158.7,554.3 L158.8,550.5 L159,546.7 L159.4,542.9 L159.9,539.1 L160.6,535.3 L161.4,531.6 L162.4,527.8 L163.5,524.1 L164.8,520.3 L166.2,516.6 L167.8,512.9 L169.5,509.2 L171.4,505.6 L173.4,501.9 L175.6,498.3 L177.9,494.7 L180.4,491.2 L183,487.6 L185.8,484.1 L188.7,480.7 L191.8,477.3 L195.1,473.9 L198.5,470.5 L202,467.2 L205.7,464 L209.6,460.8 L213.6,457.6 L217.8,454.5 L222.1,451.4 L226.6,448.4 L231.2,445.5 L236,442.6 L241,439.8 L246.1,437.1 L251.4,434.4 L256.9,431.8 L262.5,429.3 L268.3,426.8 L274.2,424.4 L280.4,422.1 L286.6,419.9 L293.1,417.8 L299.7,415.8 L306.5,413.9 L313.5,412.1 M313.5,696.5 L313.5,694 L313.5,691.5 L313.5,688.9 L313.5,686.2 L313.5,683.6 L313.5,680.9 L313.5,678.1 L313.5,675.3 L313.5,672.5 L313.5,669.6 L313.5,666.8 L313.5,663.8 L313.5,660.9 L313.5,657.9 L313.5,654.9 L313.5,651.8 L313.5,648.7 L313.5,645.6 L313.5,642.5 L313.5,639.3 L313.5,636.1 L313.5,632.9 L313.5,629.6 L313.5,626.4 L313.5,623.1 L313.5,619.8 L313.5,616.4 L313.5,613.1 L313.5,609.7 L313.5,606.3 L313.5,603 L313.5,599.5 L313.5,596.1 L313.5,592.7 L313.5,589.2 L313.5,585.8 L313.5,582.3 L313.5,578.8 L313.5,575.3 L313.5,571.8 L313.5,568.3 L313.5,564.8 L313.5,561.3 L313.5,557.8 L313.5,554.3 L313.5,550.8 L313.5,547.3 L313.5,543.8 L313.5,540.3 L313.5,536.8 L313.5,533.3 L313.5,529.8 L313.5,526.3 L313.5,522.8 L313.5,519.4 L313.5,515.9 L313.5,512.5 L313.5,509.1 L313.5,505.6 L313.5,502.3 L313.5,498.9 L313.5,495.5 L313.5,492.2 L313.5,488.8 L313.5,485.5 L313.5,482.2 L313.5,479 L313.5,475.7 L313.5,472.5 L313.5,469.3 L313.5,466.1 L313.5,463 L313.5,459.9 L313.5,456.8 L313.5,453.7 L313.5,450.7 L313.5,447.7 L313.5,444.8 L313.5,441.8 L313.5,439 L313.5,436.1 L313.5,433.3 L313.5,430.5 L313.5,427.7 L313.5,425 L313.5,422.4 L313.5,419.7 L313.5,417.1 L313.5,414.6 L313.5,412.1 M313.5,696.5 L320.5,694.7 L327.3,692.8 L333.9,690.8 L340.4,688.7 L346.6,686.5 L352.8,684.2 L358.7,681.8 L364.5,679.3 L370.1,676.8 L375.6,674.2 L380.9,671.5 L386,668.8 L391,666 L395.8,663.1 L400.4,660.2 L404.9,657.2 L409.2,654.1 L413.4,651 L417.4,647.8 L421.3,644.6 L425,641.4 L428.5,638.1 L431.9,634.7 L435.2,631.3 L438.3,627.9 L441.2,624.5 L444,621 L446.6,617.4 L449.1,613.9 L451.4,610.3 L453.6,606.7 L455.6,603 L457.5,599.4 L459.2,595.7 L460.8,592 L462.2,588.3 L463.5,584.5 L464.6,580.8 L465.6,577 L466.4,573.3 L467.1,569.5 L467.6,565.7 L468,561.9 L468.2,558.1 L468.3,554.3 L468.2,550.5 L468,546.7 L467.6,542.9 L467.1,539.1 L466.4,535.3 L465.6,531.6 L464.6,527.8 L463.5,524.1 L462.2,520.3 L460.8,516.6 L459.2,512.9 L457.5,509.2 L455.6,505.6 L453.6,501.9 L451.4,498.3 L449.1,494.7 L446.6,491.2 L444,487.6 L441.2,484.1 L438.3,480.7 L435.2,477.3 L431.9,473.9 L428.5,470.5 L425,467.2 L421.3,464 L417.4,460.8 L413.4,457.6 L409.2,454.5 L404.9,451.4 L400.4,448.4 L395.8,445.5 L391,442.6 L386,439.8 L380.9,437.1 L375.6,434.4 L370.1,431.8 L364.5,429.3 L358.7,426.8 L352.8,424.4 L346.6,422.1 L340.4,419.9 L333.9,417.8 L327.3,415.8 L320.5,413.9 L313.5,412.1" fill="none" stroke="#111" stroke-opacity="0.9" stroke-width="1.3" stroke-dasharray="4.6,2.8"/>
<path d="M540.6,472.8 L545.9,480.4 L552.6,486.8 L553.8,491.7 L556.6,499.9 L561,506.5 L564.6,510.9 L569.3,519.8 L569.2,520.6 L572,525.5 L575.6,528.8 L578.7,532.1 L581.9,536.6 L585.3,540 L589.2,543.7 L592.1,541.9 L596,542.5 M30.3,539.5 L33,538.9 L35.1,540.7 L35.8,543.9 L39.1,543.5 L40.1,546 L40.1,550.7 L39.3,555.5 L41.9,561.4 L43.8,566.1 L46.7,573.1 L49.5,580 L51.7,589.4 L54.6,595.1 L64,604.8 L73.4,614.3 L79.3,618.4 L87.3,624.1 L93.6,629 L97.1,630.2 L97.7,628.1 L100.9,627.4 L101.3,626.1 L99.3,620.6 L97.3,615.1 L93.3,610 L93.2,605.5 L89.8,600.3 L86.7,596.9 L87.3,593.9 L89,590.5 L89,585.1 L85.6,576.7 L82.5,571.4 L81.2,567.2 L81.4,563.9 L83.1,558.6 L85.9,553.2 L90.5,548 L94.8,542.8 L99.2,535.6 L101.8,530.5 L99.1,530.8 L95.1,531.7 L91.3,532.4 L90.5,529.4 L90.2,526.8 L89.1,522.4 L89,518.1 L89.9,513.8 L91.4,509.6 L92.9,506.4 L93.4,503.1 L95.4,498.9 L96.7,495.7 L100.1,490.7 L102.5,487.9 L99.7,487.6 L97,487.6 L95.4,485.4 L94.7,482.6 L87.8,486.4 L85.6,486.7 L84.7,483.9 L85.3,480.7 L84.6,479.2 L86.2,477.2 L90.3,474.8 L94,471.2 L91.5,471.2 L88.6,470.6 L85.5,470.1 M545.5,472 L544.4,473 L540.6,472.8 M99.2,579.2 L103.7,586.3 L104,589.4 L105.9,596.6 L109.8,605.8 L107.9,607.1 L101,600.3 L97.4,592 L95.9,590 L97.9,587.1 L98.4,582.4 L99.2,579.2 M100.1,490.7 L98.8,494.9 L100.3,494 L99.7,495 L97.8,499.2 L96,503.4 L94.4,508.8 L93.3,514.1 L92.6,519.5 L91.9,523.7 L91.4,527.5 L93.6,527.4 L98.8,525.2 L102.3,523.7 L106.3,522 L111.6,519.3 L115.7,516.2 L118.4,514 L121.7,511.1 L124,509.3 L123.5,507 L121.9,506 L122.9,503 L123.8,501.7 L121.8,502.9 L118.8,505.1 L115.1,505.4 L114.5,504.7 L116.4,502.4 L116.5,501.4 L114.7,502.9 L115.5,500.2 L116.3,497.1 L118.7,493.4 L120.5,492.9 L121.2,494.5 L119.8,497.9 L121,500.1 L124.6,500.1 L124.8,502.8 L129.6,504.2 L133.8,504.6 L136.8,504.4 L136.6,507.2 L136.8,510.2 L137,513.2 L141.4,512.5 L139.3,517.2 L138,523.1 L138,528 L138.3,531.9 L138.7,536.8 L140,538.8 L141.5,537 L143.7,534.4 L145.4,531.1 L146.9,527.7 L147.6,524.4 L150.4,523.2 L152.2,521.7 L155.7,519.4 L159.1,516.7 L162.2,514.9 L164.5,513.3 L166.1,513.2 L168.8,512.4 L170.8,512.5 L170.3,515.5 L171.3,517.7 L171.2,521.5 L170.6,524.3 L172.1,524.7 L175.7,523.3 L175.7,526.3 L175.5,530 L174.9,532.8 L174.4,535.6 L173.3,539 L174.5,539.7 L175.9,542.2 L176.1,544.6 L177.3,548.7 L180.5,551.5 L182.2,551.7 L181.2,547.2 L180.6,544.5 L179.4,543 L177.6,541.4 L176.7,539.4 L176.3,537 L175.8,534.1 L177.6,531 L179,529.2 L179.5,530.7 L181.7,531.7 L182.4,533.9 L184.4,534.9 L184.7,537.6 L187.4,536.8 L189.3,534.9 L192.1,533.2 L193.3,529.5 L193.2,525.8 L191.2,523 L190.5,519.7 L192.4,517 L195.4,514.9 L198.2,515 L198.6,517.2 L200.9,515.1 L204.6,513.6 L206.3,513.5 L209.7,512.7 L213,510.1 L216.2,507.9 L218.2,505.8 L221.4,503.3 L222.9,500.7 L222.3,499.2 L223.7,498.1 L223,495.4 L223,492.2 L225.7,489.9 L229.2,488.7 L227.8,487.2 L224.5,488.1 L224.8,486.2 L224.5,485 L227.8,483.6 L230.7,482.2 L232.1,482.7 L229.4,485.2 L230.6,484.7 L234.4,483.9 L235.3,484.8 L233.4,487.1 L235.1,488.1 L234.1,490.6 L232.8,493 L235.4,492.7 L237.6,492.1 L239.1,489.4 L239,486.5 L238.5,484.8 L240.5,483.7 L242.9,482.4 L245.2,479.9 L247.8,478.9 L249.5,479.6 L253,478.1 L257,475.4 L259.5,473 L262.6,470.7 L264.9,467.5 L267.5,464.4 L267.5,462.8 L265.7,461.9 L264,461.8 L262.8,460.9 L266.5,458.7 L271.7,455.8 L275.5,453.9 L278.4,454.2 L281.9,453.6 L284.4,454.8 L287.7,454.4 L290.8,451.1 L293.6,450.8 L293.9,452.3 L295.7,452 L297.8,449.8 L298.8,449.7 L296.9,452.1 L293.4,454.3 L290.6,456.5 L288.1,457.5 L286.5,460.3 L285.4,465 L284.9,467.4 L287.2,465 L290,463.8 L291,462.3 L293,461.2 L294.2,458.9 L295.5,457.4 L294.3,456.6 L296.6,453.9 L298.3,453.3 L299.7,453.9 L301.9,452.9 L303.8,453.7 L306.1,452.2 L308.2,451 L311.1,450 L312.7,450.3 L312.6,448.8 L312,447.4 L313.1,446.5 L313.9,445.8 L316.1,445.7 L317.9,446.5 L319.8,447.3 L320,445.6 L321.7,445.3 L322.1,444.7 L320.1,443.4 L318,443.3 L317.6,442.6 L315.1,441.4 L313.5,440.5 L312,439.8 L309.8,439.2 L307.6,439.1 L306.1,438.9 L305.4,440.8 L303.8,439.4 L301.6,439.2 L299.2,439.6 L299,438 L297.3,437.2 L294.4,437.4 L293,436.2 L291.1,435.1 L288.5,434.2 L285.9,435.9 L283.8,435.6 L281.3,435.6 L278.9,436.2 L279.5,434.7 L281.2,433.3 L280.8,432.5 L279.4,432.4 L277.9,433 L275.8,432.6 L276.2,431.9 L274.7,431.6 L273.3,431.9 L274.3,431 L272.5,431.1 L273.6,430.3 L276.2,429.7 L277.9,429.1 L279.1,428.2 L278.9,427.4 L277.1,427.4 L279,425.8 L276.9,426.1 L274.2,427 L271.3,427.3 L269.3,427.2 L266.8,427.4 L264,427.8 L260.8,428.9 L258.6,428.9 L256.5,429 L252.2,430.9 L251.8,430.2 L248.1,431 L251.7,429.2 L246.6,430.6 L244.2,431.9 L239,433.8 L237.2,434.2 L230.6,437 L229.5,436.7 L232,435.3 L234.1,433.7 L236.8,432.3 L240.3,431.1 L246.1,429.5 L249.9,428.4 L249.2,428.2 L241.5,430.4 L235.2,431.9 L234.4,431.3 L229.5,432.5 L227.1,432.3 L228.2,431.2 L223.3,431.8 L221.6,431.2 L222.8,430.4 L214.9,432.7 L213.9,432.3 L207.3,433.8 L204.8,434 L201.7,434.7 L203,433.5 L207.8,431.8 L210.8,431.7 L214.6,431.8 L218.3,430.3 L221.6,428.3 L221.1,427.5 L221.7,426.5 L226.5,424.8 L226.3,424.4 L223.8,424.3 L218.9,424.6 L212.8,425.2 L207.5,426 L200.3,427.2 L193.2,428.4 L186.8,429.3 L181.7,429.9 L176.4,431.2 L170.1,433.1 L165,435.1 L166.5,435.6 L171,434.9 L169.8,435.7 L162.2,438.7 L157.4,440.6 L157.7,441.2 L161.7,440.5 L167,438.7 L173.5,437 L177.9,435.9 L181.2,434.3 L187.3,432.4 L192.2,431.6 L197.1,430.8 L202.9,429.5 L203.6,429.9 L200.7,431 L195.9,431.8 L191,432.6 L185,434.5 L179.6,436.8 L182,436.9 L184.6,437.4 L183.2,438.6 L180.6,438.7 L177.7,438 L175.2,438.8 L173.8,439.7 L170,441.1 L170.5,440.1 L166.7,440.8 L161.9,442.8 L158.7,443.5 L156.4,443.8 L154.6,443.2 L152.1,443.4 L153,442.2 L150.7,442.4 L152.1,441.4 L160.1,438.6 L164.3,436.9 L161.2,437.4 L157,438.7 L155.3,439.5 L149.1,441.9 L146.7,442 L144.5,441.9 L138.6,443.7 L135.2,444.4 L131.3,445.5 L127.9,446.2 M497.8,446.2 L501.4,447.9 L500.3,449.2 L503.1,450.3 L506.5,450.6 L511.4,452.4 L516.4,454.8 L520.1,457.1 L518.2,458 L515,458.4 L516.1,460.1 L518,460.8 L524.2,464.6 L528.2,467.6 L529.7,467.9 L534.5,471.3 L535.2,470.5 L537.3,470.9 L540.2,472.3 M540.1,472.1 L539.1,470.6 L540.9,469.7 L537.9,466.5 M98.2,461.3 L102.9,460.3 L106.4,458.3 L108.8,458 L109.2,459.1 L112.2,458.1 L115.1,457.4 L114.5,458.7 L111.5,460.6 L109.9,462.6 L108.7,464.5 L107,466.8 L107,467.3 L104.1,469.5 L101.4,471.1 L101.8,471.2 L105.1,469.8 L107.8,467.6 L109.7,466.8 L110,467.7 L110.7,466.8 L112.3,464.3 L113.6,461.9 L117,459 L120.3,457 L122.9,456.5 L121.9,457.6 L118.9,460 L117.4,462.3 L115.5,465 L111.8,467.4 L109.4,469.4 L107.6,471.5 L104.2,474.5 L103.9,475.7 L106.9,473.9 L109.3,471.9 L109.7,472.8 L112,470 L114.9,468.2 L117.4,467.9 L119,468.3 L116.8,470 L114.5,471.4 L113.1,473.1 L111,474.8 L109.9,476.5 L110.4,477.9 L112.2,477.3 L112.8,478.3 L116.9,477.7 L118,478.4 L116,479.9 L112.8,482.3 L109.2,485.1 L105.6,487.7 L102.9,488.4 L102.5,487.9 M122.3,467.6 L128.3,464.1 L131.1,462.4 L136.2,460.5 L139.3,459.3 L139.4,460.1 L138.4,461.8 L137,461.9 L135.6,463.5 L137.8,463.3 L140.3,463 L146.1,460.6 L148.1,460.1 L143.9,461.9 L140.1,463.9 L138.5,466.6 L135.4,470.5 L132.7,471.1 L130.6,470.7 L130.2,468.3 L128.1,468 L124.3,468.8 L122.4,468.4 L122.3,467.6 M148.4,466.4 L151.7,464.6 L155.5,463.1 L156.7,463.3 L159.2,463 L160.7,463.2 L158.7,464.6 L154.7,466 L152,467.5 L150.2,470.4 L146.9,473 L147.1,473.9 L144.1,475.4 L143.2,476.7 L139.6,480.4 L135.8,480.9 L135.3,479.6 L135.5,478.3 L137.3,476.6 L140.5,474.4 L141.9,474.4 L142.3,472.9 L143.4,470.9 L145.2,469.1 L148.4,466.4 M494.6,446.9 L494.2,445.6 M134.6,444 L141,441.7 L143.4,440 M479.4,438.7 L474.4,437.4 L470.6,436.3 L466.1,434.7 L461.5,433.7 L460.7,434.3 L464.8,436 L469.9,437.5 L475.4,439.2 L477.1,439 L482.1,441 L482.7,441.8 L486.4,443 L488.6,444.3 L490.2,444.2 L494.6,446.9 M485.8,443.7 L479.6,441.3 L475.8,439.7 L473.4,439.7 L475.7,440.9 L478.7,442.8 L485.1,445.4 L487,445.2 L485.8,443.7 M431.7,431.5 L425.6,429.7 L424.4,430 L421.8,428.7 L424.1,428.1 L425.2,427.4 L430.5,428.6 L432.7,429.5 L435.6,431.5 L431.7,431.5 M144.4,535.4 L145.6,536.4 L146.6,539.8 L146.1,542 L143.8,542.7 L143.4,539.8 L144.4,535.4 M219,508.9 L219.6,509.4 L216.4,514.7 L215.5,513.2 L217,510.2 L219,508.9 M198,517.6 L199.1,518.3 L197.5,520.7 L195.8,521 L194.8,520 L195.9,518.1 L198,517.6 M236.1,498.5 L237.5,498.9 L239.3,496 L241.2,495.2 L241.6,496.1 L244.3,494.8 L244.9,495.3 L246.1,495.4 L248.4,493.7 L250.9,493.4 L253,493 L254.9,491.8 L255.8,489.7 L256.7,487.5 L258.5,486 L259.2,484.7 L259,482.5 L257.2,483.3 L256.1,484.9 L254.5,487.6 L252.5,488.9 L250,489.8 L248.8,490.8 L246.9,491.9 L243.2,492 L240.4,493.4 L239.2,493.7 L236.9,495.2 L236.1,498.5 M257.4,482.1 L259.2,481.7 L262.3,481.4 L266.1,479.4 L265.2,478.2 L262.8,475.8 L260.9,478.1 L259,479.2 L257.4,482.1 M263.2,474.8 L265.6,474.1 L266.8,470 L269,469.3 L269.3,465.3 L270.8,461.6 L269.2,462.9 L267.3,466.8 L264.6,471.6 L263.2,474.8 M214,520.9 L216.6,520.9 L215.7,523.6 L214.2,526.3 L214.6,529 L217.7,530 L217.4,531.7 L215.9,530.8 L213.6,529.9 L212.3,528.4 L212.3,525.4 L214,520.9 M212.8,541.6 L215.5,540.2 L218.3,538.1 L220.7,539 L220.2,542.6 L218.6,543.8 L216.1,542.6 L212.8,541.6 M215.3,534.4 L218.7,534.5 L220,531.8 L218.3,531.8 L215.3,534.4 M190.2,551.5 L191.9,555.2 L192.8,559.4 L195.4,560.4 L199.7,561.2 L202.2,561.1 L202.9,557 L204.6,553.4 L205.4,552.7 L205.1,550.7 L206.5,546.1 L207.5,544.7 L204.7,541.5 L202.9,543 L201.1,545.3 L198.9,546.6 L197.1,548.6 L194.2,549.7 L191.9,551 L190.2,551.5 M167.9,544 L171.5,544.6 L175.7,550.2 L177.7,551.3 L180.2,553.4 L182.7,557.1 L185.3,560.2 L185.3,565 L183.2,565.2 L178.7,561.7 L175.7,556.2 L173.5,552.4 L172,549.6 L169.6,547.4 L167.9,544 M184.5,566.9 L186.5,565.4 L190,566.1 L193.4,567 L196.7,566.9 L200.3,568.4 L200.5,570.2 L196.2,569.5 L191.1,568.7 L186.8,567.8 L184.5,566.9 M208.3,564.3 L210,564.3 L209.6,559.7 L210.6,558.8 L213.4,563 L214.5,562.4 L211.4,557.7 L213.9,555.9 L210.9,555.2 L208.8,553.4 L209.7,552.5 L216.5,552.5 L217.4,551.6 L215.7,553.4 L209.7,553.8 L208.3,556.1 L207.6,560.7 L208.3,564.3 M216.6,571.1 L218.2,569.6 L221.6,569.6 L218.4,571.4 L216.8,572.7 L216.6,571.1 M202.1,569.8 L203.8,569.4 L208,569.6 L211.4,569.3 L214.4,569.3 L211.5,570.4 L206.4,570.5 L203.1,570.7 L202.1,569.8 M221.7,551.6 L222.6,550.3 L223.7,552.1 L222.5,553.4 L223.4,555.7 L222.2,555.2 L221.7,551.6 M227.7,556.1 L230.3,555.2 L233.2,556.1 L234.7,560.2 L238.9,557 L245.1,558.9 L252.1,562.3 L253.9,564.1 L256.6,564.9 L256.2,567.6 L258.6,570.2 L261.3,572.3 L260.5,572.9 L256.1,572 L252.4,568.5 L250,570.3 L248.3,570.8 L245.7,570.5 L242.1,568.7 L240.4,569.3 L239.5,563.6 L234.8,562.2 L231.3,561.5 L229.5,559.3 L227.7,556.1 M260.9,564 L264.3,561.7 L265.2,562.8 L263.5,564.9 L260.9,565.3 L258.3,564.2 L260.9,564 M269.6,564.9 L271.4,566.3 L273.3,568.4 L276.8,569.3 L279.5,571 L281.3,572.8 L277.8,571.9 L274.2,569.3 L269.6,564.9 M204.4,594.3 L207.8,601.4 L212.3,608.4 L215.8,615.3 L220.3,616.9 L223.1,615 L228.1,614.6 L230.6,611.7 L234.6,610.3 L238.4,610 L243,612.1 L246.5,615.5 L248.4,612.3 L250.5,617.1 L253,617 L255.8,620.6 L260.6,621.8 L264.3,622.1 L266.5,620 L269.3,619.4 L269.2,616.1 L269.8,612.7 L271.2,608.4 L271.1,603.3 L269.5,599 L265.7,595.6 L262.9,593.5 L260.8,590.4 L256.7,587.8 L254.7,583.5 L254,580.5 L250.8,579.1 L248.5,573.3 L247.6,576.9 L247.6,580.9 L246.6,585.3 L243.9,584.5 L241.1,582.8 L238.3,581 L239,576.2 L236,576.1 L231.5,574.9 L229.2,576.2 L227.3,580.8 L224.9,581.2 L221.2,579.5 L219.4,583.1 L216.5,585 L215.7,588.6 L212.1,590.5 L208.4,591.8 L205.9,593.9 L204.4,594.3 M263.9,625.1 L266.2,625.5 L268.6,625.1 L269.3,628.6 L268.2,629.5 L265.9,628.7 L263.9,625.1 M302.4,614 L305.2,616.5 L306.8,619 L311.3,619.3 L309.9,621.4 L308.9,623.1 L306.4,625.6 L306,625.1 L306.3,622.9 L304.8,622.3 L305.7,619.8 L302.9,615.3 L302.4,614 M303.1,623.9 L305.3,625.2 L304.5,628 L303.5,629.3 L301.5,630.5 L300.9,632.9 L299,633.9 L295.5,633 L296,631.4 L297.8,629.7 L300.3,628.1 L302.2,625.6 L303.1,623.9 M290,590.1 L291.8,591.9 L292.7,593.2 L291,592.7 L288.4,591 L286.6,589.6 L290,590.1 M309.2,584.9 L310.9,585.4 L310.1,586.3 L308.9,585.8 L309.2,584.9 M323.9,445.3 L326.1,446.9 L330.5,446.8 L331.3,449 L328,449.1 L327.2,451.4 L328.6,453.2 L331.9,453.8 L333,455.7 L337.5,455.1 L337.2,457.3 L334.7,459.7 L331.3,461.9 L334,461.2 L337,459.9 L339.7,458 L340.9,455.6 L341,453.6 L343,454.4 L343.5,452.4 L345.9,453.1 L347.2,451.8 L349.9,452.9 L353.1,453.1 L356.4,454.2 L358.6,455.1 L360.9,456.8 L364.3,458.5 L367.5,460.8 L369.8,460.6 L371.5,462.2 L374.3,463.6 L377.1,465.9 L380.6,467.4 L383.6,468.9 L385.7,470.1 L383.9,470.2 L386.9,473.8 L389.5,477.9 L390.6,480.4 L392.5,482.9 L395,486.2 L397.3,487.8 L399.2,489.5 L402.6,492.6 L406.1,493.5 L408.8,495.2 L412.8,499.4 L416.3,502.9 L420,504.5 L425.6,510.6 L428.2,512 L426.2,510.2 L423.4,507.1 L419.3,503.1 L415.3,499.9 L413.6,497.4 L416.7,498 L420,501.8 L423.5,504.4 L425.8,506.1 L429.1,508.3 L433.8,512.1 L435.9,514.8 L436.2,517 L438.7,519.3 L443.4,521.3 L447.1,522.9 L451.7,524.6 L455.5,523.9 L459,525.1 L463,527.9 L467.4,529.2 L469.1,529.6 L472.1,532 L472.9,533.3 L473.6,535.2 L476.4,537 L479.1,538.5 L481.7,539.8 L483.3,540.2 L483.6,537.3 L486.2,538.2 L487,537.4 L484.1,535.9 L481.9,536.9 L480.4,537.3 L477.6,535.1 L476,532.8 L475.7,530.3 L474.6,525.6 L472.2,524.1 L469.8,523.8 L466.8,524.3 L465.5,523 L465,520.2 L465,517.4 L464.2,513.6 L462,513.9 L459.6,514.8 L460.4,517.6 L459.5,519.5 L455.8,520.2 L453.1,519.2 L450.8,517.4 L448.1,514.3 L445.7,509.8 L443.8,504.3 L444.3,501.5 L446.1,499.4 L449,499.2 L452.3,499.7 L451.9,497.9 L454.6,497.5 L457.8,497.9 L460,497.7 L463.4,500.3 L465.6,503.1 L469.1,505.7 L470.6,506 L469.4,503.2 L466.6,500.1 L463.4,496.9 L461.9,494.2 L462.3,491.8 L462.8,488.9 L463.6,486.9 L460.9,484.2 L459.9,482.4 L458.5,479.6 L457.4,477.8 L458.8,476.7 L459.5,475.4 L457.7,473.8 L456.1,472.7 L456.4,471 L457,469.4 L458.6,468.1 L459.8,470.6 L460.9,469.4 L461.3,467.3 L459.5,465.5 L455.9,466.1 L450.8,462.8 L447.6,461.9 L447.9,465.3 L446.7,463.5 L446.9,461.9 L446.7,460.1 L451.5,459.2 L450.4,456.7 L449.1,454.8 L446.3,453.2 L441.4,452.1 L437.3,450.8 L433.3,449.6 L430.1,448.2 L424.2,446.3 L420.1,444.5 L423.1,446.5 L423.4,447.9 L420.9,447.3 L415.4,445 L414.1,444.1 L411.1,443.9 L407.4,443 L404.2,443.2 L408.3,445.7 L413.4,448.3 L418,450.4 L421.5,452.7 L421.8,454.6 L427.1,458.6 L426.7,459.6 L423.2,458.4 L416.2,455 L411.8,454.3 L407.1,453 L403.7,452.5 L398.7,450.5 L394.3,447.5 L393.3,445.5 L391.8,443.4 L392,442.1 L391,441.2 L388.8,439.4 L385.6,437.7 L380.5,436 L379.6,436.4 L375.2,434.8 L374.8,435.4 L375.7,437 L371.9,435.8 L374,438.5 L371.5,438.4 L368.1,437.9 L368,438.9 L364.1,438.5 L362,438.1 L358.7,436.9 L356.7,437.7 L354.6,437.9 L352.4,437.3 L350.3,437.5 L349.3,438.3 L347.5,438.5 L346.9,439.4 L344.7,439.1 L342.3,438.5 L340,438.1 L337.4,438.1 L335,437.7 L333.3,437.4 L329.8,436.8 L328.4,437.6 L326.6,438.5 L325.9,439.5 L324.3,440.4 L326.2,441.7 L327.1,443 L329,443.8 L326.5,443.9 L325.4,444.5 L323.9,445.3 M356.8,422.5 L350.9,420.1 L346.8,418.1 L347.2,416.7 L344.3,415 L352.2,415.2 L361.9,416.1 L375.8,418.2 L384.8,419.9 L395.6,422.4 L404.4,424.3 L409.9,426.4 L411.9,428.6 L418.9,432.2 L419.7,433.8 L427.7,437.5 L435.2,441.3 L429.3,440.6 L421.3,438.2 L415.3,436.5 L407.5,434.1 L400.2,431.7 L395.7,429.6 L389.1,428.2 L383.7,426.9 L375.5,425 L369.4,424.2 L366.6,424.6 L362.8,424 L356.8,422.5 M402.8,435.4 L406.8,437.7 L413.2,441.4 L410.2,441.4 L404.6,440.2 L398.9,438.4 L395,436.3 L389.6,435.4 L382.7,433 L379.3,432.8 L374.2,431.9 L368.4,430.7 L368.4,429.4 L374.8,429.9 L380.4,430.6 L385.4,431.4 L390,432.4 L395.1,434.2 L400.9,434.9 L402.8,435.4 M370.5,436.9 L367.9,437.2 L365.4,437.7 L361.3,437.4 L358.1,436.8 L358.4,435.1 L353,433.4 L355.3,432.6 L357.6,432.3 L359.8,432 L365.2,434.3 L370.5,436.9 M363.1,424.9 L362.2,425.7 L357.6,426.1 L352.8,424.4 L347.2,422 L341,418.9 L342,417.6 L346.5,418.3 L352.3,420.8 L354.5,422.2 L363.1,424.9 M353.7,434.9 L350,434.8 L345.8,431.8 L348.3,431.1 L352.1,431.9 L353.7,434.9 M367.6,427.7 L364,428.5 L357.9,427 L358.1,426 L361.5,425.7 L367.6,427.7 M363.7,431.1 L362.1,431.4 L355.2,428.3 L357.5,427.9 L362.5,429.6 L363.7,431.1 M352.1,427.9 L349.9,429 L345.8,428.3 L345.5,426 L348.3,426 L352.1,427.9 M467,512.9 L467.6,511 L470.2,510.1 L473.3,510.1 L478.2,512.3 L481.9,513.6 L484.5,514.9 L482.9,515.7 L479.9,515.9 L476.9,512.8 L472.8,512.2 L470.9,513.1 L467.9,513.2 L467,512.9 M485.7,518.5 L487.4,515.5 L491.2,515.7 L494.4,517.7 L492.6,518.6 L490.8,519.8 L488.1,518.8 L485.7,518.5 M480,519 L483.1,519 L482.6,519.7 L480,519 M496.4,517.8 L499,518 L496.9,518.7 L496.4,517.8 M487,537.4 L488.9,536 L489.2,533.8 L491.1,532.2 L493.8,530.7 L495.1,532.7 L494.9,533.7 L496.6,535.4 L495.2,532.9 L496.9,530.4 L500,533.3 L503.8,533.2 L506.8,533.1 L509.8,532.8 L512.1,536.1 L514.8,537.7 L518.5,541.7 L522.4,542 L526.4,544 L528.9,546 L530.7,550.6 L530.8,554.3 L533,556.4 L538.1,557.5 L540.9,559.6 L545.2,560.3 L547.2,562.3 L549.7,565.1 L551.5,567.3 L550.1,573.8 L546,578 L542.4,582.1 L538,590.5 L533.2,596.6 L529.3,600.6 L525.3,602.3 L521.6,603.7 L516.6,605.7 L513.1,608.6 L509.9,612.5 L504.7,616.1 L498.7,619.6 L494.2,622.2 L490.5,623.8 L487.2,624.4 L484.3,627.1 L481.1,629.2 L477.8,630 L474.5,629.9 L471.2,632.5 L467.1,633 L464.6,635.7 L458.2,639.8 L452.7,642 L450.9,644.8 L442.5,648.5 L438.5,650.8 L436.5,652.5 L433.2,655.9 L428.8,656.1 L430.7,653.5 L432.5,650.8 L436.6,646.6 L443.6,641.7 L450.8,636.8 L456.1,632.6 L462.4,626.5 L465.5,623.9 L473,617.7 L477.3,612.2 L481.9,606.7 L486.2,601.1 L490,595.4 L491.9,590.6 L491.1,588.2 L487.4,583.5 L486.3,579.6 L485.6,576.6 L484.5,570.8 L482.1,565.9 L482.1,563 L484.2,560.1 L483.6,556.2 L484.4,552.4 L486,550.8 L488.2,547.5 L487.5,541.7 L486.4,539.7 L487,537.4 M447.2,651.3 L450.8,651.4 L448.8,652.7 L446.3,652.6 L447.2,651.3 M313.5,681.3 L318.2,680.9 L322.2,682.4 L328.6,679.9 L335.5,678.2 L342.5,677.2 L348.9,677.1 L353.2,678.4 L360.8,677.9 L367.3,678.1 L370.7,679.7 L381,677.1 L387.8,676.7 L403.6,672.3 L415.3,669.9 L411.8,670.1 L404.2,672.4 L393.2,676 L380.3,681.1 L373.8,683.5 L367.2,687.2 L367.5,688.7 L378.3,688.1 L391.6,687.4 L405,686.9 M215.7,687.9 L217.5,686 L219.9,684.1 L220.9,681.8 L220.6,679 L219.7,675.6 L225,674 L233.9,673.9 L241.4,675.2 L238.4,672 L242.3,669.5 L248.2,667.7 L255.7,666.8 L265.2,667.4 L272.2,666.1 L280.6,666 L290.2,668 L298.8,669.9 L302.9,671.2 L306.8,672.6 L306.6,676.8 L306.4,681 L308.8,680.9 L313.5,681.3 M425,469.6 L427.5,469.5 L428.2,467.8 L432.9,468.6 L434,469 L431,466.9 L427.4,466 L426.1,467.1 L425,469.6 M437.9,477 L439.4,477.4 L439.6,476.5 L436.1,473.5 L434.1,470.3 L432.4,470.5 L433.5,472.8 L437.9,477 M434.9,469.8 L438.5,470.8 L440.4,470.2 L442.9,471.8 L443.9,474.5 L442.7,474.6 L439.7,473.1 L434.9,469.8 M443.7,477 L445.4,475.3 L447.2,474.5 L447.7,475 L446.5,477.1 L443.7,477 M445.3,473.8 L448.8,473 L447.5,471.8 L445,473.1 L445.3,473.8 M237.1,427.9 L246.1,426.2 L254,424.2 L259.4,423.7 L262.5,423.9 L261.8,424.4 L253.5,425.2 L242.4,427.3 L234.9,428.9 L237.1,427.9 M257.3,416.3 L249.8,418 L254,418.3 L263.9,417.4 L267.7,416 L263.6,415.6 L257.3,416.3 M279.3,423.7 L279.4,424.5 L281.2,424.8 L284.5,422.9 L285.5,421.4 L281.3,422.3 L279.3,423.7 M287.7,432.4 L289.4,433.2 L294.1,431.3 L293.2,429.8 L289.1,431 L287.7,432.4 M312.1,437.5 L314.9,436.8 L315.6,437.5 L313.5,437.8 L312.1,437.5" fill="none" stroke="#111" stroke-width="1.1" stroke-linejoin="round"/>
<path d="M50.6,525.4 L529.2,515.1 M50.6,525.4 L383.5,517.9 M50.6,525.4 L552.4,456.0 M50.6,525.4 L549.3,508.3 M50.6,525.4 L419.4,520.0 M50.6,525.4 L456.4,483.6 M50.6,525.4 L517.3,500.3 M50.6,525.4 L536.8,471.5 M50.6,525.4 L481.6,461.6 M50.6,525.4 L437.7,486.4 M50.6,525.4 L395.6,476.4 M50.6,525.4 L551.2,464.5 M50.6,525.4 L471.0,454.6 M50.6,525.4 L534.9,459.0 M50.6,525.4 L418.2,504.2 M50.6,525.4 L472.9,490.7 M50.6,525.4 L507.9,486.8 M50.6,525.4 L469.2,462.7 M50.6,525.4 L409.9,466.3 M50.6,525.4 L431.4,474.5 M50.6,525.4 L567.3,466.9 M50.6,525.4 L407.5,470.8 M50.6,525.4 L407.7,510.0 M50.6,525.4 L580.2,505.6 M50.6,525.4 L580.2,490.5 M50.6,525.4 L475.1,478.9 M50.6,525.4 L517.0,468.8 M50.6,525.4 L489.9,479.3 M50.6,525.4 L520.4,513.0 M50.6,525.4 L518.2,461.7 M50.6,525.4 L504.6,503.2 M50.6,525.4 L492.9,456.6 M50.6,525.4 L399.8,489.7 M50.6,525.4 L530.7,486.6 M50.6,525.4 L533.0,490.5 M50.6,525.4 L552.9,467.1 M50.6,525.4 L554.6,504.4 M50.6,525.4 L404.0,467.8 M50.6,525.4 L441.6,507.0 M50.6,525.4 L514.0,456.8 M50.6,525.4 L534.4,473.5 M50.6,525.4 L561.4,471.4 M50.6,525.4 L401.4,475.2 M50.6,525.4 L476.9,482.0 M50.6,525.4 L492.8,459.5 M50.6,525.4 L437.4,454.9 M50.6,525.4 L587.3,486.1 M50.6,525.4 L440.2,463.8 M50.6,525.4 L507.0,452.3 M50.6,525.4 L413.2,498.8 M50.6,525.4 L490.8,501.5 M50.6,525.4 L558.1,474.7 M50.6,525.4 L540.3,508.4 M50.6,525.4 L553.6,489.5 M50.6,525.4 L540.3,454.4 M50.6,525.4 L420.2,492.4 M50.6,525.4 L496.5,494.8 M50.6,525.4 L467.1,455.5 M50.6,525.4 L447.2,466.0 M50.6,525.4 L519.9,468.5 M50.6,525.4 L539.6,489.5 M50.6,525.4 L461.8,495.0 M50.6,525.4 L566.7,475.3 M50.6,525.4 L392.0,512.2 M50.6,525.4 L440.8,514.4 M50.6,525.4 L480.1,480.5 M50.6,525.4 L556.9,460.0 M50.6,525.4 L561.6,471.4 M50.6,525.4 L542.9,518.9 M50.6,525.4 L555.9,475.6" stroke="#000" stroke-opacity="0.2" stroke-width="0.7" fill="none"/><path d="M50.6,525.4 L314.5,491.7 M50.6,525.4 L200.6,481.9 M50.6,525.4 L164.4,497.8 M50.6,525.4 L225.6,493.8 M50.6,525.4 L300.5,487.0 M50.6,525.4 L154.7,496.0 M50.6,525.4 L164.8,495.9 M50.6,525.4 L242.3,486.9 M50.6,525.4 L262.3,465.3 M50.6,525.4 L211.0,472.4 M50.6,525.4 L186.6,467.2 M50.6,525.4 L187.6,511.3 M50.6,525.4 L316.2,497.0 M50.6,525.4 L281.9,460.9 M50.6,525.4 L207.6,503.3 M50.6,525.4 L304.3,463.2 M50.6,525.4 L318.5,518.3 M50.6,525.4 L165.2,484.2 M50.6,525.4 L305.2,480.6 M50.6,525.4 L178.0,495.0 M50.6,525.4 L256.2,506.3 M50.6,525.4 L187.7,490.2 M50.6,525.4 L183.0,516.3 M50.6,525.4 L304.4,517.1 M50.6,525.4 L173.1,470.7 M50.6,525.4 L288.7,488.2 M50.6,525.4 L294.4,498.7 M50.6,525.4 L155.8,466.9 M50.6,525.4 L273.6,476.4 M50.6,525.4 L218.3,497.1" stroke="#000" stroke-opacity="0.25" stroke-width="0.7" fill="none"/><path d="M50.6,525.4 L426.4,591.0 M50.6,525.4 L478.7,586.1 M50.6,525.4 L461.4,608.3 M50.6,525.4 L431.8,590.0 M50.6,525.4 L511.6,626.1 M50.6,525.4 L478.9,612.2 M50.6,525.4 L529.8,613.1 M50.6,525.4 L441.2,615.4 M50.6,525.4 L478.8,618.2 M50.6,525.4 L461.7,615.2 M50.6,525.4 L424.9,625.3 M50.6,525.4 L526.6,629.1 M50.6,525.4 L520.8,643.7 M50.6,525.4 L479.2,610.4 M50.6,525.4 L509.1,598.2 M50.6,525.4 L456.6,620.8 M50.6,525.4 L424.2,643.7 M50.6,525.4 L531.7,615.7 M50.6,525.4 L494.5,605.7 M50.6,525.4 L475.1,590.7 M50.6,525.4 L462.0,596.4 M50.6,525.4 L468.4,624.5 M50.6,525.4 L523.1,589.9 M50.6,525.4 L436.1,622.3 M50.6,525.4 L532.5,618.6" stroke="#000" stroke-opacity="0.16" stroke-width="0.6" fill="none"/><path d="M50.6,525.4 L303.9,588.9 M50.6,525.4 L241.1,520.2 M50.6,525.4 L301.0,567.1 M50.6,525.4 L224.5,575.0 M50.6,525.4 L322.8,586.6 M50.6,525.4 L266.4,525.4 M50.6,525.4 L245.3,538.7 M50.6,525.4 L265.8,571.9 M50.6,525.4 L254.3,598.7 M50.6,525.4 L233.6,589.9 M50.6,525.4 L248.5,593.9 M50.6,525.4 L245.5,564.2 M50.6,525.4 L249.2,577.4 M50.6,525.4 L322.5,578.4 M50.6,525.4 L280.7,532.9 M50.6,525.4 L264.2,588.4 M50.6,525.4 L300.3,534.0 M50.6,525.4 L215.6,561.7 M50.6,525.4 L366.4,574.2 M50.6,525.4 L356.6,525.1 M50.6,525.4 L288.2,544.0 M50.6,525.4 L246.4,595.5 M50.6,525.4 L371.0,548.1 M50.6,525.4 L397.8,536.7 M50.6,525.4 L366.3,556.8" stroke="#000" stroke-opacity="0.14" stroke-width="0.6" fill="none"/><path d="M50.6,525.4 L120.4,479.4 M50.6,525.4 L171.1,464.8 M50.6,525.4 L152.2,462.3 M50.6,525.4 L174.9,464.9 M50.6,525.4 L109.3,459.8 M50.6,525.4 L119.0,440.2 M50.6,525.4 L72.2,475.6 M50.6,525.4 L118.5,455.8 M50.6,525.4 L82.2,457.2 M50.6,525.4 L185.3,465.1 M50.6,525.4 L152.1,458.4 M50.6,525.4 L61.6,430.4 M50.6,525.4 L74.5,460.3 M50.6,525.4 L177.3,477.6 M50.6,525.4 L162.4,466.3 M50.6,525.4 L86.4,433.3 M50.6,525.4 L167.7,443.1 M50.6,525.4 L150.7,474.8 M50.6,525.4 L69.0,469.3 M50.6,525.4 L105.7,457.8" stroke="#000" stroke-opacity="0.25" stroke-width="0.6" fill="none"/><path d="M50.6,525.4 L97.6,625.3 M50.6,525.4 L121.9,632.7 M50.6,525.4 L123.9,624.6 M50.6,525.4 L131.3,599.8 M50.6,525.4 L107.8,603.5 M50.6,525.4 L69.9,562.7 M50.6,525.4 L87.4,592.9 M50.6,525.4 L65.7,616.1 M50.6,525.4 L86.8,599.1 M50.6,525.4 L142.0,627.9 M50.6,525.4 L99.9,598.4 M50.6,525.4 L63.3,562.7" stroke="#000" stroke-opacity="0.14" stroke-width="0.5" fill="none"/>
<circle cx="50.6" cy="525.4" r="7.1" fill="#e8240e" stroke="#000" stroke-width="1.3"/>
</g>
<ellipse cx="313.5" cy="554.3" rx="286.0" ry="142.2" fill="none" stroke="#000" stroke-width="1.6"/>
<g clip-path="url(#clipd)">
<rect x="770.4" y="412.1" width="572.0" height="284.4" fill="#7db9d6"/>
<g filter="url(#bl)"><rect x="769.9" y="411.6" width="23" height="11.9" fill="#7db9d6"/><rect x="791.9" y="411.6" width="23" height="11.9" fill="#7db9d6"/><rect x="813.9" y="411.6" width="23" height="11.9" fill="#7db9d6"/><rect x="835.9" y="411.6" width="23" height="11.9" fill="#7db9d6"/><rect x="857.9" y="411.6" width="23" height="11.9" fill="#7db9d6"/><rect x="879.9" y="411.6" width="23" height="11.9" fill="#7db9d6"/><rect x="901.9" y="411.6" width="23" height="11.9" fill="#7db9d6"/><rect x="923.9" y="411.6" width="23" height="11.9" fill="#7db9d6"/><rect x="945.9" y="411.6" width="23" height="11.9" fill="#7db9d6"/><rect x="967.9" y="411.6" width="23" height="11.9" fill="#7db9d6"/><rect x="989.9" y="411.6" width="23" height="11.9" fill="#acd0e4"/><rect x="1011.9" y="411.6" width="23" height="11.9" fill="#acd0e4"/><rect x="1033.9" y="411.6" width="23" height="11.9" fill="#acd0e4"/><rect x="1055.9" y="411.6" width="23" height="11.9" fill="#7db9d6"/><rect x="1077.9" y="411.6" width="23" height="11.9" fill="#7db9d6"/><rect x="1099.9" y="411.6" width="23" height="11.9" fill="#acd0e4"/><rect x="1121.9" y="411.6" width="23" height="11.9" fill="#acd0e4"/><rect x="1143.9" y="411.6" width="23" height="11.9" fill="#acd0e4"/><rect x="1165.9" y="411.6" width="23" height="11.9" fill="#acd0e4"/><rect x="1187.9" y="411.6" width="23" height="11.9" fill="#acd0e4"/><rect x="1209.9" y="411.6" width="23" height="11.9" fill="#acd0e4"/><rect x="1231.9" y="411.6" width="23" height="11.9" fill="#acd0e4"/><rect x="1253.9" y="411.6" width="23" height="11.9" fill="#acd0e4"/><rect x="1275.9" y="411.6" width="23" height="11.9" fill="#acd0e4"/><rect x="1297.9" y="411.6" width="23" height="11.9" fill="#acd0e4"/><rect x="1319.9" y="411.6" width="23" height="11.9" fill="#acd0e4"/><rect x="769.9" y="422.5" width="23" height="11.9" fill="#7db9d6"/><rect x="791.9" y="422.5" width="23" height="11.9" fill="#7db9d6"/><rect x="813.9" y="422.5" width="23" height="11.9" fill="#7db9d6"/><rect x="835.9" y="422.5" width="23" height="11.9" fill="#7db9d6"/><rect x="857.9" y="422.5" width="23" height="11.9" fill="#7db9d6"/><rect x="879.9" y="422.5" width="23" height="11.9" fill="#7db9d6"/><rect x="901.9" y="422.5" width="23" height="11.9" fill="#7db9d6"/><rect x="923.9" y="422.5" width="23" height="11.9" fill="#acd0e4"/><rect x="945.9" y="422.5" width="23" height="11.9" fill="#7db9d6"/><rect x="967.9" y="422.5" width="23" height="11.9" fill="#acd0e4"/><rect x="989.9" y="422.5" width="23" height="11.9" fill="#acd0e4"/><rect x="1011.9" y="422.5" width="23" height="11.9" fill="#acd0e4"/><rect x="1033.9" y="422.5" width="23" height="11.9" fill="#7db9d6"/><rect x="1055.9" y="422.5" width="23" height="11.9" fill="#acd0e4"/><rect x="1077.9" y="422.5" width="23" height="11.9" fill="#7db9d6"/><rect x="1099.9" y="422.5" width="23" height="11.9" fill="#acd0e4"/><rect x="1121.9" y="422.5" width="23" height="11.9" fill="#acd0e4"/><rect x="1143.9" y="422.5" width="23" height="11.9" fill="#acd0e4"/><rect x="1165.9" y="422.5" width="23" height="11.9" fill="#7db9d6"/><rect x="1187.9" y="422.5" width="23" height="11.9" fill="#acd0e4"/><rect x="1209.9" y="422.5" width="23" height="11.9" fill="#acd0e4"/><rect x="1231.9" y="422.5" width="23" height="11.9" fill="#acd0e4"/><rect x="1253.9" y="422.5" width="23" height="11.9" fill="#acd0e4"/><rect x="1275.9" y="422.5" width="23" height="11.9" fill="#acd0e4"/><rect x="1297.9" y="422.5" width="23" height="11.9" fill="#acd0e4"/><rect x="1319.9" y="422.5" width="23" height="11.9" fill="#acd0e4"/><rect x="769.9" y="433.5" width="23" height="11.9" fill="#7db9d6"/><rect x="791.9" y="433.5" width="23" height="11.9" fill="#7db9d6"/><rect x="813.9" y="433.5" width="23" height="11.9" fill="#7db9d6"/><rect x="835.9" y="433.5" width="23" height="11.9" fill="#7db9d6"/><rect x="857.9" y="433.5" width="23" height="11.9" fill="#7db9d6"/><rect x="879.9" y="433.5" width="23" height="11.9" fill="#7db9d6"/><rect x="901.9" y="433.5" width="23" height="11.9" fill="#acd0e4"/><rect x="923.9" y="433.5" width="23" height="11.9" fill="#7db9d6"/><rect x="945.9" y="433.5" width="23" height="11.9" fill="#acd0e4"/><rect x="967.9" y="433.5" width="23" height="11.9" fill="#acd0e4"/><rect x="989.9" y="433.5" width="23" height="11.9" fill="#dee6f2"/><rect x="1011.9" y="433.5" width="23" height="11.9" fill="#acd0e4"/><rect x="1033.9" y="433.5" width="23" height="11.9" fill="#acd0e4"/><rect x="1055.9" y="433.5" width="23" height="11.9" fill="#acd0e4"/><rect x="1077.9" y="433.5" width="23" height="11.9" fill="#7db9d6"/><rect x="1099.9" y="433.5" width="23" height="11.9" fill="#acd0e4"/><rect x="1121.9" y="433.5" width="23" height="11.9" fill="#acd0e4"/><rect x="1143.9" y="433.5" width="23" height="11.9" fill="#acd0e4"/><rect x="1165.9" y="433.5" width="23" height="11.9" fill="#dee6f2"/><rect x="1187.9" y="433.5" width="23" height="11.9" fill="#acd0e4"/><rect x="1209.9" y="433.5" width="23" height="11.9" fill="#acd0e4"/><rect x="1231.9" y="433.5" width="23" height="11.9" fill="#acd0e4"/><rect x="1253.9" y="433.5" width="23" height="11.9" fill="#acd0e4"/><rect x="1275.9" y="433.5" width="23" height="11.9" fill="#acd0e4"/><rect x="1297.9" y="433.5" width="23" height="11.9" fill="#acd0e4"/><rect x="1319.9" y="433.5" width="23" height="11.9" fill="#acd0e4"/><rect x="769.9" y="444.4" width="23" height="11.9" fill="#acd0e4"/><rect x="791.9" y="444.4" width="23" height="11.9" fill="#acd0e4"/><rect x="813.9" y="444.4" width="23" height="11.9" fill="#acd0e4"/><rect x="835.9" y="444.4" width="23" height="11.9" fill="#acd0e4"/><rect x="857.9" y="444.4" width="23" height="11.9" fill="#acd0e4"/><rect x="879.9" y="444.4" width="23" height="11.9" fill="#7db9d6"/><rect x="901.9" y="444.4" width="23" height="11.9" fill="#acd0e4"/><rect x="923.9" y="444.4" width="23" height="11.9" fill="#acd0e4"/><rect x="945.9" y="444.4" width="23" height="11.9" fill="#56a4be"/><rect x="967.9" y="444.4" width="23" height="11.9" fill="#56a4be"/><rect x="989.9" y="444.4" width="23" height="11.9" fill="#7db9d6"/><rect x="1011.9" y="444.4" width="23" height="11.9" fill="#acd0e4"/><rect x="1033.9" y="444.4" width="23" height="11.9" fill="#acd0e4"/><rect x="1055.9" y="444.4" width="23" height="11.9" fill="#acd0e4"/><rect x="1077.9" y="444.4" width="23" height="11.9" fill="#7db9d6"/><rect x="1099.9" y="444.4" width="23" height="11.9" fill="#acd0e4"/><rect x="1121.9" y="444.4" width="23" height="11.9" fill="#7db9d6"/><rect x="1143.9" y="444.4" width="23" height="11.9" fill="#acd0e4"/><rect x="1165.9" y="444.4" width="23" height="11.9" fill="#acd0e4"/><rect x="1187.9" y="444.4" width="23" height="11.9" fill="#acd0e4"/><rect x="1209.9" y="444.4" width="23" height="11.9" fill="#acd0e4"/><rect x="1231.9" y="444.4" width="23" height="11.9" fill="#acd0e4"/><rect x="1253.9" y="444.4" width="23" height="11.9" fill="#acd0e4"/><rect x="1275.9" y="444.4" width="23" height="11.9" fill="#acd0e4"/><rect x="1297.9" y="444.4" width="23" height="11.9" fill="#acd0e4"/><rect x="1319.9" y="444.4" width="23" height="11.9" fill="#acd0e4"/><rect x="769.9" y="455.4" width="23" height="11.9" fill="#acd0e4"/><rect x="791.9" y="455.4" width="23" height="11.9" fill="#acd0e4"/><rect x="813.9" y="455.4" width="23" height="11.9" fill="#acd0e4"/><rect x="835.9" y="455.4" width="23" height="11.9" fill="#acd0e4"/><rect x="857.9" y="455.4" width="23" height="11.9" fill="#acd0e4"/><rect x="879.9" y="455.4" width="23" height="11.9" fill="#7db9d6"/><rect x="901.9" y="455.4" width="23" height="11.9" fill="#56a4be"/><rect x="923.9" y="455.4" width="23" height="11.9" fill="#40968c"/><rect x="945.9" y="455.4" width="23" height="11.9" fill="#32846a"/><rect x="967.9" y="455.4" width="23" height="11.9" fill="#32846a"/><rect x="989.9" y="455.4" width="23" height="11.9" fill="#56a4be"/><rect x="1011.9" y="455.4" width="23" height="11.9" fill="#acd0e4"/><rect x="1033.9" y="455.4" width="23" height="11.9" fill="#acd0e4"/><rect x="1055.9" y="455.4" width="23" height="11.9" fill="#acd0e4"/><rect x="1077.9" y="455.4" width="23" height="11.9" fill="#56a4be"/><rect x="1099.9" y="455.4" width="23" height="11.9" fill="#7db9d6"/><rect x="1121.9" y="455.4" width="23" height="11.9" fill="#7db9d6"/><rect x="1143.9" y="455.4" width="23" height="11.9" fill="#7db9d6"/><rect x="1165.9" y="455.4" width="23" height="11.9" fill="#acd0e4"/><rect x="1187.9" y="455.4" width="23" height="11.9" fill="#7db9d6"/><rect x="1209.9" y="455.4" width="23" height="11.9" fill="#acd0e4"/><rect x="1231.9" y="455.4" width="23" height="11.9" fill="#acd0e4"/><rect x="1253.9" y="455.4" width="23" height="11.9" fill="#7db9d6"/><rect x="1275.9" y="455.4" width="23" height="11.9" fill="#7db9d6"/><rect x="1297.9" y="455.4" width="23" height="11.9" fill="#7db9d6"/><rect x="1319.9" y="455.4" width="23" height="11.9" fill="#7db9d6"/><rect x="769.9" y="466.3" width="23" height="11.9" fill="#7db9d6"/><rect x="791.9" y="466.3" width="23" height="11.9" fill="#7db9d6"/><rect x="813.9" y="466.3" width="23" height="11.9" fill="#7db9d6"/><rect x="835.9" y="466.3" width="23" height="11.9" fill="#acd0e4"/><rect x="857.9" y="466.3" width="23" height="11.9" fill="#7db9d6"/><rect x="879.9" y="466.3" width="23" height="11.9" fill="#7db9d6"/><rect x="901.9" y="466.3" width="23" height="11.9" fill="#56a4be"/><rect x="923.9" y="466.3" width="23" height="11.9" fill="#32846a"/><rect x="945.9" y="466.3" width="23" height="11.9" fill="#184230"/><rect x="967.9" y="466.3" width="23" height="11.9" fill="#184230"/><rect x="989.9" y="466.3" width="23" height="11.9" fill="#26644b"/><rect x="1011.9" y="466.3" width="23" height="11.9" fill="#acd0e4"/><rect x="1033.9" y="466.3" width="23" height="11.9" fill="#dee6f2"/><rect x="1055.9" y="466.3" width="23" height="11.9" fill="#acd0e4"/><rect x="1077.9" y="466.3" width="23" height="11.9" fill="#acd0e4"/><rect x="1099.9" y="466.3" width="23" height="11.9" fill="#acd0e4"/><rect x="1121.9" y="466.3" width="23" height="11.9" fill="#7db9d6"/><rect x="1143.9" y="466.3" width="23" height="11.9" fill="#acd0e4"/><rect x="1165.9" y="466.3" width="23" height="11.9" fill="#7db9d6"/><rect x="1187.9" y="466.3" width="23" height="11.9" fill="#acd0e4"/><rect x="1209.9" y="466.3" width="23" height="11.9" fill="#7db9d6"/><rect x="1231.9" y="466.3" width="23" height="11.9" fill="#7db9d6"/><rect x="1253.9" y="466.3" width="23" height="11.9" fill="#acd0e4"/><rect x="1275.9" y="466.3" width="23" height="11.9" fill="#7db9d6"/><rect x="1297.9" y="466.3" width="23" height="11.9" fill="#7db9d6"/><rect x="1319.9" y="466.3" width="23" height="11.9" fill="#7db9d6"/><rect x="769.9" y="477.2" width="23" height="11.9" fill="#7db9d6"/><rect x="791.9" y="477.2" width="23" height="11.9" fill="#7db9d6"/><rect x="813.9" y="477.2" width="23" height="11.9" fill="#acd0e4"/><rect x="835.9" y="477.2" width="23" height="11.9" fill="#7db9d6"/><rect x="857.9" y="477.2" width="23" height="11.9" fill="#7db9d6"/><rect x="879.9" y="477.2" width="23" height="11.9" fill="#40968c"/><rect x="901.9" y="477.2" width="23" height="11.9" fill="#32846a"/><rect x="923.9" y="477.2" width="23" height="11.9" fill="#26644b"/><rect x="945.9" y="477.2" width="23" height="11.9" fill="#184230"/><rect x="967.9" y="477.2" width="23" height="11.9" fill="#184230"/><rect x="989.9" y="477.2" width="23" height="11.9" fill="#184230"/><rect x="1011.9" y="477.2" width="23" height="11.9" fill="#dee6f2"/><rect x="1033.9" y="477.2" width="23" height="11.9" fill="#dee6f2"/><rect x="1055.9" y="477.2" width="23" height="11.9" fill="#dee6f2"/><rect x="1077.9" y="477.2" width="23" height="11.9" fill="#dee6f2"/><rect x="1099.9" y="477.2" width="23" height="11.9" fill="#acd0e4"/><rect x="1121.9" y="477.2" width="23" height="11.9" fill="#acd0e4"/><rect x="1143.9" y="477.2" width="23" height="11.9" fill="#acd0e4"/><rect x="1165.9" y="477.2" width="23" height="11.9" fill="#7db9d6"/><rect x="1187.9" y="477.2" width="23" height="11.9" fill="#7db9d6"/><rect x="1209.9" y="477.2" width="23" height="11.9" fill="#acd0e4"/><rect x="1231.9" y="477.2" width="23" height="11.9" fill="#56a4be"/><rect x="1253.9" y="477.2" width="23" height="11.9" fill="#7db9d6"/><rect x="1275.9" y="477.2" width="23" height="11.9" fill="#acd0e4"/><rect x="1297.9" y="477.2" width="23" height="11.9" fill="#7db9d6"/><rect x="1319.9" y="477.2" width="23" height="11.9" fill="#7db9d6"/><rect x="769.9" y="488.2" width="23" height="11.9" fill="#7db9d6"/><rect x="791.9" y="488.2" width="23" height="11.9" fill="#acd0e4"/><rect x="813.9" y="488.2" width="23" height="11.9" fill="#7db9d6"/><rect x="835.9" y="488.2" width="23" height="11.9" fill="#7db9d6"/><rect x="857.9" y="488.2" width="23" height="11.9" fill="#56a4be"/><rect x="879.9" y="488.2" width="23" height="11.9" fill="#40968c"/><rect x="901.9" y="488.2" width="23" height="11.9" fill="#56a4be"/><rect x="923.9" y="488.2" width="23" height="11.9" fill="#acd0e4"/><rect x="945.9" y="488.2" width="23" height="11.9" fill="#26644b"/><rect x="967.9" y="488.2" width="23" height="11.9" fill="#26644b"/><rect x="989.9" y="488.2" width="23" height="11.9" fill="#40968c"/><rect x="1011.9" y="488.2" width="23" height="11.9" fill="#dee6f2"/><rect x="1033.9" y="488.2" width="23" height="11.9" fill="#dee6f2"/><rect x="1055.9" y="488.2" width="23" height="11.9" fill="#dee6f2"/><rect x="1077.9" y="488.2" width="23" height="11.9" fill="#dee6f2"/><rect x="1099.9" y="488.2" width="23" height="11.9" fill="#acd0e4"/><rect x="1121.9" y="488.2" width="23" height="11.9" fill="#acd0e4"/><rect x="1143.9" y="488.2" width="23" height="11.9" fill="#acd0e4"/><rect x="1165.9" y="488.2" width="23" height="11.9" fill="#acd0e4"/><rect x="1187.9" y="488.2" width="23" height="11.9" fill="#7db9d6"/><rect x="1209.9" y="488.2" width="23" height="11.9" fill="#acd0e4"/><rect x="1231.9" y="488.2" width="23" height="11.9" fill="#7db9d6"/><rect x="1253.9" y="488.2" width="23" height="11.9" fill="#acd0e4"/><rect x="1275.9" y="488.2" width="23" height="11.9" fill="#acd0e4"/><rect x="1297.9" y="488.2" width="23" height="11.9" fill="#7db9d6"/><rect x="1319.9" y="488.2" width="23" height="11.9" fill="#7db9d6"/><rect x="769.9" y="499.1" width="23" height="11.9" fill="#acd0e4"/><rect x="791.9" y="499.1" width="23" height="11.9" fill="#7db9d6"/><rect x="813.9" y="499.1" width="23" height="11.9" fill="#acd0e4"/><rect x="835.9" y="499.1" width="23" height="11.9" fill="#7db9d6"/><rect x="857.9" y="499.1" width="23" height="11.9" fill="#56a4be"/><rect x="879.9" y="499.1" width="23" height="11.9" fill="#56a4be"/><rect x="901.9" y="499.1" width="23" height="11.9" fill="#7db9d6"/><rect x="923.9" y="499.1" width="23" height="11.9" fill="#acd0e4"/><rect x="945.9" y="499.1" width="23" height="11.9" fill="#26644b"/><rect x="967.9" y="499.1" width="23" height="11.9" fill="#26644b"/><rect x="989.9" y="499.1" width="23" height="11.9" fill="#acd0e4"/><rect x="1011.9" y="499.1" width="23" height="11.9" fill="#acd0e4"/><rect x="1033.9" y="499.1" width="23" height="11.9" fill="#7db9d6"/><rect x="1055.9" y="499.1" width="23" height="11.9" fill="#acd0e4"/><rect x="1077.9" y="499.1" width="23" height="11.9" fill="#acd0e4"/><rect x="1099.9" y="499.1" width="23" height="11.9" fill="#7db9d6"/><rect x="1121.9" y="499.1" width="23" height="11.9" fill="#7db9d6"/><rect x="1143.9" y="499.1" width="23" height="11.9" fill="#56a4be"/><rect x="1165.9" y="499.1" width="23" height="11.9" fill="#acd0e4"/><rect x="1187.9" y="499.1" width="23" height="11.9" fill="#acd0e4"/><rect x="1209.9" y="499.1" width="23" height="11.9" fill="#7db9d6"/><rect x="1231.9" y="499.1" width="23" height="11.9" fill="#56a4be"/><rect x="1253.9" y="499.1" width="23" height="11.9" fill="#7db9d6"/><rect x="1275.9" y="499.1" width="23" height="11.9" fill="#acd0e4"/><rect x="1297.9" y="499.1" width="23" height="11.9" fill="#acd0e4"/><rect x="1319.9" y="499.1" width="23" height="11.9" fill="#7db9d6"/><rect x="769.9" y="510" width="23" height="11.9" fill="#acd0e4"/><rect x="791.9" y="510" width="23" height="11.9" fill="#56a4be"/><rect x="813.9" y="510" width="23" height="11.9" fill="#7db9d6"/><rect x="835.9" y="510" width="23" height="11.9" fill="#7db9d6"/><rect x="857.9" y="510" width="23" height="11.9" fill="#7db9d6"/><rect x="879.9" y="510" width="23" height="11.9" fill="#56a4be"/><rect x="901.9" y="510" width="23" height="11.9" fill="#7db9d6"/><rect x="923.9" y="510" width="23" height="11.9" fill="#acd0e4"/><rect x="945.9" y="510" width="23" height="11.9" fill="#26644b"/><rect x="967.9" y="510" width="23" height="11.9" fill="#32846a"/><rect x="989.9" y="510" width="23" height="11.9" fill="#acd0e4"/><rect x="1011.9" y="510" width="23" height="11.9" fill="#7db9d6"/><rect x="1033.9" y="510" width="23" height="11.9" fill="#56a4be"/><rect x="1055.9" y="510" width="23" height="11.9" fill="#acd0e4"/><rect x="1077.9" y="510" width="23" height="11.9" fill="#acd0e4"/><rect x="1099.9" y="510" width="23" height="11.9" fill="#acd0e4"/><rect x="1121.9" y="510" width="23" height="11.9" fill="#acd0e4"/><rect x="1143.9" y="510" width="23" height="11.9" fill="#acd0e4"/><rect x="1165.9" y="510" width="23" height="11.9" fill="#dee6f2"/><rect x="1187.9" y="510" width="23" height="11.9" fill="#acd0e4"/><rect x="1209.9" y="510" width="23" height="11.9" fill="#acd0e4"/><rect x="1231.9" y="510" width="23" height="11.9" fill="#acd0e4"/><rect x="1253.9" y="510" width="23" height="11.9" fill="#acd0e4"/><rect x="1275.9" y="510" width="23" height="11.9" fill="#dee6f2"/><rect x="1297.9" y="510" width="23" height="11.9" fill="#acd0e4"/><rect x="1319.9" y="510" width="23" height="11.9" fill="#acd0e4"/><rect x="769.9" y="521" width="23" height="11.9" fill="#56a4be"/><rect x="791.9" y="521" width="23" height="11.9" fill="#acd0e4"/><rect x="813.9" y="521" width="23" height="11.9" fill="#7db9d6"/><rect x="835.9" y="521" width="23" height="11.9" fill="#acd0e4"/><rect x="857.9" y="521" width="23" height="11.9" fill="#56a4be"/><rect x="879.9" y="521" width="23" height="11.9" fill="#56a4be"/><rect x="901.9" y="521" width="23" height="11.9" fill="#7db9d6"/><rect x="923.9" y="521" width="23" height="11.9" fill="#acd0e4"/><rect x="945.9" y="521" width="23" height="11.9" fill="#acd0e4"/><rect x="967.9" y="521" width="23" height="11.9" fill="#acd0e4"/><rect x="989.9" y="521" width="23" height="11.9" fill="#acd0e4"/><rect x="1011.9" y="521" width="23" height="11.9" fill="#acd0e4"/><rect x="1033.9" y="521" width="23" height="11.9" fill="#acd0e4"/><rect x="1055.9" y="521" width="23" height="11.9" fill="#acd0e4"/><rect x="1077.9" y="521" width="23" height="11.9" fill="#acd0e4"/><rect x="1099.9" y="521" width="23" height="11.9" fill="#dee6f2"/><rect x="1121.9" y="521" width="23" height="11.9" fill="#acd0e4"/><rect x="1143.9" y="521" width="23" height="11.9" fill="#acd0e4"/><rect x="1165.9" y="521" width="23" height="11.9" fill="#acd0e4"/><rect x="1187.9" y="521" width="23" height="11.9" fill="#acd0e4"/><rect x="1209.9" y="521" width="23" height="11.9" fill="#acd0e4"/><rect x="1231.9" y="521" width="23" height="11.9" fill="#acd0e4"/><rect x="1253.9" y="521" width="23" height="11.9" fill="#acd0e4"/><rect x="1275.9" y="521" width="23" height="11.9" fill="#acd0e4"/><rect x="1297.9" y="521" width="23" height="11.9" fill="#acd0e4"/><rect x="1319.9" y="521" width="23" height="11.9" fill="#acd0e4"/><rect x="769.9" y="531.9" width="23" height="11.9" fill="#56a4be"/><rect x="791.9" y="531.9" width="23" height="11.9" fill="#7db9d6"/><rect x="813.9" y="531.9" width="23" height="11.9" fill="#7db9d6"/><rect x="835.9" y="531.9" width="23" height="11.9" fill="#acd0e4"/><rect x="857.9" y="531.9" width="23" height="11.9" fill="#56a4be"/><rect x="879.9" y="531.9" width="23" height="11.9" fill="#56a4be"/><rect x="901.9" y="531.9" width="23" height="11.9" fill="#7db9d6"/><rect x="923.9" y="531.9" width="23" height="11.9" fill="#acd0e4"/><rect x="945.9" y="531.9" width="23" height="11.9" fill="#acd0e4"/><rect x="967.9" y="531.9" width="23" height="11.9" fill="#acd0e4"/><rect x="989.9" y="531.9" width="23" height="11.9" fill="#acd0e4"/><rect x="1011.9" y="531.9" width="23" height="11.9" fill="#acd0e4"/><rect x="1033.9" y="531.9" width="23" height="11.9" fill="#acd0e4"/><rect x="1055.9" y="531.9" width="23" height="11.9" fill="#acd0e4"/><rect x="1077.9" y="531.9" width="23" height="11.9" fill="#acd0e4"/><rect x="1099.9" y="531.9" width="23" height="11.9" fill="#acd0e4"/><rect x="1121.9" y="531.9" width="23" height="11.9" fill="#7db9d6"/><rect x="1143.9" y="531.9" width="23" height="11.9" fill="#acd0e4"/><rect x="1165.9" y="531.9" width="23" height="11.9" fill="#7db9d6"/><rect x="1187.9" y="531.9" width="23" height="11.9" fill="#7db9d6"/><rect x="1209.9" y="531.9" width="23" height="11.9" fill="#acd0e4"/><rect x="1231.9" y="531.9" width="23" height="11.9" fill="#acd0e4"/><rect x="1253.9" y="531.9" width="23" height="11.9" fill="#7db9d6"/><rect x="1275.9" y="531.9" width="23" height="11.9" fill="#acd0e4"/><rect x="1297.9" y="531.9" width="23" height="11.9" fill="#acd0e4"/><rect x="1319.9" y="531.9" width="23" height="11.9" fill="#acd0e4"/><rect x="769.9" y="542.9" width="23" height="11.9" fill="#acd0e4"/><rect x="791.9" y="542.9" width="23" height="11.9" fill="#56a4be"/><rect x="813.9" y="542.9" width="23" height="11.9" fill="#7db9d6"/><rect x="835.9" y="542.9" width="23" height="11.9" fill="#acd0e4"/><rect x="857.9" y="542.9" width="23" height="11.9" fill="#7db9d6"/><rect x="879.9" y="542.9" width="23" height="11.9" fill="#7db9d6"/><rect x="901.9" y="542.9" width="23" height="11.9" fill="#acd0e4"/><rect x="923.9" y="542.9" width="23" height="11.9" fill="#acd0e4"/><rect x="945.9" y="542.9" width="23" height="11.9" fill="#dee6f2"/><rect x="967.9" y="542.9" width="23" height="11.9" fill="#acd0e4"/><rect x="989.9" y="542.9" width="23" height="11.9" fill="#dee6f2"/><rect x="1011.9" y="542.9" width="23" height="11.9" fill="#acd0e4"/><rect x="1033.9" y="542.9" width="23" height="11.9" fill="#acd0e4"/><rect x="1055.9" y="542.9" width="23" height="11.9" fill="#acd0e4"/><rect x="1077.9" y="542.9" width="23" height="11.9" fill="#7db9d6"/><rect x="1099.9" y="542.9" width="23" height="11.9" fill="#acd0e4"/><rect x="1121.9" y="542.9" width="23" height="11.9" fill="#7db9d6"/><rect x="1143.9" y="542.9" width="23" height="11.9" fill="#acd0e4"/><rect x="1165.9" y="542.9" width="23" height="11.9" fill="#acd0e4"/><rect x="1187.9" y="542.9" width="23" height="11.9" fill="#7db9d6"/><rect x="1209.9" y="542.9" width="23" height="11.9" fill="#acd0e4"/><rect x="1231.9" y="542.9" width="23" height="11.9" fill="#7db9d6"/><rect x="1253.9" y="542.9" width="23" height="11.9" fill="#7db9d6"/><rect x="1275.9" y="542.9" width="23" height="11.9" fill="#7db9d6"/><rect x="1297.9" y="542.9" width="23" height="11.9" fill="#7db9d6"/><rect x="1319.9" y="542.9" width="23" height="11.9" fill="#acd0e4"/><rect x="769.9" y="553.8" width="23" height="11.9" fill="#acd0e4"/><rect x="791.9" y="553.8" width="23" height="11.9" fill="#56a4be"/><rect x="813.9" y="553.8" width="23" height="11.9" fill="#acd0e4"/><rect x="835.9" y="553.8" width="23" height="11.9" fill="#7db9d6"/><rect x="857.9" y="553.8" width="23" height="11.9" fill="#acd0e4"/><rect x="879.9" y="553.8" width="23" height="11.9" fill="#7db9d6"/><rect x="901.9" y="553.8" width="23" height="11.9" fill="#acd0e4"/><rect x="923.9" y="553.8" width="23" height="11.9" fill="#acd0e4"/><rect x="945.9" y="553.8" width="23" height="11.9" fill="#acd0e4"/><rect x="967.9" y="553.8" width="23" height="11.9" fill="#acd0e4"/><rect x="989.9" y="553.8" width="23" height="11.9" fill="#acd0e4"/><rect x="1011.9" y="553.8" width="23" height="11.9" fill="#acd0e4"/><rect x="1033.9" y="553.8" width="23" height="11.9" fill="#acd0e4"/><rect x="1055.9" y="553.8" width="23" height="11.9" fill="#acd0e4"/><rect x="1077.9" y="553.8" width="23" height="11.9" fill="#acd0e4"/><rect x="1099.9" y="553.8" width="23" height="11.9" fill="#acd0e4"/><rect x="1121.9" y="553.8" width="23" height="11.9" fill="#acd0e4"/><rect x="1143.9" y="553.8" width="23" height="11.9" fill="#acd0e4"/><rect x="1165.9" y="553.8" width="23" height="11.9" fill="#acd0e4"/><rect x="1187.9" y="553.8" width="23" height="11.9" fill="#7db9d6"/><rect x="1209.9" y="553.8" width="23" height="11.9" fill="#acd0e4"/><rect x="1231.9" y="553.8" width="23" height="11.9" fill="#7db9d6"/><rect x="1253.9" y="553.8" width="23" height="11.9" fill="#7db9d6"/><rect x="1275.9" y="553.8" width="23" height="11.9" fill="#7db9d6"/><rect x="1297.9" y="553.8" width="23" height="11.9" fill="#acd0e4"/><rect x="1319.9" y="553.8" width="23" height="11.9" fill="#acd0e4"/><rect x="769.9" y="564.7" width="23" height="11.9" fill="#acd0e4"/><rect x="791.9" y="564.7" width="23" height="11.9" fill="#56a4be"/><rect x="813.9" y="564.7" width="23" height="11.9" fill="#56a4be"/><rect x="835.9" y="564.7" width="23" height="11.9" fill="#acd0e4"/><rect x="857.9" y="564.7" width="23" height="11.9" fill="#acd0e4"/><rect x="879.9" y="564.7" width="23" height="11.9" fill="#acd0e4"/><rect x="901.9" y="564.7" width="23" height="11.9" fill="#7db9d6"/><rect x="923.9" y="564.7" width="23" height="11.9" fill="#acd0e4"/><rect x="945.9" y="564.7" width="23" height="11.9" fill="#acd0e4"/><rect x="967.9" y="564.7" width="23" height="11.9" fill="#acd0e4"/><rect x="989.9" y="564.7" width="23" height="11.9" fill="#acd0e4"/><rect x="1011.9" y="564.7" width="23" height="11.9" fill="#acd0e4"/><rect x="1033.9" y="564.7" width="23" height="11.9" fill="#acd0e4"/><rect x="1055.9" y="564.7" width="23" height="11.9" fill="#acd0e4"/><rect x="1077.9" y="564.7" width="23" height="11.9" fill="#dee6f2"/><rect x="1099.9" y="564.7" width="23" height="11.9" fill="#dee6f2"/><rect x="1121.9" y="564.7" width="23" height="11.9" fill="#acd0e4"/><rect x="1143.9" y="564.7" width="23" height="11.9" fill="#acd0e4"/><rect x="1165.9" y="564.7" width="23" height="11.9" fill="#7db9d6"/><rect x="1187.9" y="564.7" width="23" height="11.9" fill="#acd0e4"/><rect x="1209.9" y="564.7" width="23" height="11.9" fill="#acd0e4"/><rect x="1231.9" y="564.7" width="23" height="11.9" fill="#56a4be"/><rect x="1253.9" y="564.7" width="23" height="11.9" fill="#acd0e4"/><rect x="1275.9" y="564.7" width="23" height="11.9" fill="#7db9d6"/><rect x="1297.9" y="564.7" width="23" height="11.9" fill="#acd0e4"/><rect x="1319.9" y="564.7" width="23" height="11.9" fill="#acd0e4"/><rect x="769.9" y="575.7" width="23" height="11.9" fill="#7db9d6"/><rect x="791.9" y="575.7" width="23" height="11.9" fill="#56a4be"/><rect x="813.9" y="575.7" width="23" height="11.9" fill="#40968c"/><rect x="835.9" y="575.7" width="23" height="11.9" fill="#acd0e4"/><rect x="857.9" y="575.7" width="23" height="11.9" fill="#acd0e4"/><rect x="879.9" y="575.7" width="23" height="11.9" fill="#acd0e4"/><rect x="901.9" y="575.7" width="23" height="11.9" fill="#acd0e4"/><rect x="923.9" y="575.7" width="23" height="11.9" fill="#7db9d6"/><rect x="945.9" y="575.7" width="23" height="11.9" fill="#7db9d6"/><rect x="967.9" y="575.7" width="23" height="11.9" fill="#acd0e4"/><rect x="989.9" y="575.7" width="23" height="11.9" fill="#acd0e4"/><rect x="1011.9" y="575.7" width="23" height="11.9" fill="#acd0e4"/><rect x="1033.9" y="575.7" width="23" height="11.9" fill="#acd0e4"/><rect x="1055.9" y="575.7" width="23" height="11.9" fill="#dee6f2"/><rect x="1077.9" y="575.7" width="23" height="11.9" fill="#dee6f2"/><rect x="1099.9" y="575.7" width="23" height="11.9" fill="#dee6f2"/><rect x="1121.9" y="575.7" width="23" height="11.9" fill="#acd0e4"/><rect x="1143.9" y="575.7" width="23" height="11.9" fill="#7db9d6"/><rect x="1165.9" y="575.7" width="23" height="11.9" fill="#acd0e4"/><rect x="1187.9" y="575.7" width="23" height="11.9" fill="#dee6f2"/><rect x="1209.9" y="575.7" width="23" height="11.9" fill="#acd0e4"/><rect x="1231.9" y="575.7" width="23" height="11.9" fill="#acd0e4"/><rect x="1253.9" y="575.7" width="23" height="11.9" fill="#7db9d6"/><rect x="1275.9" y="575.7" width="23" height="11.9" fill="#acd0e4"/><rect x="1297.9" y="575.7" width="23" height="11.9" fill="#acd0e4"/><rect x="1319.9" y="575.7" width="23" height="11.9" fill="#7db9d6"/><rect x="769.9" y="586.6" width="23" height="11.9" fill="#acd0e4"/><rect x="791.9" y="586.6" width="23" height="11.9" fill="#7db9d6"/><rect x="813.9" y="586.6" width="23" height="11.9" fill="#56a4be"/><rect x="835.9" y="586.6" width="23" height="11.9" fill="#7db9d6"/><rect x="857.9" y="586.6" width="23" height="11.9" fill="#acd0e4"/><rect x="879.9" y="586.6" width="23" height="11.9" fill="#acd0e4"/><rect x="901.9" y="586.6" width="23" height="11.9" fill="#7db9d6"/><rect x="923.9" y="586.6" width="23" height="11.9" fill="#56a4be"/><rect x="945.9" y="586.6" width="23" height="11.9" fill="#40968c"/><rect x="967.9" y="586.6" width="23" height="11.9" fill="#acd0e4"/><rect x="989.9" y="586.6" width="23" height="11.9" fill="#acd0e4"/><rect x="1011.9" y="586.6" width="23" height="11.9" fill="#7db9d6"/><rect x="1033.9" y="586.6" width="23" height="11.9" fill="#acd0e4"/><rect x="1055.9" y="586.6" width="23" height="11.9" fill="#acd0e4"/><rect x="1077.9" y="586.6" width="23" height="11.9" fill="#acd0e4"/><rect x="1099.9" y="586.6" width="23" height="11.9" fill="#acd0e4"/><rect x="1121.9" y="586.6" width="23" height="11.9" fill="#7db9d6"/><rect x="1143.9" y="586.6" width="23" height="11.9" fill="#7db9d6"/><rect x="1165.9" y="586.6" width="23" height="11.9" fill="#acd0e4"/><rect x="1187.9" y="586.6" width="23" height="11.9" fill="#acd0e4"/><rect x="1209.9" y="586.6" width="23" height="11.9" fill="#dee6f2"/><rect x="1231.9" y="586.6" width="23" height="11.9" fill="#acd0e4"/><rect x="1253.9" y="586.6" width="23" height="11.9" fill="#7db9d6"/><rect x="1275.9" y="586.6" width="23" height="11.9" fill="#7db9d6"/><rect x="1297.9" y="586.6" width="23" height="11.9" fill="#7db9d6"/><rect x="1319.9" y="586.6" width="23" height="11.9" fill="#acd0e4"/><rect x="769.9" y="597.6" width="23" height="11.9" fill="#acd0e4"/><rect x="791.9" y="597.6" width="23" height="11.9" fill="#acd0e4"/><rect x="813.9" y="597.6" width="23" height="11.9" fill="#acd0e4"/><rect x="835.9" y="597.6" width="23" height="11.9" fill="#acd0e4"/><rect x="857.9" y="597.6" width="23" height="11.9" fill="#acd0e4"/><rect x="879.9" y="597.6" width="23" height="11.9" fill="#7db9d6"/><rect x="901.9" y="597.6" width="23" height="11.9" fill="#56a4be"/><rect x="923.9" y="597.6" width="23" height="11.9" fill="#32846a"/><rect x="945.9" y="597.6" width="23" height="11.9" fill="#7db9d6"/><rect x="967.9" y="597.6" width="23" height="11.9" fill="#acd0e4"/><rect x="989.9" y="597.6" width="23" height="11.9" fill="#56a4be"/><rect x="1011.9" y="597.6" width="23" height="11.9" fill="#40968c"/><rect x="1033.9" y="597.6" width="23" height="11.9" fill="#7db9d6"/><rect x="1055.9" y="597.6" width="23" height="11.9" fill="#acd0e4"/><rect x="1077.9" y="597.6" width="23" height="11.9" fill="#acd0e4"/><rect x="1099.9" y="597.6" width="23" height="11.9" fill="#dee6f2"/><rect x="1121.9" y="597.6" width="23" height="11.9" fill="#acd0e4"/><rect x="1143.9" y="597.6" width="23" height="11.9" fill="#acd0e4"/><rect x="1165.9" y="597.6" width="23" height="11.9" fill="#acd0e4"/><rect x="1187.9" y="597.6" width="23" height="11.9" fill="#acd0e4"/><rect x="1209.9" y="597.6" width="23" height="11.9" fill="#dee6f2"/><rect x="1231.9" y="597.6" width="23" height="11.9" fill="#acd0e4"/><rect x="1253.9" y="597.6" width="23" height="11.9" fill="#7db9d6"/><rect x="1275.9" y="597.6" width="23" height="11.9" fill="#56a4be"/><rect x="1297.9" y="597.6" width="23" height="11.9" fill="#acd0e4"/><rect x="1319.9" y="597.6" width="23" height="11.9" fill="#7db9d6"/><rect x="769.9" y="608.5" width="23" height="11.9" fill="#acd0e4"/><rect x="791.9" y="608.5" width="23" height="11.9" fill="#acd0e4"/><rect x="813.9" y="608.5" width="23" height="11.9" fill="#acd0e4"/><rect x="835.9" y="608.5" width="23" height="11.9" fill="#acd0e4"/><rect x="857.9" y="608.5" width="23" height="11.9" fill="#acd0e4"/><rect x="879.9" y="608.5" width="23" height="11.9" fill="#acd0e4"/><rect x="901.9" y="608.5" width="23" height="11.9" fill="#56a4be"/><rect x="923.9" y="608.5" width="23" height="11.9" fill="#40968c"/><rect x="945.9" y="608.5" width="23" height="11.9" fill="#7db9d6"/><rect x="967.9" y="608.5" width="23" height="11.9" fill="#56a4be"/><rect x="989.9" y="608.5" width="23" height="11.9" fill="#40968c"/><rect x="1011.9" y="608.5" width="23" height="11.9" fill="#56a4be"/><rect x="1033.9" y="608.5" width="23" height="11.9" fill="#acd0e4"/><rect x="1055.9" y="608.5" width="23" height="11.9" fill="#7db9d6"/><rect x="1077.9" y="608.5" width="23" height="11.9" fill="#acd0e4"/><rect x="1099.9" y="608.5" width="23" height="11.9" fill="#acd0e4"/><rect x="1121.9" y="608.5" width="23" height="11.9" fill="#acd0e4"/><rect x="1143.9" y="608.5" width="23" height="11.9" fill="#7db9d6"/><rect x="1165.9" y="608.5" width="23" height="11.9" fill="#7db9d6"/><rect x="1187.9" y="608.5" width="23" height="11.9" fill="#acd0e4"/><rect x="1209.9" y="608.5" width="23" height="11.9" fill="#acd0e4"/><rect x="1231.9" y="608.5" width="23" height="11.9" fill="#acd0e4"/><rect x="1253.9" y="608.5" width="23" height="11.9" fill="#acd0e4"/><rect x="1275.9" y="608.5" width="23" height="11.9" fill="#7db9d6"/><rect x="1297.9" y="608.5" width="23" height="11.9" fill="#7db9d6"/><rect x="1319.9" y="608.5" width="23" height="11.9" fill="#7db9d6"/><rect x="769.9" y="619.4" width="23" height="11.9" fill="#acd0e4"/><rect x="791.9" y="619.4" width="23" height="11.9" fill="#acd0e4"/><rect x="813.9" y="619.4" width="23" height="11.9" fill="#acd0e4"/><rect x="835.9" y="619.4" width="23" height="11.9" fill="#acd0e4"/><rect x="857.9" y="619.4" width="23" height="11.9" fill="#acd0e4"/><rect x="879.9" y="619.4" width="23" height="11.9" fill="#acd0e4"/><rect x="901.9" y="619.4" width="23" height="11.9" fill="#acd0e4"/><rect x="923.9" y="619.4" width="23" height="11.9" fill="#7db9d6"/><rect x="945.9" y="619.4" width="23" height="11.9" fill="#56a4be"/><rect x="967.9" y="619.4" width="23" height="11.9" fill="#7db9d6"/><rect x="989.9" y="619.4" width="23" height="11.9" fill="#acd0e4"/><rect x="1011.9" y="619.4" width="23" height="11.9" fill="#acd0e4"/><rect x="1033.9" y="619.4" width="23" height="11.9" fill="#acd0e4"/><rect x="1055.9" y="619.4" width="23" height="11.9" fill="#56a4be"/><rect x="1077.9" y="619.4" width="23" height="11.9" fill="#40968c"/><rect x="1099.9" y="619.4" width="23" height="11.9" fill="#56a4be"/><rect x="1121.9" y="619.4" width="23" height="11.9" fill="#56a4be"/><rect x="1143.9" y="619.4" width="23" height="11.9" fill="#56a4be"/><rect x="1165.9" y="619.4" width="23" height="11.9" fill="#56a4be"/><rect x="1187.9" y="619.4" width="23" height="11.9" fill="#7db9d6"/><rect x="1209.9" y="619.4" width="23" height="11.9" fill="#dee6f2"/><rect x="1231.9" y="619.4" width="23" height="11.9" fill="#acd0e4"/><rect x="1253.9" y="619.4" width="23" height="11.9" fill="#acd0e4"/><rect x="1275.9" y="619.4" width="23" height="11.9" fill="#acd0e4"/><rect x="1297.9" y="619.4" width="23" height="11.9" fill="#7db9d6"/><rect x="1319.9" y="619.4" width="23" height="11.9" fill="#7db9d6"/><rect x="769.9" y="630.4" width="23" height="11.9" fill="#7db9d6"/><rect x="791.9" y="630.4" width="23" height="11.9" fill="#7db9d6"/><rect x="813.9" y="630.4" width="23" height="11.9" fill="#7db9d6"/><rect x="835.9" y="630.4" width="23" height="11.9" fill="#7db9d6"/><rect x="857.9" y="630.4" width="23" height="11.9" fill="#acd0e4"/><rect x="879.9" y="630.4" width="23" height="11.9" fill="#dee6f2"/><rect x="901.9" y="630.4" width="23" height="11.9" fill="#acd0e4"/><rect x="923.9" y="630.4" width="23" height="11.9" fill="#acd0e4"/><rect x="945.9" y="630.4" width="23" height="11.9" fill="#7db9d6"/><rect x="967.9" y="630.4" width="23" height="11.9" fill="#acd0e4"/><rect x="989.9" y="630.4" width="23" height="11.9" fill="#acd0e4"/><rect x="1011.9" y="630.4" width="23" height="11.9" fill="#acd0e4"/><rect x="1033.9" y="630.4" width="23" height="11.9" fill="#acd0e4"/><rect x="1055.9" y="630.4" width="23" height="11.9" fill="#40968c"/><rect x="1077.9" y="630.4" width="23" height="11.9" fill="#32846a"/><rect x="1099.9" y="630.4" width="23" height="11.9" fill="#40968c"/><rect x="1121.9" y="630.4" width="23" height="11.9" fill="#40968c"/><rect x="1143.9" y="630.4" width="23" height="11.9" fill="#40968c"/><rect x="1165.9" y="630.4" width="23" height="11.9" fill="#40968c"/><rect x="1187.9" y="630.4" width="23" height="11.9" fill="#7db9d6"/><rect x="1209.9" y="630.4" width="23" height="11.9" fill="#acd0e4"/><rect x="1231.9" y="630.4" width="23" height="11.9" fill="#acd0e4"/><rect x="1253.9" y="630.4" width="23" height="11.9" fill="#acd0e4"/><rect x="1275.9" y="630.4" width="23" height="11.9" fill="#7db9d6"/><rect x="1297.9" y="630.4" width="23" height="11.9" fill="#7db9d6"/><rect x="1319.9" y="630.4" width="23" height="11.9" fill="#7db9d6"/><rect x="769.9" y="641.3" width="23" height="11.9" fill="#56a4be"/><rect x="791.9" y="641.3" width="23" height="11.9" fill="#56a4be"/><rect x="813.9" y="641.3" width="23" height="11.9" fill="#56a4be"/><rect x="835.9" y="641.3" width="23" height="11.9" fill="#56a4be"/><rect x="857.9" y="641.3" width="23" height="11.9" fill="#acd0e4"/><rect x="879.9" y="641.3" width="23" height="11.9" fill="#acd0e4"/><rect x="901.9" y="641.3" width="23" height="11.9" fill="#acd0e4"/><rect x="923.9" y="641.3" width="23" height="11.9" fill="#7db9d6"/><rect x="945.9" y="641.3" width="23" height="11.9" fill="#56a4be"/><rect x="967.9" y="641.3" width="23" height="11.9" fill="#40968c"/><rect x="989.9" y="641.3" width="23" height="11.9" fill="#7db9d6"/><rect x="1011.9" y="641.3" width="23" height="11.9" fill="#acd0e4"/><rect x="1033.9" y="641.3" width="23" height="11.9" fill="#acd0e4"/><rect x="1055.9" y="641.3" width="23" height="11.9" fill="#40968c"/><rect x="1077.9" y="641.3" width="23" height="11.9" fill="#40968c"/><rect x="1099.9" y="641.3" width="23" height="11.9" fill="#56a4be"/><rect x="1121.9" y="641.3" width="23" height="11.9" fill="#40968c"/><rect x="1143.9" y="641.3" width="23" height="11.9" fill="#40968c"/><rect x="1165.9" y="641.3" width="23" height="11.9" fill="#7db9d6"/><rect x="1187.9" y="641.3" width="23" height="11.9" fill="#7db9d6"/><rect x="1209.9" y="641.3" width="23" height="11.9" fill="#acd0e4"/><rect x="1231.9" y="641.3" width="23" height="11.9" fill="#acd0e4"/><rect x="1253.9" y="641.3" width="23" height="11.9" fill="#acd0e4"/><rect x="1275.9" y="641.3" width="23" height="11.9" fill="#7db9d6"/><rect x="1297.9" y="641.3" width="23" height="11.9" fill="#7db9d6"/><rect x="1319.9" y="641.3" width="23" height="11.9" fill="#7db9d6"/><rect x="769.9" y="652.2" width="23" height="11.9" fill="#56a4be"/><rect x="791.9" y="652.2" width="23" height="11.9" fill="#56a4be"/><rect x="813.9" y="652.2" width="23" height="11.9" fill="#56a4be"/><rect x="835.9" y="652.2" width="23" height="11.9" fill="#56a4be"/><rect x="857.9" y="652.2" width="23" height="11.9" fill="#56a4be"/><rect x="879.9" y="652.2" width="23" height="11.9" fill="#56a4be"/><rect x="901.9" y="652.2" width="23" height="11.9" fill="#56a4be"/><rect x="923.9" y="652.2" width="23" height="11.9" fill="#7db9d6"/><rect x="945.9" y="652.2" width="23" height="11.9" fill="#7db9d6"/><rect x="967.9" y="652.2" width="23" height="11.9" fill="#40968c"/><rect x="989.9" y="652.2" width="23" height="11.9" fill="#56a4be"/><rect x="1011.9" y="652.2" width="23" height="11.9" fill="#acd0e4"/><rect x="1033.9" y="652.2" width="23" height="11.9" fill="#acd0e4"/><rect x="1055.9" y="652.2" width="23" height="11.9" fill="#56a4be"/><rect x="1077.9" y="652.2" width="23" height="11.9" fill="#56a4be"/><rect x="1099.9" y="652.2" width="23" height="11.9" fill="#56a4be"/><rect x="1121.9" y="652.2" width="23" height="11.9" fill="#7db9d6"/><rect x="1143.9" y="652.2" width="23" height="11.9" fill="#7db9d6"/><rect x="1165.9" y="652.2" width="23" height="11.9" fill="#7db9d6"/><rect x="1187.9" y="652.2" width="23" height="11.9" fill="#dee6f2"/><rect x="1209.9" y="652.2" width="23" height="11.9" fill="#dee6f2"/><rect x="1231.9" y="652.2" width="23" height="11.9" fill="#56a4be"/><rect x="1253.9" y="652.2" width="23" height="11.9" fill="#56a4be"/><rect x="1275.9" y="652.2" width="23" height="11.9" fill="#56a4be"/><rect x="1297.9" y="652.2" width="23" height="11.9" fill="#56a4be"/><rect x="1319.9" y="652.2" width="23" height="11.9" fill="#56a4be"/><rect x="769.9" y="663.2" width="23" height="11.9" fill="#56a4be"/><rect x="791.9" y="663.2" width="23" height="11.9" fill="#56a4be"/><rect x="813.9" y="663.2" width="23" height="11.9" fill="#56a4be"/><rect x="835.9" y="663.2" width="23" height="11.9" fill="#56a4be"/><rect x="857.9" y="663.2" width="23" height="11.9" fill="#56a4be"/><rect x="879.9" y="663.2" width="23" height="11.9" fill="#40968c"/><rect x="901.9" y="663.2" width="23" height="11.9" fill="#56a4be"/><rect x="923.9" y="663.2" width="23" height="11.9" fill="#7db9d6"/><rect x="945.9" y="663.2" width="23" height="11.9" fill="#7db9d6"/><rect x="967.9" y="663.2" width="23" height="11.9" fill="#7db9d6"/><rect x="989.9" y="663.2" width="23" height="11.9" fill="#7db9d6"/><rect x="1011.9" y="663.2" width="23" height="11.9" fill="#acd0e4"/><rect x="1033.9" y="663.2" width="23" height="11.9" fill="#acd0e4"/><rect x="1055.9" y="663.2" width="23" height="11.9" fill="#56a4be"/><rect x="1077.9" y="663.2" width="23" height="11.9" fill="#56a4be"/><rect x="1099.9" y="663.2" width="23" height="11.9" fill="#7db9d6"/><rect x="1121.9" y="663.2" width="23" height="11.9" fill="#7db9d6"/><rect x="1143.9" y="663.2" width="23" height="11.9" fill="#7db9d6"/><rect x="1165.9" y="663.2" width="23" height="11.9" fill="#acd0e4"/><rect x="1187.9" y="663.2" width="23" height="11.9" fill="#acd0e4"/><rect x="1209.9" y="663.2" width="23" height="11.9" fill="#7db9d6"/><rect x="1231.9" y="663.2" width="23" height="11.9" fill="#7db9d6"/><rect x="1253.9" y="663.2" width="23" height="11.9" fill="#7db9d6"/><rect x="1275.9" y="663.2" width="23" height="11.9" fill="#7db9d6"/><rect x="1297.9" y="663.2" width="23" height="11.9" fill="#7db9d6"/><rect x="1319.9" y="663.2" width="23" height="11.9" fill="#7db9d6"/><rect x="769.9" y="674.1" width="23" height="11.9" fill="#7db9d6"/><rect x="791.9" y="674.1" width="23" height="11.9" fill="#7db9d6"/><rect x="813.9" y="674.1" width="23" height="11.9" fill="#7db9d6"/><rect x="835.9" y="674.1" width="23" height="11.9" fill="#7db9d6"/><rect x="857.9" y="674.1" width="23" height="11.9" fill="#7db9d6"/><rect x="879.9" y="674.1" width="23" height="11.9" fill="#7db9d6"/><rect x="901.9" y="674.1" width="23" height="11.9" fill="#7db9d6"/><rect x="923.9" y="674.1" width="23" height="11.9" fill="#7db9d6"/><rect x="945.9" y="674.1" width="23" height="11.9" fill="#7db9d6"/><rect x="967.9" y="674.1" width="23" height="11.9" fill="#56a4be"/><rect x="989.9" y="674.1" width="23" height="11.9" fill="#56a4be"/><rect x="1011.9" y="674.1" width="23" height="11.9" fill="#7db9d6"/><rect x="1033.9" y="674.1" width="23" height="11.9" fill="#7db9d6"/><rect x="1055.9" y="674.1" width="23" height="11.9" fill="#7db9d6"/><rect x="1077.9" y="674.1" width="23" height="11.9" fill="#7db9d6"/><rect x="1099.9" y="674.1" width="23" height="11.9" fill="#56a4be"/><rect x="1121.9" y="674.1" width="23" height="11.9" fill="#7db9d6"/><rect x="1143.9" y="674.1" width="23" height="11.9" fill="#7db9d6"/><rect x="1165.9" y="674.1" width="23" height="11.9" fill="#acd0e4"/><rect x="1187.9" y="674.1" width="23" height="11.9" fill="#7db9d6"/><rect x="1209.9" y="674.1" width="23" height="11.9" fill="#7db9d6"/><rect x="1231.9" y="674.1" width="23" height="11.9" fill="#7db9d6"/><rect x="1253.9" y="674.1" width="23" height="11.9" fill="#7db9d6"/><rect x="1275.9" y="674.1" width="23" height="11.9" fill="#7db9d6"/><rect x="1297.9" y="674.1" width="23" height="11.9" fill="#7db9d6"/><rect x="1319.9" y="674.1" width="23" height="11.9" fill="#7db9d6"/><rect x="769.9" y="685.1" width="23" height="11.9" fill="#7db9d6"/><rect x="791.9" y="685.1" width="23" height="11.9" fill="#7db9d6"/><rect x="813.9" y="685.1" width="23" height="11.9" fill="#7db9d6"/><rect x="835.9" y="685.1" width="23" height="11.9" fill="#7db9d6"/><rect x="857.9" y="685.1" width="23" height="11.9" fill="#7db9d6"/><rect x="879.9" y="685.1" width="23" height="11.9" fill="#7db9d6"/><rect x="901.9" y="685.1" width="23" height="11.9" fill="#7db9d6"/><rect x="923.9" y="685.1" width="23" height="11.9" fill="#7db9d6"/><rect x="945.9" y="685.1" width="23" height="11.9" fill="#7db9d6"/><rect x="967.9" y="685.1" width="23" height="11.9" fill="#56a4be"/><rect x="989.9" y="685.1" width="23" height="11.9" fill="#56a4be"/><rect x="1011.9" y="685.1" width="23" height="11.9" fill="#56a4be"/><rect x="1033.9" y="685.1" width="23" height="11.9" fill="#7db9d6"/><rect x="1055.9" y="685.1" width="23" height="11.9" fill="#7db9d6"/><rect x="1077.9" y="685.1" width="23" height="11.9" fill="#acd0e4"/><rect x="1099.9" y="685.1" width="23" height="11.9" fill="#7db9d6"/><rect x="1121.9" y="685.1" width="23" height="11.9" fill="#7db9d6"/><rect x="1143.9" y="685.1" width="23" height="11.9" fill="#7db9d6"/><rect x="1165.9" y="685.1" width="23" height="11.9" fill="#7db9d6"/><rect x="1187.9" y="685.1" width="23" height="11.9" fill="#7db9d6"/><rect x="1209.9" y="685.1" width="23" height="11.9" fill="#7db9d6"/><rect x="1231.9" y="685.1" width="23" height="11.9" fill="#7db9d6"/><rect x="1253.9" y="685.1" width="23" height="11.9" fill="#7db9d6"/><rect x="1275.9" y="685.1" width="23" height="11.9" fill="#7db9d6"/><rect x="1297.9" y="685.1" width="23" height="11.9" fill="#7db9d6"/><rect x="1319.9" y="685.1" width="23" height="11.9" fill="#7db9d6"/></g>
<g filter="url(#bl3)" opacity="0.9"><path d="M932.8,473.5 L944.2,468.5 L957.0,467.1 L959.9,462.8 L964.2,463.5 L965.6,467.8 L994.1,472.1 L1004.1,475.7 L1011.2,477.8 L1010.5,481.4 L1005.5,487.1 L1001.3,492.8 L992.7,497.1 L988.4,504.2 L979.9,514.2 L974.2,521.3 L965.6,523.5 L934.2,523.5 L928.5,519.9 L929.2,514.2 L934.2,508.5 L935.6,502.8 L941.3,489.9 L941.3,487.1 L915.7,485.6 L914.2,480.7 L922.8,479.2 L932.8,474.2 Z" fill="#3d8e72" stroke="#3d8e72" stroke-width="7" stroke-linejoin="round"/><path d="M887.0,485.0 L901.0,484.0 L902.0,492.0 L888.0,494.0 Z" fill="#3d8e72" stroke="#3d8e72" stroke-width="7" stroke-linejoin="round"/></g><g filter="url(#bl1)"><path d="M932.8,473.5 L944.2,468.5 L957.0,467.1 L959.9,462.8 L964.2,463.5 L965.6,467.8 L994.1,472.1 L1004.1,475.7 L1011.2,477.8 L1010.5,481.4 L1005.5,487.1 L1001.3,492.8 L992.7,497.1 L988.4,504.2 L979.9,514.2 L974.2,521.3 L965.6,523.5 L934.2,523.5 L928.5,519.9 L929.2,514.2 L934.2,508.5 L935.6,502.8 L941.3,489.9 L941.3,487.1 L915.7,485.6 L914.2,480.7 L922.8,479.2 L932.8,474.2 Z" fill="url(#stp2)"/><path d="M887.0,485.0 L901.0,484.0 L902.0,492.0 L888.0,494.0 Z" fill="url(#stp)"/></g>
<path d="M854.2,654.9 L854.2,654.9 L855.4,654.2 L856.7,653.6 L858.1,653 L859.5,652.5 L860.9,651.9 L862.3,651.3 L863.8,650.8 L865.3,650.2 L866.9,649.7 L868.4,649.2 L870.1,648.7 L871.7,648.2 L873.4,647.7 L875.1,647.2 L876.8,646.7 L878.6,646.3 L880.3,645.8 L882.2,645.4 L884,645 L885.9,644.5 L887.8,644.1 L889.7,643.7 L891.6,643.3 L893.6,642.9 L895.6,642.5 L897.6,642.2 L899.6,641.8 L901.7,641.4 L903.8,641.1 L905.9,640.7 L908,640.4 L910.1,640.1 L912.3,639.7 L914.5,639.4 L916.7,639.1 L918.9,638.8 L921.1,638.5 L923.4,638.2 L925.7,637.9 L927.9,637.7 L930.3,637.4 L932.6,637.1 L934.9,636.9 L937.3,636.6 L939.6,636.4 L942,636.2 L944.4,635.9 L946.8,635.7 L949.3,635.5 L951.7,635.3 L954.2,635.1 L956.6,634.9 L959.1,634.7 L961.6,634.5 L964.1,634.3 L966.6,634.1 L969.1,634 L971.7,633.8 L974.2,633.6 L976.8,633.5 L979.3,633.3 L981.9,633.2 L984.5,633.1 L987.1,632.9 L989.7,632.8 L992.3,632.7 L994.9,632.6 L997.5,632.4 L1000.2,632.3 L1002.8,632.2 L1005.4,632.1 L1008.1,632.1 L1010.7,632 L1013.4,631.9 L1016.1,631.8 L1018.7,631.7 L1021.4,631.7 L1024.1,631.6 L1026.8,631.6 L1029.4,631.5 L1032.1,631.5 L1034.8,631.4 L1037.5,631.4 L1040.2,631.3 L1042.9,631.3 L1045.6,631.3 L1048.3,631.3 L1051,631.3 L1053.7,631.3 L1056.4,631.3 L1059.1,631.3 L1061.8,631.3 L1064.5,631.3 L1067.2,631.3 L1069.9,631.3 L1072.6,631.3 L1075.3,631.4 L1078,631.4 L1080.7,631.5 L1083.4,631.5 L1086,631.6 L1088.7,631.6 L1091.4,631.7 L1094.1,631.7 L1096.7,631.8 L1099.4,631.9 L1102.1,632 L1104.7,632.1 L1107.4,632.1 L1110,632.2 L1112.6,632.3 L1115.3,632.4 L1117.9,632.6 L1120.5,632.7 L1123.1,632.8 L1125.7,632.9 L1128.3,633.1 L1130.9,633.2 L1133.5,633.3 L1136,633.5 L1138.6,633.6 L1141.1,633.8 L1143.7,634 L1146.2,634.1 L1148.7,634.3 L1151.2,634.5 L1153.7,634.7 L1156.2,634.9 L1158.6,635.1 L1161.1,635.3 L1163.5,635.5 L1166,635.7 L1168.4,635.9 L1170.8,636.2 L1173.2,636.4 L1175.5,636.6 L1177.9,636.9 L1180.2,637.1 L1182.5,637.4 L1184.9,637.7 L1187.1,637.9 L1189.4,638.2 L1191.7,638.5 L1193.9,638.8 L1196.1,639.1 L1198.3,639.4 L1200.5,639.7 L1202.7,640.1 L1204.8,640.4 L1206.9,640.7 L1209,641.1 L1211.1,641.4 L1213.2,641.8 L1215.2,642.2 L1217.2,642.5 L1219.2,642.9 L1221.2,643.3 L1223.1,643.7 L1225,644.1 L1226.9,644.5 L1228.8,645 L1230.6,645.4 L1232.5,645.8 L1234.2,646.3 L1236,646.7 L1237.7,647.2 L1239.4,647.7 L1241.1,648.2 L1242.7,648.7 L1244.4,649.2 L1245.9,649.7 L1247.5,650.2 L1249,650.8 L1250.5,651.3 L1251.9,651.9 L1253.3,652.5 L1254.7,653 L1256.1,653.6 L1257.4,654.2 M770.4,554.3 L770.4,554.3 L772.9,554.3 L775.4,554.3 L778,554.3 L780.6,554.3 L783.1,554.3 L785.8,554.3 L788.4,554.3 L791,554.3 L793.7,554.3 L796.4,554.3 L799.1,554.3 L801.9,554.3 L804.6,554.3 L807.4,554.3 L810.2,554.3 L813,554.3 L815.8,554.3 L818.7,554.3 L821.5,554.3 L824.4,554.3 L827.3,554.3 L830.2,554.3 L833.2,554.3 L836.1,554.3 L839.1,554.3 L842.1,554.3 L845.1,554.3 L848.1,554.3 L851.1,554.3 L854.2,554.3 L857.2,554.3 L860.3,554.3 L863.4,554.3 L866.5,554.3 L869.6,554.3 L872.8,554.3 L875.9,554.3 L879.1,554.3 L882.3,554.3 L885.5,554.3 L888.7,554.3 L891.9,554.3 L895.1,554.3 L898.4,554.3 L901.6,554.3 L904.9,554.3 L908.2,554.3 L911.5,554.3 L914.8,554.3 L918.1,554.3 L921.4,554.3 L924.7,554.3 L928.1,554.3 L931.4,554.3 L934.8,554.3 L938.1,554.3 L941.5,554.3 L944.9,554.3 L948.3,554.3 L951.7,554.3 L955.1,554.3 L958.6,554.3 L962,554.3 L965.4,554.3 L968.9,554.3 L972.3,554.3 L975.8,554.3 L979.2,554.3 L982.7,554.3 L986.2,554.3 L989.6,554.3 L993.1,554.3 L996.6,554.3 L1000.1,554.3 L1003.6,554.3 L1007.1,554.3 L1010.6,554.3 L1014.1,554.3 L1017.6,554.3 L1021.2,554.3 L1024.7,554.3 L1028.2,554.3 L1031.7,554.3 L1035.2,554.3 L1038.8,554.3 L1042.3,554.3 L1045.8,554.3 L1049.3,554.3 L1052.9,554.3 L1056.4,554.3 L1059.9,554.3 L1063.5,554.3 L1067,554.3 L1070.5,554.3 L1074,554.3 L1077.6,554.3 L1081.1,554.3 L1084.6,554.3 L1088.1,554.3 L1091.7,554.3 L1095.2,554.3 L1098.7,554.3 L1102.2,554.3 L1105.7,554.3 L1109.2,554.3 L1112.7,554.3 L1116.2,554.3 L1119.7,554.3 L1123.2,554.3 L1126.6,554.3 L1130.1,554.3 L1133.6,554.3 L1137,554.3 L1140.5,554.3 L1143.9,554.3 L1147.4,554.3 L1150.8,554.3 L1154.3,554.3 L1157.7,554.3 L1161.1,554.3 L1164.5,554.3 L1167.9,554.3 L1171.3,554.3 L1174.7,554.3 L1178,554.3 L1181.4,554.3 L1184.7,554.3 L1188.1,554.3 L1191.4,554.3 L1194.7,554.3 L1198,554.3 L1201.3,554.3 L1204.6,554.3 L1207.9,554.3 L1211.2,554.3 L1214.4,554.3 L1217.7,554.3 L1220.9,554.3 L1224.1,554.3 L1227.3,554.3 L1230.5,554.3 L1233.7,554.3 L1236.9,554.3 L1240,554.3 L1243.2,554.3 L1246.3,554.3 L1249.4,554.3 L1252.5,554.3 L1255.6,554.3 L1258.6,554.3 L1261.7,554.3 L1264.7,554.3 L1267.7,554.3 L1270.7,554.3 L1273.7,554.3 L1276.7,554.3 L1279.6,554.3 L1282.6,554.3 L1285.5,554.3 L1288.4,554.3 L1291.3,554.3 L1294.1,554.3 L1297,554.3 L1299.8,554.3 L1302.6,554.3 L1305.4,554.3 L1308.2,554.3 L1310.9,554.3 L1313.7,554.3 L1316.4,554.3 L1319.1,554.3 L1321.8,554.3 L1324.4,554.3 L1327,554.3 L1329.7,554.3 L1332.2,554.3 L1334.8,554.3 L1337.4,554.3 L1339.9,554.3 M854.2,453.7 L854.2,453.7 L855.4,454.4 L856.7,455 L858.1,455.6 L859.5,456.1 L860.9,456.7 L862.3,457.3 L863.8,457.8 L865.3,458.4 L866.9,458.9 L868.4,459.4 L870.1,459.9 L871.7,460.4 L873.4,460.9 L875.1,461.4 L876.8,461.9 L878.6,462.3 L880.3,462.8 L882.2,463.2 L884,463.6 L885.9,464.1 L887.8,464.5 L889.7,464.9 L891.6,465.3 L893.6,465.7 L895.6,466.1 L897.6,466.4 L899.6,466.8 L901.7,467.2 L903.8,467.5 L905.9,467.9 L908,468.2 L910.1,468.5 L912.3,468.9 L914.5,469.2 L916.7,469.5 L918.9,469.8 L921.1,470.1 L923.4,470.4 L925.7,470.7 L927.9,470.9 L930.3,471.2 L932.6,471.5 L934.9,471.7 L937.3,472 L939.6,472.2 L942,472.4 L944.4,472.7 L946.8,472.9 L949.3,473.1 L951.7,473.3 L954.2,473.5 L956.6,473.7 L959.1,473.9 L961.6,474.1 L964.1,474.3 L966.6,474.5 L969.1,474.6 L971.7,474.8 L974.2,475 L976.8,475.1 L979.3,475.3 L981.9,475.4 L984.5,475.5 L987.1,475.7 L989.7,475.8 L992.3,475.9 L994.9,476 L997.5,476.2 L1000.2,476.3 L1002.8,476.4 L1005.4,476.5 L1008.1,476.5 L1010.7,476.6 L1013.4,476.7 L1016.1,476.8 L1018.7,476.9 L1021.4,476.9 L1024.1,477 L1026.8,477 L1029.4,477.1 L1032.1,477.1 L1034.8,477.2 L1037.5,477.2 L1040.2,477.3 L1042.9,477.3 L1045.6,477.3 L1048.3,477.3 L1051,477.3 L1053.7,477.3 L1056.4,477.3 L1059.1,477.3 L1061.8,477.3 L1064.5,477.3 L1067.2,477.3 L1069.9,477.3 L1072.6,477.3 L1075.3,477.2 L1078,477.2 L1080.7,477.1 L1083.4,477.1 L1086,477 L1088.7,477 L1091.4,476.9 L1094.1,476.9 L1096.7,476.8 L1099.4,476.7 L1102.1,476.6 L1104.7,476.5 L1107.4,476.5 L1110,476.4 L1112.6,476.3 L1115.3,476.2 L1117.9,476 L1120.5,475.9 L1123.1,475.8 L1125.7,475.7 L1128.3,475.5 L1130.9,475.4 L1133.5,475.3 L1136,475.1 L1138.6,475 L1141.1,474.8 L1143.7,474.6 L1146.2,474.5 L1148.7,474.3 L1151.2,474.1 L1153.7,473.9 L1156.2,473.7 L1158.6,473.5 L1161.1,473.3 L1163.5,473.1 L1166,472.9 L1168.4,472.7 L1170.8,472.4 L1173.2,472.2 L1175.5,472 L1177.9,471.7 L1180.2,471.5 L1182.5,471.2 L1184.9,470.9 L1187.1,470.7 L1189.4,470.4 L1191.7,470.1 L1193.9,469.8 L1196.1,469.5 L1198.3,469.2 L1200.5,468.9 L1202.7,468.5 L1204.8,468.2 L1206.9,467.9 L1209,467.5 L1211.1,467.2 L1213.2,466.8 L1215.2,466.4 L1217.2,466.1 L1219.2,465.7 L1221.2,465.3 L1223.1,464.9 L1225,464.5 L1226.9,464.1 L1228.8,463.6 L1230.6,463.2 L1232.5,462.8 L1234.2,462.3 L1236,461.9 L1237.7,461.4 L1239.4,460.9 L1241.1,460.4 L1242.7,459.9 L1244.4,459.4 L1245.9,458.9 L1247.5,458.4 L1249,457.8 L1250.5,457.3 L1251.9,456.7 L1253.3,456.1 L1254.7,455.6 L1256.1,455 L1257.4,454.4 M1056.4,696.5 L1049.4,694.7 L1042.6,692.8 L1036,690.8 L1029.5,688.7 L1023.3,686.5 L1017.1,684.2 L1011.2,681.8 L1005.4,679.3 L999.8,676.8 L994.3,674.2 L989,671.5 L983.9,668.8 L978.9,666 L974.1,663.1 L969.5,660.2 L965,657.2 L960.7,654.1 L956.5,651 L952.5,647.8 L948.6,644.6 L944.9,641.4 L941.4,638.1 L938,634.7 L934.7,631.3 L931.6,627.9 L928.7,624.5 L925.9,621 L923.3,617.4 L920.8,613.9 L918.5,610.3 L916.3,606.7 L914.3,603 L912.4,599.4 L910.7,595.7 L909.1,592 L907.7,588.3 L906.4,584.5 L905.3,580.8 L904.3,577 L903.5,573.3 L902.8,569.5 L902.3,565.7 L901.9,561.9 L901.7,558.1 L901.6,554.3 L901.7,550.5 L901.9,546.7 L902.3,542.9 L902.8,539.1 L903.5,535.3 L904.3,531.6 L905.3,527.8 L906.4,524.1 L907.7,520.3 L909.1,516.6 L910.7,512.9 L912.4,509.2 L914.3,505.6 L916.3,501.9 L918.5,498.3 L920.8,494.7 L923.3,491.2 L925.9,487.6 L928.7,484.1 L931.6,480.7 L934.7,477.3 L938,473.9 L941.4,470.5 L944.9,467.2 L948.6,464 L952.5,460.8 L956.5,457.6 L960.7,454.5 L965,451.4 L969.5,448.4 L974.1,445.5 L978.9,442.6 L983.9,439.8 L989,437.1 L994.3,434.4 L999.8,431.8 L1005.4,429.3 L1011.2,426.8 L1017.1,424.4 L1023.3,422.1 L1029.5,419.9 L1036,417.8 L1042.6,415.8 L1049.4,413.9 L1056.4,412.1 M1056.4,696.5 L1056.4,694 L1056.4,691.5 L1056.4,688.9 L1056.4,686.2 L1056.4,683.6 L1056.4,680.9 L1056.4,678.1 L1056.4,675.3 L1056.4,672.5 L1056.4,669.6 L1056.4,666.8 L1056.4,663.8 L1056.4,660.9 L1056.4,657.9 L1056.4,654.9 L1056.4,651.8 L1056.4,648.7 L1056.4,645.6 L1056.4,642.5 L1056.4,639.3 L1056.4,636.1 L1056.4,632.9 L1056.4,629.6 L1056.4,626.4 L1056.4,623.1 L1056.4,619.8 L1056.4,616.4 L1056.4,613.1 L1056.4,609.7 L1056.4,606.3 L1056.4,603 L1056.4,599.5 L1056.4,596.1 L1056.4,592.7 L1056.4,589.2 L1056.4,585.8 L1056.4,582.3 L1056.4,578.8 L1056.4,575.3 L1056.4,571.8 L1056.4,568.3 L1056.4,564.8 L1056.4,561.3 L1056.4,557.8 L1056.4,554.3 L1056.4,550.8 L1056.4,547.3 L1056.4,543.8 L1056.4,540.3 L1056.4,536.8 L1056.4,533.3 L1056.4,529.8 L1056.4,526.3 L1056.4,522.8 L1056.4,519.4 L1056.4,515.9 L1056.4,512.5 L1056.4,509.1 L1056.4,505.6 L1056.4,502.3 L1056.4,498.9 L1056.4,495.5 L1056.4,492.2 L1056.4,488.8 L1056.4,485.5 L1056.4,482.2 L1056.4,479 L1056.4,475.7 L1056.4,472.5 L1056.4,469.3 L1056.4,466.1 L1056.4,463 L1056.4,459.9 L1056.4,456.8 L1056.4,453.7 L1056.4,450.7 L1056.4,447.7 L1056.4,444.8 L1056.4,441.8 L1056.4,439 L1056.4,436.1 L1056.4,433.3 L1056.4,430.5 L1056.4,427.7 L1056.4,425 L1056.4,422.4 L1056.4,419.7 L1056.4,417.1 L1056.4,414.6 L1056.4,412.1 M1056.4,696.5 L1063.4,694.7 L1070.2,692.8 L1076.8,690.8 L1083.3,688.7 L1089.5,686.5 L1095.7,684.2 L1101.6,681.8 L1107.4,679.3 L1113,676.8 L1118.5,674.2 L1123.8,671.5 L1128.9,668.8 L1133.9,666 L1138.7,663.1 L1143.3,660.2 L1147.8,657.2 L1152.1,654.1 L1156.3,651 L1160.3,647.8 L1164.2,644.6 L1167.9,641.4 L1171.4,638.1 L1174.8,634.7 L1178.1,631.3 L1181.2,627.9 L1184.1,624.5 L1186.9,621 L1189.5,617.4 L1192,613.9 L1194.3,610.3 L1196.5,606.7 L1198.5,603 L1200.4,599.4 L1202.1,595.7 L1203.7,592 L1205.1,588.3 L1206.4,584.5 L1207.5,580.8 L1208.5,577 L1209.3,573.3 L1210,569.5 L1210.5,565.7 L1210.9,561.9 L1211.1,558.1 L1211.2,554.3 L1211.1,550.5 L1210.9,546.7 L1210.5,542.9 L1210,539.1 L1209.3,535.3 L1208.5,531.6 L1207.5,527.8 L1206.4,524.1 L1205.1,520.3 L1203.7,516.6 L1202.1,512.9 L1200.4,509.2 L1198.5,505.6 L1196.5,501.9 L1194.3,498.3 L1192,494.7 L1189.5,491.2 L1186.9,487.6 L1184.1,484.1 L1181.2,480.7 L1178.1,477.3 L1174.8,473.9 L1171.4,470.5 L1167.9,467.2 L1164.2,464 L1160.3,460.8 L1156.3,457.6 L1152.1,454.5 L1147.8,451.4 L1143.3,448.4 L1138.7,445.5 L1133.9,442.6 L1128.9,439.8 L1123.8,437.1 L1118.5,434.4 L1113,431.8 L1107.4,429.3 L1101.6,426.8 L1095.7,424.4 L1089.5,422.1 L1083.3,419.9 L1076.8,417.8 L1070.2,415.8 L1063.4,413.9 L1056.4,412.1" fill="none" stroke="#111" stroke-opacity="0.9" stroke-width="1.3" stroke-dasharray="4.6,2.8"/>
<path d="M1283.5,472.8 L1288.8,480.4 L1295.5,486.8 L1296.7,491.7 L1299.5,499.9 L1303.9,506.5 L1307.5,510.9 L1312.2,519.8 L1312.1,520.6 L1314.9,525.5 L1318.5,528.8 L1321.6,532.1 L1324.8,536.6 L1328.2,540 L1332.1,543.7 L1335,541.9 L1338.9,542.5 M773.2,539.5 L775.9,538.9 L778,540.7 L778.7,543.9 L782,543.5 L783,546 L783,550.7 L782.2,555.5 L784.8,561.4 L786.7,566.1 L789.6,573.1 L792.4,580 L794.6,589.4 L797.5,595.1 L806.9,604.8 L816.3,614.3 L822.2,618.4 L830.2,624.1 L836.5,629 L840,630.2 L840.6,628.1 L843.8,627.4 L844.2,626.1 L842.2,620.6 L840.2,615.1 L836.2,610 L836.1,605.5 L832.7,600.3 L829.6,596.9 L830.2,593.9 L831.9,590.5 L831.9,585.1 L828.5,576.7 L825.4,571.4 L824.1,567.2 L824.3,563.9 L826,558.6 L828.8,553.2 L833.4,548 L837.7,542.8 L842.1,535.6 L844.7,530.5 L842,530.8 L838,531.7 L834.2,532.4 L833.4,529.4 L833.1,526.8 L832,522.4 L831.9,518.1 L832.8,513.8 L834.3,509.6 L835.8,506.4 L836.3,503.1 L838.3,498.9 L839.6,495.7 L843,490.7 L845.4,487.9 L842.6,487.6 L839.9,487.6 L838.3,485.4 L837.6,482.6 L830.7,486.4 L828.5,486.7 L827.6,483.9 L828.2,480.7 L827.5,479.2 L829.1,477.2 L833.2,474.8 L836.9,471.2 L834.4,471.2 L831.5,470.6 L828.4,470.1 M1288.4,472 L1287.3,473 L1283.5,472.8 M842.1,579.2 L846.6,586.3 L846.9,589.4 L848.8,596.6 L852.7,605.8 L850.8,607.1 L843.9,600.3 L840.3,592 L838.8,590 L840.8,587.1 L841.3,582.4 L842.1,579.2 M843,490.7 L841.7,494.9 L843.2,494 L842.6,495 L840.7,499.2 L838.9,503.4 L837.3,508.8 L836.2,514.1 L835.5,519.5 L834.8,523.7 L834.3,527.5 L836.5,527.4 L841.7,525.2 L845.2,523.7 L849.2,522 L854.5,519.3 L858.6,516.2 L861.3,514 L864.6,511.1 L866.9,509.3 L866.4,507 L864.8,506 L865.8,503 L866.7,501.7 L864.7,502.9 L861.7,505.1 L858,505.4 L857.4,504.7 L859.3,502.4 L859.4,501.4 L857.6,502.9 L858.4,500.2 L859.2,497.1 L861.6,493.4 L863.4,492.9 L864.1,494.5 L862.7,497.9 L863.9,500.1 L867.5,500.1 L867.7,502.8 L872.5,504.2 L876.7,504.6 L879.7,504.4 L879.5,507.2 L879.7,510.2 L879.9,513.2 L884.3,512.5 L882.2,517.2 L880.9,523.1 L880.9,528 L881.2,531.9 L881.6,536.8 L882.9,538.8 L884.4,537 L886.6,534.4 L888.3,531.1 L889.8,527.7 L890.5,524.4 L893.3,523.2 L895.1,521.7 L898.6,519.4 L902,516.7 L905.1,514.9 L907.4,513.3 L909,513.2 L911.7,512.4 L913.7,512.5 L913.2,515.5 L914.2,517.7 L914.1,521.5 L913.5,524.3 L915,524.7 L918.6,523.3 L918.6,526.3 L918.4,530 L917.8,532.8 L917.3,535.6 L916.2,539 L917.4,539.7 L918.8,542.2 L919,544.6 L920.2,548.7 L923.4,551.5 L925.1,551.7 L924.1,547.2 L923.5,544.5 L922.3,543 L920.5,541.4 L919.6,539.4 L919.2,537 L918.7,534.1 L920.5,531 L921.9,529.2 L922.4,530.7 L924.6,531.7 L925.3,533.9 L927.3,534.9 L927.6,537.6 L930.3,536.8 L932.2,534.9 L935,533.2 L936.2,529.5 L936.1,525.8 L934.1,523 L933.4,519.7 L935.3,517 L938.3,514.9 L941.1,515 L941.5,517.2 L943.8,515.1 L947.5,513.6 L949.2,513.5 L952.6,512.7 L955.9,510.1 L959.1,507.9 L961.1,505.8 L964.3,503.3 L965.8,500.7 L965.2,499.2 L966.6,498.1 L965.9,495.4 L965.9,492.2 L968.6,489.9 L972.1,488.7 L970.7,487.2 L967.4,488.1 L967.7,486.2 L967.4,485 L970.7,483.6 L973.6,482.2 L975,482.7 L972.3,485.2 L973.5,484.7 L977.3,483.9 L978.2,484.8 L976.3,487.1 L978,488.1 L977,490.6 L975.7,493 L978.3,492.7 L980.5,492.1 L982,489.4 L981.9,486.5 L981.4,484.8 L983.4,483.7 L985.8,482.4 L988.1,479.9 L990.7,478.9 L992.4,479.6 L995.9,478.1 L999.9,475.4 L1002.4,473 L1005.5,470.7 L1007.8,467.5 L1010.4,464.4 L1010.4,462.8 L1008.6,461.9 L1006.9,461.8 L1005.7,460.9 L1009.4,458.7 L1014.6,455.8 L1018.4,453.9 L1021.3,454.2 L1024.8,453.6 L1027.3,454.8 L1030.6,454.4 L1033.7,451.1 L1036.5,450.8 L1036.8,452.3 L1038.6,452 L1040.7,449.8 L1041.7,449.7 L1039.8,452.1 L1036.3,454.3 L1033.5,456.5 L1031,457.5 L1029.4,460.3 L1028.3,465 L1027.8,467.4 L1030.1,465 L1032.9,463.8 L1033.9,462.3 L1035.9,461.2 L1037.1,458.9 L1038.4,457.4 L1037.2,456.6 L1039.5,453.9 L1041.2,453.3 L1042.6,453.9 L1044.8,452.9 L1046.7,453.7 L1049,452.2 L1051.1,451 L1054,450 L1055.6,450.3 L1055.5,448.8 L1054.9,447.4 L1056,446.5 L1056.8,445.8 L1059,445.7 L1060.8,446.5 L1062.7,447.3 L1062.9,445.6 L1064.6,445.3 L1065,444.7 L1063,443.4 L1060.9,443.3 L1060.5,442.6 L1058,441.4 L1056.4,440.5 L1054.9,439.8 L1052.7,439.2 L1050.5,439.1 L1049,438.9 L1048.3,440.8 L1046.7,439.4 L1044.5,439.2 L1042.1,439.6 L1041.9,438 L1040.2,437.2 L1037.3,437.4 L1035.9,436.2 L1034,435.1 L1031.4,434.2 L1028.8,435.9 L1026.7,435.6 L1024.2,435.6 L1021.8,436.2 L1022.4,434.7 L1024.1,433.3 L1023.7,432.5 L1022.3,432.4 L1020.8,433 L1018.7,432.6 L1019.1,431.9 L1017.6,431.6 L1016.2,431.9 L1017.2,431 L1015.4,431.1 L1016.5,430.3 L1019.1,429.7 L1020.8,429.1 L1022,428.2 L1021.8,427.4 L1020,427.4 L1021.9,425.8 L1019.8,426.1 L1017.1,427 L1014.2,427.3 L1012.2,427.2 L1009.7,427.4 L1006.9,427.8 L1003.7,428.9 L1001.5,428.9 L999.4,429 L995.1,430.9 L994.7,430.2 L991,431 L994.6,429.2 L989.5,430.6 L987.1,431.9 L981.9,433.8 L980.1,434.2 L973.5,437 L972.4,436.7 L974.9,435.3 L977,433.7 L979.7,432.3 L983.2,431.1 L989,429.5 L992.8,428.4 L992.1,428.2 L984.4,430.4 L978.1,431.9 L977.3,431.3 L972.4,432.5 L970,432.3 L971.1,431.2 L966.2,431.8 L964.5,431.2 L965.7,430.4 L957.8,432.7 L956.8,432.3 L950.2,433.8 L947.7,434 L944.6,434.7 L945.9,433.5 L950.7,431.8 L953.7,431.7 L957.5,431.8 L961.2,430.3 L964.5,428.3 L964,427.5 L964.6,426.5 L969.4,424.8 L969.2,424.4 L966.7,424.3 L961.8,424.6 L955.7,425.2 L950.4,426 L943.2,427.2 L936.1,428.4 L929.7,429.3 L924.6,429.9 L919.3,431.2 L913,433.1 L907.9,435.1 L909.4,435.6 L913.9,434.9 L912.7,435.7 L905.1,438.7 L900.3,440.6 L900.6,441.2 L904.6,440.5 L909.9,438.7 L916.4,437 L920.8,435.9 L924.1,434.3 L930.2,432.4 L935.1,431.6 L940,430.8 L945.8,429.5 L946.5,429.9 L943.6,431 L938.8,431.8 L933.9,432.6 L927.9,434.5 L922.5,436.8 L924.9,436.9 L927.5,437.4 L926.1,438.6 L923.5,438.7 L920.6,438 L918.1,438.8 L916.7,439.7 L912.9,441.1 L913.4,440.1 L909.6,440.8 L904.8,442.8 L901.6,443.5 L899.3,443.8 L897.5,443.2 L895,443.4 L895.9,442.2 L893.6,442.4 L895,441.4 L903,438.6 L907.2,436.9 L904.1,437.4 L899.9,438.7 L898.2,439.5 L892,441.9 L889.6,442 L887.4,441.9 L881.5,443.7 L878.1,444.4 L874.2,445.5 L870.8,446.2 M1240.7,446.2 L1244.3,447.9 L1243.2,449.2 L1246,450.3 L1249.4,450.6 L1254.3,452.4 L1259.3,454.8 L1263,457.1 L1261.1,458 L1257.9,458.4 L1259,460.1 L1260.9,460.8 L1267.1,464.6 L1271.1,467.6 L1272.6,467.9 L1277.4,471.3 L1278.1,470.5 L1280.2,470.9 L1283.1,472.3 M1283,472.1 L1282,470.6 L1283.8,469.7 L1280.8,466.5 M841.1,461.3 L845.8,460.3 L849.3,458.3 L851.7,458 L852.1,459.1 L855.1,458.1 L858,457.4 L857.4,458.7 L854.4,460.6 L852.8,462.6 L851.6,464.5 L849.9,466.8 L849.9,467.3 L847,469.5 L844.3,471.1 L844.7,471.2 L848,469.8 L850.7,467.6 L852.6,466.8 L852.9,467.7 L853.6,466.8 L855.2,464.3 L856.5,461.9 L859.9,459 L863.2,457 L865.8,456.5 L864.8,457.6 L861.8,460 L860.3,462.3 L858.4,465 L854.7,467.4 L852.3,469.4 L850.5,471.5 L847.1,474.5 L846.8,475.7 L849.8,473.9 L852.2,471.9 L852.6,472.8 L854.9,470 L857.8,468.2 L860.3,467.9 L861.9,468.3 L859.7,470 L857.4,471.4 L856,473.1 L853.9,474.8 L852.8,476.5 L853.3,477.9 L855.1,477.3 L855.7,478.3 L859.8,477.7 L860.9,478.4 L858.9,479.9 L855.7,482.3 L852.1,485.1 L848.5,487.7 L845.8,488.4 L845.4,487.9 M865.2,467.6 L871.2,464.1 L874,462.4 L879.1,460.5 L882.2,459.3 L882.3,460.1 L881.3,461.8 L879.9,461.9 L878.5,463.5 L880.7,463.3 L883.2,463 L889,460.6 L891,460.1 L886.8,461.9 L883,463.9 L881.4,466.6 L878.3,470.5 L875.6,471.1 L873.5,470.7 L873.1,468.3 L871,468 L867.2,468.8 L865.3,468.4 L865.2,467.6 M891.3,466.4 L894.6,464.6 L898.4,463.1 L899.6,463.3 L902.1,463 L903.6,463.2 L901.6,464.6 L897.6,466 L894.9,467.5 L893.1,470.4 L889.8,473 L890,473.9 L887,475.4 L886.1,476.7 L882.5,480.4 L878.7,480.9 L878.2,479.6 L878.4,478.3 L880.2,476.6 L883.4,474.4 L884.8,474.4 L885.2,472.9 L886.3,470.9 L888.1,469.1 L891.3,466.4 M1237.5,446.9 L1237.1,445.6 M877.5,444 L883.9,441.7 L886.3,440 M1222.3,438.7 L1217.3,437.4 L1213.5,436.3 L1209,434.7 L1204.4,433.7 L1203.6,434.3 L1207.7,436 L1212.8,437.5 L1218.3,439.2 L1220,439 L1225,441 L1225.6,441.8 L1229.3,443 L1231.5,444.3 L1233.1,444.2 L1237.5,446.9 M1228.7,443.7 L1222.5,441.3 L1218.7,439.7 L1216.3,439.7 L1218.6,440.9 L1221.6,442.8 L1228,445.4 L1229.9,445.2 L1228.7,443.7 M1174.6,431.5 L1168.5,429.7 L1167.3,430 L1164.7,428.7 L1167,428.1 L1168.1,427.4 L1173.4,428.6 L1175.6,429.5 L1178.5,431.5 L1174.6,431.5 M887.3,535.4 L888.5,536.4 L889.5,539.8 L889,542 L886.7,542.7 L886.3,539.8 L887.3,535.4 M961.9,508.9 L962.5,509.4 L959.3,514.7 L958.4,513.2 L959.9,510.2 L961.9,508.9 M940.9,517.6 L942,518.3 L940.4,520.7 L938.7,521 L937.7,520 L938.8,518.1 L940.9,517.6 M979,498.5 L980.4,498.9 L982.2,496 L984.1,495.2 L984.5,496.1 L987.2,494.8 L987.8,495.3 L989,495.4 L991.3,493.7 L993.8,493.4 L995.9,493 L997.8,491.8 L998.7,489.7 L999.6,487.5 L1001.4,486 L1002.1,484.7 L1001.9,482.5 L1000.1,483.3 L999,484.9 L997.4,487.6 L995.4,488.9 L992.9,489.8 L991.7,490.8 L989.8,491.9 L986.1,492 L983.3,493.4 L982.1,493.7 L979.8,495.2 L979,498.5 M1000.3,482.1 L1002.1,481.7 L1005.2,481.4 L1009,479.4 L1008.1,478.2 L1005.7,475.8 L1003.8,478.1 L1001.9,479.2 L1000.3,482.1 M1006.1,474.8 L1008.5,474.1 L1009.7,470 L1011.9,469.3 L1012.2,465.3 L1013.7,461.6 L1012.1,462.9 L1010.2,466.8 L1007.5,471.6 L1006.1,474.8 M956.9,520.9 L959.5,520.9 L958.6,523.6 L957.1,526.3 L957.5,529 L960.6,530 L960.3,531.7 L958.8,530.8 L956.5,529.9 L955.2,528.4 L955.2,525.4 L956.9,520.9 M955.7,541.6 L958.4,540.2 L961.2,538.1 L963.6,539 L963.1,542.6 L961.5,543.8 L959,542.6 L955.7,541.6 M958.2,534.4 L961.6,534.5 L962.9,531.8 L961.2,531.8 L958.2,534.4 M933.1,551.5 L934.8,555.2 L935.7,559.4 L938.3,560.4 L942.6,561.2 L945.1,561.1 L945.8,557 L947.5,553.4 L948.3,552.7 L948,550.7 L949.4,546.1 L950.4,544.7 L947.6,541.5 L945.8,543 L944,545.3 L941.8,546.6 L940,548.6 L937.1,549.7 L934.8,551 L933.1,551.5 M910.8,544 L914.4,544.6 L918.6,550.2 L920.6,551.3 L923.1,553.4 L925.6,557.1 L928.2,560.2 L928.2,565 L926.1,565.2 L921.6,561.7 L918.6,556.2 L916.4,552.4 L914.9,549.6 L912.5,547.4 L910.8,544 M927.4,566.9 L929.4,565.4 L932.9,566.1 L936.3,567 L939.6,566.9 L943.2,568.4 L943.4,570.2 L939.1,569.5 L934,568.7 L929.7,567.8 L927.4,566.9 M951.2,564.3 L952.9,564.3 L952.5,559.7 L953.5,558.8 L956.3,563 L957.4,562.4 L954.3,557.7 L956.8,555.9 L953.8,555.2 L951.7,553.4 L952.6,552.5 L959.4,552.5 L960.3,551.6 L958.6,553.4 L952.6,553.8 L951.2,556.1 L950.5,560.7 L951.2,564.3 M959.5,571.1 L961.1,569.6 L964.5,569.6 L961.3,571.4 L959.7,572.7 L959.5,571.1 M945,569.8 L946.7,569.4 L950.9,569.6 L954.3,569.3 L957.3,569.3 L954.4,570.4 L949.3,570.5 L946,570.7 L945,569.8 M964.6,551.6 L965.5,550.3 L966.6,552.1 L965.4,553.4 L966.3,555.7 L965.1,555.2 L964.6,551.6 M970.6,556.1 L973.2,555.2 L976.1,556.1 L977.6,560.2 L981.8,557 L988,558.9 L995,562.3 L996.8,564.1 L999.5,564.9 L999.1,567.6 L1001.5,570.2 L1004.2,572.3 L1003.4,572.9 L999,572 L995.3,568.5 L992.9,570.3 L991.2,570.8 L988.6,570.5 L985,568.7 L983.3,569.3 L982.4,563.6 L977.7,562.2 L974.2,561.5 L972.4,559.3 L970.6,556.1 M1003.8,564 L1007.2,561.7 L1008.1,562.8 L1006.4,564.9 L1003.8,565.3 L1001.2,564.2 L1003.8,564 M1012.5,564.9 L1014.3,566.3 L1016.2,568.4 L1019.7,569.3 L1022.4,571 L1024.2,572.8 L1020.7,571.9 L1017.1,569.3 L1012.5,564.9 M947.3,594.3 L950.7,601.4 L955.2,608.4 L958.7,615.3 L963.2,616.9 L966,615 L971,614.6 L973.5,611.7 L977.5,610.3 L981.3,610 L985.9,612.1 L989.4,615.5 L991.3,612.3 L993.4,617.1 L995.9,617 L998.7,620.6 L1003.5,621.8 L1007.2,622.1 L1009.4,620 L1012.2,619.4 L1012.1,616.1 L1012.7,612.7 L1014.1,608.4 L1014,603.3 L1012.4,599 L1008.6,595.6 L1005.8,593.5 L1003.7,590.4 L999.6,587.8 L997.6,583.5 L996.9,580.5 L993.7,579.1 L991.4,573.3 L990.5,576.9 L990.5,580.9 L989.5,585.3 L986.8,584.5 L984,582.8 L981.2,581 L981.9,576.2 L978.9,576.1 L974.4,574.9 L972.1,576.2 L970.2,580.8 L967.8,581.2 L964.1,579.5 L962.3,583.1 L959.4,585 L958.6,588.6 L955,590.5 L951.3,591.8 L948.8,593.9 L947.3,594.3 M1006.8,625.1 L1009.1,625.5 L1011.5,625.1 L1012.2,628.6 L1011.1,629.5 L1008.8,628.7 L1006.8,625.1 M1045.3,614 L1048.1,616.5 L1049.7,619 L1054.2,619.3 L1052.8,621.4 L1051.8,623.1 L1049.3,625.6 L1048.9,625.1 L1049.2,622.9 L1047.7,622.3 L1048.6,619.8 L1045.8,615.3 L1045.3,614 M1046,623.9 L1048.2,625.2 L1047.4,628 L1046.4,629.3 L1044.4,630.5 L1043.8,632.9 L1041.9,633.9 L1038.4,633 L1038.9,631.4 L1040.7,629.7 L1043.2,628.1 L1045.1,625.6 L1046,623.9 M1032.9,590.1 L1034.7,591.9 L1035.6,593.2 L1033.9,592.7 L1031.3,591 L1029.5,589.6 L1032.9,590.1 M1052.1,584.9 L1053.8,585.4 L1053,586.3 L1051.8,585.8 L1052.1,584.9 M1066.8,445.3 L1069,446.9 L1073.4,446.8 L1074.2,449 L1070.9,449.1 L1070.1,451.4 L1071.5,453.2 L1074.8,453.8 L1075.9,455.7 L1080.4,455.1 L1080.1,457.3 L1077.6,459.7 L1074.2,461.9 L1076.9,461.2 L1079.9,459.9 L1082.6,458 L1083.8,455.6 L1083.9,453.6 L1085.9,454.4 L1086.4,452.4 L1088.8,453.1 L1090.1,451.8 L1092.8,452.9 L1096,453.1 L1099.3,454.2 L1101.5,455.1 L1103.8,456.8 L1107.2,458.5 L1110.4,460.8 L1112.7,460.6 L1114.4,462.2 L1117.2,463.6 L1120,465.9 L1123.5,467.4 L1126.5,468.9 L1128.6,470.1 L1126.8,470.2 L1129.8,473.8 L1132.4,477.9 L1133.5,480.4 L1135.4,482.9 L1137.9,486.2 L1140.2,487.8 L1142.1,489.5 L1145.5,492.6 L1149,493.5 L1151.7,495.2 L1155.7,499.4 L1159.2,502.9 L1162.9,504.5 L1168.5,510.6 L1171.1,512 L1169.1,510.2 L1166.3,507.1 L1162.2,503.1 L1158.2,499.9 L1156.5,497.4 L1159.6,498 L1162.9,501.8 L1166.4,504.4 L1168.7,506.1 L1172,508.3 L1176.7,512.1 L1178.8,514.8 L1179.1,517 L1181.6,519.3 L1186.3,521.3 L1190,522.9 L1194.6,524.6 L1198.4,523.9 L1201.9,525.1 L1205.9,527.9 L1210.3,529.2 L1212,529.6 L1215,532 L1215.8,533.3 L1216.5,535.2 L1219.3,537 L1222,538.5 L1224.6,539.8 L1226.2,540.2 L1226.5,537.3 L1229.1,538.2 L1229.9,537.4 L1227,535.9 L1224.8,536.9 L1223.3,537.3 L1220.5,535.1 L1218.9,532.8 L1218.6,530.3 L1217.5,525.6 L1215.1,524.1 L1212.7,523.8 L1209.7,524.3 L1208.4,523 L1207.9,520.2 L1207.9,517.4 L1207.1,513.6 L1204.9,513.9 L1202.5,514.8 L1203.3,517.6 L1202.4,519.5 L1198.7,520.2 L1196,519.2 L1193.7,517.4 L1191,514.3 L1188.6,509.8 L1186.7,504.3 L1187.2,501.5 L1189,499.4 L1191.9,499.2 L1195.2,499.7 L1194.8,497.9 L1197.5,497.5 L1200.7,497.9 L1202.9,497.7 L1206.3,500.3 L1208.5,503.1 L1212,505.7 L1213.5,506 L1212.3,503.2 L1209.5,500.1 L1206.3,496.9 L1204.8,494.2 L1205.2,491.8 L1205.7,488.9 L1206.5,486.9 L1203.8,484.2 L1202.8,482.4 L1201.4,479.6 L1200.3,477.8 L1201.7,476.7 L1202.4,475.4 L1200.6,473.8 L1199,472.7 L1199.3,471 L1199.9,469.4 L1201.5,468.1 L1202.7,470.6 L1203.8,469.4 L1204.2,467.3 L1202.4,465.5 L1198.8,466.1 L1193.7,462.8 L1190.5,461.9 L1190.8,465.3 L1189.6,463.5 L1189.8,461.9 L1189.6,460.1 L1194.4,459.2 L1193.3,456.7 L1192,454.8 L1189.2,453.2 L1184.3,452.1 L1180.2,450.8 L1176.2,449.6 L1173,448.2 L1167.1,446.3 L1163,444.5 L1166,446.5 L1166.3,447.9 L1163.8,447.3 L1158.3,445 L1157,444.1 L1154,443.9 L1150.3,443 L1147.1,443.2 L1151.2,445.7 L1156.3,448.3 L1160.9,450.4 L1164.4,452.7 L1164.7,454.6 L1170,458.6 L1169.6,459.6 L1166.1,458.4 L1159.1,455 L1154.7,454.3 L1150,453 L1146.6,452.5 L1141.6,450.5 L1137.2,447.5 L1136.2,445.5 L1134.7,443.4 L1134.9,442.1 L1133.9,441.2 L1131.7,439.4 L1128.5,437.7 L1123.4,436 L1122.5,436.4 L1118.1,434.8 L1117.7,435.4 L1118.6,437 L1114.8,435.8 L1116.9,438.5 L1114.4,438.4 L1111,437.9 L1110.9,438.9 L1107,438.5 L1104.9,438.1 L1101.6,436.9 L1099.6,437.7 L1097.5,437.9 L1095.3,437.3 L1093.2,437.5 L1092.2,438.3 L1090.4,438.5 L1089.8,439.4 L1087.6,439.1 L1085.2,438.5 L1082.9,438.1 L1080.3,438.1 L1077.9,437.7 L1076.2,437.4 L1072.7,436.8 L1071.3,437.6 L1069.5,438.5 L1068.8,439.5 L1067.2,440.4 L1069.1,441.7 L1070,443 L1071.9,443.8 L1069.4,443.9 L1068.3,444.5 L1066.8,445.3 M1099.7,422.5 L1093.8,420.1 L1089.7,418.1 L1090.1,416.7 L1087.2,415 L1095.1,415.2 L1104.8,416.1 L1118.7,418.2 L1127.7,419.9 L1138.5,422.4 L1147.3,424.3 L1152.8,426.4 L1154.8,428.6 L1161.8,432.2 L1162.6,433.8 L1170.6,437.5 L1178.1,441.3 L1172.2,440.6 L1164.2,438.2 L1158.2,436.5 L1150.4,434.1 L1143.1,431.7 L1138.6,429.6 L1132,428.2 L1126.6,426.9 L1118.4,425 L1112.3,424.2 L1109.5,424.6 L1105.7,424 L1099.7,422.5 M1145.7,435.4 L1149.7,437.7 L1156.1,441.4 L1153.1,441.4 L1147.5,440.2 L1141.8,438.4 L1137.9,436.3 L1132.5,435.4 L1125.6,433 L1122.2,432.8 L1117.1,431.9 L1111.3,430.7 L1111.3,429.4 L1117.7,429.9 L1123.3,430.6 L1128.3,431.4 L1132.9,432.4 L1138,434.2 L1143.8,434.9 L1145.7,435.4 M1113.4,436.9 L1110.8,437.2 L1108.3,437.7 L1104.2,437.4 L1101,436.8 L1101.3,435.1 L1095.9,433.4 L1098.2,432.6 L1100.5,432.3 L1102.7,432 L1108.1,434.3 L1113.4,436.9 M1106,424.9 L1105.1,425.7 L1100.5,426.1 L1095.7,424.4 L1090.1,422 L1083.9,418.9 L1084.9,417.6 L1089.4,418.3 L1095.2,420.8 L1097.4,422.2 L1106,424.9 M1096.6,434.9 L1092.9,434.8 L1088.7,431.8 L1091.2,431.1 L1095,431.9 L1096.6,434.9 M1110.5,427.7 L1106.9,428.5 L1100.8,427 L1101,426 L1104.4,425.7 L1110.5,427.7 M1106.6,431.1 L1105,431.4 L1098.1,428.3 L1100.4,427.9 L1105.4,429.6 L1106.6,431.1 M1095,427.9 L1092.8,429 L1088.7,428.3 L1088.4,426 L1091.2,426 L1095,427.9 M1209.9,512.9 L1210.5,511 L1213.1,510.1 L1216.2,510.1 L1221.1,512.3 L1224.8,513.6 L1227.4,514.9 L1225.8,515.7 L1222.8,515.9 L1219.8,512.8 L1215.7,512.2 L1213.8,513.1 L1210.8,513.2 L1209.9,512.9 M1228.6,518.5 L1230.3,515.5 L1234.1,515.7 L1237.3,517.7 L1235.5,518.6 L1233.7,519.8 L1231,518.8 L1228.6,518.5 M1222.9,519 L1226,519 L1225.5,519.7 L1222.9,519 M1239.3,517.8 L1241.9,518 L1239.8,518.7 L1239.3,517.8 M1229.9,537.4 L1231.8,536 L1232.1,533.8 L1234,532.2 L1236.7,530.7 L1238,532.7 L1237.8,533.7 L1239.5,535.4 L1238.1,532.9 L1239.8,530.4 L1242.9,533.3 L1246.7,533.2 L1249.7,533.1 L1252.7,532.8 L1255,536.1 L1257.7,537.7 L1261.4,541.7 L1265.3,542 L1269.3,544 L1271.8,546 L1273.6,550.6 L1273.7,554.3 L1275.9,556.4 L1281,557.5 L1283.8,559.6 L1288.1,560.3 L1290.1,562.3 L1292.6,565.1 L1294.4,567.3 L1293,573.8 L1288.9,578 L1285.3,582.1 L1280.9,590.5 L1276.1,596.6 L1272.2,600.6 L1268.2,602.3 L1264.5,603.7 L1259.5,605.7 L1256,608.6 L1252.8,612.5 L1247.6,616.1 L1241.6,619.6 L1237.1,622.2 L1233.4,623.8 L1230.1,624.4 L1227.2,627.1 L1224,629.2 L1220.7,630 L1217.4,629.9 L1214.1,632.5 L1210,633 L1207.5,635.7 L1201.1,639.8 L1195.6,642 L1193.8,644.8 L1185.4,648.5 L1181.4,650.8 L1179.4,652.5 L1176.1,655.9 L1171.7,656.1 L1173.6,653.5 L1175.4,650.8 L1179.5,646.6 L1186.5,641.7 L1193.7,636.8 L1199,632.6 L1205.3,626.5 L1208.4,623.9 L1215.9,617.7 L1220.2,612.2 L1224.8,606.7 L1229.1,601.1 L1232.9,595.4 L1234.8,590.6 L1234,588.2 L1230.3,583.5 L1229.2,579.6 L1228.5,576.6 L1227.4,570.8 L1225,565.9 L1225,563 L1227.1,560.1 L1226.5,556.2 L1227.3,552.4 L1228.9,550.8 L1231.1,547.5 L1230.4,541.7 L1229.3,539.7 L1229.9,537.4 M1190.1,651.3 L1193.7,651.4 L1191.7,652.7 L1189.2,652.6 L1190.1,651.3 M1056.4,681.3 L1061.1,680.9 L1065.1,682.4 L1071.5,679.9 L1078.4,678.2 L1085.4,677.2 L1091.8,677.1 L1096.1,678.4 L1103.7,677.9 L1110.2,678.1 L1113.6,679.7 L1123.9,677.1 L1130.7,676.7 L1146.5,672.3 L1158.2,669.9 L1154.7,670.1 L1147.1,672.4 L1136.1,676 L1123.2,681.1 L1116.7,683.5 L1110.1,687.2 L1110.4,688.7 L1121.2,688.1 L1134.5,687.4 L1147.9,686.9 M958.6,687.9 L960.4,686 L962.8,684.1 L963.8,681.8 L963.5,679 L962.6,675.6 L967.9,674 L976.8,673.9 L984.3,675.2 L981.3,672 L985.2,669.5 L991.1,667.7 L998.6,666.8 L1008.1,667.4 L1015.1,666.1 L1023.5,666 L1033.1,668 L1041.7,669.9 L1045.8,671.2 L1049.7,672.6 L1049.5,676.8 L1049.3,681 L1051.7,680.9 L1056.4,681.3 M1167.9,469.6 L1170.4,469.5 L1171.1,467.8 L1175.8,468.6 L1176.9,469 L1173.9,466.9 L1170.3,466 L1169,467.1 L1167.9,469.6 M1180.8,477 L1182.3,477.4 L1182.5,476.5 L1179,473.5 L1177,470.3 L1175.3,470.5 L1176.4,472.8 L1180.8,477 M1177.8,469.8 L1181.4,470.8 L1183.3,470.2 L1185.8,471.8 L1186.8,474.5 L1185.6,474.6 L1182.6,473.1 L1177.8,469.8 M1186.6,477 L1188.3,475.3 L1190.1,474.5 L1190.6,475 L1189.4,477.1 L1186.6,477 M1188.2,473.8 L1191.7,473 L1190.4,471.8 L1187.9,473.1 L1188.2,473.8 M980,427.9 L989,426.2 L996.9,424.2 L1002.3,423.7 L1005.4,423.9 L1004.7,424.4 L996.4,425.2 L985.3,427.3 L977.8,428.9 L980,427.9 M1000.2,416.3 L992.7,418 L996.9,418.3 L1006.8,417.4 L1010.6,416 L1006.5,415.6 L1000.2,416.3 M1022.2,423.7 L1022.3,424.5 L1024.1,424.8 L1027.4,422.9 L1028.4,421.4 L1024.2,422.3 L1022.2,423.7 M1030.6,432.4 L1032.3,433.2 L1037,431.3 L1036.1,429.8 L1032,431 L1030.6,432.4 M1055,437.5 L1057.8,436.8 L1058.5,437.5 L1056.4,437.8 L1055,437.5" fill="none" stroke="#111" stroke-width="1.1" stroke-linejoin="round"/>
<path d="M981.0,498.5 L1096.6,568.8 M981.0,498.5 L1292.5,581.8 M981.0,498.5 L1160.3,522.5 M981.0,498.5 L1067.2,639.8 M981.0,498.5 L1233.7,512.5 M981.0,498.5 L1190.5,590.5 M981.0,498.5 L1274.8,517.7 M981.0,498.5 L1114.6,501.8 M981.0,498.5 L1189.2,626.7 M981.0,498.5 L1228.3,493.7 M981.0,498.5 L1130.5,483.0 M981.0,498.5 L1073.4,553.8 M981.0,498.5 L1071.4,516.0 M981.0,498.5 L1095.6,541.8 M981.0,498.5 L1261.0,510.0 M981.0,498.5 L1195.5,538.0 M981.0,498.5 L1108.7,520.7 M981.0,498.5 L1240.3,613.3 M981.0,498.5 L1227.8,621.1 M981.0,498.5 L1226.7,520.8 M981.0,498.5 L1093.1,566.3 M981.0,498.5 L1194.5,603.4 M981.0,498.5 L1274.7,605.6 M981.0,498.5 L1293.5,584.6 M981.0,498.5 L1214.3,605.9 M981.0,498.5 L1164.2,605.7 M981.0,498.5 L1266.3,557.1 M981.0,498.5 L1122.6,534.8 M981.0,498.5 L1195.4,566.2 M981.0,498.5 L1163.7,536.2 M981.0,498.5 L1229.3,586.4 M981.0,498.5 L1282.9,633.6 M981.0,498.5 L1033.7,538.1 M981.0,498.5 L1230.6,561.1 M981.0,498.5 L1196.8,513.7 M981.0,498.5 L1134.1,616.4 M981.0,498.5 L1211.0,619.3 M981.0,498.5 L1277.9,626.5 M981.0,498.5 L1263.6,625.7 M981.0,498.5 L1272.3,628.1 M981.0,498.5 L1141.7,539.3 M981.0,498.5 L1150.4,600.3 M981.0,498.5 L1294.1,584.2 M981.0,498.5 L1145.8,483.9 M981.0,498.5 L1065.6,481.3 M981.0,498.5 L1070.4,470.1 M981.0,498.5 L1137.7,521.8 M981.0,498.5 L1286.3,496.2 M981.0,498.5 L1055.0,622.8 M981.0,498.5 L1278.9,557.1 M981.0,498.5 L1175.5,527.4 M981.0,498.5 L1137.2,518.0 M981.0,498.5 L1057.5,636.0 M981.0,498.5 L1264.2,616.7 M981.0,498.5 L1070.0,578.3 M981.0,498.5 L1046.4,591.6 M981.0,498.5 L1048.9,573.5 M981.0,498.5 L1072.9,636.4 M981.0,498.5 L1276.4,542.3 M981.0,498.5 L1278.3,602.9" stroke="#000" stroke-opacity="0.12" stroke-width="0.5" fill="none"/><path d="M981.0,498.5 L1009.5,666.1 M981.0,498.5 L1086.6,563.2 M981.0,498.5 L1063.6,571.9 M981.0,498.5 L992.9,598.0 M981.0,498.5 L1004.9,658.8 M981.0,498.5 L1067.1,560.8 M981.0,498.5 L1034.4,531.1 M981.0,498.5 L1029.3,622.2 M981.0,498.5 L1081.3,685.0 M981.0,498.5 L1058.4,595.5 M981.0,498.5 L1086.4,619.1 M981.0,498.5 L1079.3,580.4 M981.0,498.5 L1087.8,553.1 M981.0,498.5 L1033.5,558.8 M981.0,498.5 L1031.4,624.9 M981.0,498.5 L1092.8,526.7 M981.0,498.5 L1054.1,557.1 M981.0,498.5 L1080.3,646.2 M981.0,498.5 L1096.5,684.0 M981.0,498.5 L1061.3,564.1 M981.0,498.5 L1069.0,597.5 M981.0,498.5 L1019.2,538.4 M981.0,498.5 L1088.3,594.1 M981.0,498.5 L1005.4,557.5 M981.0,498.5 L1004.9,529.5 M981.0,498.5 L1072.2,599.6 M981.0,498.5 L1023.1,575.6 M981.0,498.5 L1020.2,606.8 M981.0,498.5 L1052.4,532.0 M981.0,498.5 L1035.8,669.4" stroke="#000" stroke-opacity="0.12" stroke-width="0.5" fill="none"/><path d="M981.0,498.5 L914.1,607.2 M981.0,498.5 L863.9,574.9 M981.0,498.5 L823.6,571.5 M981.0,498.5 L818.9,525.9 M981.0,498.5 L819.2,688.3 M981.0,498.5 L953.2,527.4 M981.0,498.5 L856.5,539.5 M981.0,498.5 L856.0,623.3 M981.0,498.5 L838.5,595.7 M981.0,498.5 L828.2,607.4 M981.0,498.5 L823.9,574.4 M981.0,498.5 L866.2,566.8 M981.0,498.5 L878.4,652.5 M981.0,498.5 L869.5,664.2 M981.0,498.5 L827.0,640.8 M981.0,498.5 L932.6,681.8 M981.0,498.5 L910.4,573.4 M981.0,498.5 L910.5,627.1 M981.0,498.5 L863.9,622.1 M981.0,498.5 L807.3,521.5 M981.0,498.5 L829.3,676.1 M981.0,498.5 L803.3,563.6 M981.0,498.5 L922.5,669.8 M981.0,498.5 L866.6,606.2 M981.0,498.5 L945.2,568.9 M981.0,498.5 L816.8,566.9 M981.0,498.5 L915.8,575.8 M981.0,498.5 L892.0,532.6 M981.0,498.5 L932.3,683.4 M981.0,498.5 L944.0,546.5" stroke="#000" stroke-opacity="0.08" stroke-width="0.5" fill="none"/><path d="M981.0,498.5 L1321.3,509.9 M981.0,498.5 L1151.8,467.7 M981.0,498.5 L1136.6,463.2 M981.0,498.5 L1276.2,438.4 M981.0,498.5 L1251.6,501.4 M981.0,498.5 L1112.4,444.5 M981.0,498.5 L1279.9,503.6 M981.0,498.5 L1166.0,509.7 M981.0,498.5 L1248.1,431.1 M981.0,498.5 L1268.3,446.1 M981.0,498.5 L1177.5,503.6 M981.0,498.5 L1103.4,504.8 M981.0,498.5 L1181.9,484.5 M981.0,498.5 L1167.3,481.9 M981.0,498.5 L1152.0,482.8 M981.0,498.5 L1201.6,485.2 M981.0,498.5 L1100.3,496.0 M981.0,498.5 L1151.8,503.9 M981.0,498.5 L1209.5,490.2 M981.0,498.5 L1199.7,441.3 M981.0,498.5 L1324.9,494.8 M981.0,498.5 L1323.7,490.5 M981.0,498.5 L1195.5,465.6 M981.0,498.5 L1281.7,505.2 M981.0,498.5 L1278.9,449.1" stroke="#000" stroke-opacity="0.1" stroke-width="0.5" fill="none"/>
<circle cx="981.0" cy="498.5" r="6.6" fill="#b3200d" stroke="#000" stroke-width="1.3"/>
</g>
<ellipse cx="1056.4" cy="554.3" rx="286.0" ry="142.2" fill="none" stroke="#000" stroke-width="1.6"/>
<path d="M634.2,61.0 L641.7,48.1 L649.2,61.0 Z" fill="#1e503c"/>
<path d="M634.2,314.5 L641.7,327.4 L649.2,314.5 Z" fill="#faf4f9"/>
<rect x="634.2" y="61.0" width="15.0" height="253.5" fill="url(#cbg)"/>
<path d="M634.2,61.0 L641.7,48.1 L649.2,61.0 L649.2,314.5 L641.7,327.4 L634.2,314.5 Z" fill="none" stroke="#111" stroke-width="1.5" stroke-linejoin="miter"/>
<line x1="649.2" y1="72.5" x2="654.2" y2="72.5" stroke="#000" stroke-width="1.3"/>
<line x1="649.2" y1="136.0" x2="654.2" y2="136.0" stroke="#000" stroke-width="1.3"/>
<line x1="649.2" y1="305.5" x2="654.2" y2="305.5" stroke="#000" stroke-width="1.3"/>
<path d="M1377.4,61.3 L1384.9,48.3 L1392.4,61.3 Z" fill="#1e503c"/>
<path d="M1377.4,314.5 L1384.9,327.3 L1392.4,314.5 Z" fill="#faf4f9"/>
<rect x="1377.4" y="61.3" width="15.0" height="253.2" fill="url(#cbg)"/>
<path d="M1377.4,61.3 L1384.9,48.3 L1392.4,61.3 L1392.4,314.5 L1384.9,327.3 L1377.4,314.5 Z" fill="none" stroke="#111" stroke-width="1.5" stroke-linejoin="miter"/>
<line x1="1392.4" y1="79.9" x2="1397.4" y2="79.9" stroke="#000" stroke-width="1.3"/>
<line x1="1392.4" y1="149.5" x2="1397.4" y2="149.5" stroke="#000" stroke-width="1.3"/>
<line x1="1392.4" y1="310.0" x2="1397.4" y2="310.0" stroke="#000" stroke-width="1.3"/>
<path d="M634.4,428.2 L641.9,414.6 L649.4,428.2 Z" fill="#1e503c"/>
<path d="M634.4,680.7 L641.9,694.0 L649.4,680.7 Z" fill="#faf4f9"/>
<rect x="634.4" y="428.2" width="15.0" height="252.50000000000006" fill="url(#cbg)"/>
<path d="M634.4,428.2 L641.9,414.6 L649.4,428.2 L649.4,680.7 L641.9,694.0 L634.4,680.7 Z" fill="none" stroke="#111" stroke-width="1.5" stroke-linejoin="miter"/>
<line x1="649.4" y1="454.7" x2="654.4" y2="454.7" stroke="#000" stroke-width="1.3"/>
<line x1="649.4" y1="515.8" x2="654.4" y2="515.8" stroke="#000" stroke-width="1.3"/>
<line x1="649.4" y1="670.9" x2="654.4" y2="670.9" stroke="#000" stroke-width="1.3"/>
<path d="M1377.6,428.0 L1385.1,414.6 L1392.6,428.0 Z" fill="#1e503c"/>
<path d="M1377.6,680.6 L1385.1,693.9 L1392.6,680.6 Z" fill="#faf4f9"/>
<rect x="1377.6" y="428.0" width="15.0" height="252.60000000000002" fill="url(#cbg)"/>
<path d="M1377.6,428.0 L1385.1,414.6 L1392.6,428.0 L1392.6,680.6 L1385.1,693.9 L1377.6,680.6 Z" fill="none" stroke="#111" stroke-width="1.5" stroke-linejoin="miter"/>
<line x1="1392.6" y1="449.5" x2="1397.6" y2="449.5" stroke="#000" stroke-width="1.3"/>
<line x1="1392.6" y1="511.7" x2="1397.6" y2="511.7" stroke="#000" stroke-width="1.3"/>
<line x1="1392.6" y1="676.8" x2="1397.6" y2="676.8" stroke="#000" stroke-width="1.3"/>
<text x="14.68" y="31.61" font-size="40.16" textLength="19.30" lengthAdjust="spacingAndGlyphs" font-weight="bold">a</text>
<text x="750.20" y="32.30" font-size="40.99" textLength="24.12" lengthAdjust="spacingAndGlyphs" font-weight="bold">b</text>
<text x="16.48" y="387.01" font-size="40.16" textLength="18.81" lengthAdjust="spacingAndGlyphs" font-weight="bold">c</text>
<text x="750.04" y="386.99" font-size="42.21" textLength="24.73" lengthAdjust="spacingAndGlyphs" font-weight="bold">d</text>
<text x="278.36" y="35.60" font-size="37.79" textLength="71.25" lengthAdjust="spacingAndGlyphs">EAR</text>
<text x="1038.18" y="35.70" font-size="37.79" textLength="36.82" lengthAdjust="spacingAndGlyphs">HI</text>
<text x="279.46" y="402.14" font-size="36.86" textLength="67.91" lengthAdjust="spacingAndGlyphs">SEA</text>
<text x="1038.90" y="402.04" font-size="37.29" textLength="35.36" lengthAdjust="spacingAndGlyphs">CI</text>
<text x="48.54" y="82.24" font-size="26.84" textLength="64.31" lengthAdjust="spacingAndGlyphs">45°N</text>
<text x="1.80" y="194.74" font-size="26.13" textLength="26.89" lengthAdjust="spacingAndGlyphs">0°</text>
<text x="51.46" y="308.13" font-size="27.26" textLength="61.13" lengthAdjust="spacingAndGlyphs">45°S</text>
<text x="791.44" y="82.44" font-size="26.84" textLength="64.31" lengthAdjust="spacingAndGlyphs">45°N</text>
<text x="744.70" y="194.94" font-size="26.13" textLength="26.89" lengthAdjust="spacingAndGlyphs">0°</text>
<text x="794.36" y="308.33" font-size="27.26" textLength="61.13" lengthAdjust="spacingAndGlyphs">45°S</text>
<text x="48.54" y="448.94" font-size="26.84" textLength="64.31" lengthAdjust="spacingAndGlyphs">45°N</text>
<text x="1.80" y="561.44" font-size="26.13" textLength="26.89" lengthAdjust="spacingAndGlyphs">0°</text>
<text x="51.46" y="674.83" font-size="27.26" textLength="61.13" lengthAdjust="spacingAndGlyphs">45°S</text>
<text x="791.44" y="448.94" font-size="26.84" textLength="64.31" lengthAdjust="spacingAndGlyphs">45°N</text>
<text x="744.70" y="561.44" font-size="26.13" textLength="26.89" lengthAdjust="spacingAndGlyphs">0°</text>
<text x="794.36" y="674.83" font-size="27.26" textLength="61.13" lengthAdjust="spacingAndGlyphs">45°S</text>
<text x="660.52" y="83.50" font-size="30.23" textLength="45.32" lengthAdjust="spacingAndGlyphs">1.6</text>
<text x="660.55" y="147.30" font-size="31.11" textLength="44.80" lengthAdjust="spacingAndGlyphs">1.4</text>
<text x="660.73" y="316.50" font-size="30.23" textLength="45.21" lengthAdjust="spacingAndGlyphs">0.9</text>
<text x="1403.72" y="90.90" font-size="30.67" textLength="45.25" lengthAdjust="spacingAndGlyphs">1.5</text>
<text x="1403.72" y="160.50" font-size="30.23" textLength="45.32" lengthAdjust="spacingAndGlyphs">1.3</text>
<text x="1403.93" y="321.00" font-size="30.23" textLength="45.31" lengthAdjust="spacingAndGlyphs">0.7</text>
<text x="660.72" y="465.70" font-size="30.67" textLength="45.25" lengthAdjust="spacingAndGlyphs">1.5</text>
<text x="660.72" y="526.80" font-size="30.23" textLength="45.32" lengthAdjust="spacingAndGlyphs">1.3</text>
<text x="660.93" y="681.90" font-size="30.23" textLength="45.08" lengthAdjust="spacingAndGlyphs">0.8</text>
<text x="1403.90" y="460.80" font-size="31.11" textLength="45.54" lengthAdjust="spacingAndGlyphs">1.7</text>
<text x="1403.92" y="522.70" font-size="30.67" textLength="45.25" lengthAdjust="spacingAndGlyphs">1.5</text>
<text x="1403.93" y="687.80" font-size="30.23" textLength="45.14" lengthAdjust="spacingAndGlyphs">1.0</text>
</svg></body></html>
